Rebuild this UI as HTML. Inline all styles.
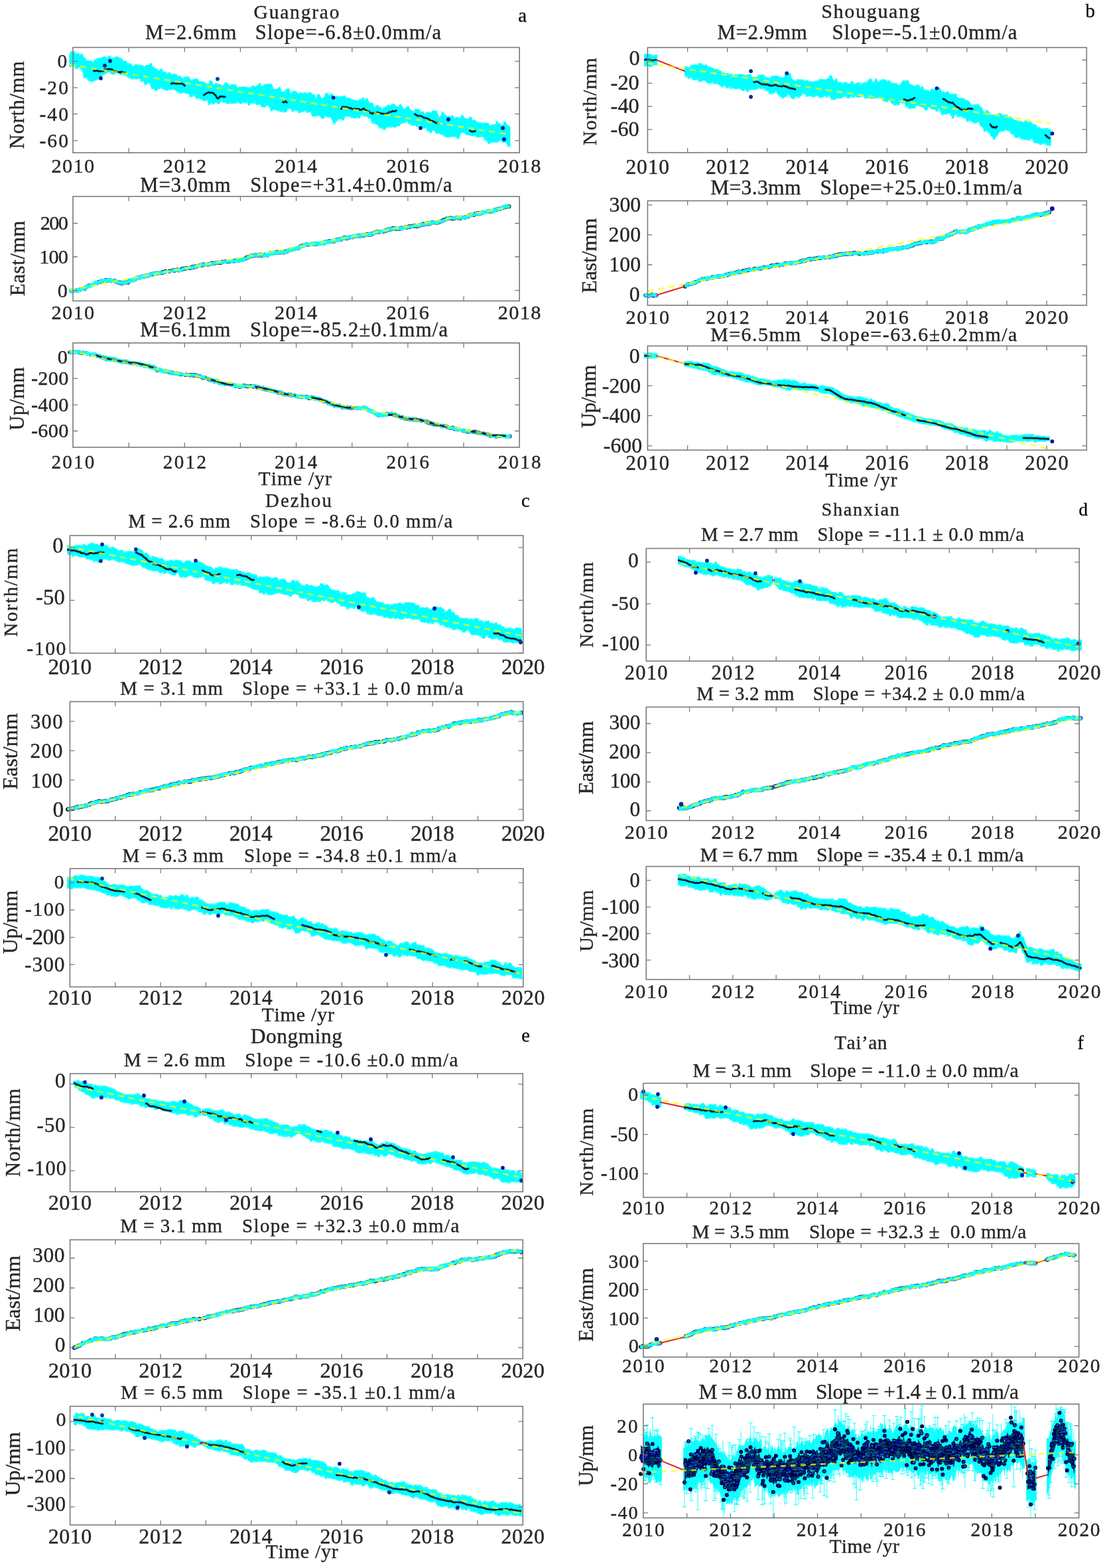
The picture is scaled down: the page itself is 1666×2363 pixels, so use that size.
<!DOCTYPE html><html><head><meta charset="utf-8"><title>GPS time series</title><style>html,body{margin:0;padding:0;background:#fff;width:1666px;height:2363px;overflow:hidden}</style></head><body><svg xmlns="http://www.w3.org/2000/svg" width="1666" height="2363" viewBox="0 0 1666 2363" style="display:block;font-family:'Liberation Serif',serif;font-kerning:none"><path d="M104.4 81.5l2-2.8 2-.9 2 0 2 .2 2 2.9 2-.7 2 0 2 2.5 2-1.4 2 0 2 5.1 2 0 2 4.4 2 .1 2 0 2 .9 2 0 2 2.3 2-4.3 2 0 2-2 2 0 2-.2 2-.6 2-.7 2-1.4 2 0 2 2.3 2-1 2-1.9 2 0 2 2.9 2-.4 2 0 2-1.2 2-.2 2 0 2 1.5 2 .4 2 1.4 2 3.6 2-.8 2 0 2 4.1 2-.3 2 0 2 1.7 2 2.9 2-1.6 2-1.3 2 0 2 .7 2 0 2 .3 2 0 2 2.1 2 0 2-2.2 2 0 2 .2 2-2.5 2 0 2 5.1 2 0 2 2.8 2 0 2 2.6 2 0 2-2.4 2 0 2 5.3 2-.8 2 0 2 3.2 2-2.1 2 0 2 3.8 2-1.6 2-.2 2 0 2 .8 2 2.1 2 .4 2 0 2 2.7 2 .5 2-1.8 2 0 2-.5 2 0 2 3.3 2 1.6 2-.6 2 0 2-1.2 2 0 2 .7 2 3.2 2 0 2 0 2 1.1 2 0 2 1.9 2 .4 2 1.4 2-6.2 2 0 2 2.3 2 4.8 2-2.4 2 0 2 .7 2 0 2 .8 2 1.4 2 0 2-2.1 2-2 2 0 2 2.8 2 1.3 2-1.5 2 0 2 .2 2 0 2 1.4 2 3.8 2-1.6 2-.3 2 0 2-.3 2 0 2 .5 2 .7 2 0 2 .2 2-.9 2-2.1 2 0 2 1.9 2-2.1 2 0 2-3.1 2 0 2 4.4 2 0 2-2.3 2-1.4 2 0 2 .3 2-.6 2 0 2 1.9 2 6.3 2 0 2 .1 2-.9 2-2.2 2 0 2 6.7 2 .2 2 .1 2-3.6 2 0 2-.7 2 0 2 6.9 2-1.9 2-2.1 2 0 2 1.1 2 1.6 2 1.5 2-1.3 2 0 2 1.6 2-2 2 0 2 1.1 2 0 2-1.4 2 0 2 2.1 2 1.4 2 0 2 6.6 2-6.8 2 0 2 .5 2 4.9 2 .4 2-1.7 2-4.8 2-.9 2 0 2 3.6 2-3.1 2 0 2 2.3 2 6.5 2-5.2 2 0 2 .8 2-.2 2 0 2-.2 2-1.1 2 0 2 3.2 2 0 2 .7 2 0 2 1.9 2 .4 2 .5 2 0 2 .6 2 .2 2-2.3 2 0 2-2 2 0 2 5 2-3.8 2 0 2 5.2 2 1.2 2 0 2 .8 2 5.9 2-1.4 2-1.4 2 0 2 2.3 2 0 2 3.5 2-3.2 2 0 2-1.1 2-2.5 2 0 2 2 2-2.4 2-.8 2 0 2 2.5 2 1.7 2 .1 2-3.8 2 0 2 2.9 2 3.7 2 0 2-1.9 2-1.3 2 0 2 4 2 2.1 2 .2 2 .9 2-3 2 0 2 .3 2 0 2 2.7 2 .6 2 0 2 3.6 2-2.5 2-.6 2 0 2 .9 2 0 2-3.2 2 0 2 .4 2 0 2 5.5 2 4.1 2-1.6 2-6.1 2 0 2 4.2 2 0 2 2.7 2-.1 2 0 2-1.4 2 0 2 1.8 2 2.4 2-1.8 2 0 2 1.5 2-2.1 2-2.2 2 0 2 3.8 2 1.2 2 0 2 0 2-2.7 2 0 2 4.9 2 .2 2 0 2 1.6 2 1.5 2 0 2 .1 2 1.2 2 0 2-.3 2 0 2 0 2 0 2 3.4 2 0 2-1 2 0 2 .1 2-4.8 2 0 2 3.2 2 0 2 2.8 2-1.5 2-3.8 2 0 2 5.1 2 0 2 1.3 1 1.8 0 29.6-1 0-2 0-2-3-2-3.8-2 .7-2 0-2-2.6-2-1.3-2 1.7-2 1.5-2 0-2-.3-2 .5-2 0-2-.1-2 2.2-2 0-2-3.1-2-2.9-2 0-2-4.4-2 0-2 0-2 .5-2 0-2-.7-2-1.7-2 0-2 .7-2 0-2-1.4-2 0-2-.4-2 0-2-3-2-.3-2-.2-2 1.5-2 7.6-2 0-2-1.7-2-1.7-2 .6-2 0-2-.9-2 1.3-2 .5-2 0-2-1.3-2 0-2-2.2-2-.6-2-1.1-2-.9-2 .6-2 0-2-1.6-2-3.4-2 0-2 3.7-2 0-2-2.6-2 0-2-4.6-2 .4-2 0-2-.6-2-3.1-2-2-2 3.8-2 0-2-2.9-2 .4-2 .1-2 0-2-2.3-2 0-2-3.7-2 0-2 2-2 0-2 1.1-2 0-2 3.8-2 .1-2 0-2 2.2-2 0-2-1.4-2 .9-2 0-2-.6-2 .9-2 0-2 3.4-2 0-2-1.8-2-.8-2 0-2-2.7-2-2.7-2-.7-2-1-2 0-2-1.2-2-6-2 0-2-2.4-2-.6-2-.6-2 0-2-1.8-2 .3-2 4.8-2 0-2-1.5-2 1.3-2 0-2-.6-2 0-2-1.1-2-.5-2-.6-2 0-2 .8-2 4.9-2 0-2-1.7-2 0-2 0-2 2.9-2 2.2-2 2.1-2 0-2-6.2-2-3.6-2 0-2-.3-2-1-2 0-2 3.2-2 0-2-1.1-2-2.7-2 0-2-.5-2 .9-2 0-2 .2-2 0-2-6.2-2-.1-2 .2-2 0-2-2-2 .6-2 1-2 0-2 1-2 0-2-2.9-2-.4-2-.7-2 2-2 0-2-4.3-2 .3-2 0-2 4.4-2 .6-2 0-2-.8-2 .1-2 0-2-.8-2-.9-2-.3-2-.8-2-1.2-2 2.8-2 0-2-5.6-2-2-2-.8-2 2.6-2 0-2-.4-2 0-2-3.3-2 0-2 .2-2 0-2-2.7-2 1-2 0-2-.7-2 3.4-2 0-2-4.7-2 .9-2 0-2-1.2-2 2.6-2 0-2-1.8-2 0-2 .8-2 .5-2 0-2 .3-2 0-2-.8-2 1.4-2 0-2-2.3-2 .2-2 0-2-3.4-2 2.6-2 2.8-2 0-2-2-2 .2-2 2.4-2 0-2-2.1-2 2.6-2 0-2-6.5-2 0-2 .8-2 0-2-2.5-2 0-2-2.2-2 1.5-2 0-2-2.9-2-1.9-2 1.3-2 .8-2 0-2-4.9-2 0-2-1.2-2 0-2-1.2-2 1.9-2 0-2-1.4-2 0-2-1.5-2-1.9-2 0-2-1.8-2 .9-2 0-2-.5-2 2-2 0-2-1.7-2 0-2-1.5-2-1.1-2 1.9-2 0-2 2.7-2 0-2-2.6-2-.2-2 0-2-6.4-2-3.6-2 1.5-2 2.4-2 0-2-5.2-2 .1-2 0-2-3.9-2 0-2 .4-2 0-2-1.4-2 1.2-2 0-2-1.3-2-.6-2-1.4-2-1.4-2-.9-2-1.1-2-.8-2 .8-2 0-2-4.4-2 2.1-2 0-2 1.6-2 .3-2 0-2-2.1-2-1-2 0-2 1.7-2 1-2 .8-2 1.7-2 3.3-2 0-2 2-2 1.1-2 .8-2 0-2 1.6-2 0-2-.2-2 0-2-3.3-2-2.2-2 0-2 0-2-9-2-3.9-2-3.3-2 1-2 1.6-2 0-2-3.4-2-.4-2 .8-2 0-2-.7z" fill="#00ffff"/>
<path d="M102.9 81.5h5m-5 18.6h5m-3-21.4h5m-5 22.1h5m-4-23h5m-5 22.2h5m-2-22h5m-2 25.8h5m-2-23.6h5m-2 2.8h5m-5 18.2h5m-3-19.9h5m-5 22.4h5m-4 .8h5m-1 12.9h5m-3 0h5m-2 2.2h5m-1-27.8h5m-2 2.3h5m-5 29h5m-2-1.6h5m-4-31.7h5m-3 .8h5m-4 29h5m-4-31.8h5m-2 29.7h5m0-4.9h5m2-26.4h5m-3-1.6h5m-4-.3h5m-5 24.1h5m1 3.5h5m-1-26.3h5m-5 24.7h5m-4-24.9h5m-4 .8h5m-4 21.2h5m-2 5.2h5m-4-.8h5m-1 .8h5m-3 .8h5m-1-16.8h5m-5 19.4h5m-2-20.7h5m-5 22.1h5m-4 .6h5m-2 1.3h5m-2-21h5m-3-1.3h5m-5 22.5h5m0-21.8h5m-1 .3h5m-5 25h5m-4-.5h5m-1 5.6h5m-4-24h5m2 22.9h5m-4-31.4h5m-1 5.1h5m-1 2.8h5m-1 2.6h5m-2-2.4h5m-5 28.7h5m-3 1.1h5m-3-24.5h5m-5 26h5m-3-26.8h5m-2 3.2h5m-2-2.1h5m-4 .3h5m-4 25.6h5m-1-23.7h5m-2 .9h5m0 2.6h5m-4 24.5h5m-2 1.4h5m-1-22.4h5m-5 20.5h5m-3-23h5m-5 24.2h5m-2-21.2h5m-4 21.8h5m-4-25.3h5m-5 25.9h5m-2 4.9h5m-4-1.1h5m-4-24h5m-5 24.3h5m-4-24.9h5m-5 24.2h5m-3-25h5m-4 24.3h5m-4-1h5m-3-24.5h5m-4 .7h5m-4 29.7h5m0 .7h5m0-26.1h5m-5 28.6h5m-2-26.3h5m-5 25.5h5m-4-.9h5m-4 0h5m-2 7.4h5m-2-3h5m2-29.1h5m-5 29h5m-2-28.3h5m-4 30.3h5m-3-29.5h5m-2 2.3h5m-5 20.9h5m-3-21.2h5m-5 25.5h5m-3-.8h5m-4 .6h5m-4-30h5m1 5.2h5m-5 24.9h5m-4 .8h5m-4 .8h5m-1-28.9h5m-5 28.6h5m-3-.5h5m-4-26.7h5m-5 26.6h5m-2-1.8h5m-4 1.1h5m-3-23.7h5m-4 25.5h5m-2-25.8h5m-1 .2h5m-5 24.2h5m-3-.9h5m-4-22.6h5m-1 1.3h5m-3 22.6h5m-4-24.6h5m-1 22h5m3-27.4h5m-2 4.4h5m-5 31.1h5m-2-27.6h5m-4 28h5m-4-33.8h5m-3 31.2h5m-2-32.3h5m-3 35.1h5m-4-34.6h5m-3 40.2h5m-1-33.1h5m-4 31.5h5m0 1.1h5m-4 .6h5m-2 1.1h5m-3-30.4h5m-5 30.3h5m-4-.7h5m-3-29.5h5m-5 31h5m1-35.3h5m-5 30h5m-4 .3h5m-3.9-.8h5m-4 .5h5m-4-23.1h5m-4 0h5m-3 27.4h5m-3-30.7h5m-3 28.7h5m-4 .7h5m-2 .4h5m-3-25.2h5m-5 28.1h5m-3-30.5h5m-2 28.5h5m-2-28.9h5m-4 27.7h5m-3-26.6h5m-5 29.2h5m-4-28.7h5m0 28.1h5m-1-26.5h5m-3 33h5m-3-25.2h5m-3-8h5m-5 32.3h5m-3-31.8h5m-5 31.9h5m-1-26.4h5m-5 29.5h5m-3 1.1h5m-1-4.1h5m-4-33.2h5m-5 34.1h5m-4-35h5m-3 35.8h5m-3 .5h5m-2-35.8h5m-1 45.6h5m-4-36.1h5m-2-5.9h5m-5 36.6h5m-3-35.8h5m-2-.2h5m-5 34.2h5m-1 1.7h5m-1-5.8h5m-4-27.1h5m0-.4h5m-5 27.8h5m-2 .9h5m-3-26.4h5m-5 27.5h5m-2 .6h5m4-29.1h5m-4 .9h5m-5 23.3h5m-2-26.2h5m-5 24h5m-3 4h5m-4-.7h5m-3-26.1h5m-1 30.4h5m-1-23.2h5m-4 29.2h5m-4 1.2h5m-4-1h5m-4-22.9h5m-3 24.9h5m-3-27.4h5m-4-.9h5m-2 2.3h5m-5 32.1h5m-4-.9h5m-4 .8h5m-3-28.2h5m-5 29.1h5m-2-32.6h5m-5 34.4h5m3-4.3h5m-4 .6h5m-3-.9h5m-4-33.8h5m-5 33.1h5m-4-33.9h5m-5 33.8h5m4-29.5h5m-3 22.7h5m1-19.9h5m-5 21.7h5m-2-2.3h5m-2-22.6h5m-3 26.6h5m-1 2.3h5m-3-.1h5m-4-20.9h5m-4 19.8h5m-4-23.5h5m-1 .3h5m-3 22.9h5m-4-19.4h5m-4 .3h5m-5 21.2h5m-2-21.7h5m-5 24.8h5m-1-20.8h5m-4 20.6h5m-4-23.5h5m-5 23.9h5m-3-24.5h5m-5 29.1h5m-4-28.1h5m-2-.1h5m3-2.3h5m-3 33.2h5m-4 .6h5m-4-24.7h5m-1 25.6h5m-4-33.3h5m-5 34.4h5m-4-.5h5m-4 1.1h5m-3 2.2h5m-1-30.3h5m-4 .4h5m-4 30.6h5m-4-31.1h5m-5 31.2h5m0-.4h5m-1-28h5m-3-1.8h5m-5 30.9h5m-3 1.7h5m-4-27.2h5m-3-3.9h5m-2-4.3h5m-5 26h5m-4 .3h5m-4-.3h5m-4-22.2h5m-5 22.7h5m1-19.2h5m-4 22.3h5m-4 .6h5m-4-27.9h5m2 5.1h5m-5 23.5h5m-1 1.7h5m-4-22.1h5m-3 .8h5m-4-.7h5m-3 20.5h5m-3-19.3h5m-5 21h5m-4-20.6h5m-3-.7h5m-5 25.7h5m-3-.7h5m1-21.6h5m-3 25.1h5m-3 1.1h5m-3-.5h5m-3-26.6h5m-5 26.6h5m-3-31.4h5m-5 31.7h5m-1-28h5m-4-.5h5m-3 25.3h5m-2 3.9h5m-3-31.7h5m-5 31h5m-3-.6h5m-1 6.2h5" stroke="#40ffff" stroke-width="1.1" fill="none" opacity="0.8"/>
<path d="M141.4 107l2-.1 2-.5 2 .5 2 .7 2-.2 2-.3 2-.1 2-2.6 2 .2 2 .1 2-.9 2 .6 2 0 2 .5 2 2.9 2-.5 2 .5 2 1 2-.5 2 1.2M182.4 108.2l2 0 2 1.7 2-.7M258.4 126.3l2-1.2 2 .6 2 .1 2 .3 2-.8 2 .8 2 .1 2-.2 2 1 2 2.2M307.4 143.2l2-1.2 2-1.5 2-.7 2-.7 2 .7 2 .1 2 0 2 2.4 2 1.8 2 3.9 2 .3 2-2.8 2 .1 2-.4 2 .8 2-.1M426.4 153.9l2 .4 2-1.8 2 1.9M514.5 164.3l2-3.3 2 .2 2 .5 2-.4 2 1 2 .6 2-.2 2 1.3 2 .8 2-1 2 .5 2-.2M540.5 164.2l2 1.3 2 .2 2-1.4 2-.9 2 2.4 2 .5M553.5 168.2l2-.8 2 1.9 2 1.1 2 1 2-1.4 2 .6 2-.9 2-.3 2 .9 2 .4 2 .5 2 0 2 .7 2-.6 2-.1 2-1.3 2-1.1 2 0 2-1.3 2 .1 2 .3 2-1.3M625.5 171.9l2 1.4 2 1.1 2 .2 2 .1 2 .1 2 1.7 2 1 2 .4 2 .5 2 .4 2 1.8 2 1.2 2 .5 2 .8 2 .9 2 1.6 2-.7 2 1M708.5 196.9l2 1.2 2 .4 2-.5 2-.3" stroke="#050a20" stroke-width="2.8" stroke-linecap="round" stroke-linejoin="round" fill="none" opacity="0.9"/>
<circle cx="166" cy="92" r="2.9" fill="#0a2090"/>
<circle cx="158" cy="99" r="2.9" fill="#0a2090"/>
<circle cx="152" cy="118" r="2.9" fill="#0a2090"/>
<circle cx="328" cy="119" r="2.9" fill="#0a3ab0"/>
<circle cx="502.7" cy="147.1" r="2.9" fill="#0a2090"/>
<circle cx="634" cy="193" r="2.9" fill="#0a2090"/>
<circle cx="758" cy="193" r="2.9" fill="#0a2090"/>
<circle cx="760" cy="210" r="2.9" fill="#0a2090"/>
<circle cx="676" cy="180" r="2.9" fill="#0a2090"/>
<path d="M105.4 97.4L767 202.5" stroke="#ffff00" stroke-width="2.7" stroke-dasharray="9 7" opacity="0.72" fill="none"/>
<path d="M107.4 438.2h0m1 .6h0m1-.2h0m1-.6h0m6-.4h0m1 0h0m3-.9h0m4-1.7h0m1 0h0m2 .2h0m2-2.1h0m17-6.9h0m1-.7h0m1-.4h0m3-.7h0m3-1.2h0m5-1.1h0m1 .6h0m1 0h0m1-.3h0m2-.1h0m2 .1h0m6 .8h0m1 .3h0m3 1.6h0m1-.2h0m2 .8h0m3 1h0m2 .4h0m3-1.3h0m1-.4h0m1-.3h0m2 .3h0m2 .2h0m2-2.5h0m5-.9h0m2-1.4h0m2-.7h0m4-2.2h0m3 .1h0m2-.9h0m2 0h0m1-.3h0m5-.8h0m8-2.7h0m1-.5h0m1-.3h0m5-.7h0m6-.6h0m1-.4h0m1 .2h0m1-.6h0m3-.9h0m1-.7h0m6 0h0m5-1.1h0m3-.1h0m4-.9h0m2 .6h0m4-1.2h0m1-.6h0m2-.8h0m2 .2h0m1-.1h0m1-.8h0m3-.2h0m3 .1h0m1-.3h0m1-.1h0m1-.8h0m1-.6h0m2 .5h0m1-.7h0m1-.2h0m2-.1h0m6-1.7h0m1-.4h0m1 .3h0m2-1.3h0m1 .2h0m6 0h0m1-.3h0m1-.3h0m2-.6h0m2-.7h0m1 .3h0m3-.5h0m1-.3h0m3-.4h0m2-.1h0m2 .2h0m1 .1h0m2-1.2h0m1-.1h0m11-.8h0m7-1h0m1-.4h0m3 .5h0m1-.5h0m2-.3h0m1-.6h0m1 .2h0m1 0h0m1-.3h0m1 .2h0m1-.8h0m3-1.5h0m1-.1h0m1-.7h0m1-.8h0m2-.3h0m2-.6h0m3-1.7h0m1 0h0m1 .1h0m1 .1h0m1-.5h0m1-.1h0m2-.5h0m3 0h0m2-.2h0m2-.5h0m1 1.4h0m1-.7h0m1 0h0m1-.1h0m1 .6h0m1-1h0m3 .2h0m1 .3h0m5-3.2h0m2 .8h0m1 0h0m2-1.1h0m1 .2h0m1-.1h0m1-.4h0m1-.7h0m2 .1h0m1 .4h0m2 0h0m2-.2h0m1 0h0m1 .3h0m1-.1h0m3-1.4h0m3-.7h0m3-1.8h0m3.1-.2h0m10-2.2h0m1-.7h0m3-2.3h0m1-.2h0m1-.3h0m2-.6h0m4-1.4h0m1-.1h0m2 .4h0m8-1.1h0m2-.2h0m3-.3h0m1 0h0m9-.5h0m1 .2h0m1-1.4h0m1-.7h0m4-.4h0m1-.6h0m2-.3h0m1-.6h0m1 .1h0m2 .3h0m2 .3h0m4-2.3h0m2-.2h0m3-.7h0m1-.4h0m1 .6h0m4-2.5h0m1-.3h0m1 .3h0m2 1h0m1-.3h0m3-1.2h0m4-.8h0m3-.4h0m4-1h0m1-.3h0m4 .5h0m1-.6h0m3-.5h0m2 .2h0m2-.5h0m3-1.3h0m1 .4h0m1 .3h0m2-.3h0m1 0h0m2-1h0m8-3h0m2 .2h0m1 0h0m2-.4h0m5-.4h0m1-.7h0m1-.3h0m1 0h0m2-1.2h0m2-.6h0m1-.6h0m5-.9h0m1-.6h0m3 .1h0m1 .5h0m3 .5h0m1-.2h0m1 .1h0m4-1.4h0m1 .2h0m5-1.4h0m2 .4h0m1-.4h0m2-.9h0m1 0h0m4-.5h0m2-.2h0m1-.1h0m1-.5h0m2 .5h0m3-.1h0m3-1.3h0m1-.1h0m3-1h0m1-.4h0m1 .4h0m5-1.7h0m1 1h0m3-.6h0m1-.9h0m1-.2h0m6-.3h0m1-.5h0m2 .5h0m2-.5h0m5-1.7h0m1-.5h0m2-1.2h0m1-.4h0m3-1.5h0m6-1.1h0m1 .4h0m2 .5h0m1-.2h0m5-1h0m1-.4h0m2 .6h0m1 0h0m2 .4h0m2-1h0m4-.2h0m2-.5h0m2-.3h0m1-.2h0m1-1.2h0m2-1h0m2-.6h0m4 0h0m1-.7h0m1-1.1h0m3-.6h0m1 .2h0m1-.2h0m2 .9h0m1-.7h0m2-.5h0m1-.9h0m9-2.1h0m1 .2h0m1 .2h0m2 0h0m1-.4h0m1 .1h0m4-2h0m1-.1h0m2-.6h0m3-.5h0m1 0h0m2-1.1h0m3-.8h0m3-1.3h0m2-.2h0m3-.6h0m1 .1h0" stroke="#0a0a30" stroke-width="6.2" stroke-linecap="round" fill="none"/>
<path d="M114.4 437.5h0m1 .1h0m17-6.3h0m2-.9h0m10-4.4h0m24-2.7h0m10 2h0m2 .7h0m1-.3h0m15-3.2h0m7-1.8h0m7-2.2h0m4-1.8h0m3-.3h0m2-.7h0m3 .1h0m1-.5h0m3-1.3h0m1-.4h0m6-1.8h0m2 .1h0m3-.4h0m23-4h0m1-.3h0m4-.3h0m2-.4h0m7-1h0m7-1.6h0m9-1.7h0m4-.6h0m6-1.6h0m24-4.2h0m15-1.6h0m2-.1h0m5-.3h0m5-.3h0m25-7.2h0m13-1.7h0m2-.9h0m14-1.5h0m22-2.1h0m4-1.7h0m6.1-2.1h0m3-1h0m7-1.2h0m27-6.7h0m4-.4h0m7-1.2h0m6-1.7h0m4-.5h0m15-3.2h0m16-2.9h0m4-.2h0m10-1.8h0m18-2.2h0m2-1.1h0m4-2h0m17-3h0m2-.9h0m5-.8h0m9-.5h0m5-.6h0m15-2.4h0m10-.9h0m4-1.6h0m8-1.6h0m6-1h0m6-1.8h0m10-.9h0m6-2.4h0m9-2.9h0m8 .1h0m16-1.4h0m42-9.5h0m5-2.2h0m6-1.8h0" stroke="#0a2a9a" stroke-width="6.2" stroke-linecap="round" fill="none"/>
<path d="M104.4 435.3l2 0 2 .4 2-.1 2-.2 2-.1 2-.2 2-.6 2 0 2-1.5 2-.6 2 0 2-2.1 2-1.2 2-.6 2-.4 2 0 2-1.8 2-.8 2-.8 2-1.4 2 0 2-.5 2-1 2-.5 2-.7 2-.4 2 0 2 0 2-.4 2 0 2 0 2 .1 2 .7 2 0 2 .2 2 1.1 2 .6 2 .8 2 .3 2 .6 2-.5 2-1 2 0 2 0 2-2.3 2-.4 2-.2 2-.8 2-.8 2-1.1 2-1.6 2 0 2 .1 2-.6 2-.6 2-.5 2-.8 2 0 2 .1 2-1.1 2-.7 2-.3 2-.7 2-.7 2-.1 2 0 2-.4 2-.3 2 0 2-.2 2-.6 2-1 2 0 2 0 2 0 2 0 2-.4 2-.7 2-.7 2 0 2-.8 2 0 2 .3 2-.4 2-1 2-.8 2 0 2-.9 2 0 2 0 2-.2 2-1 2-.4 2-.4 2-.1 2-.7 2 0 2-.9 2-.4 2-.3 2-.5 2 0 2-.4 2 0 2-.1 2-.7 2-.4 2-.2 2 0 2-1.1 2 0 2 0 2-.3 2 0 2-.6 2 0 2-.7 2-.1 2-.5 2 0 2 .1 2-.3 2-.3 2-.2 2-.8 2 0 2-.2 2-.6 2 0 2-.2 2-.7 2-1.5 2-.2 2-1 2 0 2-1.9 2-.8 2 0 2 0 2-1 2-.3 2-.3 2 0 2-.1 2 0 2 .1 2 0 2-.4 2 0 2-1.4 2-.3 2-.8 2 0 2-.1 2-.1 2-.5 2-.3 2 0 2 .1 2 0 2 .3 2-.3 2-1.2 2-.8 2-1.7 2 0 2-.4 2-1 2 0 2 .1 2-1.1 2 0 2-1.5 2-1.2 2-.6 2-.4 2-1.6 2-.1 2-.1 2 0 2-.1 2-1.4 2 0 2 .1 2 0 2-.6 2 0 2-.2 2-.5 2-.4 2 0 2 .3 2-1.2 2-.7 2 0 2 0 2-1.1 2 0 2 .2 2-.1 2-1 2-.7 2-.5 2-.6 2 0 2-1.4 2-.4 2-.1 2 0 2-.5 2 0 2-.8 2 0 2-.8 2 0 2-.5 2-.5 2 0 2 .4 2-.8 2-.3 2-.4 2 0 2-.8 2 0 2 .4 2-.3 2-.7 2-.8 2-1.2 2-.3 2-.9 2 0 2 0 2-.4 2-.1 2-.6 2 0 2-1.6 2 0 2-.9 2-.1 2-.9 2-.5 2-.2 2 0 2 .8 2 .3 2-.4 2-1 2 0 2 .2 2-1.4 2 0 2 .1 2-.3 2 0 2-.9 2-.4 2-.7 2 0 2 .2 2-.3 2-.7 2-.2 2-.9 2 0 2-.4 2-.8 2-.6 2 0 2-.6 2-1 2-.1 2 0 2-.2 2 0 2 0 2-.5 2-.2 2-.7 2-1.2 2-.2 2-2.1 2-.3 2 0 2-.3 2 0 2 .3 2-.4 2-.5 2-.7 2 0 2 .4 2 .2 2-.3 2-.5 2-.1 2-.4 2-.2 2-2.1 2-.4 2-.4 2 0 2-1 2-.9 2-.3 2-.3 2 0 2 .2 2-1.6 2-.4 2-.3 2-.6 2-.7 2 0 2 0 2-.4 2-.1 2-1.1 2-.7 2-.5 2 0 2-.6 2-1.1 2-.5 2-1.3 2-.2 2 0 2-.3 2-.2 2 0 1 .5 0 3.6-1 .3-2 .4-2 .1-2 .5-2 .8-2 .8-2 .6-2 1.2-2 .5-2 .5-2 0-2 1.3-2 1.1-2 .1-2 0-2-.4-2 .6-2 .5-2 .5-2 .2-2 1.1-2 0-2 1-2 0-2-.6-2 .2-2 1.4-2 .2-2 .1-2 .6-2 1.1-2 1.3-2 .6-2 .5-2 .3-2 0-2 .6-2 0-2-.4-2-.1-2 0-2 .8-2 .2-2 0-2-.7-2 0-2 .8-2 1.5-2 .5-2 .1-2 1.7-2 .3-2 .4-2 1.4-2 .5-2 0-2-.2-2 0-2 .3-2 .5-2 .8-2 0-2 0-2 .2-2 .4-2 .3-2 .5-2 .6-2 .7-2 1.1-2 0-2-.4-2 .1-2 .7-2 .3-2 0-2 .6-2 .2-2 0-2 1.4-2 0-2 .7-2 0-2 0-2 .6-2 0-2-.8-2-.1-2 .4-2 .9-2 0-2 .5-2 1.3-2 .2-2 1-2 0-2 .4-2 .5-2 .5-2 0-2 .2-2 1.1-2 .3-2 .8-2 1.4-2 0-2-.3-2 0-2 1.3-2 .3-2 0-2-.1-2 .7-2 .5-2 0-2-.4-2 .5-2 .5-2 .4-2 .4-2 .1-2 .5-2 1.2-2 0-2-.8-2 1.5-2 .5-2 .2-2 0-2 1.1-2 .4-2 1-2 .9-2 0-2-.6-2 .1-2 1.6-2 0-2 0-2 2.2-2 0-2-.4-2 .2-2 1-2 0-2-.4-2 .1-2 0-2 .5-2 0-2-.3-2 1.3-2 0-2-.2-2 .6-2 .6-2 .6-2 1.1-2 1.7-2 .7-2 0-2 1-2 .5-2 .4-2 .5-2 0-2 .3-2 1.5-2 .3-2 1-2 .6-2 0-2-.1-2 0-2 .1-2 0-2 .8-2 1-2 0-2 0-2 .2-2 1.3-2 .7-2 .1-2 .7-2 0-2-.5-2 0-2-.7-2 .3-2 0-2 .5-2 .5-2 0-2-.1-2 1.6-2 .4-2 .7-2 .9-2 1.2-2 1.1-2 .9-2 0-2 .5-2 .4-2 .2-2 0-2-.3-2 0-2 1.5-2 0-2-.7-2 .2-2 0-2 .9-2 0-2-.1-2 .9-2 0-2-.1-2 .2-2 0-2 .8-2 .4-2 0-2 .6-2 .6-2 .4-2 0-2-.2-2 0-2 1-2 0-2 .5-2 .8-2 .8-2 0-2 .8-2 0-2 1.2-2 .2-2 0-2-.1-2 .7-2 .6-2 0-2 .5-2 1.1-2 1-2 0-2-.4-2 .1-2 0-2-.2-2 1.5-2 0-2 0-2 .2-2 .1-2 .1-2 .5-2 .9-2 .9-2 0-2 .4-2 0-2 1.1-2 0-2 .4-2 .3-2 .4-2 .8-2 1.4-2 .1-2 .3-2 .2-2 1-2 .1-2 1-2 0-2-.4-2 1.6-2 1.1-2 1.6-2 0-2-.2-2 2.1-2 .7-2 0-2 .1-2 .4-2 1.5-2 0-2-.2-2-.7-2-.8-2-.3-2 0-2-1.5-2 0-2-.2-2-.4-2-.4-2 .3-2 0-2-.8-2 .6-2 1.5-2 .4-2 .2-2 1.6-2 0-2 1.5-2 .7-2 1.3-2 1.4-2 0-2 .2-2 .6-2 1.7-2 1.2-2 .2-2 .8-2 1-2 .5-2 .3-2 0-2 .7-2 0-2 .7-2 0-2-1-2-.1z" fill="#00ffff"/>
<path d="M104.9 435.9h5m-4 5.6h5m-4-5.5h5m-5 5.3h5m-4-.9h5m-4 .2h5m-1-5.3h5m-5 4.6h5m-4-.1h5m-4-4.7h5m-5 5h5m-4-5.6h5m-4 4.6h5m0-1.6h5m-4-4.6h5m-4 4.3h5m1-3.6h5m2-7.3h5m-5 5.1h5m-2-6.1h5m-3-1.4h5m-2-.4h5m1-2.2h5m-3-.7h5m-4-.2h5m-3 3.9h5m-4-3.9h5m-5 3.4h5m-2 .8h5m-3-4.8h5m-5 5h5m-4-4.8h5m-2 .9h5m-5 4.8h5m-1-.1h5m-4-3.9h5m-3 .7h5m-2 .9h5m-5 4.1h5m-1-3.2h5m-2 4.3h5m-2-5.2h5m-4-.6h5m-5 4.7h5m-4-.5h5m0-6.5h5m-1-.6h5m-5 4.6h5m-3-5.4h5m-3 4.2h5m-2-7.7h5m-4 .6h5m-2 4.8h5m-4-5.3h5m-4 4.3h5m-4-4.9h5m-5 4.2h5m-4-4.7h5m-5 4.4h5m-3-4h5m-4 3.9h5m-4-5.3h5m-3 .7h5m-5 3.7h5m-4-4.3h5m-5 4.7h5m-4-4.9h5m-5 4.8h5m-4-5h5m-4-.5h5m-3-.7h5m-5 4h5m-1-5.6h5m-2-.7h5m-2 .4h5m-4-.1h5m-5 3.4h5m-3 .3h5m-4-4.8h5m-3 .2h5m-4 .2h5m-5 3.1h5m-4-2.9h5m-5 3h5m-4-.5h5m-4-.4h5m-4-.2h5m-4-.3h5m-4-.5h5m-3-3.3h5m-4 3.6h5m-2-.5h5m-4 .2h5m-2-.1h5m-4-4.3h5m-3-.9h5m-4 3.9h5m-4-3.5h5m-4-.3h5m-4-.5h5m-4 4h5m-4-4.1h5m-4 4.5h5m-3 .4h5m0-2.9h5m-4-3.8h5m-4 3.5h5m-3-.3h5m-4 .3h5m-4-1h5m-3-3.6h5m-4 3.7h5m-4-3.8h5m0-1.1h5m-5 3.1h5m-3 .2h5m-3-.4h5m-4-4.1h5m-3-.6h5m-4 .2h5m-4-.5h5m-4 3.5h5m-3-4.5h5m-5 3.7h5m-4-3.4h5m-4 2.9h5m-4-4h5m-2 3.8h5m-4-3.7h5m-3-.5h5m-4 4.4h5m-4-.4h5m-4-3.8h5m-4-.1h5m-4-.9h5m-4 .2h5m-5 3.3h5m-4-3.9h5m-4 4h5m-3-3.6h5m-4-.5h5m-3-1.2h5m-4 .7h5m-4 3.3h5m-3-.3h5m-4-4h5m-3 .8h5m-4-.3h5m-4-1.1h5m-5 3.8h5m-4-3.7h5m-4 .1h5m-5 3.1h5m-4 .7h5m1-5.3h5m-2 .3h5m-2-.5h5m-5 4.7h5m-1-1.3h5m-3-3.5h5m-4-.1h5m-5 3.7h5m-4 .5h5m-2-5.9h5m0 4.8h5m-4-5.9h5m3 .9h5m-4 .2h5m-4-.4h5m-4-5.3h5m-4-.4h5m-3-.2h5m-4-.2h5m-5 4.5h5m1-1.7h5m-3-3.8h5m-4 .6h5m-5 3.7h5m-4-4.3h5m-5 4.3h5m-3-5h5m-5 4.6h5m-3-3.7h5m-5 4.3h5m-2 1h5m-1-1.1h5m-4-4.6h5m-5 4.9h5m-1-7.4h5m-1 5.2h5m-4-5.5h5m-3-.3h5m-4-.4h5m-4 4.4h5m-3 0h5m-4-.4h5m-1 0h5m-3-3.9h5m-4 4.1h5m-4-4.6h5m0 2.5h5m-4-4.8h5m.1 3.4h5m-4-4.9h5m-4-.7h5m-5 5.1h5m-4-6h5m-3 5.6h5m-2-6.6h5m0 4.1h5m0-3.1h5m-3-.6h5m-3-5.8h5m-5 5h5m-4-4.5h5m-4-.2h5m-1-.5h5m-3 4h5m-3 .6h5m-3-.5h5m-1-6h5m-2 .1h5m-5 5.6h5m0-6.3h5m-4 5.7h5m-4-1.1h5m-4 1.1h5m-4 .4h5m-2-7.5h5m-3 4.9h5m-4 .4h5m-2-1.6h5m-2-5.3h5m-4 5.2h5m-4-4.7h5m-4 .7h5m-2-1.9h5m-3 4.2h5m-3-5.8h5m-4 4.2h5m-4-4.3h5m-5 4.8h5m-3-4.1h5m-5 3.9h5m-1-6.7h5m-3 4.7h5m-4-.1h5m0-5h5m-5 4.2h5m-4-.4h5m-3-4.9h5m-4 4.7h5m-3-5.6h5m-5 5.3h5m-4-.2h5m-2-5.3h5m-4-.3h5m-1 4.7h5m-4-4.2h5m-5 4.2h5m-2-5.6h5m-1 4.2h5m-4 0h5m-1-.8h5m-4-3.9h5m-4 .1h5m-5 3.8h5m-3-4.8h5m3-3h5m-1-.6h5m-4-.2h5m-4 .1h5m-4 4.3h5m-4-4.9h5m-4 .2h5m-5 4h5m-4-.4h5m-3-3.4h5m-4-1.1h5m-4 0h5m-5 3.9h5m-1-5.4h5m-3-1h5m-2-.1h5m-3 3.6h5m-2-1.3h5m-3-3.1h5m-3 .3h5m-3 .4h5m-4 .1h5m-5 3.5h5m-1-1h5m-3-3.9h5m-5 3.4h5m-3-.3h5m-3-4.8h5m-4 .6h5m-5 3.9h5m1-4.4h5m-4 3.5h5m-4-4h5m-4 3.1h5m-2-4.3h5m1 .5h5m-4 2.8h5m-4-3.8h5m-5 3h5m-3-.3h5m-4-3.8h5m-4-.6h5m-3 2.9h5m-4 .7h5m-2-4.9h5m-5 3.3h5m-4-3.5h5m-5 4.1h5m-4-4.7h5m-3 4.7h5m-3-.4h5m-2-.8h5m0-4.4h5m-3-.1h5m-5 3.9h5m3-1.8h5m-4-.8h5m-3-1.2h5m-3 .2h5m0-6.4h5m-4 3.6h5m-4 0h5m-3-3.6h5m-2 .1h5m-4-.5h5m-4 .4h5m-4-.2h5m-5 3.4h5m-2-.3h5m-4 0h5m-3-3.7h5m-5 4.2h5m-4 0h5m-3-4.3h5m-3-.3h5m-5 4.1h5m-4 .3h5m-2-5.1h5m-4-.4h5m-4 4.7h5m-2-6.3h5m-4 4h5m-4-.8h5m-4 .1h5m-4-.6h5m-4-3.9h5m-4-.1h5m-4 3.5h5m0-5.9h5m-5 3.8h5m-2-3.7h5m-5 3.6h5m-3 1.4h5m-4-1.2h5m-3-4.9h5m-4-.7h5m-5 4.8h5m-4-4.3h5m-5 4.2h5m-2-.2h5m0-6.5h5m0-.4h5m-3 .3h5m-5 4.8h5m-2-6.3h5m3-2.3h5m-4 4.5h5m-4-4.7h5m-5 3.7h5m-2-5.9h5m-4-.2h5m-1-.3h5" stroke="#40ffff" stroke-width="1.1" fill="none" opacity="0.8"/>
<path d="M105.4 437L767 312" stroke="#ffff00" stroke-width="2.7" stroke-dasharray="9 7" opacity="0.72" fill="none"/>
<path d="M105.4 531h0m1-.3h0m5 .1h0m8 .5h0m4 1h0m1-.2h0m1-.5h0m1 .3h0m4 .3h0m2 .8h0m4 .9h0m9 1.5h0m3 1.3h0m1 0h0m3 1.3h0m3 1h0m5 2.3h0m3-.6h0m6 1h0m1 .1h0m1-.3h0m1-.4h0m3 1.9h0m1 .1h0m4 .8h0m2 1h0m1 .2h0m2 0h0m1 .1h0m4 .1h0m6 1.7h0m6 0h0m4 1.5h0m7 1.6h0m1-.2h0m4 1.3h0m2-.2h0m1 0h0m1 .5h0m6 2.5h0m6 1.5h0m3 2.7h0m1-.1h0m1-.3h0m1-.3h0m1 .1h0m1 .5h0m5 1.3h0m2-.2h0m1 .4h0m5 1.4h0m3 .9h0m3 .4h0m4 .5h0m1 0h0m3 .8h0m10.1 1.3h0m1-.3h0m6 .8h0m1-.3h0m1 .2h0m2-.1h0m2 .6h0m1-.1h0m2-.3h0m1 .6h0m1 .2h0m3 .6h0m4 1.6h0m1 .4h0m1 .6h0m1 0h0m7 2h0m1 .9h0m1 .2h0m3 .5h0m4 1.7h0m2-.5h0m1-.1h0m3 1.7h0m8 2.1h0m2 .9h0m1 .3h0m1-.6h0m6 .9h0m1 0h0m1 .7h0m4 .6h0m5 .3h0m3 1.9h0m1-.5h0m4-1.2h0m2 .1h0m2 .7h0m3 .2h0m4-.3h0m1 .2h0m3 .6h0m2-.5h0m2 .3h0m1 .2h0m1 .5h0m2 .9h0m1 .1h0m4 1.2h0m1 .1h0m1-1h0m1 1.1h0m1 .6h0m2 .6h0m1-.2h0m1 .3h0m2 .7h0m4 1h0m1 .5h0m7 1.1h0m3 1.5h0m3-.5h0m3 1.2h0m3 1.8h0m2 .4h0m4 0h0m1-.6h0m2 .6h0m2 1.2h0m2 .1h0m3 .1h0m2 1.1h0m1 .2h0m3 .6h0m4 .3h0m3-.2h0m3 .2h0m1-.5h0m1 .8h0m2 .3h0m1 1.1h0m2 0h0m2-.5h0m1-.6h0m1 .7h0m2 .1h0m1 .8h0m1 .5h0m4 .2h0m2 .3h0m2 1.3h0m1 .1h0m4 2h0m1 0h0m1 .2h0m1 .2h0m4 2.9h0m3-.1h0m2 1.3h0m1 0h0m3 1.9h0m1 .1h0m7 .3h0m4 2.3h0m2 .3h0m1-.3h0m4-.1h0m1 0h0m1 .5h0m2 .3h0m2 0h0m1 .3h0m7 .2h0m6 0h0m1 .2h0m2-.6h0m1 0h0m2-.1h0m2 .5h0m1 .9h0m3 1.9h0m2 .8h0m2 .8h0m2 .8h0m5 2.7h0m1 .3h0m1 .7h0m4 1.1h0m2-.2h0m2 0h0m2 .3h0m1-.3h0m4-1.3h0m2 .3h0m1 .2h0m1 0h0m1-.2h0m2-.5h0m3 1.7h0m1 .3h0m1-.1h0m2 .8h0m3 .9h0m4.1 2.2h0m1-.4h0m1 1h0m1-.3h0m3 1.2h0m2 .1h0m2 .1h0m1 .4h0m1 0h0m1 .3h0m1 .2h0m3-.3h0m1 .4h0m1 .7h0m3-.1h0m1 0h0m1 .3h0m1 .4h0m6 .5h0m6 1h0m1 .2h0m2 .8h0m3 1.8h0m1 .3h0m1 .1h0m5 1.7h0m4 .3h0m9 2.7h0m1-.3h0m1-.3h0m4 1.2h0m3 1.3h0m1 .3h0m2 .1h0m1 0h0m2-.3h0m1 .4h0m2 1.4h0m2-.2h0m4 1.1h0m6 1.6h0m1 .3h0m1 .1h0m1 .2h0m3 .7h0m2 .4h0m1-.6h0m1 .3h0m1 .8h0m5-.4h0m1 .2h0m1-.4h0m3 .7h0m1 .9h0m1 0h0m1 .2h0m3 .8h0m5 .4h0m1 .4h0m2 .1h0m1 .2h0m1 .2h0m3 1.1h0m2 1.2h0m1 0h0m7 1h0m3-.5h0m1-.3h0m4 0h0m1-.2h0m4 .3h0m5 .8h0m1 .4h0m2-.7h0" stroke="#0a0a30" stroke-width="6" stroke-linecap="round" fill="none"/>
<path d="M110.4 530.5h0m3 0h0m5 0h0m22 4h0m3 .1h0m36 9.2h0m5 1.8h0m5-.2h0m3 .4h0m8 1.6h0m9 .6h0m2 1h0m12 2.4h0m31 9h0m5 1.2h0m5 1.4h0m7.1 .9h0m2 .3h0m11 .8h0m7 .3h0m3-.1h0m15 4h0m22 8.1h0m11 1.6h0m10 1.7h0m3 1.5h0m2-.7h0m3 .9h0m3-.3h0m25 2h0m17 3.2h0m8 2.5h0m8 1.4h0m15 3.6h0m6 1h0m13 2.6h0m3-.5h0m10 1.9h0m4 .3h0m13 3.5h0m29 9h0m25 2.5h0m31 10.4h0m1 0h0m6-.2h0m19 .4h0m37.1 7.7h0m12 3.7h0m6 1.5h0m5 1.3h0m10 2.5h0m8 1.4h0m16 3.5h0m45 7.7h0m9 1.9h0m5 .5h0m8-.5h0m1 .3h0" stroke="#0a2a9a" stroke-width="6" stroke-linecap="round" fill="none"/>
<path d="M104.4 528.9l2-.6 2 0 2 .2 2-.2 2 0 2-.2 2 0 2 .3 2 .5 2 .4 2 0 2 .2 2 0 2 .4 2 .5 2 .6 2 .4 2 0 2 .3 2 .2 2 .5 2 .8 2 .4 2 1 2 .5 2 .4 2 .5 2 0 2 1.6 2-.5 2 0 2 .8 2 0 2 .4 2 0 2 1.6 2 .4 2 .1 2 1.2 2 .7 2 .7 2-.1 2-.1 2 0 2 .7 2 .4 2 .3 2 0 2 .5 2 0 2 .4 2 .1 2 0 2 .5 2 2 2 0 2 0 2 .4 2 .2 2 0 2 0 2 1.4 2-.3 2 0 2 2.2 2 .7 2 2 2 .5 2 .3 2 .5 2 0 2 1 2 .7 2-.2 2 0 2 1.3 2 .8 2 0 2 .5 2 .8 2 0 2 .3 2 .9 2 .3 2 0 2 .1 2 0 2 .3 2 0 2 .3 2 .3 2 .4 2-.2 2 0 2 0 2 0 2 .9 2 .8 2 .1 2 1.1 2 .4 2 .4 2 0 2 1.3 2 0 2 .7 2 .7 2 0 2 .6 2 1.2 2 0 2 .7 2 1.2 2 1.6 2 .8 2-.3 2 0 2 .1 2 .6 2 .3 2 .1 2 .4 2 0 2 1.3 2 .4 2-.3 2 0 2 .8 2 .9 2-.6 2-.2 2 0 2 .3 2 .8 2-.3 2-.2 2 0 2 .2 2 0 2 0 2 .3 2 .6 2 1.4 2 0 2 1 2-.8 2 0 2 1.4 2 .4 2 0 2 .7 2 0 2 1.5 2 .3 2 .6 2 .3 2 0 2 1.3 2-.2 2 0 2 .4 2 1.7 2 .8 2 .4 2-.6 2 0 2 1.1 2 .7 2 .1 2 .5 2 .3 2 .8 2 .7 2 0 2 .3 2-.4 2-.1 2 0 2 .3 2 .2 2 .4 2 .8 2-.9 2 0 2 .7 2 .8 2 .3 2 .6 2 0 2 1.3 2 .6 2 1.1 2 .2 2 .8 2 1.1 2 .6 2 .7 2 0 2 1.5 2 .3 2 1.3 2 0 2 .5 2 .9 2 0 2 .8 2 1.2 2 0 2 .1 2-.2 2 0 2 .8 2 0 2 .3 2 0 2 .1 2 .1 2-.2 2 0 2 0 2-.1 2-.5 2 0 2 .1 2 1.4 2 1.4 2 1 2 .6 2 .5 2 .9 2 1.5 2 .9 2 .6 2 .9 2 0 2 .2 2 .1 2 .3 2-1 2 0 2 .2 2 .3 2-.9 2 0 2 1.4 2 .7 2 .3 2 0 2 1.5 2 .8 2 1.1 2 .1 2 .8 2 .5 2 0 2 .6 2 0 2 .2 2 0 2 .8 2 0 2 .6 2 .1 2 .4 2 .4 2 .3 2 .1 2 0 2 .5 2 .7 2 .9 2 1.7 2 .5 2 .3 2 .5 2 .5 2 .2 2 .4 2 .3 2 .6 2 .1 2 1.2 2 0 2 .8 2 .7 2 .2 2 .9 2 0 2 .1 2 0 2 .8 2 .3 2 .5 2 .4 2 0 2 1.1 2 .6 2 .7 2 0 2 .2 2 .6 2 0 2 1 2-.4 2 0 2 .1 2 0 2 .4 2 1 2 .4 2 .4 2 .3 2 .3 2 .3 2 .1 2 .5 2 .9 2 0 2 .9 2 0 2 .5 2 .1 2-.3 2 0 2-.5 2 0 2 .4 2 0 2 0 2 1 2 .1 2 .2 2 0 0 3.5-2 1.1-2 0-2 .6-2 0-2-1.2-2-.1-2-.4-2 .2-2 .3-2 .1-2 0-2-.1-2-.2-2-.1-2-.5-2-.1-2-1.2-2-.2-2-1-2-.3-2-.6-2 0-2-.2-2-.2-2-.7-2 0-2-1.4-2-.2-2 0-2 .8-2 0-2-1.4-2 0-2-.2-2-.1-2-.7-2 0-2-.5-2-1.2-2-.2-2 0-2-.8-2-.3-2-.9-2 0-2 0-2-.4-2-.6-2-1.1-2-.1-2-.2-2 0-2-1.1-2-.7-2-.5-2-.5-2 0-2-.8-2-.3-2-.9-2-.3-2-.2-2-.6-2-2-2-.7-2-.1-2-.4-2-.3-2 .1-2 0-2-.4-2-.6-2 .1-2 0-2-.7-2-.1-2 0-2-.6-2 .1-2 0-2-1.1-2-.3-2-.4-2-1.1-2-.6-2-.7-2-1.5-2 0-2-.8-2-.9-2 .2-2 .3-2 1.4-2 0-2 .2-2 .2-2 0-2 .6-2 0-2-.9-2-.9-2-1.1-2-.6-2-1.2-2-1.5-2-.9-2-.4-2-1.1-2-1.6-2-1.1-2-.4-2 .4-2 0-2 0-2-.2-2 .1-2 0-2 0-2-.2-2 0-2-.3-2-.5-2-.1-2-.7-2 1-2 0-2-.3-2-.9-2-1.1-2 .1-2 0-2-.6-2-.3-2-.8-2-.8-2-1-2 0-2-.1-2-2.2-2-1.1-2 0-2-.9-2-1-2-1-2-.7-2-.2-2-.2-2-.5-2-.7-2-.2-2-.2-2 0-2-.3-2-.7-2-.7-2 .2-2 0-2-.1-2 .5-2 0-2-.5-2-.8-2-.2-2-.9-2-.2-2 0-2-1.5-2-.1-2 .4-2 0-2-.5-2-.7-2-1.5-2-.7-2 .2-2 0-2-.9-2-.7-2-.2-2 0-2-.4-2-1.3-2-.3-2-.5-2-.7-2-.1-2-.5-2-.6-2-.5-2-.8-2-.7-2-.8-2-.2-2-.4-2 0-2-.2-2 .1-2 0-2-.1-2-.4-2-.2-2 .8-2 .5-2 .3-2 0-2-1-2-.1-2 0-2-.8-2 0-2-1-2-.4-2-.1-2-.1-2 0-2-.6-2 .1-2 0-2-.1-2-1.4-2-1.4-2-.9-2-.3-2 0-2-1.1-2-.6-2 0-2-.9-2-1.3-2-.4-2-.9-2 0-2-1-2-.3-2-1.9-2 0-2-.4-2-.5-2 0-2-.4-2 .2-2 0-2-.3-2-.4-2 0-2-.1-2 0-2-.1-2-.3-2-.4-2 0-2-.3-2-.1-2 0-2-.9-2-.7-2-.3-2-.7-2-.8-2-.3-2 .1-2 0-2-.5-2-.2-2-.4-2 0-2-.4-2-1.8-2-.7-2-1.2-2 0-2-.2-2-1.7-2-.6-2 .2-2 0-2-1.1-2-.5-2-.3-2-.9-2-.5-2 0-2-.9-2-.2-2 0-2-.7-2 0-2 0-2-1.1-2-.2-2 0-2-.1-2 0-2-.2-2-.8-2-.2-2-.8-2-.3-2-.5-2-.2-2 .3-2 0-2-.9-2 .1-2 0-2-1.3-2-.9-2 0-2-1.1-2-1.3-2 0-2-1.4-2-.7-2-.2-2-.3-2-.1-2-.9-2-.5-2 0-2-.9-2-.1-2 0-2-.6-2 0-2-.3-2-.2-2-.3-2-.5-2 .3-2 .2-2 .1-2 0-2-.3z" fill="#00ffff"/>
<path d="M102.9 528.9h5m-5 4.2h5m0-4.6h5m-4 4.6h5m-3-4.8h5m-4 4.5h5m-2-4.7h5m2 2.2h5m-4-1h5m-1 5.4h5m-4-.3h5m-4 .4h5m-4-4.4h5m-4 .9h5m-5 4.3h5m-2-4.1h5m-1 5.7h5m-2-4.7h5m-4 4.3h5m-4-3.7h5m-1 6.4h5m-4-4.9h5m-5 5.2h5m-1-4.3h5m-4 6.7h5m-3-.3h5m-4-5.9h5m-5 6.8h5m-2 1.6h5m-1-.1h5m0 .1h5m-4-5.2h5m-3-.5h5m-5 6.4h5m-4 .3h5m-4 .2h5m-4-5.3h5m-4 .4h5m-3 6h5m-1 1h5m-4 .2h5m-4-4.7h5m-4 4.2h5m-3-.1h5m-1-3.8h5m-5 4.6h5m-3-4.2h5m-3 1.2h5m-4-.1h5m-3 4.3h5m-3-4.1h5m-4-.5h5m-3 .4h5m-4 5.1h5m-4-4.2h5m-4 5.1h5m-4-.4h5m-4 .1h5m-4-5.1h5m-5 5.9h5m-2-3.8h5m-5 4.7h5m0 1.9h5m-4-.7h5m-4-5h5m-4-.4h5m-4 5.9h5m-4-5.7h5m-5 5.7h5m-2 1.8h5m-4 .5h5m0 .5h5m-2 1.6h5m1-3.5h5m-4 5h5m-4-4h5m-4 5.3h5m-3 .5h5m-4-4.6h5m-3 .1h5m-5 3.7h5m-4-3.5h5m-5 4h5m-4-4.2h5m1 2.3h5m-5 3.9h5m-3 .3h5m0 1.3h5m-1-3.4h5m-5 4.1h5m-4-4.2h5m-5 3.8h5m-4-3.5h5m-1.9 .1h5m-4 .7h5m-2 .2h5m-4 0h5m-5 3.4h5m-4 .1h5m-3-3.3h5m-3-.1h5m-4-.1h5m-5 3.9h5m-1-3.3h5m-5 3.4h5m-2-3.3h5m-1 3.5h5m-4-2.9h5m-3 .6h5m0 1.2h5m-4 .4h5m-4 .2h5m-2 .3h5m-5 4h5m0-2.2h5m-2 .8h5m-3 4.6h5m-1 2.8h5m-3-5.6h5m-5 5.2h5m-4-4.9h5m-5 5.1h5m-4-4.7h5m-2 1.2h5m-5 4.9h5m-2 1.9h5m-2 .4h5m-2-5h5m-3 1.1h5m-4 4.4h5m-4 .4h5m-4-4.4h5m-5 4.3h5m-2-4.1h5m-4 .4h5m-3 .3h5m-4 4.5h5m-4-4.2h5m-5 5h5m-4-4.6h5m-3 5.1h5m-4 .3h5m-4-5.7h5m-5 5.1h5m-4-.1h5m-4-4.2h5m-4 5h5m-4 .1h5m-2-4h5m-3-.8h5m-1 4.1h5m-4 .1h5m-4-3.3h5m4 .7h5m-4 .1h5m-3-1.1h5m-5 4.3h5m-3-4h5m-4 .6h5m-2 1.5h5m-3-.1h5m-2 4.9h5m-3-4.7h5m-4 .5h5m-1 5.6h5m-2-3.6h5m-3 0h5m-4 .8h5m-4 4.8h5m-2-3.8h5m-3 .8h5m-4 1h5m-5 3.7h5m-4-.1h5m-4-4.5h5m-4 5.3h5m-1-3.9h5m-5 4h5m-4-4.3h5m-5 4.9h5m-4 0h5m0-2h5m-5 4.9h5m-1-3.7h5m-4 3.8h5m-4-4.1h5m-4-1.1h5m-4 1.1h5m-5 4.2h5m-3 .4h5m-4 1.1h5m-3-4.9h5m-3 .7h5m-5 4.4h5m-3-4h5m-4 4.4h5m-4-3.9h5m-4 .9h5m-3 .1h5m-4 4.9h5m-1-4.4h5m-2 3.4h5m-4-4.4h5m-4 4.8h5m-1 .9h5m-3-4h5m5 6.4h5m-4-5.3h5m-5 5.2h5m-3-.2h5m-4-4.6h5m-4 5.3h5m-2-3.4h5m-3 5.4h5m-2-4.1h5m1 3.3h5m-4 .4h5m2 7.2h5m-2 1.1h5m-4-.3h5m-3 .9h5m-2-4.9h5m-3 4.9h5m-4-4.1h5m-2 6.3h5m-3-4.9h5m-4-.1h5m-3 3.8h5m-4-4h5m-2 1.2h5m-2 0h5m-4 .7h5m-3 3.4h5m-4-4.1h5m-4 .5h5m-3-.4h5m-4 4.2h5m-4 0h5m-3-4.4h5m-5 3.7h5m-3 1.3h5m-3-4.1h5m-5 3.7h5m-4-4.6h5m-4 4.3h5m-4-4.8h5m-4-.1h5m-5 5.2h5m-3-4.7h5m-5 5.1h5m-4 1h5m-2 1.5h5m-4 .3h5m-3 .4h5m-4 1h5m-4-4.8h5m-4 .9h5m-4 0h5m-1 7.8h5m-4 .3h5m-1-3.1h5m-2 5h5m-4-5h5m-3-.8h5m0 5.8h5m-4-6.5h5m0 4.6h5m-4-4.1h5m-4-.9h5m-4 5h5m-2 1.7h5m-3-4h5m-5 3.8h5m2.1-1.2h5m-5 4.1h5m-4 1.2h5m-3 .3h5m-3 .2h5m-4-4.4h5m-4 1.1h5m-1 0h5m0 .2h5m-5 4.7h5m-4 0h5m1 .9h5m-3 .4h5m-3 .1h5m-3 .2h5m-3-3.7h5m-4 .3h5m-5 3.6h5m-4-.2h5m-4-3h5m-4 3.9h5m-4-.4h5m-3-2.7h5m-3 3.9h5m2-.7h5m-5 3.6h5m-1-2h5m-3-.4h5m-5 4.5h5m-2-3.9h5m-2 .7h5m-5 4h5m-3-3.9h5m-5 4.7h5m-2-3.4h5m-5 4.7h5m-4-.8h5m-4-4h5m-5 3.8h5m-2-2.3h5m-3 3.8h5m-3 .7h5m-4-3.4h5m-3 3.9h5m-4-3.6h5m-4 .8h5m-4-.8h5m-4 4.3h5m-4-3.7h5m-2 4.9h5m-4-4.1h5m-5 4.2h5m-3-3h5m-3 3.9h5m-3-3.6h5m-4 .5h5m-3 4.8h5m-3-.2h5m-4-3.3h5m-5 3.6h5m-4-4.1h5m-4 4.8h5m-1-4h5m-4 .6h5m-4 4.5h5m-3-.4h5m-3 .1h5m-3-.1h5m-3 .3h5m-2-3.2h5m-1 5.3h5m-4-4.2h5m-4 0h5m-4 4.2h5m-4 .4h5m-3-.3h5m-4 .7h5m-4 .2h5m-3-4.2h5m-4 .5h5m-3 .9h5m-4 4.3h5m-4-4.3h5m-2 5.6h5m-4 0h5m-3-4.2h5m-4 .3h5m-5 4.5h5m-3 .2h5m-4-.1h5m0-5.1h5m-2-.1h5m-3 5.2h5m-4-4.5h5m-5 4.3h5m-3 .3h5m-1-4.2h5m-5 4.6h5m-4-3.9h5m-5 4.1h5m-4-4.6h5" stroke="#40ffff" stroke-width="1.1" fill="none" opacity="0.8"/>
<path d="M145.4 535.7l2 .6 2 .7 2 .6 2 .9 2 .4 2 .4 2 .7 2 .3 2 .4 2 .5 2 .2 2 .1 2 .5 2 .5 2 .5 2 .4M179.4 543.9l2 .4 2 .2 2 .5 2 .4M189.4 545.6l2 .2 2 .4 2 .1 2 .3 2 .3 2 .1 2 .3 2 .2 2 0 2 .6 2 .4 2 .4 2 .5 2 .5 2 .8 2 .5 2 .7M224.4 552.1l2 .6 2 .5 2 .5 2 .4 2 .7M310.5 569.6l2 .7 2 .6 2 .5 2 1 2 .4 2 .5 2 .6 2 .6 2 .4 2 .7 2 .7 2 .6 2 .8 2 .6 2 .2 2 .5 2 .2 2 .3 2 .2 2 .2M385.5 582.8l2 .5 2 .5 2 .4 2 .5 2 .4 2 .3 2 .4 2 .4M403.5 586.8l2 .7 2 .3 2 .6 2 .3 2 .4 2 .6 2 .5 2 .9 2 .7 2 .6 2 .5M426.5 593l2 .3 2 .6 2 .4 2 .2 2 .3 2 .5 2 .5 2 .3 2 .1M470.5 599.3l2 .3 2 .3 2 .5 2 .3 2 .6 2 .2 2 .6 2 .9 2 .9 2 .7 2 .7 2 .9 2 .8 2 .9 2 .8 2 .9 2 .9M505.5 610.8l2 .4 2 .4 2 .3 2 .4 2 .2 2 .3 2 .5 2 .5 2 .3 2 .2 2 .1 2 0 2 0 2-.1 2 .1M585.5 625l2 0 2 0 2-.1 2 .5 2 .6 2 .6 2 .6 2 .5 2.1 .4 2 .6 2 .3 2 .6 2 .6 2 .4 2 .3 2 .3M618.6 631.3l2 .2 2 .1 2 .3 2 .2 2 .3 2 .2 2 .3 2 .2 2 .6 2 .7 2 .6 2 .5 2 .6 2 .6 2 .6 2 .6 2 .6 2 .6 2 .7 2 .3 2 .3 2 .5M663.6 641l2 .5 2 .4 2 .5 2 .4 2 .4M710.6 650.3l2 .3 2 .1 2 .2 2 .1 2 .1 2 .6 2 .5 2 .5 2 .4 2 .6 2 .4 2 .4 2 .4 2 .6 2 .2 2 .4 2 .1 2 0 2 0M749.6 656.2l2 .2 2 .1 2 .1 2 .1 2 .1 2 .3" stroke="#050a20" stroke-width="2.8" stroke-linecap="round" stroke-linejoin="round" fill="none" opacity="0.9"/>
<path d="M105.4 529.5L767 660.5" stroke="#ffff00" stroke-width="2.7" stroke-dasharray="9 7" opacity="0.72" fill="none"/>
<path d="M971.2 82.4l2-1.3 2 0 2 .4 2 0 2 .2 2 1.4 2 0 2-.4 2-.7 2 0 0 16.6-2 0-2-.9-2 1.8-2 0-2 1.2-2 0-2-1.3-2 0-2 .4-2 0z" fill="#00ffff"/>
<path d="M969.7 82.4h5m-5 17.4h5m-3-18.7h5m-2.9 17.5h5m-4-17.1h5m-4 .1h5m-4 .1h5m-4 19h5m-1.9-2.2h5m-4-15.4h5m-4 1.2h5m-2.9-1.1h5" stroke="#40ffff" stroke-width="1.1" fill="none" opacity="0.8"/>
<path d="M972.2 90.2l2-.8 2.1 .1 2 .6 2 .1 2.1 .7 2 .1 2-.4 2.1-.4" stroke="#050a20" stroke-width="2.8" stroke-linecap="round" stroke-linejoin="round" fill="none" opacity="0.9"/>
<path d="M1031.7 102.2l2-1.9 2 0 2 .8 2 .2 2-2.9 2-.7 2 0 2-.3 2 0 2 .4 2-2.5 2 0 2 .3 2 1.9 2 1 2-.8 2 0 2 3 2 .2 2 0 2 1.3 2 .8 2 1.2 2 0 2 0 2 1.4 2 .7 2 .9 2 2.2 2 0 2 1.2 2 0 2 0 2 2.3 2-1.5 2 0 2 2.3 2-1.8 2 0 2 .4 2-.2 2-.4 2 0 2 .5 2 0 2 1.3 2 0 2-1.4 2 0 2 0 2 3.2 2 .8 2 0 2 .2 2-1 2-2.4 2 0 2-.2 2-.1 2 0 2 2.5 2 1.1 2 .9 2 0 2 .4 2-2.9 2 0 2-.3 2-.2 2 0 2 1.5 2 .1 2 .9 2 0 2 0 2-3.6 2 0 2-2.3 2 0 2 0 2 6.5 2 3 2 .2 2 2 2-2.7 2 0 2-.1 2 0 2 .5 2 0 2 2 2-1.1 2 0 2 1.7 2-.2 2 0 2 .8 2-1.3 2 0 2-.5 2 0 2-2.2 2 0 2 .2 2 0 2 .2 2-.1 2-1.5 2-2 2-2.2 2 0 2 4.5 2 3.5 2-2.8 2 0 2 5 2-.4 2 0 2 1.5 2-.7 2-.6 2 0 2 1.1 2 1.2 2-.7 2-2.6 2 0 2 3.7 2 0 2-1.8 2-.9 2 0 2 3.4 2-1.6 2-.5 2-1.1 2 0 2-1.7 2-2.3 2-1.4 2 0 2 4.5 2 .7 2-5 2 0 2 3.9 2 0 2-1.9 2-1.4 2 0 2 .8 2 0 2 2.8 2-1.6 2 0 2 2.9 2 0 2 1.5 2-.5 2 0 2 2.7 2-.6 2-1.1 2-3.3 2-1.4 2 0 2-.3 2-.2 2 0 2 5.3 2 1.1 2 0 2 2.1 2 0 2-1.8 2 0 2 .5 2 3.8 2-2 2 0 2 5.6 2 0 2 0 2 .6 2 1.8 2-4.2 2 0 2 .8 2-.1 2 0 2 2.5 2-4.6 2 0 2 5.5 2 .5 2 0 2 1.4 2-2.2 2 0 2 3.9 2 0 2 .1 2-.4 2-.6 2 0 2 6 2 .8 2 0 2 .2 2 .2 2 .5 2 2.1 2 .4 2 0 2 2.7 2 2.1 2 3.8 2-1.7 2-.4 2 0 2-.5 2 0 2 3.5 2 .9 2 3.4 2 4.3 2-1.1 2-1.7 2 0 2 3.6 2 3.2 2-.3 2 0 2-.6 2 0 2 1.8 2-3.1 2 0 2 0 2 2.2 2 .1 2-.2 2 0 2 1.6 2 1.1 2 0 2 1.2 2 2.5 2 1.6 2 0 2 .5 2 .5 2 .4 2 0 2 2.2 2-.9 2-2 2 0 2 2.9 2-1.2 2 0 2 1.7 2 1.3 2 1.1 2 .2 2 2.9 2 1 2 .7 2 1.4 2-.2 2 0 2-.6 2 0 2 .6 2 1.4 2 0 1 0 0 23.1-1 1.7-2 0-2-.9-2 0-2-1.6-2-.5-2-.4-2 1.8-2 0-2-2.1-2 .1-2 0-2-.7-2-1.7-2-4.6-2 1.1-2 1.3-2 0-2-1-2 0-2-.4-2 0-2-.3-2-2.2-2 0-2 .2-2 0-2-.9-2-4.5-2 0-2-1.6-2-2.8-2-.5-2-.7-2-1.5-2 2.5-2 0-2 .5-2 0-2 2.5-2 5.2-2 0-2 3.9-2 0-2-4.2-2 0-2-5.8-2 0-2-3.4-2 1.7-2 0-2-6.3-2-.8-2-1.2-2-6.2-2 .6-2 1.3-2 .7-2 0-2-3-2 0-2-2.1-2 2.1-2 0-2-4.6-2-.8-2 0-2-2.2-2 0-2 .2-2 0-2-2.7-2-.5-2 5.5-2 0-2-4.7-2-2.7-2 .2-2 1.6-2 0-2-.3-2 1.3-2 0-2-5.8-2-4.6-2 4.6-2 0-2-2.6-2 0-2-.8-2 0-2-2.5-2 .1-2 4.3-2 0-2-1.4-2-3-2-.1-2-1.3-2 0-2-1.4-2 0-2 4.2-2 0-2 .4-2 0-2-.2-2 0-2-2.6-2 0-2-6.1-2 .6-2 0-2-1.7-2 5.1-2 0-2-1.4-2 1.3-2 0-2-2.7-2 0-2-5-2 0-2 2.7-2 0-2-1.3-2 0-2-3.1-2-.2-2 0-2-1.4-2 .3-2 0-2 .5-2 .4-2 0-2-.6-2 0-2-.9-2 1.1-2 0-2-4-2 1-2 0-2 1.5-2 0-2-.3-2-1.8-2 2.1-2 0-2-1.7-2 1.6-2 1.7-2 0-2-2.6-2-.3-2 0-2 2.4-2 0-2 .1-2 0-2-.4-2 2.7-2 0-2-.3-2 0-2-3.2-2-3.3-2 2.9-2 0-2-2.5-2 2.2-2 .3-2 .9-2 0-2-2.3-2-1.3-2 1.4-2 .9-2 0-2-1-2 0-2-.6-2 .9-2 0-2-3.1-2-1.4-2 1.7-2 2-2 2.2-2 0-2-.9-2-1.4-2 5-2 0-2-1.3-2-1.4-2-4.1-2-.2-2 3.1-2 0-2 2.2-2 0-2-2-2 0-2-2.6-2-2.4-2-3.1-2 2.5-2 0-2 1.3-2 0-2-.4-2-4.1-2-.6-2 0-2-2.8-2 .5-2 0-2-1-2 .3-2 .9-2 .5-2 .5-2 0-2-.2-2 0-2 1-2 1.9-2 0-2-3.3-2 2.2-2 0-2-1.3-2-1.7-2-.7-2 .8-2 0-2 0-2-.8-2 .5-2 0-2-2.5-2 1.7-2 0-2-1.7-2-1.9-2 1.8-2 0-2-2.8-2 0-2-2-2 .1-2 0-2-.3-2-2.1-2 1.9-2 0-2-.7-2 0-2-3-2-.5-2-.9-2 2.2-2 .1-2 0-2-3.3-2 1.1-2 0-2-.9-2-.7-2-3.1-2 2.1-2 0-2-2.5-2 0-2-3.6z" fill="#00ffff"/>
<path d="M1031.2 100.6h5m-4-.3h5m-5 15.6h5m-4-14.8h5m-4 13.7h5m-3-12.7h5m-5 16.3h5m-4-17.1h5m-3-2.9h5m-2-.7h5m-4 .3h5m-5 22.1h5m-2-22.7h5m-4 .4h5m-4 22.1h5m-3-21.7h5m-5 20.8h5m-3-23.7h5m-4 .3h5m-5 27.5h5m-2-25.6h5m-3 1h5m-5 22.4h5m-4-22.4h5m-5 22.9h5m-4-22.9h5m-5 23.3h5m-3-24.1h5m0 3.2h5m-4 .1h5m-5 25h5m-1-23h5m-5 21h5m-3 2.2h5m-4-22h5m-4 21.9h5m-4 .3h5m-4-22.2h5m-5 21.4h5m-2-19.3h5m-3 .9h5m-1.9 2.4h5m-5 21.6h5m-2-2.8h5m-4 1h5m-4-18h5m-4 19.9h5m-3-20.7h5m-5 22.4h5m-2-2.4h5m-3-19.2h5m-5 22.4h5m-4-1.1h5m-3-19h5m-5 18.6h5m1-19.5h5m-5 21.3h5m-3-.8h5m-3-21.2h5m-5 21h5m-4-21.4h5m0 25.3h5m1-21.1h5m-5 22.2h5m-3-26h5m0 22.5h5m-4-18.2h5m-4-.3h5m-5 19h5m-4-18.6h5m-5 18.9h5m-4-18.6h5m-5 17.4h5m-4-17.9h5m-5 18.6h5m-4-17.9h5m-4 .5h5m-4 16h5m-4-1.2h5m-4-19.4h5m-3 19.7h5m-4 .6h5m-4 .5h5m-4-21h5m-5 21.5h5m-3-.9h5m-3-17.4h5m-4 .3h5m-5 20.3h5m-4-19.6h5m-2 20.2h5m-4-20h5m-3 .5h5m-5 23.6h5m-3 .4h5m-4-27h5m-3 25.7h5m-2-26h5m-4 23.1h5m-4-23.3h5m-2 1.6h5m-5 27.6h5m-2-26.7h5m-2 30.8h5m-4 .5h5m-1-34.9h5m-5 32.7h5m-1-35h5m-4 0h5m-4 .9h5m-5 31.2h5m-1 5.5h5m-4-27.5h5m1.1-1.1h5m-5 25.9h5m-4-24.8h5m-5 25.2h5m-4 .9h5m1-26.2h5m-4-.6h5m-5 20.9h5m-4-.6h5m-3-18.3h5m-5 20.3h5m-3 3.1h5m-4-.3h5m-2-22.1h5m-4-.4h5m-5 21.9h5m-4-22.1h5m-3 .8h5m-4 .7h5m-4-.4h5m-5 22.6h5m-4-22.8h5m-1 20.5h5m0-24.6h5m-5 28.2h5m-2-.9h5m-4-27.1h5m-3 .9h5m-4-.6h5m-3-.1h5m-4-.1h5m-5 27h5m-2-28.2h5m-4 25.3h5m-3-29.8h5m-3 36.3h5m-3-.3h5m-4-.2h5m-1-30.6h5m-2 5h5m-4 0h5m-5 24.1h5m-4-24.5h5m-2 1.5h5m-3 .7h5m-3-1.4h5m-5 21.2h5m-3-21.8h5m-5 21.4h5m-1-19.1h5m-3 .2h5m-5 20.5h5m-4-21.3h5m-3-2.7h5m-5 21.8h5m-4-21.8h5m-3 24.1h5m-2-2.9h5m-4 .8h5m-3-20.1h5m-5 21.9h5m-4 .3h5m-2-3.1h5m-4-15.8h5m-4 17.4h5m-4-19.8h5m-5 18.8h5m-3-19.3h5m-3-1.1h5m-4 .9h5m-5 23.5h5m-4-1.1h5m-1.9-25h5m-3-2.3h5m-3-1.4h5m-2 29.1h5m-4-23.9h5m-5 24.6h5m-4-23.7h5m-3 23.2h5m-4-29.1h5m-2 4.5h5m-5 23.7h5m-4-24.3h5m-1-1.9h5m-3-1.4h5m-3 32.9h5m-3-32.1h5m-3 33.4h5m-2-32.2h5m-5 29.5h5m-1-26.6h5m0 1.5h5m-5 32.8h5m-3-33.3h5m-1 2.7h5m-3-.6h5m-3 25.1h5m-3 2.8h5m-4-33.7h5m-1 .7h5m-5 38.5h5m-4-39.5h5m-4 39.4h5m-2-34.3h5m-5 37h5m-2-35.9h5m0 2.1h5m-5 33.6h5m-2-35.4h5m-5 31.2h5m-2-30.7h5m-5 29.4h5m-1-24.6h5m-3-3h5m-4 31.7h5m0-26.1h5m-5 30.5h5m-3-29.9h5m-3 25h5m-1-27.4h5m-2 .8h5m-4 30.4h5m-4-30.5h5m-3 33.1h5m-1-35.2h5m-2.9 34.3h5m-1-28.3h5m-4 33.1h5m0-33.9h5m-2 33h5m-3-29.1h5m-4 31.8h5m-3 4.7h5m0-5.6h5m-4-.3h5m-3 3.6h5m-1-27.9h5m-4 27.7h5m-4-.5h5m-4-27.2h5m-4 .5h5m-2 28.2h5m-1 6.6h5m-3-29.6h5m-2 29.3h5m-4 .3h5m-4-22.8h5m-3-2.6h5m-3 27.6h5m-4-28h5m-4 1h5m-3-.7h5m-4-.8h5m-4 26.7h5m-2-22.3h5m-4 29.3h5m-1 7.5h5m-1-31.9h5m-2 3.6h5m-5 30h5m-2-26.7h5m0 36.7h5m-3-37.7h5m0-1.3h5m-2 27.4h5m-3-1.2h5m-4-23h5m-4 23.7h5m-2-24.3h5m-4-.5h5m-1 23.7h5m-4-21h5m-4 22.3h5m-2 4.3h5m-4-22.9h5m-5 23h5m-2.9-.7h5m-1 6.1h5m-4-25.8h5m-3 .9h5m-5 23.6h5m-4 1.1h5m-4-25.2h5m-5 25h5m-3 2.4h5m0-26.1h5m-4 26.8h5m-4-28.8h5m-1 29.8h5m-4-28.1h5m-2 25.3h5m-4 .4h5m-3-21.6h5m-4 .2h5m-5 26h5m-3-26h5m-5 27.7h5m-1-23.8h5m-5 24.4h5m-3-23.7h5m-3 25.8h5m-2-23.5h5m-4-1.1h5m-4 22.5h5m-4 .7h5m-4 .5h5m-3-23.7h5m-5 25.3h5m-3-.7h5m-3 1.6h5" stroke="#40ffff" stroke-width="1.1" fill="none" opacity="0.8"/>
<path d="M1136.8 123.9l2-.4 2-.6 2 .5 2 1.5 2 1 2 1.2 2-.5 2 .9 2-.4 2 .2 2 .5 2 1.3 2-.1 2 .3M1166.8 128.4l2-.6 2 .6 2 1.2 2 .4M1176.8 129.9l2 .5 2-1.2 2 .6 2 .6 2 .9 2 .8 2 .8 2 .1 2 .7 2 .1 2.1 .9M1363 149.9l2 .3 2 1.4 2-.1 2-.4 2-1.2 2 .1 2-1.3 2-1.3M1422.1 149.1l2 .6 2 1.8 2 1.2 2 1.5 2-.2 2 1.2 2-.7 2 2.5 2 1.7 2 1.8 2 1.2 2 1.1 2 2.1 2-.1 2 1.2 2-1 2 1.2 2-1.3 2-1.4M1462.1 163.8l2-.1 2 .7M1493.1 187.4l2 3.3 2 1.4 2-.7 2 1.2 2-1.8M1576.2 203.7l2 1.6 2 2 2 1" stroke="#050a20" stroke-width="2.8" stroke-linecap="round" stroke-linejoin="round" fill="none" opacity="0.9"/>
<path d="M989.5 90.3L1032.7 107.3" stroke="#e02020" stroke-width="2" fill="none"/>
<circle cx="1132.1" cy="107.2" r="2.9" fill="#0a2a9a"/>
<circle cx="1132.1" cy="146" r="2.9" fill="#0a2a9a"/>
<circle cx="1186.2" cy="110.4" r="2.9" fill="#0a2a9a"/>
<circle cx="1412.4" cy="133.1" r="2.9" fill="#0a10a0"/>
<circle cx="1586.4" cy="201.2" r="2.9" fill="#0a10a0"/>
<path d="M976.5 95.3L1583.2 185.8" stroke="#ffff00" stroke-width="2.7" stroke-dasharray="9 7" opacity="0.72" fill="none"/>
<path d="M975.3 445.2h0m3 .4h0m2-.8h0m1.1 0h0m1-.4h0m1 0h0m1 .2h0m1 .8h0m2.1-.6h0m1 .1h0" stroke="#0a0a30" stroke-width="6.2" stroke-linecap="round" fill="none"/>
<path d="M973.2 445h0m16.3-.1h0" stroke="#0a2a9a" stroke-width="6.2" stroke-linecap="round" fill="none"/>
<path d="M971.2 443.2l2-.4 2 0 2 .1 2-.5 2-.1 2-.3 2 0 2 .6 2 .2 2 .3 0 3.6-2 .2-2 .2-2 0-2-.4-2 .6-2 .7-2 0-2-.6-2-.3-2-.3z" fill="#00ffff"/>
<path d="M969.7 446.8h5m-4-3.9h5m-4-.1h5m-2.9 .5h5m-2 .1h5m-4-1h5m-3.9 4.1h5m-3 .2h5m-2-4.1h5m-2.9 .3h5m-5 4h5m-4-3.8h5" stroke="#40ffff" stroke-width="1.1" fill="none" opacity="0.8"/>
<path d="M1032.7 431.6h0m6-3.5h0m1-.1h0m4-.7h0m2-.6h0m2-.8h0m1-.8h0m1-.2h0m5-2.3h0m4-1.9h0m4-.6h0m3 .1h0m1-.5h0m4-.6h0m2-.4h0m9-2.2h0m2 .1h0m1-.2h0m1-.4h0m5-.1h0m4-1.7h0m1 .2h0m3-1.4h0m3-.7h0m4-.5h0m1 .4h0m2-1.1h0m1 0h0m2-.9h0m2-.8h0m2 .5h0m1 .1h0m2-.4h0m1-.4h0m1-.8h0m1 0h0m1-.2h0m1-.1h0m1.1-.6h0m2-.5h0m1 .1h0m1-.4h0m1-.4h0m6-.3h0m1-.1h0m1-.9h0m6 .1h0m1-.2h0m1-.1h0m6-2h0m1 .2h0m5-.5h0m2-.4h0m2-1h0m1-.5h0m1-.1h0m1-.4h0m1 .2h0m3-.4h0m1-.4h0m1-.5h0m2 .3h0m1 .4h0m1-.5h0m6-.6h0m2-.9h0m2-.6h0m2-.1h0m1-.2h0m3-.3h0m3-.2h0m5-.1h0m1-.1h0m7-2h0m1-.4h0m2-.4h0m1-.6h0m2 .5h0m1-.1h0m5-2.2h0m2-.6h0m2 .1h0m4-.4h0m2-.1h0m3-1.1h0m5-.1h0m6-.7h0m1 0h0m6-.6h0m1-.1h0m1-.2h0m3-.6h0m2-.6h0m2-.5h0m3-.1h0m2-1.4h0m1 .1h0m1-.7h0m1 0h0m1-.2h0m3 0h0m4-.3h0m1-.4h0m1 .5h0m5-1.1h0m2 .6h0m1-.1h0m2-1h0m4-.2h0m4 .5h0m2 .7h0m6 0h0m2-.9h0m6.1-.6h0m4-.7h0m8-1.5h0m1 .2h0m1 .2h0m1-.3h0m2-.2h0m2 .1h0m1 .4h0m4-1.5h0m1-.4h0m1 .6h0m2-1.9h0m2 0h0m1-.3h0m2-.2h0m1 .1h0m7-.8h0m2 .7h0m1-.7h0m3-.4h0m4-1.2h0m7-1.2h0m1-.3h0m2-.5h0m1-.4h0m3-1.4h0m1 .1h0m3-1.9h0m4-.9h0m1 .1h0m1-.5h0m2-.4h0m1 .6h0m5-1.3h0m3-.1h0m3-.7h0m2 .1h0m3-.2h0m1 .2h0m1 .1h0m3-1.1h0m3-2.6h0m1-.4h0m1-.6h0m2 0h0m3-.9h0m1 .8h0m6-4.2h0m5-1.8h0m2-1h0m1 .1h0m1-.7h0m1-.4h0m2-1.2h0m1-1h0m2-.7h0m4 .3h0m1 0h0m6-.1h0m2 .4h0m1-.2h0m2 .1h0m1-1h0m3-1.8h0m2-.2h0m1-.4h0m1-.1h0m1-1.2h0m1 .2h0m4-1.8h0m2-.2h0m2-1.1h0m1-.7h0m4 .2h0m5-1.8h0m3-2.2h0m2.1-.2h0m2-.7h0m2 .2h0m3-1.3h0m1-.7h0m3 0h0m3-.2h0m4-.1h0m5 .2h0m1 0h0m6-.8h0m5-1.7h0m2-.6h0m2 .2h0m4-2h0m2-.6h0m1 1.1h0m2-.1h0m1-.2h0m2-.6h0m4-.5h0m1-.3h0m1-.9h0m1-.1h0m2-.4h0m5-1.6h0m4-1.3h0m1-.4h0m3-.5h0m1 .7h0m2 .3h0m2-.2h0m1-1h0m3-.1h0m1-.3h0m1 .1h0m3-1.3h0m2-.7h0" stroke="#0a0a30" stroke-width="6.2" stroke-linecap="round" fill="none"/>
<path d="M1036.7 428.9h0m37-10.2h0m1-1.1h0m3-.1h0m10-1.3h0m9-1.8h0m1-.6h0m41.1-8.5h0m9-1h0m9-1.3h0m19-3.5h0m10-2.7h0m10-.8h0m9-1.1h0m11-3h0m6-1h0m12-2.1h0m1-.1h0m1 .1h0m6-1h0m14-1.6h0m5-1.5h0m8-1.2h0m5-.4h0m6-.5h0m9-1.8h0m5 .8h0m12-.5h0m3.1 .5h0m4-.6h0m3-.6h0m1-.3h0m10-1.3h0m5-.7h0m1-.9h0m5-.5h0m9-1.7h0m9-.4h0m1-.7h0m2-.2h0m8-1.1h0m1 0h0m7-2.7h0m7-2.9h0m14-2.5h0m8 .2h0m5-1h0m10-4.2h0m11-5h0m1-.6h0m2-1.1h0m8-3.7h0m7 .3h0m27-7.7h0m4-.2h0m5-1.6h0m10.1-3.5h0m3-.6h0m7-1.8h0m31-4.7h0m24-5.1h0m17-1.7h0m6-2.5h0" stroke="#0a2a9a" stroke-width="6.2" stroke-linecap="round" fill="none"/>
<path d="M1031.7 430l2-2 2-.9 2-1.1 2-.5 2-.3 2-.9 2-.1 2-1.5 2-.5 2-1.9 2 0 2-1.5 2-.5 2 0 2-.6 2 0 2-.1 2-.7 2-.2 2-.1 2-1.2 2-.3 2-.6 2 0 2-.3 2-.2 2-.4 2-.2 2 0 2-.4 2-1.2 2 0 2-1 2 0 2-1 2 0 2 0 2-.6 2-.8 2-.6 2-.6 2 0 2 .6 2-.9 2-.6 2-.5 2-.6 2-.3 2-.4 2-.1 2 0 2-.6 2-.7 2 0 2 .1 2-.5 2 0 2-1.3 2-.3 2-.2 2 0 2 0 2-.5 2-.9 2-.6 2-.6 2-.2 2-.4 2-.4 2-.2 2 0 2-.2 2-.9 2 0 2-.3 2-.7 2 0 2-.7 2-.2 2 0 2-.1 2-.4 2 0 2 .2 2-.4 2-.7 2-1 2-.2 2-.8 2 0 2 .2 2-1.5 2-.8 2-.3 2 0 2-.5 2 0 2-.1 2-.4 2-.1 2-.6 2 0 2-.6 2-.3 2 0 2 0 2-.6 2 0 2 .1 2-.2 2-.9 2 0 2-.6 2-1 2 0 2-.9 2-.5 2-.1 2 0 2-.1 2 0 2-.3 2 0 2-.3 2-.8 2 0 2 .1 2-.9 2 0 2 .3 2 .7 2 0 2 .4 2 .3 2-.4 2-.8 2-.3 2-.1 2-.5 2 0 2-.2 2 0 2-1 2-.8 2-.1 2 0 2 0 2-.2 2 0 2-.9 2-.4 2-.5 2-.7 2-.9 2-.2 2 0 2-.1 2 0 2 0 2-.4 2 0 2-.5 2-.1 2 0 2-.6 2-.2 2 0 2-.9 2-.6 2-.7 2-.6 2-.6 2-1.5 2-.4 2-.4 2 0 2-.6 2-.5 2-.4 2-.5 2-.2 2-.2 2-1.3 2 0 2 .7 2 0 2 .1 2-1.2 2-.4 2-2.1 2-.5 2-.6 2-.3 2-.6 2-.6 2-1.6 2-.9 2 0 2-1.7 2-1.3 2 0 2-.9 2-.7 2-1.8 2 0 2-.7 2 0 2 .5 2-.5 2-.1 2 0 2 .5 2-.9 2-1 2-1.3 2 0 2-1.1 2-.6 2-.7 2-.9 2-.5 2-1.1 2-.4 2 0 2-1.1 2 0 2-.5 2-1.7 2-.9 2-.2 2 0 2-.3 2-1.5 2-.2 2 0 2-.6 2-.1 2 0 2 .8 2-.1 2 0 2-1 2 0 2-.3 2-.8 2 0 2-.7 2-.3 2 0 2-.8 2-1 2-.8 2 0 2 .9 2-.7 2-.5 2 0 2-1 2-.7 2-.1 2-1.1 2-.5 2-.5 2-.6 2-.3 2-.4 2 0 2 .9 2-.9 2 0 2-.1 2-.8 2-.3 2-1 2 0 2 .1 0 3.6-2 .5-2 1.1-2 .8-2 .6-2 0-2 .3-2 .8-2 .9-2 0-2-.4-2 .4-2 0-2 1-2 .4-2 1.2-2 .4-2 .1-2 1.3-2 0-2 .5-2 .5-2 0-2 .7-2 0-2 .8-2 .3-2 .1-2 .5-2 .5-2 0-2 1.4-2 0-2 0-2 .2-2 .9-2 0-2-.3-2-.2-2 .4-2 .7-2 0-2-.1-2 .3-2 .5-2 1.1-2 .1-2 .7-2 .9-2 1.3-2 0-2 1.3-2 0-2 .3-2 .6-2 .5-2 1.2-2 .3-2 1.5-2 .3-2 .2-2 1.3-2 1-2 .4-2 0-2 0-2-.8-2 .7-2 0-2-.2-2-.8-2 .7-2 1.9-2 1.2-2 .5-2 1-2 .7-2 .9-2 .3-2 1.7-2 1.5-2 .4-2 .5-2 .4-2 .2-2 2.4-2 1-2 1.1-2 0-2 0-2 0-2 0-2-.2-2-.2-2 .1-2 .8-2 .6-2 .2-2 0-2-.3-2 .6-2 .9-2 .6-2 .9-2 1-2 .8-2 .3-2 1.5-2 0-2 .3-2 .2-2 .1-2 1.3-2 .6-2 .5-2 0-2-.4-2 .1-2 1-2 0-2 .2-2 .2-2 .7-2 1-2 0-2-.3-2 1.1-2 0-2 0-2 0-2-.1-2-.3-2 1.5-2 .2-2 .1-2 .6-2 0-2 .6-2 0-2 .1-2 .5-2 .6-2 0-2-.4-2-.7-2-.6-2 0-2-.3-2 .6-2 .8-2 0-2 .1-2 .6-2 0-2-.5-2 .7-2 0-2 .3-2 0-2 .4-2 1.3-2 0-2 .4-2 .4-2 .6-2 .4-2 .3-2 .3-2 0-2-.1-2 .1-2 .8-2 0-2 .1-2 0-2 0-2 .6-2 .4-2 .2-2 .2-2 .3-2 .3-2 .2-2 .6-2 1.5-2 .4-2 .2-2 .1-2 .7-2 1-2 .3-2 .2-2 .5-2 .5-2 0-2-.6-2 .5-2 0-2-.1-2 .5-2 .5-2 1-2 0-2 1-2 0-2-.2-2-.1-2 .8-2 0-2 .3-2 .3-2 1.3-2 .4-2 .5-2 .1-2 0-2 .2-2 .6-2 .7-2 .4-2 .5-2 0-2-.1-2 .6-2 .5-2 .7-2 0-2-.2-2 0-2 .7-2 .4-2 1-2 1.3-2 0-2-.5-2 0-2 1.4-2 .4-2 .3-2 .3-2 0-2 .3-2 1-2 .8-2 .2-2 1-2 .6-2 0-2 .1-2 .5-2 0-2 .1-2 .6-2 .2-2 1-2 .5-2 .1-2 .3-2 1-2 0-2 .3-2 .3-2 0-2 .8-2 .5-2 .7-2 1.9-2 .8-2 1.1-2 .8-2 0-2 .2-2 .6-2 .4-2 1.4-2 .7-2 0z" fill="#00ffff"/>
<path d="M1032.2 428h5m-3-.9h5m-4-1.1h5m1-1.3h5m-4 4.5h5m-3-5h5m0-3h5m1 2h5m-3 .1h5m-4-.4h5m-4-4.6h5m-3 .2h5m-4-.3h5m-4-.6h5m-4 .3h5m-2-1.2h5m-5 4.7h5m-4-4.1h5m-5 3.5h5m-2 0h5m-4-.9h5m-2-4.6h5m-4-.8h5m-5 4.8h5m-4-4h5m-5 3.7h5m-3-.8h5m-3 .1h5m-4-4.3h5m-5 4.9h5m-3-.5h5m-3-5h5m-4 .1h5m-4 .1h5m-4 .2h5m-5 3.9h5m-4-.5h5m-3-.6h5m-4-4.3h5m-3-.5h5m-5 3.9h5m-2-4.5h5m-2-1.4h5m-4 .6h5m-5 4h5m-3-4.2h5m-4-1h5m-3 4.2h5m-1-6.2h5m-5 4.3h5m-4 .5h5m-4-.4h5m-3-3.5h5m-4 3.3h5m0-5h5m.1-1.5h5m-2 .1h5m-5 4.3h5m-3-4.8h5m0-1h5m-4 4h5m-4-3.8h5m-2 3.4h5m-3-4.3h5m0-1.6h5m-2 3.7h5m-2-4h5m-3-.5h5m-4-.5h5m-4-.4h5m0 2.5h5m-4-3.9h5m0 3h5m-4 .3h5m-2-4.2h5m-5 4.6h5m-4-4.9h5m-2-.5h5m-3-.2h5m-5 3.6h5m-4-4.1h5m-3 3.3h5m-3-3.9h5m-5 3.7h5m-3-4.5h5m-4 4.6h5m-1-.5h5m-4-4.4h5m-5 4.2h5m-4-4.6h5m-4 5.4h5m-3-5.1h5m-5 4.6h5m-3-4.7h5m-5 4.2h5m-4-.2h5m4-7.1h5m-4 4.8h5m-1-5.3h5m3-1.3h5m-5 3.3h5m-4 0h5m-2-.4h5m-4-.4h5m-4 0h5m-3-4.2h5m-3 0h5m-3-.3h5m-3-.9h5m-4 4.2h5m-4-4.5h5m-4 .6h5m-4 3.5h5m-4 .1h5m-3-.1h5m-4-4.3h5m-5 3.8h5m-2-4h5m-4 0h5m-2-.2h5m-4 3.4h5m-4-4.4h5m-5 4.8h5m-1-5.4h5m-2-.4h5m-4-.3h5m0 2.3h5m-4-3.9h5m-3-.1h5m-3 0h5m-2-.5h5m-4 .6h5m-5 3.5h5m-2-.4h5m-3-.1h5m-4 .3h5m-4-.3h5m-1-1.2h5m-2 .2h5m-4 0h5m-2-3.5h5m1 .7h5m-3-.4h5m-5 4.6h5m-2-1.3h5m-4 .4h5m-3.9 .3h5m-1-1.2h5m-3-3.9h5m-3-.8h5m-5 4.6h5m-3-4.4h5m-4-1.2h5m-2-.9h5m-1 .2h5m-4 5h5m-4-5.4h5m-5 5h5m-3-5h5m-3 0h5m-5 4.2h5m-3-5.2h5m-2 5.6h5m-3-7.1h5m-3 5.4h5m-4-.2h5m-4-5.5h5m-5 5.4h5m-3-5.8h5m-2 .3h5m-5 4.4h5m-2-4.7h5m-4 4.6h5m-4 0h5m-4 .4h5m-4-5.2h5m-3-1.2h5m-5 4.9h5m-3-5h5m-1-.2h5m-3 4h5m-2-4.6h5m-4 3.4h5m-4-4.1h5m-4-.8h5m-4 3.6h5m-3-4.7h5m-4-.2h5m-4-.6h5m-1-1.9h5m-4 .1h5m-3-.5h5m-5 3.7h5m-4-3.6h5m-5 3.3h5m-3-4h5m-4 3.6h5m-4-4.1h5m-5 3.9h5m-3-3.6h5m-4 3.9h5m-4-5.1h5m-4 .2h5m-4 0h5m-5 3.9h5m-3-4.5h5m-4 .5h5m-3 3.2h5m-4 .3h5m-2 .8h5m1-6.5h5m-1-2.5h5m-2-.7h5m-1-1.3h5m-5 5.3h5m-4 .1h5m-4-.4h5m0-8.1h5m-4 4.6h5m-4-4.4h5m-4-1.1h5m-4-.8h5m-2-.9h5m-3 4.1h5m-3-5.4h5m-2-2.5h5m-4 4.1h5m-3-.3h5m-3 1.1h5m-4-4.7h5m-5 4.1h5m-1 .1h5m1-4.6h5m-5 5.4h5m-4-.4h5m3-8.7h5m2-2.9h5m-4 .3h5m-4-.8h5m-1 4.4h5m-1-7h5m-4 6.2h5m-4-5.3h5m-2-2.5h5m-4-.6h5m-4-.1h5m-2.9 5.5h5m-4-6.5h5m0-1.4h5m-3-.6h5m-1-.6h5m-5 6.2h5m-4-6.1h5m-3-.2h5m-5 6.3h5m-3-5.3h5m-3 .3h5m-3 5.5h5m-2-1.1h5m-3-.6h5m-2 .6h5m-1-1.5h5m-4-.6h5m-2-.9h5m-4-4.7h5m-4 .2h5m-3-1.4h5m-3 4.4h5m-4-6.2h5m-5 6h5m-1 .4h5m-4-5.2h5m-3 4.4h5m-3-5.9h5m-4 .3h5m-4 4.8h5m-3-.7h5m-4-1.1h5m-4 1h5m-4-5.9h5m-2 4.3h5m-4-.4h5m-2-1h5m-3-1h5m-3-.3h5m-2 .2h5m-2-4.1h5m-4-1.1h5m-4 4.6h5m-3-4.4h5m-4-.2h5m-4 4.3h5m0-6h5m-5 3.5h5" stroke="#40ffff" stroke-width="1.1" fill="none" opacity="0.8"/>
<path d="M989.5 444.9L1032.7 431.6" stroke="#e02020" stroke-width="2" fill="none"/>
<circle cx="1586.4" cy="314.5" r="3.4" fill="#0a10a0"/>
<path d="M976.5 438.8L1583 324" stroke="#ffff00" stroke-width="2.7" stroke-dasharray="9 7" opacity="0.72" fill="none"/>
<path d="M974.2 536.2h0" stroke="#0a0a30" stroke-width="5.2" stroke-linecap="round" fill="none"/>
<path d="M971.2 532.1l2 0 2 .3 2-.8 2-.2 2 0 2 .1 2 1 2-.4 2 0 2 .7 0 6.9-2 0-2 .4-2 .1-2 0-2-.1-2 0-2-1.1-2-.1-2 1-2 0z" fill="#00ffff"/>
<path d="M969.7 532.1h5m-5 7.8h5m-4-1.1h5m-2.9-5.6h5m-5 5.1h5m-4 .6h5m-3-7.3h5m-5 7.4h5m-4-7.2h5m-5 8.3h5m-4-8.7h5m-5 7.8h5m-3.9-7.7h5m-5 7.5h5m-4 .1h5m-4-6.6h5m-5 6.8h5m-4-6.1h5m-1.9-1.1h5m-5 7.6h5m-4-.8h5m-4-6.1h5m-5 6.9h5" stroke="#40ffff" stroke-width="1.1" fill="none" opacity="0.8"/>
<path d="M972.2 536.1l2 0 2.1 .1 2-.2" stroke="#050a20" stroke-width="2.8" stroke-linecap="round" stroke-linejoin="round" fill="none" opacity="0.9"/>
<path d="M1031.7 544.9l2 0 2-.4 2 0 2-.6 2 0 2 .7 2 .9 2 .6 2-.8 2 0 2 1.1 2 1.6 2 0 2-1.3 2 0 2 1.1 2-.7 2 0 2 1.5 2 .2 2 3.2 2 0 2-.1 2 0 2 .9 2 1.3 2 .1 2 1.3 2 .4 2 .7 2 1.6 2 .1 2 1.5 2 .3 2-.9 2 0 2 .7 2 .9 2 .4 2-.2 2-.6 2 0 2 1.5 2 0 2 1.6 2 1.6 2 0 2-.6 2 0 2 2.4 2-.6 2 0 2 2 2 0 2 .7 2 1.3 2 .4 2-.5 2 0 2 .9 2 0 2 .6 2 .4 2 .2 2 .8 2 1.1 2 0 2-.6 2 0 2-.8 2-.4 2 0 2-.4 2 0 2-.6 2 0 2 1 2-1 2 0 2 2.1 2-.1 2-.5 2 0 2 .9 2 1 2 .6 2 2.1 2 .6 2-.2 2-1.5 2 0 2 1.9 2 .5 2 .1 2-.3 2 0 2 .4 2 .3 2 0 2 1.3 2 1.2 2 0 2-.2 2-1.1 2 0 2 1.5 2 .3 2 .1 2 .3 2 .8 2 .1 2 .8 2 0 2 2.6 2 .3 2 .5 2 1.7 2 2.4 2 1.2 2 .7 2 1.6 2 .1 2 .5 2 .7 2 .2 2 .1 2 .4 2 .8 2-.1 2 0 2-.6 2 0 2 .1 2 1.2 2 0 2 1.6 2-.6 2 0 2 3.5 2-2.5 2 0 2 2.6 2 .3 2 0 2 2.2 2 0 2 0 2 .6 2 1 2 1.2 2-.4 2-.8 2 0 2 1.2 2 2.3 2 2.1 2 0 2 2.1 2 .3 2-.2 2 0 2 1.2 2 1.7 2 0 2 .2 2 1.2 2 1.5 2 .3 2 .5 2 1.2 2 .9 2 .6 2 .3 2 1.3 2 .9 2 0 2 1.1 2 .2 2 .4 2 .9 2 .6 2 .3 2 0 2 .1 2 0 2 1.1 2 0 2 .2 2 .3 2 .3 2 0 2 .6 2 .4 2 1.3 2 0 2 2.6 2 0 2 .2 2 .2 2-.2 2 0 2 0 2 2.1 2 1.4 2 .4 2 1.9 2 0 2 .1 2 0 2 .7 2 1.1 2-1 2 0 2 1.6 2 1.3 2 1 2-1.9 2 0 2 .6 2 .8 2 .3 2 .6 2 .8 2-1.1 2 0 2 0 2 0 2 2.4 2 0 2-2.8 2 0 2 2.4 2 0 2 1.8 2-1.6 2 0 2 2 2 0 2 .2 2 2.6 2 .3 2 .4 2 0 2 .4 2 .7 2-1.1 2-.4 2 0 2 .1 2-.6 2 0 2 .7 2-.2 2 0 2-.6 2-.1 2-1 2 0 2 .7 2-.4 2-.4 2 0 2 .6 2 1.8 2-.1 2 0 2 .1 2 .8 2 0 2-.2 2 0 2 .7 2 .2 2-.2 2 0 1 1.1 0 5.6-1 0-2 0-2 .6-2 1.1-2 0-2-.5-2 .2-2 0-2 0-2-.3-2 1.1-2 0-2-2.2-2 0-2 .2-2 .4-2 1-2 0-2-1.7-2 .6-2 .3-2 0-2-.4-2 .4-2 0-2-.2-2 1.1-2 1.1-2 0-2-.3-2 .2-2 0-2-.3-2-.7-2 0-2-.2-2 0-2 0-2 0-2-1.5-2 1.8-2 0-2-1.1-2-1.5-2-.3-2 .3-2 .2-2 1.6-2 0-2-3-2-.8-2 0-2-.6-2 .8-2 0-2-1.5-2 0-2-1.6-2 0-2-.2-2 0-2-.1-2-1-2-1.1-2-1.1-2 .1-2 0-2-.7-2-.8-2-1.5-2 0-2 0-2-1.6-2-1.5-2-.4-2 0-2-1-2-.4-2-.2-2 0-2-1.9-2-.8-2-1.6-2 0-2-.6-2-.2-2-.4-2-.6-2 .2-2 0-2-.8-2-.4-2-.5-2 0-2 0-2 0-2-.9-2-.4-2-.5-2-.8-2-1.2-2 .4-2 0-2-.5-2-1.4-2-.5-2-1.7-2 0-2-.1-2-.9-2-2.1-2 .8-2 0-2-1.7-2-.5-2-.6-2-2.5-2 0-2-.7-2-.4-2 0-2-1.1-2-1.6-2-1.8-2 0-2-.5-2 0-2-.4-2-.6-2-1.1-2 .2-2 0-2-1.5-2-.5-2 0-2-1.5-2 0-2-.5-2 0-2 .5-2 0-2-.8-2-2.4-2-.6-2 0-2-1.6-2-.4-2 .2-2 0-2 .2-2 0-2-.9-2 0-2-1.3-2-.7-2-1.3-2-.6-2 0-2-1.2-2-1.7-2-.2-2-2.8-2-.9-2 0-2-1.4-2 0-2-2.1-2 .5-2 .5-2 0-2-1-2-.3-2 0-2-.9-2-1.5-2 0-2-.4-2-.7-2-.1-2-.3-2-.3-2 .8-2 0-2-.4-2 0-2-1-2 .5-2 0-2 .2-2 0-2-1.3-2-.4-2 0-2 .2-2 .6-2 1.3-2 0-2-.1-2 0-2-2-2-.4-2 0-2-.8-2-1.7-2 .6-2 0-2-.8-2-.1-2-.7-2-1-2-.2-2 0-2-.4-2-.3-2-.5-2 0-2-.7-2 1.6-2 0-2-.7-2-.5-2 0-2-.5-2-1.6-2-.2-2-1.2-2 0-2 0-2-.1-2-.3-2-1.7-2 0-2-.7-2 0-2-1.6-2 0-2-1-2-.3-2 0-2-1.8-2-.3-2-.1-2 0-2-.6-2-.3-2 .1-2 0-2-1.2-2-1.3-2 0-2-1.2-2 1.5-2 0-2-.5-2 0-2-2.6-2-.4-2-1-2-1.7-2-.4-2 0-2-.2-2-1-2 0-2-.6-2-.5-2-1.2-2 0-2-.5-2 0-2-.4-2-.9-2-.5-2 0-2-.4-2-1.3z" fill="#00ffff"/>
<path d="M1030.2 544.9h5m-5 6.3h5m-4-5.9h5m-4-.3h5m-5 7.5h5m-3-8h5m-4 .6h5m-4-.5h5m-5 7.9h5m-3-8.1h5m-5 9h5m-3-8.8h5m-4 9h5m-4 1.1h5m-4-8.4h5m-4 8h5m-3-8.2h5m-5 9.1h5m-4-.8h5m-4-9.1h5m-4 1.1h5m-4 10h5m-4 .5h5m-4-8.3h5m-4-.6h5m-4 8.5h5m-4-7.5h5m-3-2.3h5m-5 10.9h5m-4-10.7h5m-5 11.6h5m-3-10.7h5m-3 9.8h5m-3 1.5h5m-1 2.7h5m-2 2.4h5m-4-12.1h5m-5 12.7h5m-4 0h5m-4-11.7h5m-4-1.2h5m-5 13h5m-4-12.6h5m-5 13h5m-3-12.5h5m-4 10.7h5m-3-9.3h5m-5 10.8h5m-4-10.8h5m-5 9.7h5m-2 2.4h5m-3 1.2h5m-3-.1h5m-4-.1h5m-4-9h5m-4 8.6h5m-4 .3h5m-4 .5h5m-4-7.2h5m-4 7.8h5m-4-.5h5m-4 .4h5m-4-9h5m-5 9.2h5m-4-8.3h5m-3 8.6h5m-4 1.1h5m-4 .7h5m-3-8.6h5m-4 .2h5m-5 8.7h5m-4-9.6h5m-4 10.6h5m-3-10.5h5m-5 9.5h5m-2 2.6h5m-4-11.5h5m-5 10.8h5m-3 1.4h5m-1-9h5m-5 10.7h5m-2.9-9.9h5m-5 10.2h5m-4-10.6h5m-5 10.5h5m-4-11.5h5m-5 11.7h5m-4-.1h5m-2-9h5m-4 9.1h5m-4-9.9h5m-3 11.3h5m-4-8.6h5m-5 8.5h5m-4 .6h5m-4-9.1h5m-4 0h5m-2 1.3h5m-4 .4h5m-5 9.5h5m-4-9.5h5m-1-.5h5m-2 9.5h5m-4-8.6h5m-4 .6h5m-3 .4h5m-5 7.7h5m-4-7.4h5m-5 8.1h5m-4-8.2h5m-5 8.5h5m-4-8h5m-3 .5h5m-5 7.9h5m-4-.4h5m-3-6.1h5m-5 6.2h5m-4-6.7h5m-5 7.2h5m-4-7.1h5m-3-.7h5m-5 9.3h5m-4-9.3h5m-5 9.5h5m-4-9.5h5m-5 9.6h5m-2-10.4h5m-5 11.2h5m-4-.8h5m-4-10.8h5m-3 11h5m-3-10.6h5m-5 12.3h5m-4-12.6h5m-2-1.1h5m-5 12.2h5m-2 4.5h5m-4-15.7h5m-5 15.9h5m0-14.8h5m-4 13h5m-3-13.1h5m-5 13.1h5m-4-12.7h5m-5 11.7h5m-4-12.6h5m-5 13.2h5m-4-12.3h5m-5 12.5h5m-1-10.9h5m-5 11.2h5m-2-9.1h5m-5 10.5h5m-4-9.8h5m-5 9.1h5m-4-.2h5m-4 .7h5m-4-9.7h5m-4 9.2h5m-4-9.4h5m-4-.7h5m-4-.8h5m-3 11.9h5m-4-9.5h5m-3 .1h5m-5 9.8h5m-4-9.3h5m-4 .3h5m-4-.2h5m-5 7.1h5m-4-8h5m-4 .6h5m-5 8.7h5m-3 .3h5m-3-8.3h5m-5 8.6h5m-4-8.7h5m-5 8.6h5m-4 .2h5m-4 .7h5m-3 .4h5m-4-6.7h5m-5 6.1h5m-4-6.7h5m-3 .1h5m-5 8.3h5m-4-8.6h5m-5 9h5m-4-9.6h5m-5 10.5h5m-3-11.6h5m-4 .9h5m-4 10.9h5m-4-10.3h5m-4 .3h5m-5 11.1h5m-3-.5h5m-2-9.8h5m-5 8.1h5m-4 1.2h5m-4-.2h5m-3-8.6h5m-5 10.9h5m-2-10.1h5m-5 11.5h5m-3-.1h5m-4-8.7h5m-5 8.8h5m-4-7.9h5m-5 8.8h5m-4-9.5h5m-4 .5h5m-4 11.8h5m-3 .2h5m-2 2.9h5m-4-1.1h5m-4 0h5m-4-7.8h5m-5 8.6h5m-4 .6h5m-4 .3h5m-4-7.2h5m-4 8.5h5m-4-8.6h5m-3 10.6h5m-4-9.9h5m-2 .3h5m-5 9.8h5m-3-9.4h5m-5 9.6h5m-4-.1h5m-4 .2h5m-4-7.3h5m-5 7.5h5m-4-8.1h5m-5 7.2h5m-4-8.2h5m-4 .9h5m-5 7h5m-4 1h5m-4-8.2h5m-3-1.4h5m-5 10.8h5m-4-10.3h5m-5 11.1h5m-3-11.5h5m-5 11.1h5m-2-9.9h5m-4 .8h5m-3 .8h5m-4 11.5h5m-4 .4h5m-4-12.5h5m-5 12.6h5m-3.9-11.8h5m-5 11.7h5m-4-.4h5m-3-8.5h5m-5 9.5h5m-4-9.6h5m-5 9.2h5m-3-11.7h5m-5 12.1h5m-3 1.5h5m-4-.5h5m-4 0h5m-4-10.2h5m-2 2.3h5m-4-.1h5m-5 9.8h5m-4-8.9h5m-4-.9h5m-5 10.1h5m-4 .2h5m-3-9.7h5m-5 10.8h5m-4-9.8h5m-5 10.4h5m-2-9.2h5m-5 9.6h5m-3-9.6h5m-2-1.2h5m-4 .8h5m-5 10.4h5m-4-10h5m-5 11.1h5m-3 2.4h5m-4-.6h5m-3-7.7h5m-5 9.4h5m-4-.9h5m-4-8.2h5m-5 8h5m-3 1.5h5m-4-7.6h5m-5 8.3h5m-4-8.9h5m-5 8.1h5m-4-8.1h5m-4 .6h5m-4 0h5m-3 .4h5m-5 11h5m-3 .5h5m-2-9.8h5m-4 .3h5m-3 1.1h5m-3 11.4h5m-3-9.4h5m-5 10.3h5m-4-10.5h5m-1 1.7h5m-4 9.9h5m-4-9h5m-5 9.7h5m-4-9.1h5m0 11.5h5m-2-1.2h5m-3-6.7h5m-4 0h5m-5 8.7h5m-4-.2h5m-4-8.3h5m-5 9.3h5m-4-8.8h5m-5 8.6h5m-4-8.7h5m-4 .9h5m-5 8.9h5m2-7.3h5m-5 8.2h5m-4-1.1h5m-4-6.8h5m-5 7.3h5m-4-8.2h5m-5 9.3h5m-4-1.1h5m-3-6.9h5m-5 8.4h5m-4-8.5h5m-5 9.3h5m-4-9.4h5m-4 9h5m-4-8.7h5m-5 8.9h5m-4-.6h5m-4-.2h5m-4 .3h5m-4-7.5h5m-5 8.6h5m-4-8.2h5m-3 8.2h5m-3-8h5m-5 9.2h5m-3-.7h5m-4-6.5h5m-4-.7h5m-4 9.3h5m-4 1h5m-4-.4h5m-4-6.6h5m-3 8.3h5m-4-8.8h5m-4 9.6h5m-4-8.5h5m-5 7.9h5m-4-8.8h5m-4 .2h5m-5 9.6h5m-4 .5h5m-4-9.3h5m-5 9.8h5m-4-.4h5m-2 .8h5m-4 .7h5m-3 2.4h5m-2-.7h5m-4-8h5m-4 .8h5m-3-.1h5m-3-.6h5m-5 10.9h5m-4-10.2h5m-4 .1h5m-5 10.8h5m-3-.1h5m-4-9h5m-4 0h5m-5 9h5m-3-10.7h5m-5 11.8h5m-4 1.1h5m-3 1h5m-4-.9h5m-4 1h5m-1-12h5m-5 11.8h5m-4-11h5m-5 11.4h5m-2-10.8h5m-5 12.4h5m-4-11.7h5m-3-.4h5m-4 .6h5m-4 12.2h5m-3 0h5m-4-1.2h5m-4-10.2h5m-5 10.5h5m-3-11.6h5m-3 0h5m-4 0h5m-4 13.6h5m-3 3.3h5m.1-17.3h5m-5 14.3h5m-4 .7h5m-4-.2h5m-4 .4h5m-4-11.8h5m-3 13.6h5m-3-12.5h5m-4-.1h5m-3-1.8h5m-2 2h5m-5 13h5m-4-12.7h5m-5 12.9h5m-4-13h5m-2 2.6h5m-5 10.4h5m-3-10.1h5m-5 9.1h5m-4 .5h5m-4-9.2h5m-5 9.9h5m-4-9.9h5m-4 .2h5m-4 .4h5m-5 9.7h5m-4-9.9h5m-4 9.8h5m-4 .7h5m-4-9h5m-5 8.2h5m-4-9h5m-5 9.6h5m-4-10.5h5m-5 10h5m-4-10.2h5m-4-.3h5m-4-.1h5m-5 10.3h5m-4 0h5m-4-.6h5m-4-.5h5m-3-8.7h5m-2 8.5h5m-4-8.2h5m-4 8.2h5m-3-9h5m-5 8.6h5m-4-8.4h5m-5 9.2h5m-4-.8h5m-3 .5h5m-4-9.8h5m-4 .7h5m-5 8.3h5m-4-.1h5m-4-9.9h5m-3 1h5m-5 10.9h5m-4-10.6h5m-4-.6h5m-5 10.2h5m-3-10.6h5m-5 10.2h5m-4-.6h5m-3-9.4h5m-5 9.8h5m-4-.4h5m-4 0h5m-3-6.8h5m-5 9.4h5m-4-8.4h5m-3-1.9h5m-4 9h5m-4-8.9h5m-5 8.7h5m-4-7.9h5m-3 0h5m-4 .2h5m-5 8.1h5m-4-.7h5m-4-7.3h5m-4-.2h5m-5 7.5h5m0-6.3h5m-4 .2h5m-4-.8h5m-4-.2h5m-5 6.7h5m-4-5.6h5m-5 5.6h5" stroke="#40ffff" stroke-width="1.1" fill="none" opacity="0.8"/>
<path d="M1032.7 548.5l2 .3 2 0 2-.1 2 .1 2 .4 2 .6 2 0 2 .1M1050.7 549.7l2 0 2-.2 2 .5 2 .9 2 1 2 .7M1064.7 553.1l2 .6 2 .9M1070.7 555.5l2 .8 2 .4 2 1.2 2 .5 2 .4 2 .4 2 .6 2 .5 2 1.3M1090.7 561.7l2 1.2 2 .5 2 .7 2 .7 2 .4 2 .1 2 .6 2 .4 2 .2 2 .4 2 .2 2 .1 2 .4 2 .6 2 .4 2 .4 2.1 1 2 .5 2 .6 2 .6M1132.8 572.6l2 .6 2 .5 2 .5 2 1.1 2 .7 2 .5 2 .2 2 .4 2 0 2 .1 2 .4 2 .3 2 .2 2 .4 2 .3 2 .6 2 .2 2 .5 2 .1 2 0M1173.8 580.3l2 0 2 .6 2 .2 2-.4 2 .8 2 .2 2-.5 2 0 2 .5 2 .4 2 .4 2 .3M1199.8 582.7l2 .1 2 0 2 .2 2 .2M1208.8 583.5l2 0 2 0 2-.4 2 .2 2 .3 2 0 2-.3 2 .3 2 .1 2 .3 2 .3 2 .7M1244.8 587l2 .7 2 0 2 .2 2 1 2 1.3 2 1.3 2 1.2 2 1.5 2 1 2 1.3 2 1.2 2 1.2M1270.8 599.8l2 1 2 .5 2 .1 2 .4 2 .3M1282.8 602l2 .4 2 .6 2 0 2 .5 2 .4 2 .2 2 .1 2 .4 2 .4 2 0 2 .9 2 .4 2.1 .4 2 .2M1311.9 607l2 .2 2 .8 2 .6M1318.9 608.8l2 .5 2 1.3 2 .7 2 1.2 2 .7 2 .7 2 .9 2 .6 2 .8 2 1.4 2 .5 2 1 2 .4 2 .5 2 .3 2 .8 2 .8 2 1M1356.9 623.3l2 .6 2 .7 2 .9 2 .4M1382.9 632.8l2 .5 2 .7 2 0 2 .5 2 .3 2 .3 2 .3 2 .4 2 .4 2 .3 2 .6 2 .4 2 .5 2 .4 2 .9 2 .6M1416.9 640.7l2 .4 2 .8 2 .4 2 .6 2 .6 2 .7 2 .5 2 .3 2 .8 2 .1M1437.9 646.3l2-.1 2 .3 2 .7 2 .5 2 .9 2 .7 2 .3 2 .6 2 .7 2 .8 2 .4 2 .6 2 .6 2 1.1 2 .8 2 .5M1470.9 656l2 .5 2 .6 2-.1 2 .6 2 .3 2 0 2 .2 2 .6 2 .5M1543 660.1l2-.1 2 .1 2 .3 2-.2 2 0 2 0 2 .1 2 .1 2-.2 2 .2 2 .1 2 .5 2 0 2 .1 2 0 2-.1M1577 661.3l2 .1 2 .2" stroke="#050a20" stroke-width="2.8" stroke-linecap="round" stroke-linejoin="round" fill="none" opacity="0.9"/>
<path d="M989.5 536.2L1032.7 548.1" stroke="#e02020" stroke-width="2" fill="none"/>
<circle cx="1586.4" cy="665.2" r="2.9" fill="#0a10a0"/>
<path d="M976.5 534.5L1585 677.5" stroke="#ffff00" stroke-width="2.7" stroke-dasharray="9 7" opacity="0.72" fill="none"/>
<path d="M101.2 822.3l2-.1 2 0 2 .2 2 .9 2-.7 2-.2 2-1.1 2 0 2 .3 2 0 2 1.1 2-2.3 2 0 2 .6 2 1.5 2-2.9 2 0 2-1.6 2 0 2 .7 2 1.3 2-.3 2 0 2 1.4 2 1.7 2-2.1 2 0 2 1.5 2-.9 2 0 2 2.4 2 1.7 2-.6 2-.7 2 0 2 1.9 2 .5 2 1.6 2 2.6 2-1.6 2 0 2 0 2 2.5 2 0 2-.7 2 0 2-.7 2 0 2 .1 2 .9 2-5.8 2 0 2 5.3 2-3.6 2 0 2 1.6 2 .7 2 4.7 2-.8 2 0 2 2.3 2 1.7 2 3.5 2-2.7 2 0 2 1.2 2 .2 2 0 2 2.1 2 0 2-.1 2 0 2 2.2 2 2.2 2 0 2-.6 2-.6 2-1.3 2 0 2 2.2 2-.4 2-1.5 2 0 2 .8 2 0 2 .8 2 1.6 2 1.6 2-3.1 2-.1 2-.5 2 0 2 .5 2 2.3 2 .2 2 0 2 .1 2-.3 2-1.7 2 0 2 1.4 2 1 2 1.3 2 1.1 2 1.9 2 0 2 1.7 2 .2 2 0 2 2.7 2 0 2-1.5 2 0 2-1.5 2 0 2 .6 2 0 2 1.5 2 0 2-.5 2 0 2 1.2 2 .7 2 .5 2 .1 2 0 2-.8 2 0 2 2 2 .7 2 0 2 1.9 2 0 2 1.5 2 0 2-.6 2-.3 2 0 2 2.3 2 0 2 .6 2 0 2 1 2 4.3 2-1.8 2 0 2 .2 2 0 2 .5 2-1 2 0 2 .7 2 0 2 1.7 2 0 2-.4 2-.8 2 0 2 1.9 2 2.6 2-1.6 2 0 2-.1 2 0 2 2 2 2.6 2 0 2 1.1 2-2.7 2-1.4 2 0 2 2.3 2-1.1 2 0 2 3 2 .4 2 2.7 2 0 2 1.4 2-2.7 2 0 2 1.5 2 0 2 .1 2 0 2 1.7 2 .8 2-.5 2-.9 2 0 2-3.9 2 0 2 .2 2 3 2-1.3 2 0 2 1.1 2 3.7 2 2.7 2-.2 2 0 2 1.5 2 0 2-.4 2 0 2 4.4 2-1.3 2 0 2 .2 2 0 2 3.4 2 .1 2-.3 2 0 2-1.3 2-.9 2 0 2-2.7 2 0 2 .7 2 .1 2 1.5 2-.7 2 0 2 .9 2 6.2 2 0 2 1.3 2 .7 2-1.4 2 0 2 1.3 2 4.6 2 .4 2 0 2 .7 2 .3 2 .3 2 2.3 2 1.3 2-1.7 2 0 2 1.8 2-.6 2 0 2-1.3 2 0 2-.3 2 0 2-1 2 0 2 .7 2 1.5 2-1.4 2-1.8 2 0 2 .2 2 0 2 .7 2 0 2 0 2 .5 2 2.8 2 0 2 .2 2 3.1 2 .4 2 0 2 .7 2 0 2-.9 2 0 2 2.6 2-.1 2 0 2-.7 2-1 2-2.3 2 0 2 2.1 2-1 2 0 2 2.1 2 0 2 4.6 2 0 2-2 2-1.8 2 0 2 4.4 2 0 2 1.6 2 3.4 2 0 2 .8 2 2.6 2 .8 2 .1 2 .3 2 .1 2-.3 2 0 2 2 2-.9 2 0 2 .8 2-.3 2-1.6 2 0 2 1.7 2 3 2-1.3 2 0 2 3 2-1.7 2 0 2-1 2 0 2 3.2 2 .3 2 0 2 .9 2-1.7 2 0 2 4 2-.6 2 0 2 3 2 0 2 3.1 2-.4 2-.1 2-.8 2 0 2 .9 2 0 2 .9 2-1.9 2 0 2 .3 2 0 2 .5 2 3.3 0 18.7-2 0-2-.5-2 .6-2 0-2-.6-2 1.3-2 0-2-.9-2-1.2-2 0-2 .5-2 0-2 .1-2 0-2-3.2-2-1.1-2 .5-2 0-2-2.8-2 1-2 .1-2 .4-2 0-2-1.5-2 0-2-2.4-2-1.9-2 5.4-2 0-2-.9-2-2.9-2 0-2-1.6-2-.2-2-.3-2 0-2 .6-2 0-2-2.2-2-3.3-2-2.2-2 1.2-2 2.3-2 0-2-.7-2-2.6-2-.3-2-1.5-2-.5-2 1.4-2 .3-2 0-2-1.3-2-1.7-2 0-2-.4-2 0-2-1.4-2-1.2-2-2.2-2 1.5-2 0-2-4.1-2 0-2-1.4-2 .4-2 2.7-2 0-2-2.8-2 2-2 0-2-1.1-2 .4-2 0-2-1.1-2 0-2-2.6-2-1.5-2 .1-2 0-2-.8-2 .9-2 0-2-1.6-2-.5-2 .4-2 0-2-.9-2 1.2-2 1-2 .3-2 0-2-1.3-2-.7-2 1.3-2 0-2-2.3-2 1.3-2 .5-2 0-2-1.4-2-.9-2 .8-2 0-2-1.6-2-.4-2-1-2 .2-2 0-2-1.9-2 0-2-.9-2 1.2-2 0-2 0-2-1.5-2 0-2-3.7-2 0-2 .8-2 0-2-1.9-2-1.5-2 0-2-5.9-2 4.5-2 0-2-1-2-.3-2 0-2 2-2 0-2-3.8-2 0-2-.4-2 0-2-.5-2-3.1-2-.5-2-1.9-2-1.2-2 .8-2 1.6-2 0-2-1.7-2-1.4-2 0-2-2.2-2 2.5-2 0-2-1.9-2 2.7-2 0-2-.4-2 0-2 1.2-2 0-2-1.1-2-2.1-2-.4-2 1.9-2 0-2-4.1-2-.3-2 .4-2 0-2-.6-2-1.6-2-3.5-2 0-2-1.6-2 1.1-2 0-2 3.8-2 0-2-2.3-2-.7-2-.3-2 0-2-.7-2-.8-2 0-2-1.3-2 .2-2 0-2 1.4-2 0-2 .9-2 1-2 0-2-.7-2 0-2-3.9-2 3.3-2 0-2-2.2-2 .1-2 0-2-4.7-2 0-2-.5-2 0-2-.5-2-1-2-1-2-1.2-2 0-2-2-2 0-2 .1-2 0-2-.7-2-1.6-2 .8-2 0-2-2-2 1.1-2 1.1-2 0-2-1.5-2-3.2-2 2.6-2 0-2-2.3-2 1.7-2 0-2 2.1-2 0-2-2.8-2-.4-2 0-2 2.1-2 0-2-2.4-2-2.3-2 .8-2 0-2-1.5-2 0-2-5.7-2 .2-2 1.5-2 0-2 .5-2 0-2-.1-2-.7-2 0-2-2.2-2-.8-2 .7-2 .7-2 1.8-2 0-2-.7-2 0-2 .6-2 0-2-6-2-.5-2 2.3-2 1.2-2 0-2-.7-2-1.7-2 0-2-3.4-2 1.2-2 2.1-2 0-2-2-2 1-2 0-2-2.1-2 0-2-1.8-2 1.6-2 0-2-1.1-2-.6-2-.8-2 0-2-1-2-1.6-2 0-2-1.2-2-1.3-2-2.9-2 0-2 .9-2 .3-2 0-2 .1-2 0-2-.1-2-.8-2-.6-2-.8-2-.9-2-.9-2-1.1-2 0-2 .2-2 0-2-.5-2-1.2-2-1.5-2-.5-2-.4-2 1.2-2 .3-2 0-2-1.2-2-.4-2-.8-2 1.7-2 .3-2 0-2 3.1-2 0-2-1.7-2 1.2-2 0-2-2.8-2-.1-2-1-2 0-2 0-2-1.8-2-1.5-2 0-2 .1-2 0-2-.3-2-.9-2-1.1-2-1.4-2 3.1-2 0-2-3-2 .5-2 0-2-2z" fill="#00ffff"/>
<path d="M99.7 822.3h5m-4 .5h5m-4-.6h5m-3 13h5m-4 .6h5m-3-11.9h5m-3-.5h5m-4-.8h5m-5 12.3h5m-4-11.6h5m-3-2h5m-5 16.1h5m-3-15.4h5m-4 .2h5m-4-.6h5m-3 17.6h5m-4-16.5h5m-5 17h5m-2-19.3h5m-4 19.2h5m-4-18.6h5m-5 18.1h5m-4-.2h5m-2 4h5m-3-.6h5m-2-21.5h5m-4 23.1h5m-4-25.9h5m-4 .7h5m-5 25.3h5m-3 2.8h5m-4-26.8h5m-3 .3h5m-4-.6h5m-5 25h5m-2 2.6h5m-.9-3.1h5m-4-23.5h5m-5 23.2h5m-2-20.6h5m-2-2h5m-5 21.4h5m-4 .3h5m-3-19.3h5m-3 20.9h5m-4-.3h5m-4-17.8h5m-4-1h5m-3-1.4h5m-2 19.4h5m-4 .3h5m-3 1.6h5m-1 1.8h5m-2-18.1h5m-5 17.4h5m-4-17.4h5m-5 17.9h5m-4-.9h5m-2-14.5h5m-5 15.7h5m-4-14.5h5m-5 15.3h5m-3-16.1h5m-5 17h5m-4-18.1h5m-1 19.8h5m-2 1.4h5m-4-20.6h5m-5 20.7h5m-3-20.8h5m-3-6h5m-4 26.7h5m-3-21.4h5m-5 21.1h5m-4-20.1h5m-3-4.6h5m-4 23.6h5m-3-22h5m-4 .7h5m-2 25.7h5m-3-20.9h5m-3-.9h5m-5 22.5h5m1-14.4h5m-5 17.2h5m-4-16.7h5m-4 17.8h5m-4-.5h5m-4-21.1h5m-5 22.2h5m6 3.4h5m-3-22.2h5m-3 21.2h5m-2-15.1h5m-5 17.1h5m-.9-18.7h5m-4-.7h5m-5 16.1h5m-4-15.9h5m-4 18.7h5m-4-19.5h5m-5 20.1h5m-2 1.7h5m-1-.5h5m-3-22.3h5m-3 20h5m-3-19.2h5m-4 0h5m-5 19.7h5m-3-18.9h5m-5 24.9h5m-3-1.1h5m0 1.2h5m-4-.6h5m-4-24.4h5m-4 .1h5m-3-.6h5m-4 .5h5m-2 2.3h5m-4 .4h5m-5 19.9h5m-3-20.1h5m-3 .1h5m-5 22.2h5m-1 .8h5m-3-25h5m-2 1.4h5m-4 1h5m-3 19.9h5m-3-17.5h5m-5 18h5m-4-17.9h5m-3 23.6h5m1-19.7h5m-4-.2h5m-3 22.9h5m-3 1.8h5m-4-21h5m-5 21.6h5m-2-24.1h5m-4 1.1h5m-5 20.9h5m-4-21.6h5m-4 21.1h5m-4 .8h5m-4-22.8h5m-2-.4h5m-2 1.5h5m-3 1h5m-3-1h5m-4-.5h5m-5 23.6h5m-3-22.4h5m-4 1.1h5m-4-.3h5m-3.9-.1h5m-4 .5h5m-5 21.8h5m-3-21h5m-5 22.5h5m-3-23.2h5m-4 21.7h5m-3-19.8h5m-5 18.7h5m-3 .4h5m-3 2h5m-3-21h5m-4-.1h5m-5 19.9h5m-4-19.3h5m-5 18.3h5m-3 3h5m-3-20h5m-5 20.7h5m-4-.1h5m-1 0h5m-2-19.7h5m-4 21.3h5m-2-19.2h5m-5 20.8h5m-4-20.9h5m-4 .3h5m-2 .3h5m-4 .9h5m-5 21.9h5m-4-21.8h5m-2 22.3h5m-1-19.8h5m-5 24.5h5m-2-23.6h5m-2-.1h5m-5 25.8h5m-2-26.9h5m-2 27.5h5m-2-.3h5m-3-24.8h5m-5 24.8h5m-1-.9h5m-4-24.3h5m-3-.8h5m0 4.5h5m-5 18.7h5m-4 .3h5m-3-20.6h5m-5 21.9h5m-2-22h5m-5 22.8h5m-3 .4h5m-4 .3h5m-1 .3h5m-2-18.1h5m-1-4.1h5m-.9 20.3h5m-4-17.2h5m-4 18.3h5m-4-20.2h5m-5 20.7h5m-2 3.5h5m-2-17.3h5m-5 18.9h5m-4 .6h5m-4-.4h5m-3-1.1h5m-3 0h5m-4 .6h5m-4-20.7h5m-5 21.5h5m1 2.2h5m-4-22.1h5m-5 22.5h5m-2-20.8h5m-5 22.9h5m0-21.4h5m-5 21.3h5m-2-2.4h5m-4-20.2h5m-4-.4h5m-5 23.4h5m-3-27.7h5m2 1.9h5m-5 21.3h5m-4 1.2h5m-4-21.4h5m-1 24.4h5m-4 .6h5m3-17.3h5m-5 16.6h5m-2 2.5h5m-4 .6h5m-4-.3h5m-2-13.1h5m-5 17h5m-4 .5h5m-4-21.1h5m-5 20.1h5m-3-19.1h5m-3-.8h5m-5 21.3h5m-2-17.8h5m-5 20.6h5m-4 1h5m-1-2.2h5m-4 .2h5m-4-1.1h5m-3 1.4h5m-3-22.4h5m-5 23.4h5m-4-22.8h5m-1-2.6h5m-4 26.8h5m-4-1.1h5m-.9 4.5h5m0-28.4h5m-5 27.6h5m-2-20.2h5m-5 23.9h5m0 .4h5m-4 1.1h5m-2-26h5m-5 23.9h5m-4 .3h5m-4 .6h5m-3 .9h5m-4-.1h5m-3-19.3h5m-5 21.3h5m0-20.3h5m-4 .3h5m-5 20.8h5m-4-.8h5m-2 2.8h5m0-20.3h5m-5 19.5h5m-4 .7h5m-4 .2h5m-3-18h5m-5 19.4h5m-3-21.2h5m-5 20.7h5m-3-1.9h5m-3-20.1h5m-4 .7h5m-4 22.3h5m-3-1.3h5m-1-23h5m-4 .7h5m-5 23.2h5m-4 1.1h5m-3-.3h5m-2-3.2h5m-4 1h5m-2 .9h5m-2-24.2h5m-5 23.8h5m0-23.1h5m-4 25.2h5m-4-.9h5m-3-20.5h5m-3 21.3h5m-2-21.6h5m-5 21.5h5m-2-17.3h5m-4-.7h5m-4 .4h5m-5 21.7h5m-4-22.1h5m-1.9 .7h5m-1-.9h5m-2 24.1h5m-3-20.6h5m-4-1h5m-3 21.6h5m-4 .8h5m-3-23.1h5m-2 20h5m-2 1.4h5m-1 4.1h5m-2-1.5h5m-2-18.6h5m-5 20.8h5m-4-21.7h5m-4 .1h5m-4 24.2h5m0-28.1h5m-3 4.6h5m-2 1.4h5m-5 25.5h5m-4-1h5m-4 .7h5m-3-21.4h5m-5 20h5m-4-20.4h5m-4 .8h5m-2 3.8h5m-3 17.8h5m-2-17.8h5m-5 20.7h5m-3-20.6h5m-5 21.3h5m-3-20.8h5m-5 18.5h5m-3-19.3h5m-3 2.1h5m-5 16h5m-4-16.1h5m-2-.9h5m-3 2.9h5m-2-2.1h5m-4 23.3h5m-3-25.2h5m-2 1.7h5m-5 23.8h5m-3-19.9h5m-3 21.7h5m-4-23.9h5m-5 22.8h5m-2-18.7h5m-5 22.7h5m-2-25.5h5m2.1 3.2h5m-5 22.1h5m-2 1.5h5m-3-.4h5m-4-23h5m-4 22.9h5m-3-1.7h5m-4-.2h5m-4 .9h5m-2-19.6h5m-5 22.4h5m-4-23h5m-4 21.9h5m-2-18.9h5m-4 .7h5m-1 22.9h5m-4-20.9h5m-5 21h5m-2-21.1h5m-4-.8h5m-5 21.4h5m0 1.2h5m-3-20.3h5m-4 .1h5m-4 19.5h5m-3-22h5m-3 22.9h5m-3-22.6h5m-5 22h5m-3-.1h5m-4 .6h5" stroke="#40ffff" stroke-width="1.1" fill="none" opacity="0.8"/>
<path d="M102.2 828.5l2 .1 2 .6 2 .6 2-.5 2 .3 2 .6 2 .6 2 .9 2 0 2 1.6 2 .3 2 .1M128.2 834.7l2 1.1 2-.7 2-.9 2-1.1 2 .4 2 .2 2 .5 2-.7 2 0 2-.7 2-.3 2.1-.1 2 .7 2-.4M205.3 832.5l2 1.4 2 .5 2 1.5 2 0 2 2.1 2 1.8 2 1.2 2 2.2 2 1.8 2 1.3 2 0 2 1.3 2 2.4 2-.2 2 1.1 2 .2M239.3 851.9l2 .4 2 1.2 2 .1 2 1.9 2.1 1.4 2 .7 2 .2 2 .2 2-.3 2 1.4 2 1.3 2 1.1 2-.6M305.4 859.7l2 .9 2 1.3 2 .4 2 1.7 2-.8 2 2.4 2 1.1 2 .7 2-.6 2 0 2-.3 2-.9 2-.7M357.5 866.7l2 .1 2-1 2 1.1 2 1M366.5 868l2 .1 2 .6 2 .2 2 2.3 2 .5 2 1.6 2 1.1 2-.7M744.9 954.5l2 .3 2 .1 2-.6 2 .8 2 1.8 2 .1 2 .4 2 1.5 2 1.4 2 .8 2 .3 2 .5 2 .4 2 .1 2-.1 2 .7 2 .7 2 1.2 2 .1 2-.1" stroke="#050a20" stroke-width="2.8" stroke-linecap="round" stroke-linejoin="round" fill="none" opacity="0.9"/>
<circle cx="154" cy="820.5" r="2.9" fill="#0a2a9a"/>
<circle cx="151.9" cy="845.4" r="2.9" fill="#0a2a9a"/>
<circle cx="205" cy="828" r="2.9" fill="#0a2a9a"/>
<circle cx="295" cy="845" r="2.9" fill="#0a2a9a"/>
<circle cx="541" cy="915" r="2.9" fill="#0a2a9a"/>
<circle cx="655" cy="917" r="2.9" fill="#0a10a0"/>
<circle cx="785" cy="968" r="2.9" fill="#0a2a9a"/>
<path d="M102.2 823.8L786 958" stroke="#ffff00" stroke-width="2.7" stroke-dasharray="9 7" opacity="0.72" fill="none"/>
<path d="M102.2 1219.7h0m1-.4h0m1 .3h0m3-.7h0m1-.2h0m1 .1h0m1-.1h0m1-.4h0m3-1.7h0m3-.7h0m2 .4h0m2-.7h0m2 .1h0m1-.7h0m5-1h0m1 .1h0m4-1.6h0m1-.8h0m2-.8h0m1-.7h0m3 0h0m1-.1h0m3-1.3h0m3-.9h0m2-.5h0m2.1 .8h0m1-.1h0m4-.8h0m3 .3h0m1-.2h0m2-.3h0m4-1.7h0m5-1.1h0m3-.7h0m7-1.8h0m1-.6h0m5-1.2h0m1-.2h0m3-2h0m3-.7h0m1 .8h0m2 .1h0m2-1.6h0m2-.1h0m5-.7h0m5-1.8h0m2-.3h0m2-.4h0m1-.4h0m1-.1h0m1-.9h0m5-.6h0m1 0h0m1 .1h0m1-.6h0m3 .1h0m1-.6h0m1-.6h0m1 .1h0m3-1.5h0m2 0h0m1 0h0m1-.2h0m5-2.1h0m1-.1h0m1 0h0m2.1-.7h0m1-.4h0m1-.1h0m6-1.4h0m1-.3h0m1-.7h0m1 .2h0m2-.7h0m1 .1h0m5-1.3h0m1-.1h0m1-1h0m6-.8h0m1-.1h0m1-.9h0m5 .2h0m1 .2h0m3 .1h0m1-.5h0m2-1.8h0m1 .1h0m2-.2h0m4-.6h0m1-.5h0m1 .1h0m1-.1h0m1-.1h0m2-.1h0m1-.9h0m1-.1h0m2-.3h0m2 .8h0m1-.6h0m1 .1h0m1-.8h0m3-.4h0m2 0h0m1 .3h0m3-.7h0m2-.5h0m1-.5h0m1-.2h0m1-.6h0m4-.4h0m1 0h0m1-.5h0m1-.2h0m2-.5h0m2-.7h0m1 .2h0m6-2h0m1-.2h0m1.1 .4h0m1-.8h0m5-.1h0m1 .1h0m1-.7h0m2-1.2h0m4-.1h0m1-.4h0m1-.4h0m3-1.1h0m3-1.5h0m1-.3h0m3-.2h0m1 .2h0m1 0h0m2-1.3h0m2-1h0m3-.4h0m1 0h0m5-1.1h0m3-.8h0m3-.3h0m1-.4h0m2-.4h0m4-.3h0m1-1.4h0m5-.1h0m1-.6h0m2-.7h0m1-.3h0m1-.2h0m1-.2h0m3 .1h0m4-.9h0m1-.5h0m3-.5h0m1-.5h0m2-.4h0m1-.3h0m1-.7h0m3-.3h0m2 .5h0m1 .1h0m3-1.4h0m2 .1h0m2-.7h0m5.1 .8h0m1-.1h0m2-1.5h0m1-.1h0m2 .3h0m4-1.3h0m3-.2h0m1-.4h0m1-.1h0m3-1.2h0m1-.6h0m1 .3h0m1-.1h0m1 .5h0m2-.1h0m1 0h0m2-1.2h0m2 0h0m1-.2h0m2-.8h0m1-.2h0m1 .4h0m2-.1h0m1-.8h0m1-.6h0m1 .7h0m2-1.6h0m3-.7h0m2-.5h0m1 .1h0m3-.9h0m1 .2h0m1-.4h0m2-1.6h0m2-.6h0m4-.1h0m2 .4h0m3-1.3h0m3-1.8h0m3-.5h0m1-.5h0m2 .1h0m2-.9h0m7-1.2h0m3 0h0m2-.2h0m2-.7h0m2-.3h0m5.1-.7h0m5-2.2h0m1-.1h0m2-.6h0m1-.6h0m3 .2h0m2-.7h0m2 .3h0m2-.5h0m1 0h0m2-1.4h0m1-.1h0m1-.5h0m1 .4h0m4-.4h0m6-.7h0m1-.2h0m1-.1h0m1-.5h0m2-1.3h0m4-.3h0m2 .1h0m6-.7h0m5-1.1h0m1 .4h0m2-.8h0m2-1h0m1-.1h0m5-.9h0m1-.2h0m8-2.8h0m1-1h0m1-.9h0m2 .4h0m2-.3h0m1 .2h0m1-.3h0m1-1h0m1-.7h0m1-.7h0m2-.1h0m5-1.7h0m1 .5h0m1.1-.2h0m1-.2h0m4-.2h0m1-.5h0m2 0h0m1 .4h0m1-.3h0m4-1.2h0m1 .3h0m2 .1h0m2-.6h0m2-.6h0m2-1.8h0m4-1.1h0m6-1.8h0m4 .1h0m1-1.1h0m1 .2h0m4-2.4h0m1-.4h0m1-.6h0m1-.1h0m1-.2h0m4-.3h0m2 .1h0m1-.9h0m1-.1h0m2-.2h0m4-1.2h0m2 .5h0m2-.8h0m1 0h0m4 .4h0m9-1.4h0m2-.9h0m1-.7h0m1 .5h0m1 .6h0m3-.5h0m2-.3h0m2-1.2h0m3-.2h0m1 .1h0m5.1-1.2h0m6-1.7h0m1-.4h0m1 0h0m3-.6h0m2-1.2h0m1-.9h0m3-1.6h0m3 .1h0m1-.4h0m1 .3h0m2-.8h0m5-1.7h0m1-.4h0m1 .1h0m2 1.3h0m1-.2h0m1 0h0m3 .8h0m3 .1h0m3-.2h0m1-.7h0m1-.1h0" stroke="#0a0a30" stroke-width="6.2" stroke-linecap="round" fill="none"/>
<path d="M116.2 1216.7h0m11-1.9h0m17-6h0m14.1-1.7h0m1-.3h0m10-2.1h0m4-.8h0m1-.3h0m2-.5h0m4-1.6h0m5-.9h0m26-6.2h0m9-2.5h0m8-1.5h0m1 .3h0m14-4.4h0m12.1-2.5h0m9-2.1h0m1-.1h0m20-3.9h0m4-1h0m27-4.5h0m11-1.7h0m2-.1h0m5-2.6h0m7-1.3h0m8.1-1.6h0m15-3.3h0m3-1.3h0m17-3.8h0m1 .2h0m7-2.4h0m10-2.3h0m2-.8h0m1 .8h0m3-.6h0m10-2.7h0m3-.7h0m27.1-3.8h0m6-1.4h0m1 .4h0m2-.8h0m1 0h0m30-6h0m22-4.7h0m2-1.7h0m1-.4h0m6-1.1h0m4-1.2h0m12-1.9h0m6-.6h0m4.1-.7h0m9-3.8h0m36-4.7h0m32-8.8h0m21.1-4.9h0m18-3.8h0m6-2.3h0m2 .4h0m5-1.2h0m17-5.4h0m6-.8h0m4-1h0m10-1.8h0m2 .9h0m2 .3h0m1-.8h0m3-.2h0m6-1.1h0m18.1-3.5h0m15-5.5h0m8-1.9h0" stroke="#0a2a9a" stroke-width="6.2" stroke-linecap="round" fill="none"/>
<path d="M101.2 1218l2-.9 2 0 2-.4 2 0 2-.5 2-1.7 2 0 2-.9 2-.3 2 0 2-.5 2 0 2-.3 2-.6 2-.8 2-.4 2-1.3 2-1.4 2 0 2-.2 2-1.2 2 0 2-.4 2-.8 2 0 2 .3 2 0 2-.6 2-.2 2-.2 2 0 2-1 2-1.1 2-.1 2-.2 2-.5 2-.7 2-1 2-.9 2 0 2-.4 2 0 2-.9 2-.9 2-1.3 2-.3 2-.4 2 0 2-1.2 2 0 2 0 2-.9 2 0 2 .1 2-1.1 2-.8 2-.5 2-.2 2-.8 2 0 2-.6 2 0 2-.2 2 0 2-.8 2-1.1 2-.9 2 0 2 .1 2-1.2 2-1.4 2 0 2 0 2-1 2-1 2 0 2 .2 2-.9 2-.7 2-.5 2-.1 2 0 2-.8 2-1.2 2-.6 2 0 2-.4 2-1 2 0 2 .6 2-.3 2-.1 2 0 2-2.1 2 0 2 0 2-.8 2 0 2-.3 2 0 2-1.2 2-.2 2 0 2 .1 2-.6 2-.1 2-.6 2 0 2 0 2-.8 2-.7 2-1 2 0 2 .1 2-.6 2-1.4 2 0 2-.2 2-1 2-.2 2-.7 2 0 2-.6 2-.1 2 0 2 .1 2-1.5 2-.5 2 0 2-.2 2-.8 2-.7 2-1.5 2-.4 2-.4 2 0 2-1.1 2-.4 2-.6 2-.5 2-.4 2 0 2-1 2-.4 2-.6 2 0 2-.6 2 0 2-.1 2-1.6 2-.8 2 0 2 .1 2-.6 2-.5 2 0 2 .1 2-1.4 2 0 2-.2 2-.9 2-.3 2-.9 2-.8 2 0 2 .7 2-.3 2-1.1 2 0 2 0 2-.4 2-.2 2-.4 2-.2 2 0 2-.7 2-.5 2-.1 2-.4 2 0 2-1.4 2-.4 2 0 2 .7 2-.3 2-1.2 2 0 2-.7 2-.3 2 0 2-1.2 2 0 2-1 2-.6 2-.3 2 0 2-.7 2-.5 2-1.5 2-.7 2 0 2-.1 2 0 2 .2 2-2.1 2-.1 2-1 2-.4 2-.2 2-.4 2-.5 2-.4 2 0 2-.4 2-.1 2-.5 2-.4 2-.6 2 0 2-.1 2-.3 2-.7 2-1.5 2-.9 2-.2 2-.8 2 0 2 .3 2-.3 2-.1 2-1.2 2-.6 2 0 2 .1 2 0 2-.5 2 0 2-.7 2 0 2-1.9 2 0 2-.3 2 0 2 0 2 .3 2-.8 2-.7 2-.2 2 0 2-.5 2-1.3 2-.5 2-.8 2-.3 2-1 2-.3 2-.3 2-1.1 2-.9 2-1 2 0 2 0 2-.9 2-.9 2-.7 2 0 2-1.2 2-.3 2 0 2-.6 2 0 2-.2 2 0 2 .2 2-1.6 2 0 2 .5 2-.6 2-.4 2-1.1 2-1.2 2-.3 2-.9 2-.2 2-.4 2-.3 2 0 2-1.3 2-1.5 2-.8 2-.3 2-.4 2-.9 2 0 2 .1 2-.8 2-.3 2-.3 2-1.1 2 0 2-.2 2 0 2-.3 2-.7 2-.2 2 0 2 .4 2-.7 2-.5 2-.3 2 0 2 .4 2 0 2-1.3 2-.5 2-.1 2-.3 2-.3 2-.4 2 0 2-.7 2-.7 2-.5 2-.6 2-1.1 2-1.2 2-1.3 2 0 2-.4 2 0 2-.2 2-1.7 2 0 2-.7 2 0 2 1.2 2 0 2 .6 2 .1 2-.3 2-.9 2 0 2 .8 0 4-2 1.6-2 0-2 0-2 0-2-.1-2-.3-2-.3-2 0-2-1.1-2 .6-2 .4-2 .8-2 .5-2 0-2 .7-2 .7-2 1.8-2 .6-2 .6-2 0-2 .8-2 1.2-2 .2-2 0-2 .8-2 .5-2 0-2 .6-2 .6-2 0-2 .7-2 0-2 .6-2 .6-2 .9-2 0-2-.2-2-.2-2 0-2-.3-2 .9-2 .1-2 0-2 .8-2 0-2-.1-2 .8-2 .4-2 0-2 0-2 1.1-2 .6-2 2-2 .3-2 .3-2 .9-2 0-2 1.3-2 0-2-.1-2 1.5-2 .2-2 1.4-2 .4-2 .6-2 0-2 .4-2 1-2 0-2-.4-2 .5-2 0-2-.1-2 0-2 .6-2 1.1-2 0-2 .5-2 1.5-2 1-2 0-2 .2-2 1.1-2 .2-2 1.2-2 0-2 1.3-2 .3-2 .2-2 .8-2 .5-2 .7-2 .2-2 .2-2 .4-2 .8-2 .2-2 .2-2 0-2-.4-2 .7-2 .2-2 1.1-2 .2-2 .2-2 .3-2 .1-2 .7-2 .3-2 0-2 .1-2 1.2-2 .4-2 .4-2 .3-2 0-2 0-2 .9-2 .4-2 1.8-2 .1-2 .3-2 .8-2 0-2 .1-2 .7-2 0-2 0-2 .7-2 0-2 .2-2 .4-2 1.1-2 0-2 .2-2 .5-2 1.5-2 1.2-2 .2-2 0-2 0-2 .1-2 .4-2 1.9-2 .2-2 .3-2 .6-2 .2-2 .8-2 1.4-2 0-2 .8-2 0-2 .4-2 .5-2 .2-2 .5-2 0-2 .4-2 0-2 .4-2 .5-2 1.1-2 0-2 .5-2 .4-2 .8-2 0-2 .7-2 0-2-.1-2-.6-2 .7-2 .3-2 .9-2 .2-2 0-2-.2-2 .1-2 1.2-2 .1-2 .4-2 .9-2 0-2 .5-2 1.2-2 0-2-.1-2 .9-2 .4-2 .3-2 .1-2 1.2-2 0-2 .6-2 .7-2 0-2 .5-2 .5-2 .5-2 .6-2 .1-2 .7-2 .1-2 .4-2 1.3-2 0-2 .2-2 .1-2 .9-2 .7-2 1.1-2 .2-2 0-2 .8-2 1.1-2 0-2 .1-2 .6-2 0-2 .6-2 .7-2 .6-2 .2-2 .8-2 .6-2 .9-2 0-2 .7-2 0-2 .6-2 .8-2 .2-2 0-2 .2-2 0-2 .7-2 .4-2 0-2-.1-2 .6-2 0-2 .3-2 .1-2 1-2 .1-2 .1-2 .9-2 1.3-2 0-2-.2-2 .3-2 0-2-.2-2 .6-2 .7-2 .2-2 .5-2 .7-2 1-2 .4-2 0-2 .6-2 .8-2 .3-2 .4-2 .6-2 .2-2 .9-2 0-2 .3-2 1.4-2 .3-2 .6-2 0-2 1.3-2 .1-2 .4-2 .1-2 .8-2 .5-2 .6-2 0-2 .8-2 .6-2 .8-2 .5-2 .7-2 .6-2 .1-2 .8-2 .4-2 0-2 1-2 0-2-.7-2 1.4-2 1-2 0-2 .3-2 1-2 .5-2 0-2 .5-2 .8-2 .8-2 .6-2 0-2 .5-2 .8-2 .9-2 .1-2 .6-2 0-2-.2-2 .6-2 .3-2 0-2-.3-2 1.1-2 .6-2 .8-2 0-2 .1-2 .9-2 .8-2 1.8-2 .1-2 .4-2 .9-2 .1-2 0-2 .5-2 .1-2 .5-2 .6-2 .9-2 .3-2 .3-2 .7-2 0-2-.1-2-.1z" fill="#00ffff"/>
<path d="M102.7 1217.9h5m-2-1.2h5m-2 3.5h5m-4-.3h5m-4-.6h5m-4-4.8h5m-4 .3h5m-5 3.4h5m-4 .5h5m-3-.8h5m-2-4h5m-4 3.3h5m-4-3.5h5m-4-.9h5m-5 4.5h5m-4-4.1h5m-3-.1h5m-4 3.5h5m-3-4.7h5m-1-1.2h5m-4 2.8h5m-3-.9h5m-3-3.4h5m-3-1h5m-4-.4h5m-5 4.7h5m-2-1.7h5m-4 .3h5m-4-4.9h5m-3 3.8h5m-2.9-4h5m-1 3.2h5m-4 .2h5m-4-.2h5m-4-4.1h5m-4 3.5h5m-4-3h5m-4 .1h5m-5 3.3h5m-4-4.3h5m-2-.2h5m0 1.9h5m-2-4.6h5m-4 3.6h5m1-6h5m0-.6h5m-5 3.7h5m-4-.3h5m-4-.5h5m-3 .5h5m0-2.9h5m-4-.1h5m-4-3.3h5m3-2.1h5m-4 0h5m-4-.9h5m-5 4.9h5m-4-4.8h5m-4 .1h5m-3 4h5m-2-.7h5m-3-.8h5m-4-5h5m-2-1h5m-3 4.6h5m-3-5.2h5m-4 4.3h5m-3-3.7h5m-5 3.2h5m-4-4h5m-4 0h5m-2-.3h5m-3 3.2h5m-4-1h5m-3-4.7h5m-1 3.5h5m-4-3.7h5m-3-1.3h5m-3-.4h5m-3 3.6h5m-4 .1h5m-2.9-5.3h5m-1 3.6h5m2-6h5m-5 3.4h5m-2-3.5h5m-4-.5h5m-5 4.1h5m-2-1.5h5m-4-.2h5m-4-4.4h5m-4 3.9h5m-3-3.8h5m-3-.1h5m-4-1h5m-3-1h5m-2 4.3h5m-3-4h5m-1 .2h5m-1-2.3h5m-1-.1h5m-5 4h5m-4-.6h5m-2-4.2h5m-5 3.7h5m-3-.3h5m-4-.3h5m-4 .3h5m-4-.6h5m-4-4.5h5m-2 .1h5m-4 4.5h5m-4-4.4h5m-1 3h5m-4-3.9h5m-5 3.4h5m-3-3.4h5m-4 0h5m-4-.1h5m-4-.4h5m-3 3.8h5m-3-5.3h5m-4 4.4h5m-4-5.4h5m-3 4.8h5m-4-3.6h5m-5 3.5h5m-4-4.6h5m-2-1.1h5m-3-.5h5m-4-.3h5m-3 4.2h5m-3-.2h5m-4-5.5h5m-3 4.2h5m-1.9-.7h5m-3-4.1h5m-4-.8h5m-4 .9h5m-4 3.1h5m-3 .3h5m-1-1.9h5m-3-3.6h5m-5 3.2h5m0-1.3h5m-3-4.3h5m-4-.7h5m-5 3.8h5m-3-.9h5m-4 .8h5m-2-4.9h5m-4-.1h5m-2-.8h5m-1-2.1h5m-5 5.2h5m-2-5.6h5m-5 5.4h5m-3-.8h5m-2-6h5m-1 4.8h5m-3-5.9h5m-5 5.2h5m-3-4.4h5m-5 3.6h5m-4-4h5m-4 3.7h5m0-6.7h5m-4 .9h5m-3 4.2h5m-4 .1h5m-2-6.2h5m-3 .5h5m-5 4.9h5m-1-1.8h5m-4-.4h5m-4-3.9h5m-4 0h5m-3-.5h5m-1-1.4h5m-5 4.5h5m-3-1.1h5m-3-5.2h5m-5 5h5m-3 .4h5m-3-4.2h5m-5 4.3h5m-2-1h5m-4-5.1h5m-1 4.1h5m-4-3.6h5m1.1-1.8h5m-4 4.6h5m-4-4.4h5m-5 5.2h5m-4-5.3h5m-5 5h5m-4-.5h5m-3-.4h5m-2-5.5h5m-4-.1h5m-3-.1h5m-1-2h5m-4 4.6h5m-4-3.9h5m-3 3.7h5m-4 .4h5m-3-.8h5m-4-.1h5m-4-4.7h5m-3 .5h5m-4-.7h5m-5 4.6h5m-3-.7h5m-4-4.3h5m-5 4.6h5m-3 0h5m-4-1h5m-1-6.2h5m-3 4.1h5m-4-4.7h5m-5 4.8h5m-2-.9h5m-2-.8h5m-1-6.1h5m-4 .4h5m-5 3.4h5m-4-4.5h5m-5 4.9h5m-4-4.3h5m-4 3.6h5m-4-4.3h5m-2 .6h5m-5 4.3h5m-4-.2h5m-2-6.6h5m-2 3.4h5m-3-4.5h5m-4-.4h5m-4 0h5m-5 4.7h5m-4-4.9h5m-4 .3h5m-5 3.5h5m-1-.9h5m-4-4.2h5m-5 3.5h5m-4 .4h5m-4-3.9h5m-3 3.5h5m-3-4h5m-4-.5h5m-4 4.6h5m-4-5h5m-5 4.5h5m-2-5.1h5m-4 .4h5m-5 4.5h5m.1-1.1h5m-4-4.5h5m-4-.4h5m-5 3.8h5m-2-5.6h5m-4 3.3h5m-4-3.5h5m-3-.7h5m-4-.7h5m-5 4.4h5m0 .1h5m-2-.4h5m-4-5h5m-3-.2h5m-2 3.9h5m1-1.5h5m-4 .1h5m-1-4.4h5m-3-1.1h5m-2 2.8h5m-3 .3h5m-4-4.2h5m-4 4h5m-3 .6h5m-3-4.3h5m-4 0h5m-3 3.1h5m-4-4.6h5m-4 .6h5m-4 3.6h5m-4-4.4h5m-5 3.7h5m-3-4h5m-4 3.7h5m-1-5.7h5m-3-.6h5m-4 4.7h5m-1-6h5m-3-.8h5m-5 5.2h5m0-7.2h5m-5 4.8h5m-3-4.9h5m-4 0h5m-3-.9h5m-2 3.9h5m-4-.9h5m-2-5.5h5m-4 0h5m-5 5h5m-2-1.3h5m-3-4.2h5m-3.9 3.8h5m-2-5.4h5m-5 4.6h5m-4 .8h5m-3-.8h5m-3-4.2h5m-4 4.6h5m-2-5.7h5m-4 4.1h5m-2 .1h5m-3-5.2h5m1-1.6h5m-3-.9h5m-4-.5h5m-5 4.3h5m-1-5.4h5m2-1.6h5m-5 4.3h5m-4 .6h5m-4-.3h5m-1-2.6h5m-3-1.1h5m-4-.4h5m-2 .4h5m-4-.6h5m-4-4.5h5m-5 4.6h5m-4 .1h5m0-1h5m-2-6.2h5m-5 5.4h5m-4 .3h5m-3-5.4h5m-3 4.3h5m-2-5h5m-2-1h5m-4 5.5h5m-4-4.7h5m-5 5.3h5m-1-.4h5m-4 .2h5m0-6h5m-5 4.8h5m0-.9h5m-4-5.5h5m-4 4.3h5m-4 .1h5m-3-5.3h5m-4 4.8h5m-4-.1h5m-4-5h5m-.9-.1h5m-4 .2h5m-5 4.1h5m-3-1.2h5m-4-4.4h5m-3 3.1h5m-4-4.3h5m-5 4.8h5m-4-4.4h5m-3 3.8h5m-2-6.5h5m-3-.8h5m-5 4.2h5m-4-.6h5m-4-4.1h5m-3-.4h5m-3 .3h5m-5 3.6h5m1-1.8h5m-4-4.6h5m0 4.8h5m-4-4.3h5m-5 4.9h5m-4-4.1h5m-5 4.7h5m-4-4.9h5m-4 .1h5m-4 5h5m-4-4.8h5m-4 5h5m-4-.3h5m-4-5.2h5m-3 4.8h5" stroke="#40ffff" stroke-width="1.1" fill="none" opacity="0.8"/>
<path d="M102.2 1219.7L786 1072.5" stroke="#ffff00" stroke-width="2.7" stroke-dasharray="9 7" opacity="0.72" fill="none"/>
<path d="M101.2 1323.6l2-1.8 2 0 2 .7 2 0 2-2.5 2 0 2-.4 2 0 2 .1 2-1.2 2 0 2 .3 2 0 2 1.4 2 0 2 0 2-.5 2 0 2 .5 2 0 2 1.8 2-.4 2 0 2 .7 2 .8 2 3.8 2 0 2 .7 2 .5 2 2.2 2 1.3 2 1.9 2 0 2 0 2-.9 2 0 2 .1 2 1.5 2-1.2 2 0 2 .5 2-.3 2 0 2 2.1 2 0 2 .9 2-.9 2-.6 2 0 2 .9 2-.7 2 0 2 0 2-.4 2 0 2 3.3 2 1.7 2 2.3 2-.3 2 0 2 .6 2 1.7 2 .7 2 2.8 2 .4 2-.4 2-.1 2 0 2 1.8 2-.3 2 0 2 3.6 2 0 2 0 2-.4 2 0 2-2.5 2 0 2 1.1 2 0 2-1.1 2 0 2 .1 2 1.5 2-1.3 2-1.8 2 0 2 1.1 2 2.1 2-2.9 2 0 2 5.1 2-.3 2-1.1 2 0 2 1.2 2-1.2 2-.1 2 0 2 4.3 2-.5 2 0 2 3.5 2 0 2 1.8 2 .7 2 .3 2 0 2 0 2 .3 2 1.1 2-1.7 2-.4 2-.7 2-1.3 2 0 2 .6 2 0 2 0 2 2.3 2 1.8 2-3.4 2-.4 2 0 2 1.2 2-.1 2 0 2 1 2 0 2 2.4 2 1.4 2 0 2 .2 2 1.4 2 .9 2 1.7 2 0 2 .9 2 3.2 2-1.6 2-.5 2-.9 2 0 2 .7 2 .9 2-2.3 2 0 2 .2 2-.2 2 0 2-.3 2 0 2 3.3 2 0 2 .2 2 0 2 .3 2 .9 2 .5 2 1.4 2 .6 2 .9 2 .3 2 .1 2 0 2 .1 2 2.4 2 0 2 .6 2-2 2 0 2 3.3 2 .9 2 3.9 2-3 2 0 2-2.1 2 0 2 2.7 2 0 2 1.3 2 2.1 2-.3 2 0 2 2.9 2 .6 2-.2 2-1.3 2-.3 2 0 2 2.5 2-1.1 2 0 2 2.5 2 .1 2 1.4 2 1.9 2 .9 2 0 2 1 2 0 2-1.2 2 0 2 2.2 2 3.1 2 0 2-1.7 2 0 2 1.1 2-.2 2 0 2 1.8 2-.1 2 0 2 1.9 2-.4 2 0 2-.3 2-.5 2 0 2-.2 2 0 2 1 2 1.5 2 1.1 2 .4 2-1.4 2 0 2 .3 2-.9 2 0 2 1 2 2.2 2 0 2 .1 2 2.1 2 2.3 2 1 2 .1 2 2.9 2 .2 2-1.3 2 0 2 .1 2 1.1 2 2.6 2 0 2 2.4 2 1 2-1 2-2.7 2 0 2 .4 2-1.4 2-1.4 2 0 2 .9 2 2.6 2 1.6 2-3.2 2 0 2-1 2 0 2 4.6 2-.2 2 0 2 1.1 2-.8 2 0 2 4.9 2-1.1 2 0 2 .7 2 .6 2 .8 2 1.4 2 2 2 1.8 2 0 2 .4 2 0 2 1.1 2 0 2 .3 2-1.1 2 0 2 1.5 2 .8 2 .4 2 0 2 2 2-1.2 2-.3 2 0 2 1.5 2 .3 2 .4 2 0 2 .4 2-.4 2 0 2 1.6 2 .9 2 1.1 2 .1 2 1.5 2 0 2 1.7 2 2.5 2 .1 2 0 2 0 2 .8 2-1 2-1.3 2 0 2-.1 2 0 2-1.9 2-1.1 2 0 2 .1 2 0 2 1.9 2 1.4 2 .1 2 2.1 2 2.7 2 0 2-4.6 2 0 2 3.2 2-2.3 2 0 2 1.2 2 3.4 2 .9 2 2 2-.9 2-.1 2 0 2 .8 2 1.3 0 15.8-2 0-2-.9-2 0-2-.7-2 0-2 .2-2 0-2-4.3-2-.6-2 0-2 0-2-.3-2 2.3-2 0-2-1.2-2 0-2-1.2-2-1.4-2 0-2-.7-2 .9-2 0-2 .3-2 0-2-.8-2 1.4-2 0-2-.1-2 .2-2 0-2-.6-2 .3-2 1.3-2 0-2-4.3-2 0-2-.3-2 0-2-.8-2 0-2-2.1-2-.1-2-.5-2 .8-2 0-2-.3-2-1-2-.8-2 0-2-1.1-2 .2-2 0-2-2-2 1.9-2 0-2-1.8-2 0-2-1.8-2-.4-2 0-2 .5-2 0-2-.2-2-2.7-2-.5-2-.4-2-1.4-2-1-2-1-2 .1-2 0-2-.6-2-.9-2 .9-2 0-2-1.8-2-1.2-2 .3-2 0-2-3.5-2-.8-2 .5-2 0-2-.8-2-1.2-2 1.8-2 0-2-1.7-2 0-2 0-2 1.4-2 1.8-2 0-2-2.7-2-.2-2 1.2-2 0-2-2.5-2-.7-2 .3-2 0-2-2.5-2-1.1-2 .9-2 0-2-.1-2-.3-2-1.4-2-3.4-2-.6-2-.1-2 0-2-.5-2 0-2-.4-2 0-2 1.4-2 0-2-4.9-2 0-2-1.3-2 1.2-2 0-2-.4-2 1.1-2 0-2-2.7-2 0-2-1.8-2 0-2-.7-2 1.2-2 0-2 .1-2 0-2-1.8-2-1.4-2-.1-2-.3-2 0-2-.7-2 .3-2 0-2-1.3-2 0-2 0-2-.9-2 0-2-.2-2-2.4-2 0-2-2-2-1.3-2-.9-2 .3-2 .5-2 1.5-2 0-2 0-2-5.2-2-.5-2-2.2-2-.1-2 0-2-.5-2-.4-2 2.5-2 1.2-2 .1-2 .7-2 0-2-4.5-2-2.4-2-.3-2 1-2 0-2-.3-2-3-2 0-2 2-2 0-2-1.3-2 0-2-3.9-2 .3-2 0-2-2.2-2 .2-2 0-2-2.1-2-.4-2-1.4-2-1.3-2 0-2 1.5-2 0-2-1.5-2 1.5-2 .8-2 0-2-.2-2 .6-2 1.7-2 0-2-2.5-2 .4-2 0-2-1.1-2-1.4-2-.3-2-1.3-2 .5-2 0-2-1.1-2-2.1-2 0-2-1.4-2-1.4-2 0-2 .2-2 0-2-.9-2 .3-2 0-2-3.2-2 0-2 1.5-2 .9-2 0-2-.9-2 0-2-.5-2-.9-2 1.4-2 1.5-2 0-2-3.7-2 .8-2 1.9-2 0-2-1.8-2-2.2-2 .2-2 0-2-2.4-2-1.2-2 .2-2 0-2 .5-2 1.2-2 .8-2 0-2-2.5-2 0-2-.9-2-1.1-2 .5-2 0-2 .9-2 0-2-1-2 0-2-2.2-2 2.8-2 0-2-3-2 1.1-2 .3-2 0-2-.1-2-.2-2 0-2-1.2-2-2.1-2 .6-2 0-2-1.2-2-.6-2-.2-2 0-2-.1-2-2.7-2-1.3-2 0-2 1.5-2 0-2-.6-2-2.7-2-.5-2-.5-2-2.6-2-.2-2-1-2 1.3-2 0-2 1.5-2 0-2-2.6-2 0-2-1.6-2-.8-2-1-2-.5-2 .9-2 1.4-2 0-2 0-2-1.1-2 1-2 0-2-2.8-2 1.1-2 0-2-2.9-2 0-2-.6-2 0-2-2.5-2 0-2-.7-2-.5-2-.9-2-.3-2 0-2-.5-2-.4-2 0-2-.8-2 0-2-1.7-2 .5-2 0-2 .1-2 0-2-.3-2 0-2-.3-2 .2-2 1.9-2 0-2-1-2 0-2-.2z" fill="#00ffff"/>
<path d="M99.7 1323.6h5m-5 15.1h5m-4-16h5m-4-.9h5m-3 15.4h5m-3-14.7h5m-1-2.5h5m-5 17.8h5m-4 0h5m-3-18.2h5m-5 18.5h5m-3-.4h5m-4-16.5h5m-5 16.6h5m-3 .6h5m-4-19.9h5m-5 19.1h5m-3 .7h5m-3-19.5h5m-4 1.2h5m-5 16.9h5m-2-16.7h5m-3 0h5m-3 20.1h5m-4-17.7h5m-1-1.9h5m-4 20.5h5m-2-19.2h5m-5 18h5m-4-17.4h5m-4 .1h5m-5 18.8h5m-4-18.8h5m-5 19.7h5m-3-20.1h5m-4 .2h5m-5 20.4h5m-4-19.8h5m-5 20.5h5m-.9-16.2h5m-3 .2h5m-3 .7h5m-4-.2h5m-3 17.9h5m0 2.5h5m-1-14.7h5m-4 16.2h5m-4-17.3h5m-5 17.6h5m-3-17.6h5m-4 18.7h5m-4 0h5m-4-15.1h5m-3-2.1h5m-5 15.8h5m-3-15.8h5m-4-.6h5m-4-.1h5m-5 14.9h5m-3-14.9h5m-4 17.1h5m-4-.3h5m1-14.1h5m-4 .5h5m0 17.4h5m-1-18.3h5m-5 17h5m-3-17.9h5m-5 18.9h5m-2 2.8h5m-3-22.1h5m-4 22.6h5m-3 .5h5m-3 2.7h5m-3-17.6h5m-5 18.2h5m-3-19.1h5m-4-.1h5m-5 17.7h5m-4-17.9h5m-4 .6h5m-1 2.4h5m-5 18.9h5m-2-15.9h5m-5 15.5h5m0-15.2h5m-4-.5h5m-5 17h5m-4-17.1h5m-4 .2h5m-5 18.1h5m-3-1.1h5m-4 .4h5m-3 2.2h5m-3 .5h5m-4-15.2h5m-1 1h5m-5 15.1h5m-3.9-15.4h5m-5 15.5h5m-4-16h5m-5 15.2h5m-4-15.3h5m-5 15.8h5m-4-16.3h5m-4 1.1h5m-4-.6h5m-3-3h5m-5 17.7h5m-3 3h5m-2-3.7h5m-2-17h5m-4 19.1h5m-2 2h5m-2-.9h5m-3-21.7h5m-5 21.2h5m-2-20.1h5m-5 19.9h5m-3 1.3h5m-4-17.9h5m-2 15.5h5m-2 5h5m-4-18.8h5m-3-1h5m-5 18.3h5m-4-19.4h5m-5 18.6h5m-2-16.1h5m-5 16.7h5m-4-1h5m-3-18.2h5m-4 18.7h5m-4-18.8h5m-5 19.6h5m-2-15.3h5m-2 18.2h5m-3 2.2h5m-3-17.4h5m-4 19.2h5m-2-16.7h5m-3 .3h5m-2 1.5h5m-3-1.5h5m-3 .3h5m-3 1.1h5m-2-1.7h5m-2-.4h5m-5 16.6h5m-4-17.3h5m-5 18.2h5m-4-.8h5m-4-17.8h5m-5 17.7h5m-4-18.6h5m-3 16.7h5m-3 .4h5m-4-16.5h5m-5 15.5h5m-4 .7h5m-3-13.9h5m-3 17.1h5m-3-1.2h5m-2.9 2.1h5m-4-20h5m-5 19.8h5m-4-.5h5m-4 .5h5m-3-18.6h5m0 20.9h5m-4-20h5m-3 22.6h5m-3 1.1h5m-3-19.9h5m-3 .2h5m-5 19.2h5m-2-17.8h5m-5 19.1h5m-4-18.2h5m-4 18.5h5m-4 .3h5m-4 1.1h5m-4-18.2h5m-5 19.3h5m1-15.1h5m-4 .8h5m-3-2.5h5m-4-.5h5m-3-.9h5m-5 18h5m-4-.8h5m-3-16.5h5m-5 17.5h5m-4-16.6h5m-5 15.8h5m-2-2.5h5m-2-15.4h5m-4 17.9h5m-2-1.5h5m-4-.9h5m-3-15.6h5m-4-.4h5m-5 17.5h5m-1-14.2h5m-3 17.9h5m-3-17.7h5m-5 18.3h5m-4-17.6h5m-4-.4h5m-3 20.3h5m-3-18.9h5m-5 18.2h5m-3 .4h5m-3 2.8h5m-4-19.4h5m-5 20.5h5m1-19h5m-2-.1h5m-5 18.4h5m-3 2.9h5m-2 .4h5m-1-18.7h5m-4 18h5m.1 6.9h5m-3-.7h5m-4-.1h5m-3-21h5m-5 19.8h5m-1-21.9h5m-5 19.4h5m-2 .4h5m-4-16.2h5m-5 16.6h5m-4-17.5h5m-2 17.2h5m-3-13.3h5m-4 0h5m-4-.8h5m-5 17.3h5m-2 5.2h5m-4-1h5m1-1.5h5m-4-18h5m-3-.3h5m-2 2.5h5m-5 18.2h5m-3-19.3h5m-5 21.3h5m-2-1.8h5m-4-16.3h5m-4-.6h5m-3 21.3h5m-4-.9h5m-3 1.8h5m-4-17.8h5m-5 17.4h5m-4-16.6h5m-3 .1h5m-4 .1h5m-4 18.1h5m-3-18.2h5m-3-1.3h5m-4 .8h5m-5 18.4h5m-3 .7h5m-2-14.6h5m-1 16.4h5m-3 1.8h5m-4-17.7h5m-3-1.1h5m-4-.2h5m-5 18.9h5m-2-1.7h5m-4-15.4h5m-2-.1h5m-2 18.5h5m-4-16.6h5m-3-.4h5m-3 19.7h5m-4-20h5m-5 18.9h5m-3-19.4h5m-3 .9h5m-5 18.9h5m-2.9-19.8h5m-4-.2h5m-5 18.7h5m-4-17.7h5m-5 17.8h5m-4-.2h5m-4 .5h5m-4-16.6h5m-5 17.6h5m-4-16.5h5m-2 .8h5m-5 20.6h5m-3-21h5m-3-1.4h5m-5 21h5m-3-.2h5m-4-20.5h5m-5 21.1h5m-3-20.9h5m-4 20.9h5m-3-21h5m-5 21.5h5m-1-19.3h5m-5 19.4h5m-4-19.3h5m-5 19.9h5m-3 3.4h5m-3 1.4h5m-3-19.3h5m-4 19.6h5m-4-19.5h5m-5 19.6h5m-1-16.5h5m-4 0h5m-5 15.6h5m-4 1.1h5m-3-18h5m-5 20.5h5m0-19.3h5m-5 19h5m-2-15.8h5m-5 19h5m-2-17.2h5m-4 1h5m-5 14.3h5m-4 .7h5m-4 .2h5m-2 2.7h5m-3-21.6h5m-4 .9h5m-5 15.8h5m-4-15.3h5m-4-1h5m-5 16.9h5m-4 1.1h5m-3-.3h5m-1-19.6h5m-2 4.3h5m-4 .9h5m-4 15h5m-4 .8h5m0-21h5m-5 21.3h5m-2-16.7h5m-3 .5h5m-4-.7h5m0 1.1h5m-4-.8h5m-4 23.6h5m-1.9-18.7h5m-3-1.1h5m-5 19.8h5m-4-18.9h5m-5 18.5h5m-3-18.7h5m-5 19.7h5m-4-19.1h5m-3 1h5m-4-.2h5m-5 18.2h5m-3-16.5h5m-5 17.5h5m-2 2.4h5m-3-16.4h5m-5 16.5h5m-4 .3h5m-3-15.5h5m-4 17.8h5m-4 .9h5m-3-.7h5m-2-17h5m-5 17.4h5m-3-17.2h5m-4-.7h5m-3-1.1h5m-4 21.1h5m-4-19.6h5m-5 19.7h5m-4-18.9h5m-3 .7h5m-3 .1h5m-4-.4h5m-2 20.4h5m-1-.3h5m-4-19.6h5m-5 19.7h5m-3-18.2h5m-5 19.3h5m-4-19h5m-5 18.1h5m-2-16.6h5m-5 18.3h5m-4 1h5m0-.8h5m-3-19.6h5m-1 2.5h5m-3 1.1h5m-5 19h5m-4-18.9h5m-1 1.5h5m-5 17.7h5m-4-16.6h5m-4 .6h5m-3 2.5h5m-4 .4h5m-4-.3h5m-4 18.5h5m-1-18.5h5m-5 16.9h5m-1-16.1h5m-5 16.7h5m-2-19h5m-5 18.8h5m-3-15.1h5m-4 15.2h5m-3-19h5m-5 17.4h5m-3.9-1h5m-2-18.3h5m-4-.8h5m-4-.3h5m-3 1.2h5m-3 19h5m-3-17.9h5m-4 1.1h5m-5 17.5h5m-3-.9h5m-4-15.6h5m-4 1.2h5m-2 17.9h5m-3-15.2h5m-4 15.9h5m-2-20.5h5m-5 18.7h5m-3-15.5h5m-1-2.3h5m-5 18.1h5m-3-.4h5m-4-13.1h5m-3 .9h5m-5 17.5h5m-4-.3h5m-3-15.2h5m-3 15.3h5m-4-.2h5m-4-16h5m-4 .2h5m-5 16h5m-4-16.3h5m-5 17h5m-4-16.2h5m-4 1.1h5m-4 16h5" stroke="#40ffff" stroke-width="1.1" fill="none" opacity="0.8"/>
<path d="M117.2 1328.9l2-.4 2 .6 2 .1 2-.1 2 .1 2 0 2 .4 2 .1 2 .7 2-.6 2 .6 2 .6 2 .3 2 .4 2 .8 2 1.7 2.1 .8 2 1.3 2 .2M157.3 1337.4l2 .6 2 .5 2 1.1 2 .5 2 .8 2 .5 2 .6 2 .7 2-.2 2 .4 2 0 2 .2 2-.1 2 .5 2 .5M203.3 1346.2l2 .4 2 .7 2 .2 2 1.5M213.3 1350.4l2 .8 2 .6 2 1.1 2 .7 2 1.1 2 1.1 2 .5M304.4 1367.6l2 .7 2 .4 2 .6 2 .9 2 .9 2 .3 2 .2 2-.8 2-.5 2 .1 2-.1 2-.4 2-.1 2-.2 2-.4M336.4 1369.4l2 .2 2 1.1 2 1 2-.2 2.1 .5 2 .4 2 .4 2 .3 2 .9 2 1 2 .8 2 .1 2-.1 2 1 2 .7 2 .6 2 .6 2 .5M373.5 1379.4l2 1.5 2 .7 2 .2 2 .2 2-.4 2-.6 2 0 2-.1 2 .3 2-.8 2-.3 2 0 2 .3 2-.6 2 .1 2 1 2 1.2 2 1.1 2 .9 2 .9M455.6 1394.2l2 .5 2 .9 2-.2 2 .7 2 .9 2 .3 2 .4 2 1 2 1.2 2 .4 2 .4 2 .1 2 .2 2 .1 2 .3 2 .2 2 .2 2 .5M492.6 1402.7l2 1 2 .8 2 .9 2 2.2 2 .9 2 .8 2 .2M507.6 1409.6l2 .8 2-.2 2 .2 2 0 2 .7 2 .4 2-.2 2 .2 2 .2 2 .1 2 .3 2 .6 2 .2 2 .3 2-.1 2 .4M541.6 1414.8l2.1 .3 2 .2 2 0 2 .6 2-.1 2 1.1 2 1.3 2 1.6 2-.3 2 .4 2 0 2 .5 2 1 2 .2 2 1.3 2 .2 2 .2 2 .5 2 .9 2 .3M617.7 1430.8l2 .4 2 .5 2 .2 2 1.1 2 1 2-.3 2-.1 2 .4 2 .4 2 .6 2.1 .7 2 .6 2 .5 2 0 2 1.5 2 0 2 .5 2 1 2 .7 2 .6M679.8 1446.5l2-.8 2 .6 2-.2M699.8 1448.3l2 .4 2 .2 2 .9 2 .8 2 1 2 .6 2 .7 2 .7 2 1 2 1 2 .7 2-.1 2 .3M741.9 1455.7l2-.4 2 1.1 2 .7 2 .8 2 .5 2 .3 2 1.3 2 .6 2 .2 2 .8 2-.4 2 .3 2 .8 2 .4 2 .6 2 .6 2 .7 2 1.3" stroke="#050a20" stroke-width="2.8" stroke-linecap="round" stroke-linejoin="round" fill="none" opacity="0.9"/>
<circle cx="154" cy="1324" r="2.9" fill="#0a3ab0"/>
<circle cx="329" cy="1380" r="2.9" fill="#0a2a9a"/>
<circle cx="582" cy="1439" r="2.9" fill="#0a2a9a"/>
<path d="M102.2 1323.8L786 1467.5" stroke="#ffff00" stroke-width="2.7" stroke-dasharray="9 7" opacity="0.72" fill="none"/>
<path d="M1022 837.9l2 0 2 .1 2 .8 2 1.2 2 .1 2 2.1 2 .4 2 .6 2 .5 2 1.1 2-.9 2 0 2 .5 2 2.8 2-.6 2 0 2 .1 2 0 2 1.4 2-.5 2 0 2 0 2 0 2 .6 2 .1 2 .9 2 0 2-2.6 2 0 2 3.1 2 .8 2 2.3 2 .5 2 .3 2 1.7 2 0 2 1.3 2 .1 2 0 2 1.2 2 0 2 .5 2-.4 2 0 2-.8 2 0 2 1.1 2 0 2 2.6 2 .1 2 0 2 2.2 2-1.8 2 0 2 .6 2 2.3 2 .6 2 0 2 1.9 2 .3 2 2 2 0 2 .4 2 .4 2-1.3 2 0 2-1 2-1 2 0 2 .7 2 1 2 1.4 0 7.5-2 2.6-2 3.7-2 .1-2 1.8-2 0-2 .3-2 0-2 2.1-2 0-2-.6-2 2.5-2 0-2-3.5-2-1.2-2 0-2-1.7-2-1.3-2-.6-2 .1-2 0-2-.7-2-2.5-2-1.8-2-.5-2-1.4-2 0-2-.7-2-.2-2-.7-2 .1-2 0-2-2.9-2 1.6-2 0-2-2-2 .1-2 .4-2 0-2-1.5-2 .1-2 0-2-2.7-2 .5-2 .8-2 1.1-2 0-2-1.7-2-.6-2-1.3-2 1.8-2 0-2-.8-2 0-2-1.2-2 0-2-1.1-2-2-2 .6-2 0-2-3.6-2-.7-2 0-2-2.9-2 0-2-.6-2 0-2-.5-2-1.2-2-.4-2-.2-2-1.8-2-1.9z" fill="#00ffff"/>
<path d="M1021.5 838h5m-5 12.1h5m-3 1.3h5m-4 .8h5m-4 .2h5m-4-12.4h5m-4 12.8h5m-2 1.2h5m-4-11.4h5m-2 .8h5m-5 8.3h5m-2.9-8h5m-5 11.4h5m-4-1.1h5m-2-9.2h5m-4 12.1h5m-3-12.5h5m-5 14.3h5m-2-11.5h5m-5 15.1h5m-3-14.6h5m-3 14h5m-4-14.6h5m-4 16.6h5m-1 0h5m-4-14.6h5m-4-1h5m-5 17.9h5m-4-18.4h5m-5 17.9h5m-3-16.7h5m.1 16.2h5m-4 .2h5m-4-16.9h5m-5 18h5m-2-16.1h5m-3-.1h5m-5 17.4h5m-4-17.9h5m-3 17.1h5m-3-.8h5m-4 .3h5m-2 1.7h5m-4-14.6h5m-5 15.5h5m-4-1.2h5m-4 .7h5m-4-13.7h5m-3 15.7h5m-4-.4h5m-.9-.1h5m-4-1h5m-4-11.7h5m-4-.4h5m-5 15.1h5m-2-1.7h5m-4-12.2h5m-4 .5h5m-5 14.7h5m-3-14.6h5m-4 .7h5m-5 13.2h5m-3-14.4h5m-5 15h5m-4-14.4h5m-5 15.1h5m-2-16.5h5m-5 16.7h5m-4 .7h5m-3-16.3h5m-3 16.5h5m-4-13.9h5m-5 15.1h5m-4-14h5m-2.9 16.3h5m-2 2.5h5m-4-17.5h5m-5 18.2h5m-1-19.5h5m-5 19.3h5m-4 .1h5m-3-17.1h5m-5 17.7h5m-2-17.1h5m-5 19.9h5m-1-17.7h5m-5 18.8h5m-2-16.8h5m-5 20.6h5m-3-20.6h5m-4 .4h5m-3 .4h5m-5 16.9h5m-4-16.3h5m-.9 15.2h5m-2-17.2h5m-4-.9h5m-4-1h5m-3 16.9h5m-4-.8h5m-3-14.4h5" stroke="#40ffff" stroke-width="1.1" fill="none" opacity="0.8"/>
<path d="M1023 844.4l2 .5 2 1 2 .2 2 1 2 .7 2 .5 2 1.4 2.1 1.5 2 .5 2 1 2 1.2 2 .6M1048.1 853.9l2 .5 2 .9M1068.2 858.2l2 1.1 2 1.2 2-.4 2-.3 2-.2 2-.8 2 .3 2 1 2-.3 2 1.2 2 .4 2 .3M1093.2 861.5l2.1 1.5 2 .5 2 .3 2 .7 2 .7 2 .3 2-.3 2 .9 2 .1 2 .7 2-.9 2 .9 2 .6 2 .7 2.1 1.1 2 .5M1127.4 870.6l2 .1 2 0 2 1.3 2 1.6 2 .4 2 1.2 2 .8 2 .1 2-.3 2 .3" stroke="#050a20" stroke-width="2.8" stroke-linecap="round" stroke-linejoin="round" fill="none" opacity="0.9"/>
<path d="M1167 870l2 0 2 .8 2 .3 2-.4 2 0 2 3.3 2 .3 2 .6 2 .7 2 .7 2 .8 2 .1 2 0 2 1 2-2.2 2-.5 2 0 2-.7 2 0 2 .4 2 .7 2 2.1 2 2 2-.1 2 0 2 .1 2 .5 2 0 2 2.5 2-.5 2 0 2 1.1 2 1 2 2.8 2-.7 2-1.6 2 0 2 1 2-.1 2 0 2 3 2 0 2 2.4 2 .7 2 0 2 .7 2 0 2 2.2 2-2.3 2-.5 2 0 2 1.8 2 3.7 2 .6 2-.8 2 0 2 1.4 2-1.7 2 0 2-.3 2 0 2 .5 2 0 2 .5 2 0 2 1.8 2 .8 2-1.3 2 0 2 1.5 2 0 2 .2 2 2.3 2-1.9 2 0 2 1.7 2 2.3 2-.4 2-.6 2-1.1 2 0 2 .5 2-1.3 2-.9 2 0 2 3.7 2 3.2 2 0 2 .1 2-.5 2 0 2 2.4 2 0 2 2.4 2 1.4 2 1.9 2-.8 2-1.9 2 0 2 1.8 2 1 2 1.1 2-2.6 2-1 2 0 2 .8 2 0 2 1.6 2 0 2-.8 2 0 2 .6 2 0 2 1.8 2 1.5 2 0 2 .6 2 0 2 4.3 2-2.1 2 0 2 1.7 2 0 2 3.7 2 0 2 2.3 2-.5 2 0 2 .2 2 0 2 .5 2-.5 2-.5 2 0 2 3.3 2 0 2 1.2 2-.5 2-1.8 2 0 2 2.1 2-.2 2-.1 2 0 2 1.4 2-.2 2 0 2 .7 2-1 2 0 2 4 2 .4 2 .9 2-.5 2-.2 2-1.7 2-1 2 0 2 1.7 2 .7 2 2.1 2 .2 2-.9 2 0 2 .6 2 .8 2 0 2 1.3 2 0 2-.8 2 0 2 1.5 2 .5 2-.2 2-.6 2 0 2 .9 2 2.6 2 0 2 .3 2 1.1 2-2 2 0 2 3 2-.6 2-1.9 2 0 2 1.5 2 1.3 2 .3 2 4.5 2 .9 2 0 2 .4 2 .7 2-1.2 2 0 2-.1 2-.3 2 0 2 1.5 2 .1 2 0 2 1.7 2 0 2 1.6 2 0 2 .3 2 1.9 2 1.8 2 0 2-1.7 2 0 2 2.2 2 0 2-.4 2-1 2 0 2 .6 2-1.2 2-.4 2 0 2 1.6 2 2.1 2-.6 2-.7 2 0 2 1.7 2 0 2-.8 2 0 2 .2 0 14.7-2 .7-2 0-2-.6-2 .7-2 .2-2 .8-2 0-2-.4-2-1.3-2-.1-2 .3-2 0-2-1.4-2 1.2-2 0-2-.9-2 3.3-2 0-2-3.3-2 .8-2 0-2-.8-2-.9-2-1.1-2 .3-2 .8-2 0-2-2.6-2-1.1-2 .9-2 0-2-2.9-2 0-2-1.3-2 .7-2 0-2 2.8-2 0-2-.2-2-1.8-2 0-2-.1-2 0-2-4.2-2 .3-2 0-2 .6-2 .1-2 1-2 0-2-.1-2-.5-2 .2-2 0-2-2.8-2-2.9-2 1.9-2 0-2-1-2 0-2-3-2-1.1-2-.7-2 0-2-.3-2-.3-2-.9-2 1-2 0-2-.4-2 1-2 0-2-2.6-2-.2-2 0-2-.5-2 3.6-2 0-2-.2-2 .5-2 0-2-3.4-2 0-2-.2-2-2.3-2 1-2 0-2-1.7-2-2.2-2-.7-2-.9-2-.8-2 .1-2 0-2-2.6-2 0-2 0-2 0-2-.1-2-1.3-2 0-2 .8-2 0-2-1.9-2 .4-2 1.3-2 0-2-1.4-2-1.5-2 0-2-.8-2 0-2 .1-2 0-2-3.6-2 3.7-2 0-2-2.1-2-1.4-2-1.4-2-2-2 0-2-1.4-2-1.9-2 1.3-2 .6-2 0-2-2.3-2 .2-2 0-2-.2-2-.7-2 0-2 0-2 0-2 .2-2 0-2-1.1-2 0-2-3.7-2 1.2-2 0-2-1.5-2 2-2 0-2-2.9-2 0-2-1-2 0-2-.4-2-2.8-2 .2-2 0-2 .5-2 0-2-.7-2-2.1-2-2.2-2-1.6-2 .6-2 0-2-.3-2-.5-2 .2-2 0-2 .5-2 0-2 .3-2 0-2-1.4-2 .3-2 0-2-2.1-2 1.6-2 0-2-.3-2-1.4-2 2.3-2 0-2 .3-2 0-2-4-2 3.3-2 0-2-2.3-2-.7-2-1.3-2-.9-2 .2-2 0-2-3.5-2-1-2 .3-2 0-2 0-2-.2-2 .8-2 0-2-1-2 0-2-4-2 2.2-2 0-2-2.2-2 .6-2 0-2-.1-2-1-2 .6-2 0-2-1.2-2 .5-2 0-2-2.3-2 0-2-1.3-2-2.2-2 0-2-.8-2-.9-2-1-2-.7-2-.5-2 0-2-.5-2-1.3-2 .1-2 0-2-3.1-2-2.7-2-2.3-2 0z" fill="#00ffff"/>
<path d="M1165.5 880.9h5m-4-.1h5m-3-9.7h5m-4 12.1h5m-3-11.5h5m-3-1h5m-4 18.2h5m-4-.5h5m-4-.6h5m-4-13.5h5m-4 .6h5m-4 .2h5m-5 15.1h5m-3-14.6h5m-4 .7h5m-3 14.9h5m-4-14.1h5m-5 13.7h5m-3-13.4h5m-3-.2h5m-4 1h5m-4 15.6h5m-4 .8h5m-1 2.2h5m-4-21.3h5m-4 22.6h5m-3-23.3h5m-4 .5h5m-5 19.6h5m-4-19.7h5m-4 25.2h5m-3-.5h5m-1-19.9h5m-4 1.1h5m-4-.7h5m-3 .5h5m-5 19.6h5m-4-20.5h5m-4 .9h5m-5 20.6h5m-4-20.4h5m-4 20.4h5m-2-.5h5m-3 2.2h5m-2.9-20.7h5m-4 17.4h5m-4 1.1h5m-4-17.4h5m-3 21.4h5m-2-17.6h5m-3-.7h5m-4 18.4h5m-4-20h5m-5 19.3h5m-3 1h5m-4-18.3h5m-3-1h5m-5 19.3h5m-3-19.4h5m-2 3h5m-2 2.7h5m-5 17.9h5m-3-.8h5m-3 .6h5m-4 .9h5m-4-.8h5m-4-16.7h5m-4 18.8h5m-4 .4h5m-4 .3h5m-4-17.3h5m-4 19.6h5m-4-21.9h5m-3 18.1h5m-3 4.5h5m-4-21.3h5m-3 20.6h5m-4-.4h5m-4-15.4h5m-5 16.2h5m-4-16.7h5m-4 .3h5m-4 14.1h5m-4-15.2h5m-4 15.7h5m-4 .9h5m-4-.1h5m-4-15.1h5m-1 13.9h5m-3 2.1h5m-1-17.5h5m-5 17.2h5m-2 .6h5m-4-17.3h5m-4 17.8h5m-1-.5h5m-4-14.2h5m-2 13.6h5m-3 .7h5m-4-14.6h5m-5 14.8h5m-4-14.6h5m-4 14h5m-4-.1h5m-4 .4h5m1-12.2h5m-5 16h5m-3 2.1h5m-4-15.1h5m-5 15.8h5m-3-16.2h5m-2-1.3h5m-5 17h5m-4-.2h5m-4-17.9h5m-5 17.7h5m-4-16.7h5m-5 16.4h5m-3-16.9h5m-5 19.9h5m-4 .3h5m-4-21.5h5m-5 21.9h5m-3-22.8h5m-2 23.8h5m-4 0h5m-4-.8h5m-2.9-16.1h5m-5 19.8h5m-3-18.7h5m-3 16.7h5m-4-18.2h5m-4 .9h5m-5 18.8h5m-2-17.3h5m-3 19.8h5m-4-17.4h5m-1 18.5h5m-1-16h5m-5 15.8h5m-3-17.7h5m-5 17.7h5m-2-14.9h5m-5 14.9h5m-4-.9h5m-4 .6h5m-4-12.7h5m-5 13.7h5m-4 .2h5m-4-.6h5m-4-.5h5m-3-17.2h5m-5 18.1h5m-3 1.3h5m-4 1h5m-4-19.4h5m-4-.2h5m-5 19h5m-2-17.3h5m-5 15.3h5m-3 2.5h5m-4 .1h5m-3-18.8h5m-5 20.2h5m-2-19.3h5m-5 20.3h5m-4-20.6h5m-4 22.8h5m-3 1.6h5m-2 2.1h5m-2-3.7h5m-4-.1h5m-3-14.5h5m-5 18.2h5m-2-20.3h5m-5 20.2h5m-2-2.5h5m-3-15.1h5m-2 2.8h5m-5 17.1h5m-3 1.4h5m-2-1.4h5m-4-14.7h5m-5 14.3h5m-4 .1h5m-4-.6h5m-3 2.2h5m-4-16.4h5m-5 16.7h5m-3-16.1h5m-4-.1h5m-4 15.2h5m-4-15.7h5m-5 15.2h5m-3-15.7h5m-4 17.7h5m-2-1.1h5m-4-13.3h5m-5 13.7h5m-4-12.5h5m-5 13.3h5m-4-.7h5m-4 .2h5m-3-13.3h5m-2-1.8h5m-5 17.6h5m-4 .5h5m-1-16.2h5m-4 .3h5m-4 .5h5m-4 17.8h5m.1-17.5h5m-3 20.4h5m-4-16.2h5m-3-3.5h5m-5 22h5m-4-23h5m-2 4h5m-3 .4h5m-5 22.2h5m-2-.5h5m-3 .2h5m-4-21.5h5m-3 17.9h5m-3-19.8h5m-3-1h5m-5 21.3h5m-4-.8h5m-3-17.7h5m-4-.4h5m-5 19.1h5m-1-16.8h5m-3 18h5m-4-18.9h5m-5 19.7h5m-3-19.1h5m-5 18.1h5m-3-.9h5m-3-16.4h5m-5 18.2h5m-2 .3h5m-3-17.2h5m-5 17.5h5m-2-18.3h5m-5 19h5m-3 .8h5m-2-17.8h5m-2-.2h5m0 .3h5m-2 2.6h5m0 23h5m-4-21.6h5m-5 22.1h5m-3-24.1h5m-4 23.3h5m-4-.1h5m-3-19.6h5m-2-1.2h5m1 .9h5m-4 .3h5m-4 22.8h5m-1 .1h5m-4-17.5h5m-5 17.4h5m-4-16.9h5m-4-.1h5m-5 18.9h5m-3-17.7h5m-5 17.9h5m-2-18.4h5m-4-1.1h5m-4-.1h5m-5 16.8h5m-4-.7h5m-4-.5h5m-4-15.7h5m-5 15.7h5m-3 1.8h5m-3-.1h5m-2-15.1h5m-5 17.7h5m-4-.5h5m2.1 3.7h5m-3-18.6h5m-5 17.8h5m-4-17.5h5m-4 17.1h5m-4-1.1h5m-4-14.1h5m-5 15.3h5m-2-13.2h5m-5 14.5h5m-4-14.8h5m-4 16.3h5m-3-18h5m-3 17.2h5m-3-15h5m-5 18.3h5m-1-17.6h5m-4-1.1h5m-4 16.3h5m-1-1.4h5m-4-15.1h5m-2-1.8h5m-3 17.6h5m-4-.2h5m-4 .9h5m-3-14.6h5m-5 15.9h5m-2 .4h5m-4-17.6h5m-5 16.8h5m-3-.2h5m-4-13.1h5m0-1.9h5m-5 14h5m-4-14.7h5m-5 15.6h5m-4-.7h5" stroke="#40ffff" stroke-width="1.1" fill="none" opacity="0.8"/>
<path d="M1199 888.4l2 .3 2 .6 2 .2 2 .6 2 .7 2-.5 2 1.5 2 .3M1216 892.9l2-.7 2-.5 2 1 2 .4 2.1 .3 2 .7 2 1.1 2 .2 2 .5 2 .5 2 .2 2 .3 2 .6 2 .7 2 0 2-.3 2-.4 2 1.8 2 .5 2 .7 2 1.4M1285.1 903.9l2-.1 2 0 2 .9 2 .6 2 .8 2 .6 2 .6M1301.1 907.8l2 1 2 .1 2 .3 2 .1 2-.1 2 .6 2-.2 2-.5 2 .4 2 .1 2 1 2 .4 2 1.3 2 .3 2 .7 2 .5 2-.7 2 .3M1338.1 913.8l2 .1 2.1-.1 2 1.2 2 .5 2 1 2-.2 2 1.1 2 1.2 2 1.2 2 .6 2 .4 2-.5 2-.3M1366.2 919.7l2 1.2 2 .8 2-.2 2-.7 2-.8 2 .8 2 .5M1381.2 921.3l2 .5 2 .6 2 .1 2 1.4 2-.9 2 .6 2 .7 2 1.4 2 1.2 2 .3 2 1 2 .5 2 .6M1543.3 962.5l2-.3 2 .6 2 .5 2 .3 2-.1 2 .5 2 .3 2-.3 2-.1 2 .5 2 .7 2 1.6 2-.5 2 1.1 2.1 1.1" stroke="#050a20" stroke-width="2.8" stroke-linecap="round" stroke-linejoin="round" fill="none" opacity="0.9"/>
<path d="M1164.5 873.4L1168 875.5" stroke="#e02020" stroke-width="2" fill="none"/>
<circle cx="1049" cy="863" r="2.9" fill="#0a10a0"/>
<circle cx="1066" cy="845" r="2.9" fill="#0a2a9a"/>
<circle cx="1139" cy="864" r="2.9" fill="#0a2a9a"/>
<circle cx="1206" cy="876" r="2.9" fill="#0a2a9a"/>
<circle cx="1409" cy="929" r="2.9" fill="#0a2a9a"/>
<circle cx="1519" cy="951" r="2.9" fill="#0a2a9a"/>
<circle cx="1626" cy="970" r="2.9" fill="#0a2a9a"/>
<path d="M1026.2 849.2L1629 975.6" stroke="#ffff00" stroke-width="2.7" stroke-dasharray="9 7" opacity="0.72" fill="none"/>
<path d="M1024 1217.2h0m1 1h0m3 .6h0m1-.7h0m1 0h0m1-.7h0m4 .7h0m3-1.3h0m1-.3h0m3-.6h0m2-1.4h0m1-.3h0m1-.3h0m1-.8h0m2-.8h0m2 .2h0m1-.7h0m4-2.1h0m2-.5h0m1-.4h0m1-.3h0m1-.3h0m1-.3h0m3-.8h0m3-.8h0m1 .4h0m4-1.9h0m3-1.5h0m1 .2h0m3-.4h0m4-.3h0m1-.3h0m5-.5h0m1 .5h0m2-1.4h0m1 .8h0m2-1h0m6-.6h0m1-.2h0m3-.6h0m1-.3h0m2-1.1h0m3 .2h0m1-.7h0m2-.9h0m1-.4h0m4-2.6h0m2-.7h0m2 0h0m2 .1h0m1 .2h0m4-1.5h0m5-1.3h0m2 .4h0m2-.4h0m4 .4h0m4-.6h0m1-.3h0m1-.5h0m2-1.3h0m2-.3h0m1-.2h0m1 0h0m1 0h0m4-.5h0" stroke="#0a0a30" stroke-width="6.2" stroke-linecap="round" fill="none"/>
<path d="M1032 1217.3h0m11-2.4h0m12-3.7h0m9-4.1h0m3-.7h0m3 .3h0m4-2.1h0m5-1.9h0m9 .2h0m4-.6h0m7-1.2h0m11-2.7h0m4-1.7h0m7-3.6h0m7-.3h0m6-1.7h0m7-.5h0m23-3.7h0" stroke="#0a2a9a" stroke-width="6.2" stroke-linecap="round" fill="none"/>
<path d="M1023 1214.6l2 0 2 1.4 2-.4 2-.6 2 .5 2 .5 2-1.2 2-.6 2-.3 2-1.2 2-.8 2-2.1 2-.1 2-.3 2-.1 2-1.6 2-1 2-.3 2-.4 2-1.2 2-.8 2-.3 2 0 2-.7 2-.4 2-1.6 2-.6 2-.3 2 .2 2 0 2 0 2-.2 2-.4 2 0 2-.8 2-.1 2-.2 2 .4 2-.6 2-.8 2-.6 2-.2 2-.9 2-.2 2-.8 2-1.2 2-.5 2-1.6 2-.8 2-1.1 2 .6 2 .1 2-.3 2-1.3 2-.3 2-.5 2 0 2-.3 2-.1 2 0 2 .4 2 .2 2-1 2-1.2 2-.5 2-.1 2 0 2-.1 2 0 2 .4 2 .1 0 2.2-2 1-2 .6-2 0-2 .4-2 0-2 .5-2 1.4-2 .4-2 .8-2 .9-2-.2-2-.4-2 .3-2-.6-2 .6-2 .4-2 .5-2 .6-2 .7-2-.3-2 0-2 .1-2 1.7-2 1.5-2 .1-2 1.9-2 0-2 .6-2 .5-2 .3-2 0-2 .9-2 .5-2 0-2 .2-2 .4-2 0-2 1.1-2 0-2-.2-2-.1-2 .4-2 .3-2 0-2 .8-2 1.3-2 .8-2 .6-2-.4-2 .7-2 .1-2 .8-2 1.3-2 0-2 1.8-2 1.4-2-.2-2 .2-2 .9-2 .4-2 1.6-2 .4-2 .5-2 1.2-2 .1-2 .5-2-.3-2 1.2-2 0-2-.2-2-1.5z" fill="#00ffff"/>
<path d="M1021.5 1214.6h5m-4 .6h5m-4 .8h5m-5 5.3h5m-3 .2h5m-4-5.9h5m-4 .4h5m-3-.5h5m-2 4.6h5m-3-4.8h5m-5 4.5h5m-2-5.6h5m-5 4.1h5m-4-3.9h5m-4-.5h5m-5 4h5m-4-5h5m-2-1h5m-4-.9h5m-5 4.1h5m-3-5.3h5m-4-.1h5m-5 4.6h5m-4 .5h5m-3-5.2h5m-4-.3h5m-1-2.6h5m-4 4.2h5m-4-4.5h5m-5 4.1h5m2-1.6h5m3-6.8h5m-4-1.1h5m4-.4h5m-4 4.6h5m-4-5.1h5m-4 .3h5m-3-.7h5m-4 4.6h5m-4 0h5m-4-1.1h5m-4 .7h5m-4-.5h5m-3-.1h5m-4 .4h5m-2-5.3h5m-5 4.1h5m-1-.5h5m-4-5h5m-5 5h5m-4-.8h5m-4-4.4h5m-4 3.6h5m-1-4.6h5m-4-.9h5m-4 4.1h5m-3-5.3h5m-1 1.6h5m-4 0h5m-4-.4h5m-3-3.8h5m-4 .2h5m-4 4.6h5m-3-5.7h5m-4-.1h5m-4-.7h5m-1 4.3h5m-4-.6h5m-4-4.2h5m-4-.2h5m-3 4.7h5m-1-5.4h5m-4 .8h5m-4 4.3h5m-4-4.9h5m-4 .1h5m-4 3.6h5m-3-5.1h5m-3-1.3h5m-5 4.6h5m-3-4.3h5m-5 3.9h5m-4-4.3h5m-4 4.1h5m-4 .1h5m-4-.2h5m-3-3.6h5m-4 2.9h5" stroke="#40ffff" stroke-width="1.1" fill="none" opacity="0.8"/>
<path d="M1168 1185.2h0m3-.6h0m2-.6h0m4-1.5h0m2-.7h0m3-.2h0m1-.6h0m4-1.8h0m1 .2h0m2-.4h0m1-.9h0m1 0h0m1 .4h0m8-1.5h0m6-1h0m5-.1h0m2-1.3h0m1-.2h0m2-.3h0m1 0h0m2-.6h0m5-1.6h0m1.1 .5h0m1-.1h0m4-.9h0m1-.7h0m3-.9h0m1 0h0m2 .1h0m1-.8h0m1-.4h0m1-.3h0m8-1.8h0m4-1.1h0m5-1.7h0m1 .5h0m3-1h0m1 0h0m4-.9h0m3 0h0m3-1.1h0m2-.4h0m1-.5h0m2-.2h0m1-.1h0m1-.6h0m2-.5h0m4-2.9h0m5 .3h0m1 .3h0m2-.5h0m2-.9h0m1 .1h0m1 .1h0m4-2.5h0m3-1h0m1 0h0m2-.9h0m3-.1h0m2-.8h0m3 .4h0m1 .1h0m6-1.8h0m2-1.4h0m2 .1h0m1-.7h0m1 .2h0m1-.4h0m2-.6h0m1-.5h0m1 0h0m5-1.1h0m2.1-.8h0m1-1.1h0m3-1.1h0m6-1.5h0m3-1.4h0m1 .3h0m6-1.4h0m2 0h0m1 .2h0m2-.7h0m3-.7h0m3-.6h0m1-.7h0m2-.2h0m1-.2h0m13-1.8h0m5-1.2h0m1 .4h0m3-.9h0m1-.4h0m1 .1h0m1-.9h0m1-.6h0m3-.9h0m3-.1h0m1-.3h0m1 0h0m1-1.2h0m1 .2h0m3-.1h0m1-.3h0m1-.5h0m4-2h0m1-.8h0m3-.3h0m3 .1h0m3-.8h0m1-.3h0m1-.1h0m6-1.6h0m1 .1h0m1-.1h0m1 .1h0m3-.7h0m3-.7h0m1-.3h0m5-.9h0m1 .3h0m2.1-.5h0m2 0h0m2-.7h0m2 .2h0m1-.6h0m1-.4h0m1-.4h0m2-.8h0m2-1.5h0m2-.5h0m1-.3h0m2-.8h0m3-.9h0m2-1.1h0m2-.5h0m3-.6h0m4-1.5h0m3-.7h0m5-.3h0m1-.2h0m3 .2h0m5-1.8h0m2-.9h0m3 .1h0m2-.3h0m1 0h0m1-.6h0m1 .1h0m3-.7h0m2-1.1h0m1 .3h0m5-1.9h0m1-.3h0m2-.2h0m1-.3h0m1 .5h0m2 .3h0m4-1.2h0m1 0h0m2-.7h0m6-.2h0m1-.8h0m1-.1h0m1-.4h0m4 .3h0m1-.2h0m1 .3h0m1-.5h0m1-1.1h0m2 0h0m2-.7h0m1 .1h0m1-.3h0m1 .5h0m5-1.9h0m1 .1h0m3.1-.2h0m1-.6h0m2-.8h0m1-.4h0m4 .2h0m1 0h0m2-.5h0m4-1.6h0m2-.4h0m1-.1h0m4-2.5h0m6-2.6h0m1 0h0m2-.1h0m1 .5h0m2-1.4h0m3-.1h0m1 .3h0m6-.9h0m1 1.1h0m6 .3h0" stroke="#0a0a30" stroke-width="6.2" stroke-linecap="round" fill="none"/>
<path d="M1170 1184.6h0m6-1.8h0m9-3.3h0m13-2.3h0m2-.2h0m3 .2h0m2 0h0m4-1.9h0m20.1-3.6h0m13-4.1h0m8-1.1h0m14-2.7h0m4-1.7h0m4-.1h0m16-5.7h0m15-3.4h0m15-3h0m18-5h0m7.1-2.5h0m1-.4h0m6-1.2h0m17-4.3h0m3-.2h0m4-1.2h0m7-1h0m4-1.3h0m22-4.5h0m40-9.2h0m5-.9h0m1-.3h0m30.1-8.6h0m5-1.9h0m8-1.6h0m14-2h0m10-2.1h0m5-1.3h0m10-.7h0m10-2h0m6-1.5h0m16-2.1h0m1-.4h0m11.1-3.1h0m1 .2h0m7-1.2h0m11-5.3h0m6-.7h0m17-.9h0m5-.1h0m2-.2h0m1 0h0" stroke="#0a2a9a" stroke-width="6.2" stroke-linecap="round" fill="none"/>
<path d="M1167 1183.5l2-.2 2-.5 2-1 2-.7 2-.4 2-.6 2-.5 2-1.6 2-.6 2 0 2-.8 2-.6 2 0 2 .2 2-1.5 2-.3 2-.2 2 0 2-.5 2-.4 2-.4 2 0 2-.5 2-.4 2-.5 2 0 2-1.4 2-.7 2 0 2 .6 2-.1 2-1 2-1.3 2 0 2 0 2-1 2-1.2 2-.5 2-.7 2-.6 2 0 2-.7 2-.3 2-.4 2-.5 2 0 2-.6 2 0 2-.5 2-.3 2 0 2-.2 2-1.1 2-1.1 2 0 2-.9 2-.7 2-1.8 2-1.1 2-.1 2 0 2 .1 2-.6 2 0 2-.8 2-.6 2-1.5 2-.1 2-.5 2-.2 2-.7 2-.9 2 0 2 .4 2 0 2-1.3 2 0 2-.7 2-1 2-.7 2 0 2-.2 2-.5 2-.7 2-.7 2-.4 2-1.7 2-.1 2-.2 2-.9 2-.3 2-1 2-1.1 2 0 2-.5 2-1.2 2 0 2 .4 2-.3 2-.8 2 0 2-.2 2-1.2 2-.1 2-1.3 2 0 2-.2 2-.5 2-.2 2 0 2 .3 2-.8 2-.7 2 0 2-.4 2-.4 2-1.2 2-.7 2-.6 2 0 2-.3 2-.6 2 0 2 0 2-.7 2-1.4 2-1.3 2-.1 2-.2 2-.4 2-.1 2-.4 2-.1 2-.1 2-1 2-.8 2-.2 2-.5 2 0 2-.8 2-.2 2-.1 2-.5 2 0 2-.6 2 0 2-1.1 2 0 2-.5 2-.8 2-1.8 2-.8 2-.6 2-.4 2-.7 2-.6 2-.6 2-.4 2-1.1 2-.5 2-.5 2-.2 2-.6 2-.1 2 0 2-.3 2-.5 2-.9 2 0 2-1 2 0 2-.4 2 0 2-.6 2 0 2-.6 2-1 2-.5 2-.6 2-.9 2-.6 2-.2 2 0 2 .8 2-.8 2 0 2-.7 2-.7 2 0 2-.6 2-.2 2 0 2 .2 2 0 2-1.1 2-.3 2-.4 2-.8 2 0 2 0 2-.8 2-.1 2-.2 2-.9 2-.8 2 0 2 .1 2 0 2-.8 2-.4 2-1.3 2 0 2-1.4 2-1.5 2-1.1 2-.8 2-.8 2 0 2 .1 2-1.4 2 0 2 .1 2 0 2-.3 2 0 2 0 2 .6 2 0 2 .4 2-.1 2 0 2 .8 0 3.1-2 .9-2 .3-2 0-2 0-2 0-2-.3-2-.7-2 1.1-2 0-2-.1-2-.2-2 1.4-2 0-2-.4-2 .6-2 .9-2 .9-2 .9-2 .8-2 .8-2 .6-2 .9-2 .6-2 0-2 0-2 .4-2 .3-2 .7-2 .3-2 .7-2 1.2-2 0-2 0-2 .5-2 0-2 1.1-2 .5-2 .5-2 0-2 0-2 .7-2 .2-2 .6-2 0-2 .4-2 0-2 .9-2 .3-2 0-2-.6-2 0-2 1.4-2 .1-2 .6-2 .6-2 .4-2 .4-2 .5-2 .5-2 0-2-.1-2 .9-2 0-2 1.7-2 0-2-.6-2 .4-2 0-2 .4-2 .6-2 .5-2 .9-2 .5-2 .5-2 .1-2 1.5-2 .7-2 .4-2 .7-2 1.1-2 1-2 1.1-2 .8-2 0-2 .2-2 .4-2 .2-2 0-2 0-2 .4-2 .9-2 .3-2 .3-2 .5-2 0-2 1-2 .9-2 0-2-.1-2 .1-2 .8-2 .2-2 0-2 .9-2 .7-2 1.1-2 .5-2 .3-2 .1-2 1.5-2 .2-2 .2-2 .5-2 .7-2 1.2-2 .3-2 .4-2 .5-2 0-2 .5-2 .2-2 .1-2 0-2 1.3-2 0-2 0-2 .6-2 .4-2 .5-2 .6-2 0-2 .7-2 .2-2 .5-2 .3-2 0-2 .8-2 .5-2 .8-2 .7-2 1.2-2 0-2-.1-2 1.7-2 .9-2 0-2 .3-2 .6-2 .9-2 1.1-2 .3-2 .3-2 .8-2 0-2 .5-2 1-2 .4-2 0-2 0-2 1.1-2 0-2 .7-2 1.2-2 .7-2 .7-2 1.4-2 .8-2 .2-2 .2-2 0-2-.2-2 0-2 .8-2 1-2 1-2 0-2 .4-2 .7-2 .1-2 .4-2 0-2 1.4-2 .4-2 0-2 .9-2 0-2 .5-2 .6-2 .2-2 .8-2 0-2 .3-2 .3-2 .8-2 1-2 .5-2 0-2 0-2 1.1-2 .6-2 .4-2 .3-2 0-2 .8-2 .4-2 1.2-2 .2-2 1.1-2 .5-2 0-2-.2-2 1.3-2 .3-2 0-2-.1-2 .4-2 1-2 0-2-.1-2 .3-2 0-2 .3-2 1-2 1.4-2 0-2 .1-2 .3-2 1.2-2 .2-2 .6-2 .5-2 0z" fill="#00ffff"/>
<path d="M1165.5 1183.5h5m-2 2.4h5m-3-3.5h5m-4-.6h5m-4-.3h5m-3-.8h5m-3-.5h5m-4-.1h5m1-2.4h5m1-1.7h5m-5 4.3h5m-4 .2h5m-4-3.9h5m-5 4.5h5m-4-4.3h5m-4-.6h5m-4-.8h5m-5 4.8h5m-4-5.5h5m-4 5.1h5m-3-5.6h5m-5 5.5h5m-1-4.9h5m-4 4.3h5m-4-5.2h5m-1-.2h5m-4 4.2h5m-4 .1h5m-4-5.6h5m-4 4.4h5m-3-4.5h5m-4-.8h5m0-1h5m.1-.2h5m-4-.4h5m-4 .3h5m-3 2.3h5m-1-4.9h5m-2-.7h5m-4-.3h5m-1 2.2h5m2-5.9h5m-4 5h5m-4-4.9h5m-5 5h5m-4-5.4h5m-4 4.8h5m-4-5.2h5m-4-.5h5m-5 4.6h5m-4-.5h5m-4 1.1h5m-4-5.1h5m-4-.1h5m-3-.2h5m-2 3.8h5m-4-4.5h5m-3-.4h5m-4 .2h5m-5 3.6h5m-2-5.2h5m-4 3.6h5m-4 .4h5m-4-5.1h5m-4 .3h5m-4-.3h5m-5 4.6h5m-3-.5h5m-4-5.3h5m-4-.4h5m-4-1.1h5m-5 5.4h5m-1-6.6h5m-3 5h5m-2-5.6h5m-5 6.6h5m-4-7.1h5m-5 6.9h5m-2-6.8h5m-4 5.8h5m3-9.1h5m-4 5.1h5m-2-6.4h5m-4 .3h5m-5 5.4h5m-3-6.6h5m-3 .4h5m-4 .8h5m-4-.5h5m-5 4.8h5m-1-6.2h5m-2 0h5m-5 4.3h5m-2-6h5m-4 .2h5m-3 4.4h5m-4-.9h5m-4-.2h5m-4-4.3h5m-5 3.7h5m-3-4.5h5m-5 4.2h5m-4-.6h5m-3-5h5m-5 4.2h5m-4-4h5m-1.9 3.6h5m-4-.8h5m-3-5.2h5m-5 4.2h5m-4-4.4h5m-5 3.7h5m-4-3.5h5m-3 3.5h5m-2-5.9h5m-5 4.9h5m-3-5.1h5m-4-.9h5m-5 4.4h5m-1-.9h5m-4 .4h5m-4-5.6h5m-5 4.6h5m-3 .4h5m-4-4h5m-4 3.8h5m0-.9h5m5-7.4h5m-4 .3h5m-5 4.2h5m-4 .8h5m-4-5.5h5m-5 4.6h5m0-4.6h5m0-1.2h5m-3 4h5m-4-3.8h5m-3 3.5h5m2-2.2h5m-4-4.9h5m-1-.9h5m-5 4.9h5m-4-4.5h5m-3-.9h5m-3 3.8h5m-4-3.5h5m-1 1.6h5m-2-5.4h5m-3 2.9h5m-3-3.2h5m-5 4.1h5m-4-4.5h5m-5 4h5m-4-3.8h5m-4-.3h5m-4 3.5h5m-4-3.8h5m-5 3.8h5m-4-3.9h5m-5 3.5h5m0-.5h5m-3-.9h5m-3 0h5m-4-.3h5m-2-.5h5m-3-4.8h5m-3 .1h5m-4-.3h5m-5 3.7h5m-4-.3h5m-1-3.8h5m-4 .1h5m-1.9 3.1h5m-3-4.7h5m-5 4.4h5m-4-4.8h5m-4 .7h5m-4-.2h5m-1-1.7h5m-4-.7h5m-5 3.9h5m-3-5.9h5m-3 .3h5m-4 3.8h5m-4-4.9h5m-5 4.5h5m-2-4.9h5m-5 3.3h5m-2-4.5h5m-5 3.8h5m-2-.5h5m-4-4.7h5m-5 4.2h5m-3-4.9h5m-2 3.5h5m-3-4.6h5m-3 3.4h5m-4-3.9h5m-4 3.3h5m-4-3.1h5m-2-.7h5m-5 4.1h5m-4 .7h5m-2-6.2h5m-4 .1h5m-4 3.7h5m-3-4.8h5m-3 4.6h5m-4 .1h5m-4-.5h5m-4-4.2h5m0 3.3h5m-3-1.1h5m-4-.4h5m0-.2h5m0-7h5m-5 5.3h5m-4-4.3h5m-4 5.2h5m-4-5.3h5m-3-.1h5m-4-.8h5m2-1.4h5m-4 .9h5m-4-.6h5m-4 0h5m-5 4.9h5m-4-.8h5m-1-4.3h5m-4-.1h5m-4-.6h5m-5 4.6h5m-4-.5h5m-3 0h5m-3-5.4h5m-4-.1h5m-5 4.4h5m-3-4.8h5m-2 .3h5m-4 4h5m-1-5.9h5m-4 0h5m-2.9 3.3h5m-4 .4h5m-2-5.5h5m-5 4.5h5m-2-4.2h5m-5 3.4h5m-4-3.8h5m-5 4.2h5m-2 0h5m-4-4.7h5m3 1h5m-4-4.4h5m-1-2.6h5m-4-.8h5m-4 .6h5m-3-1.4h5m-3 5.2h5m-3 .5h5m-4-6.1h5m2 5h5m-3-6.1h5m-4 .4h5m-5 4.2h5m-2 .8h5m-4 .6h5m-4-.7h5m-4-4h5m-4 .2h5m-5 3.9h5m-4 .4h5m-4 .2h5m-2-1.2h5" stroke="#40ffff" stroke-width="1.1" fill="none" opacity="0.8"/>
<path d="M1164 1186.9L1168 1185.2" stroke="#e02020" stroke-width="2" fill="none"/>
<circle cx="1027" cy="1212" r="3.4" fill="#0a2a9a"/>
<path d="M1028.4 1216.7L1627 1081.5" stroke="#ffff00" stroke-width="2.7" stroke-dasharray="9 7" opacity="0.72" fill="none"/>
<path d="M1022 1317.7l2 0 2 .7 2-1.3 2 0 2 .2 2 0 2 2.3 2 0 2 .7 2 1.9 2-1.1 2 0 2 1.4 2-.8 2 .1 2-1.1 2 2.9 2 .5 2-.1 2-.3 2 .8 2-1.2 2 0 2 2.6 2 .7 2-.2 2-2.2 2 0 2 0 2 5.2 2 1 2 0 2 .2 2-.9 2 0 2 1.3 2 4.3 2-1.3 2 0 2-.3 2 0 2-.7 2-.8 2 0 2 3.1 2-3.8 2 0 2 1.3 2 0 2-.9 2 0 2 1.2 2 .1 2 1.7 2 .8 2 2.5 2-1 2-1.2 2-.7 2-1.1 2 0 2 1.4 2 1.9 2-.6 2 0 2 3.5 2 1.4 2 1.7 2 1.3 2 1.4 2 .1 1 1.5 0 5.2-1 1.3-2 1.1-2-.5-2 2.4-2-.6-2 0-2-1.6-2 0-2-.5-2 .2-2 0-2-1.4-2 2.3-2 .2-2-1-2 0-2-1.5-2-1.5-2 1.8-2-3-2-2-2 0-2 2.5-2 0-2-1.2-2 .6-2 0-2-1.9-2 1.5-2 0-2-2.2-2 1-2 0-2 0-2-.6-2 .1-2-.1-2-2.3-2 3.1-2 0-2-3.7-2-.5-2 0-2-2.6-2 2.6-2 0-2-.7-2 .4-2-3.8-2-1.6-2 2-2 .3-2 0-2-.2-2 .9-2 0-2-2.4-2 .9-2 0-2-2.5-2-.5-2 0-2-.6-2 0-2-3.7-2 1.6-2 0-2-.2-2 1.1-2 0-2-1.9-2-1.1z" fill="#00ffff"/>
<path d="M1020.5 1333h5m-4-15.1h5m-5 16.2h5m-4-.3h5m-3-15.4h5m-5 17.6h5m-3-18.9h5m-4 .4h5m-2-.2h5m-5 17.8h5m-3-1.6h5m-4-13.7h5m-3 .1h5m-5 16.7h5m-4-16.3h5m-5 16.9h5m-3-1.8h5m-3-13.2h5m-5 15.6h5m-3-16.7h5m-4 .2h5m-5 17h5m-2 2.5h5m-3-19h5m-1 20.5h5m-4-18.4h5m-4 1h5m-5 15.9h5m-3-16.3h5m-5 16.9h5m-4-17.4h5m-5 17.5h5m-3-17.8h5m-4 .8h5m-4 16.8h5m-2-18h5m-5 16h5m-4 .6h5m-4-13.8h5m-4-.2h5m-5 18.8h5m-4-18.1h5m-5 17.3h5m-4-16.3h5m-5 16.7h5m-3-.4h5m-4-17.5h5m-2-1.9h5m-5 17.9h5m-4-18.2h5m-4 20.8h5m-4-1.2h5m-4-14.3h5m-4 .9h5m-5 14.6h5m-1-14.4h5m-5 18.6h5m-2-3.1h5m-4-16.4h5m-5 15.7h5m-3 3h5m-2-12.7h5m-4-.4h5m-5 13.1h5m-4 .6h5m-4-15h5m-3 15h5m-3-1.2h5m-4-.3h5m-4-13.8h5m-4-.7h5m-4 1.1h5m-5 16.1h5m-3-18h5m-5 16.5h5m-4-15.4h5m-3 2.1h5m-5 14.1h5m-4 1.1h5m-4-1h5m-4-18.1h5m-5 18.2h5m-3-16.2h5m-3-.7h5m-5 18.4h5m-3-17.4h5m-3 14.9h5m-1-15.5h5m-4 1.1h5m-5 19.4h5m-4-18.8h5m-4 .6h5m-5 15.4h5m-3 2.5h5m-2 1.5h5m-4-17.7h5m-5 17.2h5m-4 .4h5m-3-18.8h5m-5 19.7h5m-3-20.4h5m-5 18.1h5m-3-19.2h5m-4 .5h5m-5 19.1h5m-4-18.2h5m-4 18.9h5m-4 .1h5m-3-1.6h5m0-12.6h5m-5 15.7h5m-3 .4h5m-3-12h5m-4 .9h5m-4 8.6h5m-4 .7h5m-4-8h5m-5 8.7h5" stroke="#40ffff" stroke-width="1.1" fill="none" opacity="0.8"/>
<path d="M1023 1325l2 .2 2 .4 2 .4 2 .3 2 0 2 .9 2 .6 2 1 2 .1 2 .6 2 .1 2 .9 2 .3M1050 1330.4l2 .5 2-.4 2-.6 2-.6 2 .3 2 .7M1064 1330.7l2 .9 2 .3 2 .5 2 0 2 .4 2 .9 2 .6 2 .6 2-.1 2 .8 2 1.2 2 .1 2-.1M1092 1337.8l2 1.1 2 .8 2-.2 2 .8 2 0 2-.5 2-.9 2 0 2 0 2-.5 2 .4 2 .6 2 .1M1120 1339.7l2 .4 2 .9 2 .5 2 0 2 1 2 0 2 .3 2 .2 2 .5M1150 1346.4l2 .3 2 1.6 2 .6 2 .7 2 .4 2 0 2 .5" stroke="#050a20" stroke-width="2.8" stroke-linecap="round" stroke-linejoin="round" fill="none" opacity="0.9"/>
<path d="M1167 1346.3l2-.3 2-2.3 2 0 2-2 2-.5 2 0 2 2.9 2 1.3 2-3.1 2 0 2 1.6 2 0 2-.7 2-.3 2 0 2-.8 2 0 2 2.4 2 .2 2-.2 2 0 2 1.2 2 2.6 2-1.7 2 0 2 1.3 2 2.7 2 0 2 1.3 2 1.3 2-.3 2 0 2 1 2 0 2 .8 2-.1 2 0 2 0 2 0 2 .1 2 0 2 .3 2-.5 2 0 2 .6 2 1.8 2-.4 2 0 2-2.4 2 0 2 .5 2-.6 2 0 2 .9 2 .1 2 5.4 2-.3 2 0 2 2.8 2 0 2 1.4 2 .2 2 2.3 2-1 2 0 2 1.1 2 1.4 2 0 2-2 2 0 2 .4 2 .8 2 0 2-.4 2 0 2-.6 2 0 2 1.8 2 0 2 .1 2 0 2 .1 2 0 2 .1 2 1.9 2 1.4 2-1.9 2-1.7 2 0 2 1.7 2 0 2 .1 2 0 2 .5 2 .1 2 3.3 2 .1 2 .4 2 0 2 4.3 2-1.5 2 0 2 3.9 2 .7 2-.8 2 0 2 .2 2 .3 2-1.6 2-.7 2-.1 2-2.5 2 0 2 2.9 2 0 2 0 2 2.7 2 .2 2-.5 2 0 2 3.3 2 1.9 2 .2 2 0 2 1.7 2-.8 2 0 2 1.5 2 1.3 2 1.8 2 0 2 2.1 2 .9 2-.4 2 0 2 1.5 2 1.2 2 1.1 2 0 2-2.1 2 0 2-1 2 0 2 1 2-1.9 2 0 2 2.5 2 1.6 2-.9 2-1 2 0 2 .6 2 0 2 1.2 2-4.1 2 0 2 1.4 2 0 2 3.9 2 0 2 2.3 2 0 2 2.8 2 2.5 2 0 2 1.9 2-.2 2 0 2-.9 2 0 2 1.1 2-.2 2 0 2 .1 2 .3 2-.1 2 0 2 1.7 2 1.7 2 0 2 .6 2-2.7 2-1 2-3.4 2-2.5 2 0 2 6.3 2 1 2 5.1 2 5.8 2 4.8 2 .9 2-1.3 2 0 2 1.1 2 1.3 2 0 2 2.1 2-.6 2-1.6 2 0 2 1.5 2 0 2 1.6 2-.9 2 0 2 1.4 2-1.6 2 0 2-1 2 0 2 4.8 2-1.2 2 0 2 4.1 2-.8 2 0 2 5.8 2 .4 2-.3 2 0 2 .6 2 1.1 2 1 2 0 2 2.7 2 1.5 2 .6 2 1.2 2 .7 2-.4 2 0 0 9.6-2 1.3-2 .3-2 0-2-.9-2-.3-2-.8-2-1.1-2 0-2-1.1-2 0-2 .7-2 0-2-1.1-2 1.4-2 0-2-2.9-2-1.9-2 .2-2 0-2-1.9-2-.3-2 0-2 .6-2 0-2-.1-2-.6-2-1.9-2 0-2 2-2 1.7-2 0-2-4.5-2 2.4-2 0-2-1.4-2 1.5-2 0-2-4.8-2 1.3-2 1-2 0-2-1.3-2-8.6-2-3.8-2-3.3-2-5.7-2 1.3-2 0-2 7.6-2 0-2-1.6-2-.5-2 .1-2 .1-2 0-2-2.9-2 .8-2 0-2-1.4-2-2.1-2-.5-2-1-2 .5-2 1.9-2 0-2 0-2 .3-2 0-2-2.8-2-2.1-2-2.2-2 0-2-2.5-2-1.2-2-1.1-2-1.4-2 3.3-2 1.3-2 0-2 0-2-.4-2 3.2-2 .2-2 0-2-1.1-2-.8-2-4.4-2-.5-2 0-2 0-2-2-2-.3-2-.5-2 .4-2 0-2-2.2-2 0-2-4.4-2 1.3-2 .8-2 0-2-2.3-2 0-2-.1-2-.9-2 0-2-1.6-2 2.9-2 0-2-1.4-2 0-2-.1-2-3.4-2 1.5-2 .5-2 0-2-2-2-3-2 0-2-1.4-2-2.5-2 4.1-2 0-2-.1-2-1.7-2 1.4-2 0-2-2.5-2-1.6-2-1.2-2 2.1-2 0-2-1.4-2-1.8-2-.2-2-1.2-2-.1-2-1.4-2 .4-2 0-2-.2-2 0-2-.2-2 0-2 0-2 0-2 1.4-2 0-2-.2-2-1.9-2-.2-2 0-2-1.2-2 0-2-1-2-.6-2-1.2-2-.7-2 1-2 0-2-1.2-2-.1-2-3.3-2 5-2 0-2-1.4-2-1.8-2 .3-2 0-2-.3-2-2.7-2-1-2 2.9-2 0-2-2.5-2-3.4-2 0-2-.4-2 0-2 .2-2 0-2-1.1-2-2.4-2 1.4-2 0-2-1.1-2-1.3-2 0-2-1.8-2-1.2-2 2.4-2 0-2-1.3-2 0-2-.8-2 1.5-2 0-2-1.5-2-1.6-2 .4-2 0-2-.2-2 0-2 .1-2 0-2-1.2-2 0-2 2.5-2 0-2-2.2-2 2.1-2 0-2-3-2 0-2-3.8-2-.1-2 0-2 0-2-.6-2-2-2 1.8-2 0-2-2-2 .5-2 0-2-1.7-2-2.4-2-1.9-2-.5-2 0-2 0-2-.5z" fill="#00ffff"/>
<path d="M1165.5 1353.9h5m-4-7.9h5m-4 .2h5m-5 8.2h5m-3-10.7h5m-5 10.5h5m-4-.6h5m-4 .8h5m-4 .5h5m-4-13.2h5m-5 12.6h5m-4-13.1h5m-4 15.6h5m-3 2.4h5m-3 1.7h5m-3-.5h5m-4-18.1h5m-3 20.1h5m-3-18.5h5m-2 1.3h5m-4-1.1h5m-4-.9h5m-4 .5h5m-4-.8h5m-5 20.3h5m-2-21.1h5m-5 21.1h5m-4-.1h5m-4 .2h5m-4-.3h5m-3 4.1h5m-3-1.1h5m-3-21.5h5m-5 25.6h5m-3-24.4h5m-4 21.9h5m-4 0h5m-4-19.3h5m-4 21.9h5m1-19.3h5m-5 16.8h5m-4-17.1h5m-4 .3h5m-5 18h5m1.1-15.7h5m-5 14.6h5m-4-14.9h5m-5 15.3h5m-4 .8h5m-3-15h5m-5 14.6h5m-4-14.7h5m-4 .9h5m-4-.1h5m-5 15.5h5m-3-14.4h5m-4 .2h5m-5 15.7h5m-4-16.3h5m-4-.8h5m-4 15.6h5m-3 0h5m-4 .8h5m-2-16.3h5m-4 1.2h5m-2-.2h5m-5 14.2h5m-3-15.4h5m-4 .6h5m-4 0h5m-5 17.7h5m-4-16.6h5m-5 16.7h5m-3-15.6h5m-4 .4h5m-4-.8h5m-3-.4h5m-2-2.4h5m-5 18.9h5m-4-18.3h5m-5 19.2h5m-3-19.3h5m-2 .2h5m-4-.8h5m-2 22.9h5m3 6.6h5m-1-2.9h5m-3-16.1h5m-5 17.1h5m-1 3h5m-2-18.8h5m-5 17.9h5m-4-.2h5m-4-16.6h5m-2 1.4h5m-5 19.2h5m-2-19.1h5m-3-2.1h5m-3 .4h5m-5 19.1h5m-3 .1h5m-4 1.1h5m-4-19.2h5m-2-.4h5m-4-.3h5m-5 19h5m-4 .1h5m-4 .6h5m-3-20.3h5m-2 1.8h5m-5 21.3h5m-3-.6h5m-3-20.6h5m-4 .6h5m-2 .6h5m-4-1.1h5m-4 .1h5m-5 24.3h5m-2-22.4h5m-5 22.6h5m-2-21.2h5m-2.9-1.9h5m-3-1.7h5m-4 1.2h5m-1 .5h5m-5 21.9h5m-4-.4h5m-4-.1h5m-3-21.3h5m-5 22h5m-3-21.5h5m-4 21.1h5m-3 1h5m-4-18.7h5m-4 19.2h5m-4-19.1h5m-5 18.7h5m-3 1.6h5m-4-19.9h5m-5 20.1h5m-3 1.3h5m-2 1.9h5m-4-20.5h5m-2 4.9h5m-4 14.7h5m-3 1h5m-3-16.8h5m1 .9h5m-5 19.3h5m-3 .1h5m-4-21.4h5m-4 .3h5m-4-1h5m-2-2.6h5m-4 1.1h5m-5 22h5m1-20.2h5m-3 26.6h5m-4-22.9h5m-5 22.4h5m-4-23.2h5m-5 22.6h5m-2-23.1h5m-5 21.6h5m-2 4h5m0-20.2h5m-4 21.7h5m-3-20h5m-4 .9h5m-3-1.7h5m-5 19.5h5m-4-18.9h5m0 19.8h5m-4-15.4h5m-5 15.5h5m-4-1.1h5m-3 3.4h5m-4-.3h5m-4-.5h5m2-13.3h5m-5 16.4h5m-1 2.2h5m-4-16.3h5m-5 15.9h5m-4-14.7h5m-2 15.2h5m-4-18.3h5m-4 18.6h5m-2-19.8h5m-5 21.8h5m-4-20.8h5m-5 20.8h5m-2-1.9h5m-2.9 2.4h5m-3 4.4h5m-3 .8h5m-3-23.1h5m-5 24.2h5m-3-26.3h5m-5 25.2h5m-1-2.3h5m-4 .4h5m-2-22.2h5m-5 22.2h5m-4-22.5h5m-3-4.1h5m-4 .4h5m-5 21.3h5m-4-.7h5m-3-19.6h5m-4 22h5m-1-18.1h5m-4 22.9h5m-2-20.6h5m-3 22.8h5m-3 2.1h5m-4-19.6h5m-4 22.4h5m-3-20.5h5m-3 20.2h5m-4 0h5m-4-20.4h5m-3 18.5h5m-4-19.4h5m-5 18.6h5m-1 .4h5m-4-17.9h5m-4 .7h5m-4-.9h5m-5 19.2h5m-4-19.1h5m-3 22.9h5m-2-22.6h5m-4 1h5m-4-1.1h5m-5 21.1h5m-3 3.7h5m1-.2h5m-4-20.6h5m-2-2.7h5m-4-.9h5m-3-3.5h5m-5 22.2h5m-2-24.7h5m-2 7.3h5m-5 20.9h5m-1 8h5m-2 8.6h5m-3 1.3h5m-4-22.2h5m-3-1h5m-4-.3h5m-4 1.1h5m-5 20.1h5m-3 4h5m-4-21.3h5m-5 22.1h5m-3-23.6h5m-4 22.1h5m-3 1.4h5m-1-3.3h5m-4-20.2h5m-3 25.6h5m-2.9-24.2h5m-1 1.6h5m-5 18.9h5m-4-.3h5m-4 .1h5m-3 2.1h5m-4-20.3h5m-3-1.6h5m-2 21.5h5m-4-22.5h5m-4 23h5m-2 .3h5m-2-19.7h5m-5 21.6h5m-4-.2h5m-1 1.6h5m-4 .3h5m-1-13.6h5m-4 .4h5m-5 13.7h5m-4 1h5m-3-15.6h5m-4 .6h5m-3 15.4h5m-4-1.1h5m-3-11.7h5m-4-.5h5m-5 14.4h5m-4-.8h5m-3-10.9h5m-4 12.8h5m-2-10.7h5m-5 11.5h5m-3-10.3h5m-5 10.6h5m-4-9.9h5m-5 10.8h5m-4-10.4h5m-4 0h5m-4 9.1h5" stroke="#40ffff" stroke-width="1.1" fill="none" opacity="0.8"/>
<path d="M1192 1352.5l2 .9 2 .4 2 0M1200 1354.1l2 .3 2 0 2 .4 2 1.2 2 1 2 .2 2 .6 2 1.7 2 .6 2 .6 2 .3 2 .3 2.1 1 2 .3 2 .6M1231.1 1363.4l2 .2 2 .4 2-.2 2 .2 2 .1 2-.3 2-.1 2 .9 2-.2 2 0 2 .2 2 .9 2-.1 2 .4 2 .2M1263.1 1366.2l2 .1 2-.3 2 .1 2 .9 2 .7 2 1.3 2 .6 2 .9 2 1 2 1 2 .8 2 .4 2 .8 2 .3 2 1.2 2 .5 2-.1 2 .1 2-.4 2 0 2 .2 2 0M1308.1 1376.5l2 .1 2 1 2 1 2 .6 2-.1 2 .7 2 1.1 2 .6 2 .7 2 .7 2 1.5 2 1.3 2 .7 2-.2 2-.5 2-.5 2.1 .6 2-.1M1346.2 1386l2 .1 2 .7 2-.3 2 .6 2 .9 2 .7 2 1.3 2 .1 2 .5 2 .7 2 .4 2 .3 2 .6 2 .5 2 .3M1378.2 1394.3l2 .7 2 0 2 0 2-.1 2 0 2-.1 2-.1 2-.6M1428.2 1401.7l2 1.1 2 .3 2 1 2 .7 2 .7 2 1.3 2 .4 2 .5 2 .8 2 .7 2 .3 2 .7 2 1.2 2-.7 2.1-.1 2-.5 2-.2 2 .5 2 .2 2-1.2 2-1.2M1471.3 1408.6l2 0 2-.3 2-.3 2 1.2 2 1.9 2 1.7 2 1.9 2 1.8 2 1.5 2 1.4 2 1 2 2.1 2 0 2-.6M1508.3 1420.6l2 .9 2 .4 2 .2 2 .9 2 .6 2 1.2 2 1.1 2 .2 2 1.7 2-.4 2-1.2 2-.9 2-1.7 2-1.8 2-2.1 2 3.4 2 3.6 2 4.9 2 3.6M1547.3 1437.1l2 3.9 2 .5 2 .3 2 1.1 2 .2 2 .1 2 .2 2-.4 2 1.2 2 .4 2 .6 2 .1 2.1 .2 2-.2 2-.5 2-.3 2-.6 2 1M1585.4 1445.3l2 1 2 .4 2-.2 2 .1 2 .5 2 .7 2 .6 2 .5 2 1.4 2 1.1M1607.4 1452.3l2 .8 2 .3 2 .4 2 1 2 .4 2 .4 2 .5 2 .9 2 .7 2 .7 2 .5" stroke="#050a20" stroke-width="2.8" stroke-linecap="round" stroke-linejoin="round" fill="none" opacity="0.9"/>
<path d="M1164 1350.4L1168 1350.1" stroke="#e02020" stroke-width="2" fill="none"/>
<circle cx="1493.2" cy="1429.7" r="2.9" fill="#0a10a0"/>
<circle cx="1481" cy="1400" r="2.9" fill="#0a2a9a"/>
<circle cx="1535" cy="1410" r="2.9" fill="#0a2a9a"/>
<path d="M1026.2 1319.5L1627 1448.2" stroke="#ffff00" stroke-width="2.7" stroke-dasharray="9 7" opacity="0.72" fill="none"/>
<path d="M110.9 1630l2-.9 2 0 2-.9 2 0 2 2.8 2-2 2 0 2 .8 2 .8 2 2.3 2 0 2 .7 2-.6 2 0 2 3.4 2-1.3 2 0 2 1.1 2-.3 2 0 2 1 2-.6 2 0 2 .4 2 .4 2 1 2 .7 2 .2 2 1.4 2 0 2 .6 2 1.9 2 2.4 2 .1 2 1.1 2 .2 2 1.2 2 1.3 2 0 2 .4 2-.3 2-.7 2 0 2 1.1 2-.4 2-.1 2-.3 2-1 2 0 2 1.8 2 1.3 2 1.8 2 0 2 1.4 2 1.3 2-.2 2 0 2 .8 2 1.2 2 0 2 0 2 0 2 .6 2 .9 2 0 2 .9 2-.8 2 0 2 1.6 2 0 2 .4 2-.1 2 0 2-1 2-.5 2 0 2 1.1 2 0 2 0 2-2.1 2 0 2-.4 2 0 2 3.2 2-.7 2 0 2 1.5 2 1.6 2 0 2 2.4 2 .7 2 .8 2 0 2 1 2 1.6 2 1.2 0 9.2-2 0-2 .7-2 2.6-2 0-2-.3-2-2.5-2-.7-2 0-2 1-2 0-2-1.6-2-1.3-2 .3-2 .5-2 0-2-.5-2 1.2-2 0-2-2.4-2 .5-2 0-2-1-2 0-2-2-2 .1-2 0-2-1.1-2-.2-2 0-2-2.4-2-1-2 .4-2 1.6-2 0-2-.9-2-1.9-2 0-2-1.3-2 .9-2 0-2 .2-2 0-2-2.3-2 .6-2 0-2-1.5-2-1.3-2-1.4-2-.4-2 .4-2 1-2 0-2-1.2-2-.6-2-.4-2-.3-2 .3-2 0-2-1.5-2 0-2-.6-2-2.2-2 .4-2 0-2-2-2-.3-2-.3-2 0-2-.3-2-2.5-2 1.6-2 0-2-.2-2-.7-2 2.3-2 0-2-2.1-2 0-2 1-2 0-2 .9-2 0-2-2.4-2-1.8-2-.8-2-1-2-.9-2-1.9-2-1.2-2 0-2-2.1-2-1-2-2.4-2-.8-2-1.3-2-3.6z" fill="#00ffff"/>
<path d="M109.4 1630h5m-4-.9h5m-4 9h5m-4 .3h5m-4 1h5m-3-11.2h5m-5 12h5m-3 2.4h5m-4-11.6h5m-5 12.6h5m-4-.9h5m-4-12.8h5m-4 15.8h5m-4-.1h5m-3-15h5m-3 18.2h5m-4-15.7h5m-4-.2h5m-4 .9h5m-5 15.9h5m-4-16.1h5m0 19.7h5m-2-16.8h5m-3 18.3h5m-4-19.7h5m-5 18.8h5m-3-1.2h5m-4-15.7h5m-4 16.8h5m-4-.3h5m-4-.8h5m-3-14.2h5m-5 17.4h5m-3-19h5m-4-.6h5m-3 .4h5m-5 17.6h5m-2-17.2h5m-3 1h5m-4 .7h5m-3 .2h5m-5 16.4h5m-2 .1h5m-2-14.5h5m-2 2.2h5m-4 14.7h5m-2-12.5h5m-5 12.5h5m-2-11.2h5m-4 0h5m-4 13.4h5m-4 .6h5m-2-11.5h5m-5 12.4h5m-4-12.3h5m-5 12.9h5m-4-12.2h5m-4-.4h5m-1-.3h5m-5 12.9h5m-4 .4h5m-4-12.9h5m-5 12.1h5m-3 1.4h5m-4-13.1h5m-5 14.3h5m-4-14.7h5m-4-.1h5m-4 13.8h5m-2-13.5h5m-4-1h5m-3.9-1h5m-5 15.5h5m-4-15.3h5m-4 16.5h5m-1 3h5m-3-14.8h5m-4 0h5m-2 16.5h5m-3-13.4h5m-4 .4h5m-5 12.4h5m-3 .3h5m-4-12.9h5m-4 .9h5m-2 .5h5m-4 11.9h5m-3-11h5m-4-1.1h5m-5 13.2h5m-4-12.8h5m-5 13.7h5m-4 .9h5m-4-14.4h5m-4 1h5m-3 1h5m-4 9.6h5m-4 .8h5m-4-10.6h5m-4 1.1h5m-5 9.6h5m-3-11.5h5m-5 14.8h5m-4-14.1h5m-3 14.1h5m-4-12.7h5m-4-.5h5m-5 13.4h5m-4 1.1h5m-3-14.1h5m-5 14h5m-4-12.9h5m-4-1.2h5m-4 .5h5m-4 .4h5m-5 14.8h5m-4 .4h5m-3-.3h5m-4-17.3h5m-4 .2h5m-5 18.4h5m-4-17.5h5m-5 17h5m-1 2.4h5m-4-18.5h5m-3 17.3h5m-3-20.3h5m-5 19.8h5m1 .2h5m-2-17.9h5m-2 1.5h5m-5 19.3h5m-2-1.1h5m-4-16.2h5m-4 15.5h5m-4 .4h5m-4 1h5m-1-13.4h5m-5 16.3h5m-4-15.7h5m-5 15.3h5m-3-14.9h5m-2 12h5" stroke="#40ffff" stroke-width="1.1" fill="none" opacity="0.8"/>
<path d="M111.9 1632.1l2 1.2 2 1.1 2 .5 2 .6 2 1.7 2 .1 2 .3 2-.2 2 .2 2 0 2 1.9 2-.7 2 .9 2 1.3M220 1663.1l2 .3 2 2.1 2 1.3 2 .6 2-.2 2 .3 2 .3 2 .8 2 1.1 2 0 2 .5 2 1.1 2 .5 2 1.1 2-.1 2 .5 2 .3 2 .5 2-.3" stroke="#050a20" stroke-width="2.8" stroke-linecap="round" stroke-linejoin="round" fill="none" opacity="0.9"/>
<path d="M304 1673.3l2-1.4 2-.5 2-.4 2-.4 2-.4 2 0 2 1.6 2 0 2 1.7 2 0 2 .3 2 .2 2-.6 2 0 2-1.2 2 0 2 1.5 2 2.4 2 0 2-1 2 0 2 2.1 2 0 2 1.6 2 1.4 2-1.7 2 0 2 .2 2 0 2 3.3 2 0 2-2.2 2 0 2 .9 2 0 2 1.8 2 0 2 1.6 2 .9 2 .4 2 1 2 .7 2-.8 2 0 2 .3 2 0 2-1 2-.4 2 0 2 1.1 2 1.6 2 1 2 0 2 1.3 2 .4 2 1.1 2 1.1 2 0 2 2.9 2-.4 2 0 2-.3 2 0 2-.3 2 0 2 1.3 2 2.2 2 .4 2-.6 2-1 2 0 2 .3 2-1.9 2-1 2 0 2 .9 2-1.1 2 0 2 2.3 2 .3 2 1.4 2 0 2 2.8 2 .3 2 0 2 1.2 2 0 2 1.3 2-1.3 2 0 2 1.6 2-.8 2-.6 2 0 2 .7 2 1.4 2-.1 2 0 2 2.7 2 .5 2 .4 2 .9 2 .6 2 0 2 .6 2 .9 2 2.9 2-2.2 2 0 2 1.6 2 0 2 1.1 2 2.2 2-.2 2 0 2 0 2 1.1 2 .2 2 .1 2 0 2 2.5 2-1.9 2 0 2 .6 2 .4 2 0 2 .7 2-2 2 0 2 3.7 2 .7 2 .6 2 1.3 2 .4 2-2.2 2-.2 2 0 2 .7 2-2.9 2 0 2 1.5 2 0 2 .3 2 0 2 1.1 2 0 2 3.2 2 0 2 .3 2 1.6 2 1.7 2 0 2 .3 2 0 2 1.3 2 .2 2 0 2 2 2 1.3 2-1.7 2 0 2 2.3 2 1.5 2 .4 2 .8 2 0 2 .9 2-.5 2-.8 2-.6 2 0 2-.4 2-.6 2-.5 2-.5 2-.7 2 0 2 .9 2 1 2 .3 2 .3 2 0 2 4.1 2-.5 2-.5 2 0 2 1.3 2 1.8 2 .4 2 1.8 2 2.1 2-.2 2 0 2 .6 2 0 2 .1 2 3.9 2-.5 2 0 2 1.1 2-1.6 2-.1 2-.5 2 0 2 0 2 0 2 .4 2 .2 2 0 2 1.9 2-1 2-.9 2 0 2 1.2 2 .9 2 .6 2 2.7 2 .3 2 3.6 2-.7 2 0 2 .8 2 0 2 .8 2 .1 2 1.6 2 .3 2-1 2 0 2 .3 2 0 2 1.2 2 .1 2-.3 2 0 2 .5 2 3.5 2-3.6 2 0 2 2 2 .9 1 0 0 15.4-1 0-2 0-2-.8-2 0-2 0-2-.6-2 .2-2 0-2-.1-2 1.8-2 0-2-1.4-2 .2-2 0-2-.2-2 0-2-3.2-2-.9-2-1.3-2-.3-2 1.2-2 0-2-1.6-2-1.8-2-.2-2-2-2 .9-2 0-2-1.5-2-.9-2 0-2 .3-2 0-2-1.4-2-1.7-2 1.2-2 0-2 .4-2 0-2-.6-2 1.6-2 0-2-.2-2-.9-2 0-2-3.1-2 0-2-1.5-2-.2-2 0-2-.1-2-1.1-2-2.1-2-.7-2-1.5-2 0-2-.2-2 0-2-2.3-2 .2-2 0-2-1.4-2-.9-2-.7-2 0-2-1.7-2-.2-2 .6-2 2.1-2 0-2-1.1-2 0-2 1.7-2 0-2-.1-2 0-2-.8-2 .4-2 0-2-3.1-2-.8-2-1.1-2 1.3-2 0-2-1.8-2 0-2-1.2-2 .5-2 0-2-1.5-2-1.2-2 .6-2 0-2-1.4-2 0-2-2.1-2-.1-2-1.4-2-.3-2-.9-2 0-2 1.7-2 1.8-2 0-2-1.1-2-2.1-2 .3-2 3.9-2 0-2-2.8-2 .5-2 0-2-2.6-2 .7-2 0-2 0-2-1.3-2 0-2-.2-2-2.1-2 1.3-2 .4-2 0-2-.3-2-.8-2-1.1-2-2.7-2 0-2-.3-2-1.1-2-.5-2 0-2 .2-2 0-2 .1-2 0-2-2.2-2 0-2-.9-2 0-2-.1-2 0-2-.5-2-4.1-2 0-2-.1-2-.5-2-.2-2-.9-2 0-2-2.3-2 1.9-2 .1-2 0-2-.6-2 0-2-2.3-2 0-2 1.7-2 0-2-3.3-2-1.6-2 0-2-2.5-2-.6-2-2-2-.5-2-1.7-2 .5-2 .1-2 1.7-2 1.2-2 1.1-2 1.3-2 0-2-1.6-2 0-2 1.2-2 0-2-.8-2 0-2-.9-2-.5-2 0-2-2.8-2-1.1-2 .5-2 .7-2 0-2-.2-2 0-2-2.2-2 0-2-1.1-2-.8-2-.6-2 1.4-2 0-2-1.5-2 0-2-.2-2 0-2-1.3-2 0-2-.8-2-1.3-2-1.1-2 0-2-1.2-2 0-2 1.4-2 0-2-.6-2 0-2-1.2-2 0-2 .3-2 0-2-1.5-2-.3-2-1.3-2-.7-2-2-2 2.2-2 0-2-4.1-2 .2-2 .3-2 2-2 0-2-2.3-2-.4-2-2.1-2-1.5-2-.1-2-.9-2-1.9-2-2.4-2 .9-2 0-2-1-2-.5z" fill="#00ffff"/>
<path d="M302.5 1673.3h5m-3-1.4h5m-5 9h5m-3-9.5h5m-4 .3h5m-5 9.3h5m-4-10h5m-4-.4h5m-3-.4h5m-5 13.2h5m-2-10.3h5m-4-.2h5m-5 12.4h5m-4 .9h5m-3 .1h5m-4 .4h5m-4-13.2h5m-4 16.1h5m-4-15.7h5m-5 16h5m-4-15.9h5m0-.6h5m-1.9-1.2h5m-5 17.9h5m-2-.9h5m-3 5h5m-3-18.1h5m-3 1.1h5m-5 14.8h5m-3 2h5m-4 .2h5m-2 1.8h5m-2 1.8h5m-4-17.4h5m-5 16.3h5m-4-16.4h5m-5 17.2h5m-4 0h5m-3-18.7h5m-5 18.7h5m-3-.1h5m-4-18.7h5m-4 20h5m-3-16.7h5m-4 17.3h5m-2-16.8h5m-3-2.7h5m-5 18.1h5m-2-17.2h5m-4 18.4h5m-3 0h5m-4-16.6h5m-5 17.7h5m-3 .4h5m-4 .9h5m-3-16.5h5m-2 1.4h5m-4 0h5m-2.9 1.1h5m-4 16.3h5m-3-17.5h5m-4 1h5m-1-.7h5m-5 17.3h5m-4-16.3h5m-5 16.3h5m-2-18.3h5m-3-.4h5m-5 20.1h5m-1-17.4h5m-5 17.9h5m-3 2.8h5m-3-19.7h5m-3 19.9h5m-4-18.2h5m-4 .2h5m-4 .9h5m-3 15.4h5m-4 .5h5m-4-14.8h5m-3 18.7h5m-4-15.8h5m-4 1.2h5m-4 14h5m-4 1.1h5m-3-15.8h5m-5 16.5h5m-4 .2h5m-4-17.9h5m-5 16.8h5m-3 1.9h5m-4-.9h5m-3-1h5m-3 .7h5m-4-.4h5m-3-12.9h5m-3.9 14.9h5m-2-15.2h5m-4-.9h5m-5 13.6h5m-2-13.7h5m-2-.6h5m-5 10.9h5m-3-12.8h5m-5 12.7h5m-4-13.7h5m-5 13.7h5m-2-11.7h5m-5 13.5h5m-4-14.6h5m-3-1.1h5m-4 .6h5m-5 17.6h5m-2-15.6h5m-5 17.8h5m-3 .2h5m-4-.4h5m1-11.2h5m-4 15.2h5m-4-17.1h5m-5 17.4h5m-2-16.2h5m-5 17.5h5m-4-17h5m-5 18h5m-4-.7h5m-4-16.5h5m-5 16.3h5m-4-15.7h5m-4 17.2h5m-4-.1h5m-4-18.4h5m-5 17.8h5m-3-16.8h5m-4 .6h5m-5 14h5m-2 3.2h5m-4-19.2h5m-2.9 .7h5m-5 19.4h5m-3 .2h5m-3-18.2h5m-4 18.3h5m-4-.2h5m-4-17.6h5m-5 18.3h5m-2-15h5m-5 19.1h5m-4-19.8h5m-4 .4h5m-5 19.9h5m-3-19h5m-5 18.3h5m-2 .8h5m-4-17.9h5m-4-.6h5m-4 .6h5m-5 18.8h5m-3-17.9h5m-5 17.9h5m-3 2.2h5m-4-16.1h5m-4 0h5m-3 15h5m-4 1h5m-4-.9h5m-4 .6h5m-3-17.4h5m-5 17.5h5m-1 .5h5m-4-14h5m-2-.9h5m-5 16.3h5m-2-15.2h5m-3 .2h5m-5 18.8h5m-3-18.1h5m-5 18.9h5m-2-19.5h5m-2.9 19.4h5m-4-16.9h5m-3 15.6h5m-4-17.5h5m-4 .6h5m-5 19h5m-4-.9h5m-4 .8h5m-4 .3h5m-3-18.8h5m-3 .7h5m-3 19.4h5m-4-21.4h5m-5 20.3h5m-2 .4h5m-2 1.9h5m-3 .2h5m-2-15.4h5m-3 13.3h5m-4 .4h5m-4-.5h5m-4-16.3h5m-3 .7h5m-5 18.5h5m-1-.7h5m-4-20.7h5m-3 2.1h5m-4-.6h5m-5 17.5h5m-4-1h5m-2-16.2h5m-5 18.1h5m-4-.3h5m-4-15.6h5m-3-1.1h5m-5 18.7h5m-1 2.2h5m-3.9-17.7h5m-4 .3h5m-3 17.7h5m-4-15.8h5m-4 16h5m-4-.6h5m-4-14h5m-4 14.9h5m-4-13.3h5m-3 16h5m-4-17.3h5m-4 16.8h5m-4-.3h5m-2-14.1h5m-4-.9h5m-5 16.5h5m-3-13.5h5m-4 .3h5m-5 15h5m-4-14.7h5m-4 13.1h5m-2 .3h5m-4 1.1h5m-1-12.3h5m-5 15.7h5m-4-15.1h5m-4 15.2h5m-4-14.1h5m-4 13.9h5m-4-13.7h5m-4 14.7h5m0-15.4h5m-5 15.5h5m-2-1.7h5m-4-15.2h5m-5 14.7h5m-2 1.6h5m-.9-17.8h5m-4 14h5m-4 .9h5m-4-14.9h5m-5 14.9h5m-4-16.1h5m-3 17.8h5m-4-16.3h5m-5 16.7h5m-4-16.3h5m-5 15.9h5m-2 1.1h5m-4 .9h5m-3-17.3h5m-4 18.7h5m-3-.2h5m-4-14.4h5m-4 .3h5m-3 16.4h5m-4-17.7h5m-5 17.2h5m-4 .3h5m-4-16.2h5m-5 16.6h5m-3-14.8h5m-3 .4h5m-5 15.9h5m-3-14.1h5m-3 2.6h5m-5 14.3h5m-3-14.8h5m-5 15.5h5m-2 0h5m-3-15.1h5m-4 0h5m-3 .1h5m-4 17.1h5m-4-13.2h5m-2 15.5h5m-3-16h5m-4 1.1h5m-5 16.7h5m-3 .2h5m-2.9-1.6h5m-2-17h5m-4-.5h5m-5 18.1h5m-4-18h5m-5 17.4h5m-2-17.5h5m-5 17.7h5m-3-2.2h5m-4-15.1h5m0 18.3h5m-4 .9h5m-4-1h5m-3-17.1h5m-5 17.5h5m-4 .3h5m-3-18.7h5m-4 1.2h5m-2 .9h5m-4 .6h5m-5 17.5h5m-4-1.2h5m-3-12.8h5m-3 15.5h5m-3-12.3h5m-4-.1h5m-3-.7h5m-5 17.2h5m-4-16.5h5m-2 .1h5m-5 15.2h5m-4-.6h5m-4 .9h5m-3 .2h5m-4-14.8h5m-2 1.9h5m-4 .7h5m-5 17.4h5m-1.9-18.4h5m-5 18.6h5m-4-19.3h5m-1 .3h5m-3 1.2h5m-5 19h5m-4-17.8h5m-3-1.1h5m-4 .4h5m-3-.7h5m-5 17.5h5m-4-17h5m-5 16.2h5m-4 0h5m-3-12.5h5m-5 13.1h5m-3 .6h5m-4-17.5h5m-4 .6h5m-4 16.1h5m-3-12.6h5" stroke="#40ffff" stroke-width="1.1" fill="none" opacity="0.8"/>
<path d="M305 1675.8l2 .5 2 .3 2 .5 2-.1 2 .7 2 .1 2 .4 2 .4 2 .6 2 .6 2 .8 2 1.4 2 .4 2.1-.3 2 .3 2 1.4 2 .9 2-.8M343.1 1684.5l2 .5 2-.3 2 .2 2-.4 2 .8 2 .7 2 .9 2 .1 2-.3 2-.3 2 2.2 2 1.1 2 1 2 .3 2-.5 2 .2 2-.2 2 1.4 2 .4M478.3 1704.4l2 .7 2 .3 2 .8M534.4 1719.1l2 .9 2-.5 2 1.7 2-.3 2 .3 2.1 .3 2-.5 2 1.1 2 .9 2 1.3 2 .3 2 .6 2 0 2 1.3 2 1.7 2 1.3M568.5 1729.9l2-.4 2-1.3 2-1 2-.6 2-1.4 2 1.3M581.5 1726.6l2 .6 2-.7 2 .3 2-.8 2 1.2 2 1.1 2 1 2 1.2 2.1 1.3M601.6 1733.2l2 .6 2 .6 2 .9 2 1 2-.2M612.6 1736.4l2 1.6 2 .7 2 1.1 2 .7 2 .8 2 .6 2 .8 2 1.3 2 .8 2 .9 2 1.4 2 0 2 0 2-.1 2-.4 2 .1 2-1 2-.5M667.7 1748.4l2 .1 2 .5 2 1.1 2-.3 2 .9 2 .7 2-.2 2 .7 2 .9 2 1 2 1.3 2 1 2 .8 2 .8 2 2.1 2 1.3 2 .9 2-.2 2.1-.6" stroke="#050a20" stroke-width="2.8" stroke-linecap="round" stroke-linejoin="round" fill="none" opacity="0.9"/>
<path d="M301 1675.8L305 1676.9" stroke="#e02020" stroke-width="2" fill="none"/>
<circle cx="128" cy="1631" r="2.9" fill="#0a2a9a"/>
<circle cx="153" cy="1654" r="2.9" fill="#0a2a9a"/>
<circle cx="217" cy="1651" r="2.9" fill="#0a10a0"/>
<circle cx="278" cy="1660" r="2.9" fill="#0a10a0"/>
<circle cx="341" cy="1688" r="2.9" fill="#0a2a9a"/>
<circle cx="509" cy="1707" r="2.9" fill="#0a10a0"/>
<circle cx="559" cy="1717" r="2.9" fill="#0a10a0"/>
<circle cx="683" cy="1744" r="2.9" fill="#0a2a9a"/>
<circle cx="758" cy="1760" r="2.9" fill="#0a10a0"/>
<circle cx="786" cy="1779" r="2.9" fill="#0a2a9a"/>
<path d="M115.1 1638.1L786 1774.3" stroke="#ffff00" stroke-width="2.7" stroke-dasharray="9 7" opacity="0.72" fill="none"/>
<path d="M111.9 2031.3h0m2-1.5h0m1-.2h0m1-.2h0m3-1.5h0m1-.2h0m5-3.5h0m8-2.1h0m3-1.5h0m1-.8h0m1 0h0m5-2h0m1-.6h0m3 .4h0m1-.2h0m5 .5h0m2-.3h0m2 .2h0m1 .2h0m1 .1h0m3-.1h0m4-1.2h0m3-.9h0m1-.8h0m2 .1h0m1-.1h0m1 .3h0m2-.4h0m1-.6h0m4-1.6h0m1-.2h0m1-.1h0m2-1.1h0m1 0h0m1-.1h0m1-1.3h0m2 .1h0m4-.7h0m3-.9h0m1-.5h0m2 .1h0m1-.3h0m1 .1h0m2-.6h0m11.1-2.1h0m1-.6h0m1 .1h0m3-.5h0m1-.1h0m1-.4h0m1-.7h0m1-.7h0m2 .5h0m1 .2h0m3-.7h0m3-.5h0m1-.8h0m2-.4h0m1-.5h0m5-1.5h0m1-.4h0m3-.6h0m5 .4h0m2-.9h0m1-.4h0m1-.6h0m1 0h0m2-.9h0m1-.7h0m4-.1h0m3 0h0m4-.8h0m1-.5h0m2-1.6h0m2-.3h0m1 .7h0m1-.6h0m2-1.1h0m1 .1h0m1-.2h0m1 .6h0m2-.9h0m1 0h0m1-.2h0m1-.1h0m1-.6h0m4-1h0m1 .2h0m7 0h0m1-.5h0" stroke="#0a0a30" stroke-width="6.2" stroke-linecap="round" fill="none"/>
<path d="M117.9 2028.4h0m14-6.4h0m2-.4h0m11-4.2h0m7-.2h0m15-.3h0m41.1-10.3h0m17-3.9h0m35-8.3h0m29-5.6h0m5-.9h0" stroke="#0a2a9a" stroke-width="6.2" stroke-linecap="round" fill="none"/>
<path d="M110.9 2029.6l2-1.3 2-.7 2-1.2 2-.6 2-1.3 2-1.2 2-1.3 2-1.1 2-1.1 2-.1 2-.5 2-1 2-.9 2-.6 2-.5 2-1.4 2-.2 2 0 2 .2 2 0 2 .3 2 .2 2 0 2 0 2 .2 2 0 2-.8 2-1 2-.6 2-.2 2 0 2 0 2-1.1 2-.7 2-.5 2-.5 2-.8 2-1.4 2-.2 2 0 2-.8 2-1.1 2 0 2 .2 2-.6 2-.7 2-.6 2-.3 2 0 2-.9 2 0 2-.5 2-.2 2-.7 2-.2 2-1 2 0 2 .4 2-.3 2-.9 2-.3 2-1 2-.4 2-.6 2-.4 2-1.2 2-.2 2 0 2 0 2 0 2-.7 2-1 2-.3 2-1.3 2 0 2 .3 2 .2 2-.5 2-.4 2-1.1 2-1.4 2-.4 2 0 2-.9 2 0 2-.4 2-.1 2-.9 2-.1 2-.2 2-.7 2 0 2 .2 2 .2 2 0 2 .4 0 2.5-2 .8-2 .1-2 .1-2 .6-2 .6-2 .2-2 .4-2 .6-2 0-2 .4-2 .1-2 .8-2 .8-2 0-2 1.1-2 .9-2 .4-2 .2-2 .5-2 0-2-.6-2 1-2 .8-2 .7-2 .7-2 .2-2 .2-2 0-2-.1-2 .7-2 1-2 .1-2 1-2 .8-2 .7-2 .3-2 .2-2 0-2 .3-2 1.1-2 0-2 .7-2 .1-2 .8-2 .3-2 0-2 .9-2 0-2 .7-2 .3-2 0-2 0-2 .3-2 1.4-2 .5-2 0-2 .8-2 .1-2 1-2 .7-2 .7-2 .8-2 .9-2 0-2 0-2 .8-2 .9-2 .3-2 1.2-2 0-2-.2-2-.1-2-.1-2 .1-2 0-2-.4-2 .3-2 0-2 .1-2 1.1-2 .6-2 .3-2 1.3-2 .9-2 0-2 .3-2 1.4-2 0-2 2.4-2 .9-2 .1-2 1.1-2 .4-2 .9-2 1-2 0z" fill="#00ffff"/>
<path d="M114.4 2027.1h5m-2-1.3h5m-1-2.5h5m-3-1.3h5m-5 4h5m-3-5.1h5m-4-.5h5m-2-.7h5m6-4.4h5m-1-.3h5m-2-.1h5m-4 .4h5m-5 4h5m-4 0h5m-3-3.1h5m-5 4.2h5m-2-.1h5m-4-4.5h5m-4 4.5h5m-4 .1h5m-4-4.7h5m-4-.2h5m-4 5.2h5m-4-.4h5m-4-5.1h5m-3-.7h5m-4-.8h5m-4-.2h5m-5 4.8h5m-3-5.4h5m-3 0h5m-4 4.6h5m-4 0h5m-2-5.7h5m-4 4h5m-4-4.7h5m-2-.5h5m-4-.5h5m-2 3.2h5m-1-1.5h5m-4 .7h5m-2-5.6h5m-3-.1h5m-5 3.5h5m-4-.3h5m-2-4.6h5m-1-.4h5m-5 4h5m-2.9-5.2h5m-5 4.9h5m-1-5.4h5m-3 4.3h5m0-5.2h5m-4-.9h5m-1-.9h5m-5 4.8h5m-4-5.1h5m-3 .5h5m-4 .3h5m-4-.1h5m4-2.9h5m-2 2.9h5m-4-3.9h5m-3-1h5m-3-.3h5m-4-.4h5m-5 4.3h5m-4-4h5m-5 4.1h5m-2-.3h5m-4-3.5h5m-3-1.1h5m-2-1.2h5m-4 4.1h5m-2-5.3h5m-4 0h5m-5 4.3h5m-4-4.4h5m1 4h5m-2-5.6h5m-3-1.6h5m-3-.4h5m-4 .7h5m-4-.4h5m-5 4.4h5m-2-.8h5m-4-4.8h5m-5 4.4h5m-3-.1h5m-3-4.8h5m-2-.9h5m-3 3.7h5m3-.5h5m-4-.3h5" stroke="#40ffff" stroke-width="1.1" fill="none" opacity="0.8"/>
<path d="M310 1985.8h0m3-1.4h0m2 .1h0m3-.6h0m4-1.1h0m1 0h0m3-1.1h0m1-.3h0m5.1-1.2h0m1-.6h0m9-2.5h0m6-1.1h0m2 .3h0m1-.6h0m2-.2h0m1-.6h0m2-.3h0m1-.3h0m1-.1h0m1 .3h0m1-.2h0m1-.1h0m2-.8h0m1 0h0m8-2.2h0m5-1.6h0m1 .2h0m2-.6h0m2-.1h0m1-.8h0m4.1 .2h0m1-.2h0m2-.3h0m1 .1h0m2-.9h0m1-.7h0m4-1.1h0m1 .2h0m2-.6h0m2-.9h0m1 .3h0m2-1.1h0m3-.5h0m3-.6h0m3-.1h0m1-.3h0m2-.8h0m1 .4h0m1 .1h0m2-.2h0m4-1.1h0m3-1.4h0m1 .2h0m6-1.1h0m2-.1h0m4.1-1.5h0m2-1.2h0m2-1.2h0m1 .3h0m1 .2h0m4 .5h0m2-.4h0m1-.2h0m3-1.3h0m1 .8h0m2-.1h0m1-.1h0m1 0h0m6-3.2h0m1 .7h0m1-.2h0m1 .2h0m2-1h0m1 0h0m2 0h0m4-1.6h0m2-1.2h0m1-1.1h0m3 .1h0m1-.1h0m1-.6h0m4.1-1.3h0m4-1.5h0m1 .2h0m2-.3h0m4-1.2h0m3-.2h0m1-.5h0m1-.4h0m3-.1h0m1-.6h0m2-.7h0m3 .3h0m1-.1h0m1 0h0m1-.6h0m5-1.3h0m1 .5h0m3-1.2h0m1 .4h0m2-.6h0m2-.3h0m1 0h0m3-1.2h0m6-1.1h0m1.1 .3h0m1 .4h0m1-.6h0m1-.4h0m1 .6h0m3-1.5h0m1-.8h0m1 .2h0m1-.2h0m1-1h0m1-.6h0m1 .3h0m1 .5h0m2-.9h0m1-.2h0m2 .8h0m2-.6h0m6-1.7h0m1-.4h0m1-.5h0m3 .9h0m1-.3h0m1-.4h0m1-.4h0m1 0h0m1 0h0m3-1.3h0m5-.3h0m1-.7h0m1-.6h0m2-.2h0m3-.6h0m1.1-.2h0m1 0h0m1-1h0m5-1.2h0m2-.2h0m1-1.1h0m2-.2h0m3-1.8h0m1-.5h0m1 .7h0m1 .2h0m1-.4h0m3-1.9h0m5-.7h0m2-1.5h0m1-.3h0m2-.3h0m3-.8h0m1-.4h0m1 0h0m1 .6h0m3-.4h0m4 .6h0m1-.2h0m4 0h0m6.1-.3h0m2-.5h0m2 .3h0m1-.2h0m3-2.4h0m4-1.7h0m1 .1h0m4-1.1h0m2-.7h0m8-2.7h0m1-.2h0m1 0h0m1-.1h0m1-.6h0m4-1.5h0m2 .3h0m3-2.1h0m2-.7h0m8.1-.5h0m1-.6h0m3 .6h0m2 .7h0m2-.2h0m5-1.2h0m1 .2h0m2-1h0m2-.2h0m1-.3h0m3 .6h0m4-1.1h0m1-.5h0m6-.1h0m2 .1h0m4-1.7h0m1 .2h0m1-.4h0m3-2.4h0m2 .1h0m2-1.7h0m1-.2h0m6.1-1.3h0m1-.3h0m1-.1h0m2-.9h0m3-.4h0m1-.2h0m1 .1h0m1 .1h0m1 .2h0m3 0h0m1 0h0m3-.1h0m1-.3h0m4 .1h0m2 1.3h0" stroke="#0a0a30" stroke-width="6.2" stroke-linecap="round" fill="none"/>
<path d="M308 1986.3h0m57.1-13h0m2-.6h0m1-.2h0m3-1.3h0m2-.2h0m1-.9h0m7-.9h0m19.1-3.6h0m5-1.6h0m2-.5h0m1-.7h0m15-2h0m9-2.3h0m8.1-1.8h0m1-.3h0m2-.9h0m6-.8h0m1 .2h0m1 .2h0m14-2.8h0m8-1.8h0m6-1.8h0m11-3.5h0m5.1-2.1h0m4-.2h0m3-1.2h0m3-.2h0m38-7.3h0m45.1-8.8h0m2 .1h0m12.1-3.2h0m8-1.8h0m9-3.6h0m19-4.6h0m8 .1h0m12.1 .1h0m35-12.1h0m3-1h0m4-1.2h0m7.1-.6h0m3 .2h0m4 .5h0m3-1.1h0m11-.9h0m8-1.2h0m1-.3h0m2-.1h0m4-.8h0m4-2.5h0m1 0h0m7-2.3h0m3-1.8h0m19.1-1.3h0" stroke="#0a2a9a" stroke-width="6.2" stroke-linecap="round" fill="none"/>
<path d="M304 1985.4l2-.5 2-1.1 2-.7 2-1 2-.1 2 0 2-.4 2-.9 2-.6 2-.9 2 0 2-.7 2-.6 2-1 2 0 2-1.5 2-.1 2-.1 2-.7 2-.4 2-.1 2-.1 2-.3 2-.5 2-.3 2-.2 2-.5 2 0 2-.8 2-.3 2-.2 2-.7 2-1.3 2 0 2-1.2 2 0 2 0 2-.9 2-.9 2 0 2-.6 2 0 2 .3 2-.2 2-1 2-.8 2-.2 2-.4 2-.5 2-.1 2-1 2-.6 2-.2 2-.5 2 0 2-.9 2 0 2 .1 2-.4 2-.9 2-.3 2-.9 2 0 2-1 2 0 2-.4 2 0 2-.8 2-1.1 2-1 2-.5 2 0 2 0 2 .2 2 0 2-1.3 2-.2 2 0 2 .2 2-1.4 2 0 2-1.6 2 0 2 .6 2-.3 2-.4 2-1 2-.2 2-1.6 2-1 2 0 2-.3 2-.7 2-.5 2-1.6 2-.4 2 0 2-.7 2-.1 2-.3 2-.5 2-.6 2 0 2-.7 2-.2 2-.4 2 0 2-.4 2-.3 2-.4 2-1 2 0 2-.5 2-.3 2 0 2-.3 2-1.2 2-.3 2-.1 2-.4 2 0 2-.4 2 0 2-1.3 2-.8 2-.8 2-.2 2 0 2-.6 2 0 2 .1 2-.9 2-.6 2-.3 2-.4 2-.4 2 0 2 0 2-.1 2-.3 2-1.8 2 0 2 .1 2-1.3 2 0 2 .1 2-.6 2-1.1 2-.2 2-.8 2 0 2-1.1 2-.3 2-1.4 2-1.1 2 0 2-.7 2-.7 2 0 2-.5 2-1.4 2-.9 2-.1 2-.3 2-.6 2 0 2-.2 2 0 2 .2 2 .1 2-.5 2 0 2-.5 2 0 2 .5 2-.5 2 0 2-1.2 2-1.2 2-.9 2-.5 2 0 2-1.2 2-.1 2-.7 2-1 2 0 2-.1 2-1.1 2-.2 2-1.1 2-1.7 2 0 2-.1 2-.7 2-.5 2-.9 2-.4 2 0 2 .1 2-.7 2 0 2 .6 2 .2 2-.1 2-.7 2-.2 2-.6 2-.1 2-.6 2 0 2 .2 2-.6 2-.5 2 0 2 0 2 0 2 .2 2-1.1 2-.5 2-1.4 2-1.1 2 0 2-1.4 2-.6 2-.8 2-1.1 2 0 2-1.2 2 0 2-.4 2-.1 2 0 2-.3 2 0 2 .6 2 0 2 .2 2 0 2 0 2 .7 1 1 0 3.8-1 0-2 0-2-.4-2 0-2-.3-2 0-2 .1-2 0-2 0-2 0-2 .3-2 1.1-2 .4-2 0-2 .4-2 .9-2 .9-2 .6-2 .3-2 1.6-2 .6-2 1.2-2 .6-2 0-2 .2-2 0-2 0-2 .8-2 .5-2 .5-2 0-2-.4-2 1.2-2 0-2 0-2 .9-2 .2-2 0-2-.4-2-.4-2 0-2 0-2-.3-2 .5-2 .6-2 .3-2 1.8-2 0-2 .3-2 1.1-2 .5-2 .5-2 1.1-2 .3-2 .5-2 1.2-2 .2-2 2-2 0-2 .7-2 .2-2 .6-2 2-2 .5-2 .2-2 .1-2 1.2-2 0-2-1.4-2 0-2 .3-2 0-2-.9-2 .4-2 0-2 0-2-.1-2 1.1-2 .1-2 1.1-2 .7-2 .3-2 .7-2 1.3-2 .2-2 0-2 .9-2 1.4-2 .7-2 .8-2 0-2 .8-2 .6-2 .6-2 0-2 1-2 .4-2 .4-2 .8-2 0-2-.2-2 1.1-2 .4-2 .1-2 .1-2 .2-2 .2-2 0-2 .6-2 .8-2 .5-2 .1-2 .7-2 0-2 .7-2 .4-2 .8-2 1.3-2 0-2 .4-2 0-2 .8-2 0-2-.4-2 1.4-2 0-2 .4-2 0-2 .3-2 .5-2 0-2 .3-2 1.2-2 0-2-.2-2 0-2 1.2-2 .1-2 .7-2 .4-2 .1-2 .7-2 .1-2 .9-2 .1-2 .9-2 .9-2 0-2 .8-2 .5-2 .6-2 1.2-2 1.2-2 0-2 .9-2 0-2 .9-2 .3-2 0-2 1.5-2 0-2 1.1-2 0-2 .1-2 0-2 .4-2 .5-2 0-2 .1-2 0-2 .4-2 1.1-2 0-2 .9-2 .5-2 0-2 .5-2 .8-2 0-2 .6-2 .5-2 .7-2 .1-2 0-2 .3-2 .4-2 .4-2 .2-2 .2-2 .5-2 .7-2 .1-2 1.4-2 .3-2 0-2 .6-2 1.7-2 .1-2 .2-2 0-2 .5-2 .3-2 .4-2 0-2 .2-2 .6-2 .7-2 .8-2 .3-2 .5-2 .6-2 .1-2 .7-2 .1-2 .2-2 .5-2 .7-2 .8-2 0-2 .2-2 0-2 .4-2 .7-2 0-2 .3-2 2.3-2 .3-2 .5-2 .4-2 0-2 .8-2 1-2 .5-2 .2-2 0-2 .8-2 0-2 .5-2 .5-2 0-2 .2-2 0z" fill="#00ffff"/>
<path d="M302.5 1988.2h5m-4-.2h5m-4-2.8h5m-3 2.2h5m-3-4.3h5m-5 3.3h5m2-.2h5m-4-.7h5m-3-4.5h5m-5 4.3h5m-4-5.2h5m-5 5.4h5m-4-5.2h5m-5 5h5m-4-.8h5m-3-.9h5m-4-4.4h5m-3 3.6h5m.1-.3h5m-4-1.1h5m-2-1.8h5m-4-3.8h5m-5 3.9h5m-4 .2h5m-4-4.7h5m-4 3.9h5m-4 .1h5m-4-.6h5m-4-.2h5m-3-.5h5m-4-4h5m0-.8h5m-3 4h5m-1-4.2h5m-4 3.4h5m-4-.4h5m-2-.9h5m-4-4h5m-2-.3h5m-3 3.4h5m-4-5.3h5m-4 .4h5m-4 4h5m-4-5.6h5m-5 5h5m-3-4.5h5m-3 3.6h5m-3 .1h5m-3-5.1h5m.1 3.7h5m-4 .2h5m-3-.8h5m-4-4h5m-4 .5h5m-5 4h5m-4-5h5m2 2.4h5m-2-5.3h5m-4 3.8h5m-4-3.9h5m-1-1.2h5m-4 3.7h5m-4-.5h5m-4-4.3h5m-2 4.1h5m-1-4.7h5m-4 .1h5m-3-.2h5m-4-.5h5m-4 3.5h5m-4 .4h5m0-1.7h5m-4-4.2h5m-4-.3h5m-5 4h5m-3-4.8h5m-4 .5h5m-.9-.8h5m-3-.8h5m-4-1h5m-3 4.2h5m-4-5.4h5m-5 4.6h5m-4-5.1h5m-3 4.8h5m-4-4.8h5m-4 4.9h5m-2-4.7h5m-5 4.4h5m-4-4.4h5m-4 .2h5m-5 4h5m-4 0h5m-4-5.5h5m-3 .4h5m-3 5h5m-2-6.8h5m-5 5.7h5m-3 .1h5m-3-7h5m-2 5h5m-4-4.5h5m-4-.2h5m-3-.4h5m-5 4h5m-4-4.4h5m-5 4.5h5m-4 .3h5m-2-6h5m-4 3.9h5m-4 0h5m-4-.9h5m-3-.3h5m-4-5.3h5m-4 .1h5m-3-.4h5m-5 4.1h5m-1.9-.4h5m-3-.9h5m-3-.9h5m-4-5.1h5m-4 5h5m-4-.1h5m-3-5.6h5m-5 4.7h5m-4-4.7h5m-4 4.7h5m-3-.7h5m-4-.1h5m-4-.5h5m-4 .1h5m0-1.3h5m-3-4.6h5m-4 3.9h5m-3-3.7h5m-5 3.6h5m-3 .3h5m0-5.6h5m-3 4.1h5m-4-.5h5m-4-.5h5m-3-3.9h5m-2 3.4h5m-4-.5h5m-4-3.6h5m-4-.6h5m-2 3.6h5m-4-.5h5m-2-4.1h5m-3.9 3.2h5m-3-3.8h5m-4-.8h5m-3 5.2h5m0-2.2h5m-4-.3h5m-4-5.6h5m-4-.1h5m-4-.1h5m-5 4.6h5m-4-4.2h5m-5 4.7h5m-2-1.6h5m-2-4h5m-4 .5h5m0-2.3h5m-5 4.4h5m-4-4.1h5m-5 4.4h5m-4-.2h5m-3-.7h5m-1 .3h5m-3-.7h5m-3-.8h5m-4 0h5m-3-5.6h5m-4 .1h5m-4 .4h5m-5 5.3h5m-4-5.6h5m-2-1.4h5m-4 5.4h5m-4-5.3h5m-5 4.8h5m-3-.6h5m1.1-1.1h5m-3-5.8h5m-5 4.9h5m-4-1h5m-4 1.1h5m0-2.9h5m-1-5.3h5m-5 4.4h5m-4-.3h5m-3-.7h5m-4-5.4h5m-4-.1h5m0 3.3h5m-1-5.9h5m-3 3.3h5m-3-4.5h5m-4 3.9h5m-4 .2h5m-4 .8h5m-4 0h5m-3-4.9h5m-5 4.4h5m-4-4.1h5m-2 5.1h5m-4-5.3h5m-5 5h5m-4-5.4h5m-4 4.7h5m-1-5.3h5m.1 0h5m-4 5.2h5m-4-4.1h5m-5 4.6h5m-1-2.3h5m-4-.2h5m-4-6.5h5m-4 0h5m-3-.5h5m-1-1.2h5m-3-.1h5m-5 4.8h5m-4-5.5h5m-1-.9h5m-4 .7h5m-4 3.7h5m-3-1.1h5m2-7.6h5m-5 5.1h5m-1-5.2h5m-3 3.1h5m-4 .1h5m-2-5.3h5m-5 4.7h5m-4-.5h5m-3-.2h5m-4-4.2h5m-3 4.7h5m-3.9-5.5h5m-2 5h5m-3-3.3h5m-5 4.2h5m-4-5.1h5m-5 5.3h5m-4-5.1h5m-4-.3h5m-5 5.3h5m-1-6.2h5m-2 4.3h5m-4-.1h5m-4-4.7h5m-4 4.4h5m-3-4.5h5m-5 4.8h5m-4 .4h5m-4-5.2h5m-5 4.4h5m-4-4.9h5m-5 5.2h5m-4-.5h5m-4-.2h5m-4-5.6h5m-4 .9h5m-3 3.8h5m-3-.2h5m-2-4.3h5m-5 4.6h5m-1-1.8h5m-1-2.2h5m0-6.1h5m-3-.6h5m-3-.8h5m-2.9-.5h5m-5 4.9h5m-2-5.7h5m-5 5.3h5m-4-6.3h5m7 .7h5m-1-.6h5m-1 .1h5" stroke="#40ffff" stroke-width="1.1" fill="none" opacity="0.8"/>
<path d="M301 1987.6L305 1986.8" stroke="#e02020" stroke-width="2" fill="none"/>
<path d="M113 2028.6L786 1882.7" stroke="#ffff00" stroke-width="2.7" stroke-dasharray="9 7" opacity="0.72" fill="none"/>
<path d="M110.9 2134.8l2-2.6 2-3 2 0 2 1.7 2-.2 2-1.1 2 0 2 .6 2 4.9 2-1.3 2 0 2 .8 2 .7 2 0 2-2.2 2 0 2 2.7 2 .7 2 0 2 1.8 2-.8 2-.8 2 0 2 .3 2 1.3 2 0 2 .4 2 0 2 1.8 2 1.1 2 .2 2-2 2 0 2 .4 2 0 2 1.6 2 0 2-1.4 2 0 2 1.4 2 0 2 1.7 2-1.6 2 0 2 .2 2 1.7 2 0 2 3 2-1.4 2 0 2 1.1 2 0 2 1.4 2 1.3 2 0 2 .7 2 0 2 2.5 2 .9 2 0 2 1.2 2 0 2 2.4 2 0 2-1.4 2 0 2 0 2 .1 2 0 2 0 2-1.6 2 0 2 0 2 0 2 .2 2 .4 2 .8 2 2.5 2-1.3 2 0 2-.6 2 0 2 .6 2 2.2 2 1.2 2 .1 2 0 2 1.5 2-.2 2 0 2 3.6 2 1 2 0 2 2.4 2 .4 2 2.8 0 5.3-2 1-2 0-2 .3-2 3.5-2 0-2-2.1-2 0-2-1.9-2 1.6-2 0-2-.3-2 .4-2 0-2-.3-2 1-2 0-2-2.8-2-.2-2 0-2-1.5-2-1.1-2-3.4-2 .4-2 .2-2 .2-2 0-2-.8-2 1.9-2 0-2-.2-2-.7-2-.8-2-.7-2 0-2-.7-2-.4-2-.4-2-1.1-2 0-2-.1-2 0-2-1.1-2 0-2-.6-2-3.2-2 1.8-2 1.1-2 0-2-.5-2-3.5-2-1.6-2-.9-2-1.6-2-.1-2-.4-2 0-2-1.3-2-1-2 1.9-2 0-2-1.3-2 0-2-1.2-2 .3-2 .7-2 0-2 .3-2 0-2-1.1-2 0-2-.7-2 .3-2 .3-2 .6-2 0-2-.5-2 1.3-2 0-2-2.4-2 1-2 0-2-.4-2 0-2-.2-2-.9-2 0-2-3.3-2-.6-2-1.4-2-1.2-2 0-2-.3-2-1.7-2 3.7-2 0-2-2.3z" fill="#00ffff"/>
<path d="M109.4 2134.8h5m-2-5.6h5m-2 14.5h5m-3-12.8h5m-5 15.3h5m-4-15.5h5m-5 15.8h5m-3-16.9h5m-5 16.1h5m-3-15.5h5m-5 16.7h5m-3 2.2h5m-4-.1h5m-4-13.9h5m-5 14.1h5m-3-15.2h5m-5 18.6h5m-1-17.3h5m-5 18.6h5m-3-17.5h5m-5 17.7h5m-2-18.8h5m-3-2.2h5m-5 21.4h5m-3-1h5m-2 1.3h5m-4-18.3h5m-5 19.4h5m-2-16.7h5m-4-.9h5m-4-.8h5m-4 17.6h5m-3-.6h5m-4-17.5h5m-2 15.5h5m-4-14.2h5m-4 15.6h5m-4 .7h5m-2-15.9h5m-4 16.4h5m-3-13.5h5m-5 12.9h5m-3 .9h5m-3-.7h5m-2-.3h5m-4-.7h5m-2 1.9h5m-2-13.8h5m-5 15.1h5m-1-16.5h5m-5 14.6h5m-4-.6h5m-2-12.6h5m-5 15.5h5m-3-.5h5m-3-13.3h5m-3-1.6h5m-5 15.9h5m-4-15.4h5m-4-.3h5m-5 17.3h5m-3 .9h5m-3-16.5h5m-5 18.1h5m-2 3.5h5m-3.9-18.6h5m-4 .7h5m-3-2.1h5m-5 19.4h5m0 1.4h5m-3-.5h5m-4 1.1h5m-3-17.6h5m-3 18.7h5m-3-18h5m-3 18.1h5m-2-14.7h5m-5 15h5m-3 1.2h5m-4-14.2h5m-5 13.7h5m-4-14.5h5m-5 14.3h5m-2 1.8h5m-2-13.1h5m-4 13.4h5m-4-14.5h5m-4-.9h5m-5 16.6h5m-4-16.3h5m-5 17h5m-4-17.3h5m-1 .1h5m-4 0h5m-4 15.1h5m-3-14.7h5m-5 15.9h5m-3-17.9h5m-5 17.7h5m-4-.2h5m-3-17.5h5m-5 16.5h5m-4 .5h5m-4-16.8h5m-5 16.9h5m-4-15.7h5m-4-.5h5m-5 19h5m-4 .6h5m-4-19.1h5m-5 20.2h5m-2-17.1h5m-5 18.6h5m-1 .2h5m-3 2.8h5m0-.7h5m-3-19.4h5m-1 .1h5m-5 19.2h5m-2-17.7h5m-5 16.1h5m-3-.3h5m-2 1.8h5m-2-13.2h5m-4 .2h5m-4-.2h5m-3 11.8h5m-4 0h5m-4 .1h5" stroke="#40ffff" stroke-width="1.1" fill="none" opacity="0.8"/>
<path d="M111.9 2139.6l2 .4 2-.1 2 .4 2 .3 2-.1 2 .6 2 .1 2 .5 2 .6 2 .2 2-.2 2 .2 2-.5 2 .2 2 .6 2 1M144.9 2143.6l2 .4 2 .4 2 .3 2 .7 2-.1M194.9 2152.1l2 1.1 2 1 2 .7 2 .5 2 .2 2.1 .1 2 .1 2 0 2 1 2 .8 2 .2 2 1.2 2 .2 2 .6 2 .3 2 .2 2 .3M231 2161.1l2 .2 2 .5 2 .4 2 .1 2 .4 2-.2 2 1 2 .6 2-.2 2 .3 2 .5 2 .4M256 2165l2 .6 2 .2 2 .5 2 .6 2 .5 2 .3 2 .4 2 .7 2-1.3" stroke="#050a20" stroke-width="2.8" stroke-linecap="round" stroke-linejoin="round" fill="none" opacity="0.9"/>
<path d="M305 2174.4h0" stroke="#0a2a9a" stroke-width="5.2" stroke-linecap="round" fill="none"/>
<path d="M304 2171.8l2 0 2 .1 2 .2 2 .3 2 0 2-1.7 2 0 2 1.3 2 0 2 .2 2-1 2-.6 2 0 2-1.1 2 0 2 2.7 2 0 2-1.7 2 0 2 3.2 2-1.5 2 0 2 4.1 2-.3 2-.2 2 0 2 .2 2 .4 2 .3 2-.3 2 0 2 2.5 2 5 2 .2 2 0 2 0 2 1.1 2 1.3 2 .3 2-1.7 2 0 2 0 2 1.2 2-.1 2 0 2-1.1 2-.1 2 0 2 2 2 1.8 2 0 2 .1 2 0 2 .2 2 .7 2 0 2 3.1 2 .3 2 .4 2 0 2 1.9 2 1.3 2 .8 2 1.1 2-.3 2 0 2 0 2 .8 2 0 2 .9 2 .4 2-.4 2-1.1 2-.6 2 0 2 .3 2-1.4 2 0 2 .3 2 1.5 2-.7 2 0 2 2.2 2 0 2 0 2-.1 2 0 2 1.2 2 0 2 .5 2 .3 2 0 2 2 2 1.8 2 4.4 2-.6 2 0 2 1.4 2 .7 2-1.6 2 0 2 .3 2 0 2 2.8 2 1.4 2-2 2 0 2 1.2 2-.3 2 0 2 2.4 2 1 2 0 2 1 2-2 2-.9 2 0 2 .4 2 0 2-.7 2 0 2 1.4 2 0 2 2.6 2-.3 2 0 2 .8 2 2.7 2 2.3 2-1.9 2 0 2 1 2 2.1 2 0 2 1.8 2 0 2 2.5 2 .2 2 0 2 2.4 2 1.8 2 0 2-1 2 0 2 1.9 2 0 2-1.3 2-.5 2 0 2 0 2 0 2-.9 2 0 2 2.7 2 0 2 1.5 2 0 2 .8 2 .5 2 1.3 2-2 2 0 2 1.1 2-1.2 2 0 2 1.8 2 1.9 2 0 2-.2 2 0 2 3 2 0 2 .9 2-.1 2 0 2 .1 2 .4 2 3.6 2 1.2 2 0 2 1.9 2 0 2 1.7 2-1 2-1.2 2 0 2 1.6 2 0 2-.2 2 0 2 .8 2 .8 2-1.8 2 0 2 2.4 2-2.2 2 0 2 .5 2 0 2 1 2 1.4 2-1 2 0 2 2.9 2 .9 2 1 2 .8 2 2.5 2-1.6 2 0 2 2.7 2 .3 2-2.2 2 0 2 1.5 2 0 2-.9 2 0 2-.9 2 0 2 2.2 2 0 2 2.2 2-.3 2-.8 2-1.5 2 0 2 .6 2-.1 2 0 2 1.6 2-1.6 2 0 2 1.4 2 .2 2 1.8 2 0 2 .6 2-1.1 2 0 2 2.7 1 0 0 15.3-1 0-2 0-2-.7-2-.8-2 1.6-2 0-2-1.8-2 0-2-2-2 1.8-2 1.1-2 0-2-1.3-2 0-2-.9-2 0-2 2.7-2 0-2-1-2-.9-2-.5-2-2.8-2 0-2 1.4-2 0-2 .4-2 0-2-.4-2 .1-2 1.4-2 0-2 0-2-1.5-2 0-2-2.3-2 .4-2 0-2-1.3-2 0-2-3.9-2 0-2 2.2-2 0-2-1.5-2 .5-2 0-2-3.5-2 1-2 3.4-2 0-2-1.2-2-2.6-2-.1-2-.2-2 1.1-2 0-2-3-2 0-2 .2-2 .8-2 0-2-.4-2-.9-2-.1-2-2.8-2-3.2-2-.5-2 .9-2 0-2-1.1-2-.1-2-.9-2-1.5-2-.9-2 0-2-.4-2 .2-2 0-2-2.7-2 0-2-.8-2 2.1-2 0-2-1.4-2-.9-2-1.7-2-.1-2 0-2-.5-2-.5-2 0-2-1.7-2 0-2-.7-2-.6-2 0-2 1.4-2 0-2-.5-2-1.8-2 .6-2 0-2-3.1-2 0-2 0-2-.8-2-.7-2-.5-2-1.6-2-.3-2-.5-2-.9-2 1.3-2 .7-2 0-2-2.5-2-3.7-2 0-2 1.9-2 1.5-2 0-2-3.5-2 .4-2 0-2 .1-2 0-2-1.4-2 2.8-2 0-2-3.5-2-2-2 .4-2 0-2 .4-2 0-2-3.3-2 1-2 0-2-.4-2-1-2-.4-2-.8-2 0-2-1-2 0-2 0-2-.7-2 1.5-2 0-2-5.7-2 2.2-2 0-2-2.3-2 0-2-.2-2 0-2-3-2 0-2-1.4-2-3.4-2 1.8-2 .5-2 0-2-2-2-.3-2-.8-2 .7-2 .1-2 3.1-2 .9-2 .9-2 0-2-.8-2 0-2-3.2-2 .2-2 0-2 .1-2 0-2-3.3-2-1.8-2 0-2-1-2 0-2-4.2-2-.3-2-2.4-2 1.4-2 0-2-.9-2 .2-2 0-2-.6-2-.4-2-.2-2 0-2-.2-2 0-2-.7-2 1.3-2 .4-2 0-2-.3-2 .8-2 0-2-2.2-2-.9-2-2.2-2 .5-2 0-2-3.1-2-1.7-2-1.7-2 1.7-2 0-2-.6-2-.9-2 0-2-.1-2 0-2-2.3-2-1.2-2-.5-2-.7-2 0-2-1.8-2-.5-2 1.7-2 0-2-1.2-2-.1-2-.7-2-.1-2-2.1-2 .4-2 0-2-.6-2 0-2-3-2-.5-2-1.7-2-.8z" fill="#00ffff"/>
<path d="M303.5 2171.9h5m-5 6h5m-4-5.4h5m-4 6h5m-4-6.2h5m-5 7.3h5m-3-6.2h5m-3-1h5m-4 .9h5m-5 9h5m-3-11.6h5m-5 13h5m-4-12.1h5m-3 11.4h5m-4-11h5m-5 11.1h5m-4-10.9h5m-4 13.2h5m-4-12.4h5m-5 12.1h5m-3-11h5m-5 11.4h5m-4 .1h5m-4 .6h5m-4-15.6h5m-4 .2h5m-5 15.5h5m-3 1.2h5m-3.9-18h5m-4 1.1h5m-4 15.2h5m-3 .5h5m-3-13.6h5m-5 15.4h5m-4-.1h5m-4-17.5h5m-5 17.2h5m-4 .3h5m-3-14.1h5m-5 14.9h5m-4-14h5m-3 15.2h5m-4 .5h5m-3 2.3h5m-4-16.5h5m-2-.3h5m-4 16.9h5m-4-17h5m-5 16.2h5m-4-16.1h5m-4 .1h5m-5 17.7h5m-4-16.7h5m-4-.7h5m-5 17.9h5m-4-17.6h5m-1-.3h5m-3 19.7h5m-2 3.1h5m-2-.5h5m-4-14h5m-4-.6h5m-3 1.1h5m-4 16.6h5m-3 2.2h5m-2-16h5m-4 14.6h5m-.9-17.5h5m-5 18h5m-2-1.3h5m-4-.1h5m-4 .8h5m-4-16.3h5m-3 15.3h5m-4-16.4h5m-4 .6h5m-3 16.1h5m-3-14.8h5m-5 15.9h5m-4 .4h5m-4-.3h5m-4-14.2h5m-4 .8h5m-5 14.3h5m-2-15h5m-5 14.8h5m-2-14.6h5m-5 14.9h5m-2-.8h5m-4-13.4h5m-5 13.4h5m-3 2.4h5m-2-11.5h5m-4 16h5m-3-16.5h5m-5 16.3h5m-3 1.2h5m-2-13.5h5m-5 15.2h5m-3-14.1h5m-5 17.5h5m-3-1h5m-3-16.8h5m-5 17.7h5m-3-.2h5m-.9-16.7h5m-4 .9h5m-4 0h5m-5 18.3h5m-1 .6h5m-3-18.9h5m-3-1.1h5m-3-.6h5m-5 16.5h5m-4-.2h5m-3-.5h5m-2-16.9h5m-4 17.7h5m-4-17.4h5m-5 17.7h5m-1-15.3h5m-4-.9h5m-5 17.7h5m-3-18.4h5m-2 20h5m-3 .5h5m-4-18.3h5m-5 19.2h5m-2-19.3h5m-4 22.3h5m-4-.8h5m-2-20.3h5m-2 1.2h5m-5 21.9h5m-4 .5h5m-4-22.1h5m3.1 24.1h5m-4-15.8h5m-5 15.1h5m-3-16.5h5m-5 17.9h5m-4-.1h5m-2 .1h5m-4-15.8h5m-5 16.8h5m-2-18.4h5m-5 18.4h5m-4-17.4h5m-4-.1h5m-5 18.1h5m-3 .6h5m-4 1h5m-2-.2h5m-2-17.9h5m-5 17.5h5m-2 3.3h5m-3-19.1h5m-3-.8h5m-3 18.6h5m-2-15.2h5m-5 17.7h5m-2-15h5m-5 18.5h5m-2-21.4h5m-5 18.2h5m-4-19h5m-5 19.3h5m-3-20.2h5m-5 21.7h5m-4-21h5m-3 20.9h5m-1-.4h5m.1-19.1h5m-2 1.6h5m-5 17.6h5m-3-17.4h5m-4-.5h5m-4 21.6h5m-2-18.1h5m-5 20.6h5m-4-.7h5m-3-17h5m-4-.3h5m-5 14.6h5m-4 .7h5m-4-17.5h5m-5 18.2h5m-4-17.2h5m2 4.6h5m-5 15.9h5m-3 .5h5m-4 .2h5m-4-14.8h5m-5 15.3h5m-4 .5h5m-4-15.4h5m-4-.2h5m-5 15.2h5m-3-12.8h5m-3 15.5h5m-4-12.9h5m-5 14h5m-4-14.8h5m-4 .1h5m-5 14.1h5m-4-14.2h5m-3-1h5m-4 17h5m-4 .5h5m-2-15.6h5m-5 13.6h5m-4 .6h5m-4-1h5m-4-14.5h5m-5 14.2h5m-2.9-14.7h5m-3 .2h5m-5 17.1h5m-3-17.3h5m-3 19h5m-3-19.5h5m-4-.4h5m-3 3.9h5m-4-1.2h5m-5 18.2h5m-3-15.7h5m-3-1h5m-3 .8h5m-2 .5h5m-3 2.4h5m-5 17.1h5m-2-20.2h5m-5 18.1h5m-4-.1h5m-4 .6h5m-4-16.5h5m-5 16.8h5m-1 2.7h5m-4-19.3h5m-2 2.2h5m-4 17.3h5m-4-.1h5m-4-16.7h5m-3 17.1h5m-4-18.7h5m-3 3.1h5m-5 17.7h5m-4-17.8h5m-5 18.7h5m-3-14.9h5m-4 15h5m-3-17.9h5m-5 19h5m-2.9-1.9h5m-3-17.1h5m-5 18.1h5m-4-17.7h5m-4 1h5m-1 4.9h5m-5 18.3h5m-4-18.3h5m-4-1.1h5m-3 2.9h5m-5 17.5h5m-3 .4h5m0-1h5m-1-16.8h5m-5 19.8h5m-4-18.9h5m-5 18.4h5m-4-19.3h5m-1 18.2h5m-3-17.6h5m-3 3.1h5m-2 19.1h5m-2-4.5h5m-4-16.1h5m-5 16.2h5m-2-18.6h5m-5 22.1h5m-3-20.2h5m-2-1.4h5m-3 22.6h5m-1.9-20.2h5m-5 17.6h5m-3-18.6h5m-3 2.9h5m-5 20h5m-3-19.1h5m-5 18.7h5m-2-17.7h5m-4 .8h5m-4 17.1h5m-4-14h5m-4-.5h5m-4-.1h5m-5 18h5m-2-19.6h5m-3 3.3h5m-5 17.8h5m-3-17.4h5m-5 17.4h5m-2-20.3h5m-4 .7h5m-3 1.9h5m-4 .1h5m-5 16.5h5m-4-17.7h5m-5 16.7h5m-3 .5h5m-4 .1h5m-4-18.2h5m-1-.9h5m-3 2.8h5m-4-.6h5m-4 0h5m-5 18.3h5m-3-15.6h5m-1-.8h5m-4-.8h5m-2 16.9h5m-2.9-17.7h5m-5 17.6h5m-4 1h5m-3-18.8h5m-3 2.3h5m-5 17.8h5m-4-18h5m-5 17.6h5m-4-.7h5m-4-.8h5m-4-17.9h5m-4-.3h5m-3 1.4h5m-4 .2h5m-4 17.6h5m-2-15.8h5m-4 .8h5m-5 16h5m-3-.8h5m-4-15.4h5m-3 0h5m-5 16.2h5m-4-17.3h5m-4 17.8h5m-4-15.1h5m-5 15.3h5" stroke="#40ffff" stroke-width="1.1" fill="none" opacity="0.8"/>
<path d="M305 2174.5l2 .6 2 .3 2 .5 2 .7 2 .4 2 .8 2 0 2-.2 2 .1 2 .4M326 2177.9l2 .8 2-.1 2.1 .1 2 .1 2 .6 2 .9 2 .5 2-.2 2 1 2 .1 2 .7 2 .6 2 .4 2 .9 2 .7 2 .4 2 1.2 2 .7 2 .4 2 .4 2 1.2 2 1.2M426.2 2203.1l2 1.4 2 1.2 2 .7 2 .1 2 .9 2 .9 2.1 .5 2-.1 2-.9 2-.6 2-.4 2-.7 2-.2 2-.4 2 0 2-.2 2 0 2 .1M507.4 2222.9l2 .3 2-.2M513.4 2223.2l2 .2 2 .4 2 .5 2 .8 2 .1 2 .9 2 0 2 .3 2 .4 2 .5 2-.8 2 .7 2 .2M541.4 2227l2 .5 2 .3 2.1 .2 2 1 2 .7 2 .5 2 .5 2 .1 2 .7 2 1.4M563.5 2233l2 .6 2 .4 2 1 2 .9 2 .7 2 .8 2 .7 2 .3 2 .9 2 .6 2 .7 2 .8M589.5 2242l2 1.1 2 .3 2 .2 2-.1 2.1 .6 2 .2 2 .2 2-.2 2 .2 2 .4 2 0 2 .2 2 1.3 2 1.2 2-.2 2 .9M622.6 2248.3l2-.3 2-.3 2-.1M630.6 2247.4l2 .6 2-.3 2 .5 2 1.4 2 1.1 2 .6 2 .8 2 1.1 2 1.4 2 1 2.1 .4M653.7 2256.7l2 .6 2 .7 2 .3 2 .8 2 .6 2 .3 2 .5 2 .1 2 1.1 2-.1 2 1 2-.6 2 .2 2 1.2 2 .6 2 .2 2-.3M689.7 2263.9l2 .1 2 0 2 .3 2 .8 2 .7M700.7 2266.2l2 .7 2 .7 2.1 .5 2 .1 2 .6 2 .1 2 .4 2 .5 2 .4 2 .9 2 .3M724.8 2271.5l2 .3 2 .8 2 .3 2 1 2 .5 2 .3 2-.2M739.8 2275.1l2 .1 2-.3 2 .5 2-.3 2-.6 2 .2 2-.4 2 .5 2-.4 2.1 .2 2-.2 2 0 2 .5 2 .5 2-.5M770.9 2274.9l2 .5 2 .3 2 .6 2-.1 2 .7 2 0 2 .1" stroke="#050a20" stroke-width="2.8" stroke-linecap="round" stroke-linejoin="round" fill="none" opacity="0.9"/>
<path d="M301 2174.2L305 2174.4" stroke="#e02020" stroke-width="2" fill="none"/>
<circle cx="139" cy="2132" r="2.9" fill="#0a2a9a"/>
<circle cx="154" cy="2133" r="2.9" fill="#0a3ab0"/>
<circle cx="154" cy="2143" r="2.9" fill="#0a3ab0"/>
<circle cx="218" cy="2167" r="2.9" fill="#0a2a9a"/>
<circle cx="282" cy="2180" r="2.9" fill="#0a2a9a"/>
<circle cx="512" cy="2206" r="2.9" fill="#0a10a0"/>
<circle cx="587" cy="2249" r="2.9" fill="#0a2a9a"/>
<circle cx="690" cy="2272" r="2.9" fill="#0a10a0"/>
<path d="M117.3 2134.7L786 2280.8" stroke="#ffff00" stroke-width="2.7" stroke-dasharray="9 7" opacity="0.72" fill="none"/>
<path d="M965.1 1646l2-.9 2 0 2 .2 2 .5 2 0 2 .5 2 0 2 2.7 2-.1 2 0 2 1.5 2 .1 2 .2 2 0 2 2.9 2 .3 0 14.5-2 .8-2 0-2-2.1-2-.1-2-2-2 .4-2 0-2-3.6-2-.7-2-1.3-2-1.7-2-.2-2-1.6-2 .4-2 0-2-1.9z" fill="#00ffff"/>
<path d="M963.6 1646h5m-5 8.8h5m-4-9h5m-4-.7h5m-5 11.6h5m-4-1.1h5m-4-10.1h5m-5 10.5h5m-4 .3h5m-3-10.5h5m-3.9 12.1h5m-4-11.3h5m-5 11.5h5m-3-11.8h5m-3 14.8h5m-3-12.1h5m-5 11.8h5m-4-11h5m-4 0h5m-4 15.6h5m-2-14.9h5m-2.9 16.2h5m-3-15.9h5m-1 3.1h5" stroke="#40ffff" stroke-width="1.1" fill="none" opacity="0.8"/>
<path d="" stroke="#050a20" stroke-width="2.8" stroke-linecap="round" stroke-linejoin="round" fill="none" opacity="0.9"/>
<path d="M1031 1665.2l2-1.5 2-1 2 0 2 0 2 .6 2 1.4 2-.9 2 0 2 .6 2 0 2 .6 2 0 2-1.5 2-1 2 0 2 2.8 2 2.1 2-.1 2-2.3 2-1 2 0 2 1.2 2-1.7 2 0 2 3.9 2 .6 2-3 2 0 2 1.4 2 1.8 2-.7 2 0 2 1.6 2-.2 2 0 2 2.9 2 1.8 2-1.1 2 0 2 .3 2 0 2 2.6 2 1 2-.6 2 0 2 2 2 .1 2 1.6 2-1.6 2 0 2 1.2 2 0 2 1.8 2 .2 2-3.4 2 0 2 1.3 2 .1 2 0 2-.5 2-.9 2 0 2 2.3 2 0 2 1.1 2 0 2 .1 2 2.6 2 .5 2 .9 2 0 2 1.6 2-.7 2 0 2 2.2 2 .8 2 .2 2 0 2 .5 2 .1 2-1.8 2-2.1 2 0 2 2.3 2 0 2-.7 2 0 2 1.1 2 1.2 2 0 2 1.5 2 0 2-.2 2 0 2 .2 2 0 2 .2 2 0 2 4.4 2-1.6 2-.2 2 0 2 .7 2-.9 2 0 2 3.5 2 .6 2 0 2 0 2 0 2 1.1 2 0 2 1.9 2 1.6 2-2 2-1.2 2 0 2 3.1 2-1.2 2 0 2 0 2 0 2 1.4 2 1.7 2-.3 2 0 2 1.2 2 1.4 2 0 2 .6 2 0 2 .5 2 0 2 .9 2-.6 2 0 2 .5 2-.5 2 0 2 .8 2 .9 2 .4 2 .2 2 2.5 2 .1 2 0 2 1.9 2 0 2-.3 2-.6 2 0 2 1.8 2 .5 2 .1 2 1 2 .6 2-.2 2-1.6 2 0 2 2.2 2 3.9 2 1.6 2 1.1 2-1.2 2 0 2 0 2-.2 2 0 2 1 2-.9 2 0 2-.4 2 0 2 2.8 2 0 2 .9 2-.5 2 0 2 .3 2 .8 2 2.1 2-1.5 2 0 2 2.1 2 2.6 2 0 2-2 2 0 2 4.8 2 .3 2-.9 2 0 2 1.5 2 1.7 2-.9 2 0 2 .2 2-.1 2-.2 2 0 2 2.1 2-2.8 2-3 2 0 2 3.8 2 0 2 3.1 2-3.1 2 0 2 4.2 2 1.7 2-1.1 2 0 2 1.9 2 .6 2-.3 2 0 2 1.1 2 0 2 .2 2 .6 2-.6 2-2.4 2 0 2 2.5 2 1.1 2 0 2 .1 2-.3 2 0 2-.3 2 0 2 1.6 2 .5 2 .4 2 1.9 2 .4 2-1.5 2 0 2 1 2-.5 2 0 2 3.1 2 2.8 2-3.8 2-1.7 2 0 2 1 2 0 2 1.8 2 0 2 2.8 2 0 2 1.3 2 .7 2 1.5 1 .4 0 14.4-1 0-2 .4-2 0-2-1-2 0-2 2-2 0-2-.2-2 0-2-1.6-2 2-2 0-2-3.3-2 .6-2 0-2-3.5-2-3-2-.1-2 0-2-1.1-2 1-2 0-2-1.3-2-1-2 .2-2 0-2 1-2 0-2-2.2-2 .2-2 0-2-.9-2-.8-2 3.2-2 0-2 1.9-2 0-2-1.1-2 0-2-.5-2-.6-2 0-2-1.2-2 .5-2 0-2-1.1-2 0-2-3.3-2-1.2-2-.7-2 2.7-2 0-2-2.6-2-1.1-2 1.5-2 0-2-.2-2-.9-2-2.2-2-1-2-.6-2 0-2-1.4-2 1.7-2 0-2 1.6-2 0-2-1-2-2.6-2-.6-2 0-2-.7-2 0-2-.4-2-1.8-2 0-2 0-2-1.8-2 0-2-.8-2-1.2-2 1.5-2 0-2-4.7-2 0-2-1.6-2-.2-2 0-2 .9-2 0-2 .5-2 0-2-.4-2-.2-2-1.8-2-.3-2 0-2-.4-2-2.1-2 0-2-.6-2 1.5-2 0-2-1.3-2-1.4-2-.1-2 1.5-2 0-2-1.4-2-1.6-2 .7-2 0-2-3.4-2-2.4-2-.4-2 .8-2 0-2-2.2-2 .4-2 0-2-.3-2 .2-2 0-2-.1-2-.2-2-1.7-2 0-2-.2-2-.9-2 2.3-2 0-2-3-2-.7-2 3.9-2 0-2-.3-2 .2-2 0-2-.5-2-.4-2-1.9-2-1.9-2-.3-2 0-2 1.5-2 0-2-3.1-2 .3-2 0-2-1-2-1.9-2-1.4-2-1.4-2-.7-2 0-2-.6-2 0-2-2-2-2.1-2 0-2-.4-2 1.2-2 2.2-2 0-2-.4-2 .4-2 1.9-2 0-2 .1-2 0-2-1.1-2-1.1-2-2.9-2 .3-2 0-2 1.7-2 0-2-4.3-2 0-2-.6-2-2.8-2 0-2-2-2-.6-2 .4-2 .1-2 1-2 0-2-1-2-2.2-2 .1-2 0-2-1.4-2 .2-2 .8-2 0-2 2.7-2 0-2 .6-2 0-2-1.3-2 2.2-2 0-2-1.2-2 1-2 .3-2 0-2-2.7-2-2.3-2-2.1-2 1-2 0-2-1.9-2 .6-2 0-2-3.1-2 0-2-.4-2 .2-2 0-2-2.5-2 0-2-2.1-2-.9-2-1-2 .7-2 0-2 .6-2 0-2-.7-2-1.1-2 0-2 .1-2 1.6-2 0-2-1.2-2 1.4-2 0-2 .2-2 0-2-1.3-2-4.9-2 0-2 .5-2 0-2-2.7-2-.2-2 0-2-.4-2-.3-2-1.9-2 .7-2 0-2-2-2-.4-2-.6-2-.2z" fill="#00ffff"/>
<path d="M1029.5 1672.2h5m-4 .2h5m-3 .1h5m-4 .5h5m-4-9.9h5m-4-.4h5m-3 .6h5m-5 12.1h5m-4-.8h5m-2 .1h5m-3-10.9h5m-4 12.6h5m-4 .5h5m-4-12.5h5m-5 12.9h5m-4-12.7h5m-5 11.9h5m-4-11.2h5m-4 11.6h5m-4-11.9h5m-5 12.5h5m-3-12.3h5m-5 15h5m-2-16.7h5m-5 15.8h5m-4-16.8h5m-4 17.2h5m.1 6.2h5m-4-.6h5m-4-18h5m-4 .7h5m-3-3h5m-3-1h5m-1 21.5h5m-1-18.1h5m-5 16.2h5m-4-15.5h5m-5 15.7h5m-4-15.5h5m-5 15.1h5m-4-15.4h5m-3 16.9h5m-4-19.9h5m-4 20.6h5m-2-.8h5m-4-.5h5m-4 .7h5m-4-17.5h5m-1 2.8h5m-5 15h5m-3-16.4h5m-4 .8h5m-3 18.6h5m-3-.1h5m-4-14.6h5m-4 17.2h5m-3-18.3h5m-5 18.1h5m-2 .4h5m-4-1.2h5m-1-13.4h5m-1.9 16.8h5m-4-17.4h5m-4 19.6h5m-3-17.5h5m-4 .3h5m-5 16h5m-4 .2h5m-3-14.9h5m-5 17h5m-4-.9h5m-4-17.7h5m-4 20.9h5m-3 2.7h5m-4-22.4h5m-4 .3h5m6 .7h5m-5 20.4h5m-4-21.3h5m-3-.1h5m-4 20.8h5m-4-.8h5m-3-20.5h5m-4-.9h5m-5 19.5h5m-4-.2h5m-4-.6h5m-3-1h5m-4-15.4h5m-5 16.2h5m-1-15.1h5m-4 .1h5m-3 15.6h5m-4-12.4h5m-4-.1h5m-5 14.4h5m-4-14.4h5m-4 16.4h5m-4-.8h5m-3-.2h5m-4-.1h5m-3.9-.3h5m-4-12.5h5m-4 0h5m-3-.7h5m-4 13.7h5m-3 2h5m-4-12.7h5m-4 .3h5m-5 12.1h5m-4-12.1h5m-5 12h5m-3 3.2h5m-4-.5h5m-4 1.1h5m-4-15.3h5m-3 19.6h5m-2-2h5m-3-21.5h5m-5 21.8h5m-2-19.3h5m-4-.2h5m-3 .2h5m-3 23h5m-4-22.8h5m-1 1.2h5m-4 22.6h5m-2-21.1h5m-5 18.8h5m-3-18.7h5m-3-.3h5m-5 19.4h5m-2-17.3h5m-4 13.9h5m-4-15.8h5m-5 15.7h5m-4-.7h5m-3-14.8h5m-5 15.6h5m-4 .4h5m-4 0h5m-4-.5h5m-4-9.9h5m-2.9-2.8h5m-5 17.3h5m-3-17.5h5m-5 16.9h5m-2 1.2h5m-4-1h5m-2 1.7h5m-3 1.4h5m-3-15.6h5m-3-.7h5m-5 19.6h5m-1-19.6h5m-5 20.3h5m-1-19.2h5m-5 22.3h5m-2-1.5h5m-3-17.3h5m-4 0h5m-3-2h5m-5 19.6h5m-1 3.8h5m-2-22.7h5m-5 23.6h5m-3-22.4h5m-5 21.2h5m-4-21.5h5m-4 22.5h5m-4-23.4h5m-4 23.7h5m-2-20.4h5m-2-.5h5m-5 17.7h5m-3 2.3h5m-4 .7h5m-1.9-18.1h5m-2 16.7h5m-3-16.1h5m-5 16.3h5m-2-15.8h5m-3 1.2h5m-5 16.5h5m-4-.5h5m-3-16.3h5m-5 16.9h5m-4-17.5h5m-5 16.8h5m0-16.3h5m-5 17.1h5m-4-1h5m-4-16.6h5m-5 17.2h5m-4-1.1h5m-2-14.4h5m-3 .4h5m-3 16.5h5m-4 .4h5m-4-14.2h5m-4 .1h5m-4 .2h5m-4-.2h5m-4 19.9h5m-1-18h5m-3 0h5m-4-.3h5m-5 20.6h5m-3-3.2h5m-4 1.1h5m-3-17.3h5m-5 17.9h5m-4-17.4h5m-1 1.1h5m-5 19.1h5m-3-17.4h5m-4-1.1h5m-4 17h5m-2.9 .6h5m-3-19.4h5m-3 2.2h5m-4 1.2h5m-2 5.2h5m-5 11.6h5m-2-11.4h5m-2 15.4h5m-3-16.3h5m-5 16.7h5m-4-16h5m-4 14.9h5m-3-16.1h5m-4 1h5m-5 15.7h5m-3-15.1h5m-4 13.3h5m-3 .4h5m-3 .7h5m-4-15.2h5m-4-1.1h5m-4 .4h5m-5 17.5h5m-1-14.1h5m-3 17.3h5m-2-17.9h5m-3 .3h5m-5 19.6h5m-3-18.8h5m-5 18.2h5m-2-16.1h5m-5 18.5h5m-2-20h5m-5 19.6h5m-3-17.5h5m-4 .4h5m-5 19.3h5m-3-16.1h5m-5 16.5h5m-2.9-.3h5m-4 1h5m-3-20.2h5m-4 20.2h5m-3-14.3h5m-4-.8h5m-4 .4h5m-5 17.9h5m-4 1h5m-2-19.4h5m-4 16.7h5m-4-15.8h5m-5 16.9h5m-3-2h5m-4 .3h5m-3-14.6h5m-5 15.3h5m-4 .7h5m-4-15.8h5m-5 15.1h5m-3 .3h5m-4 1h5m-3-16.5h5m-4-.2h5m-5 19.9h5m-3-17.8h5m-5 18.7h5m-3 .2h5m-3-1.7h5m2-19.2h5m-5 23.1h5m-3-20h5m-5 16.9h5m-3 .4h5m-3-20.4h5m-5 21.1h5m-2-14.2h5m-5 17.5h5m-4 1.2h5m-2 .7h5m-4-21.5h5m-5 21.9h5m-2.9-.9h5m-4-18.5h5m-4 .2h5m-5 18.7h5m-4-17.8h5m-5 19h5m-2-.1h5m-4 .7h5m-3 .5h5m-4-20.1h5m-4-.1h5m-4 .3h5m-4 .8h5m-3-.5h5m-5 17.2h5m-3-16.8h5m-4 18.4h5m-3-21.8h5m-5 18.6h5m-3-16.1h5m-5 15.9h5m-4 1h5m-2-15.8h5m-4 .1h5m-5 16.4h5m-3-13.5h5m-3 15.7h5m-1-1h5m-3-.2h5m-3-15.5h5m-4-.4h5m-5 15.8h5m-4-15.4h5m-5 16.5h5m-2-14.6h5m-4 1.2h5m-3 13.7h5m-3 1.1h5m-3-15.5h5m-3-.6h5m-3-.5h5m-5 19.1h5m-1.9-16h5m0 22.8h5m-2-25.5h5m-5 23.5h5m-2-22.5h5m-5 24.1h5m-1-22.3h5m-5 22.5h5m-2-19.7h5m-4 0h5m-5 17.7h5m-3-16.4h5m-3 .7h5m-5 15.8h5m-4 .9h5m-4-15.2h5" stroke="#40ffff" stroke-width="1.1" fill="none" opacity="0.8"/>
<path d="M1032 1669l2 .1 2 0 2 .3 2 1.1 2-.4 2 .7 2 .6M1047 1671.4l2-.1 2 .3 2 .3 2-.1 2 1.6 2-.4 2.1 .2 2 .6 2-.6 2 .2 2-.5 2 1.3 2 1.1 2-.2 2 0 2-.3 2 .8 2-.7 2 .8 2 .4 2-.5M1136.2 1690l2-.6 2 0 2 .3M1144.2 1689.3l2 .1 2 .3 2-.7 2-.5 2-.5 2 .5 2 .9 2 1.3 2-.4 2 1.4 2 1 2-.2 2 0 2 .5 2.1 1 2 .5 2 .3 2 1.3 2 .6 2 .9 2 .9M1188.3 1699.3l2-.4 2 0 2-1 2 .7 2-1.7 2 .4 2 1.1 2-.8 2 1.5M1208.3 1700.2l2 .6 2 1 2-.4 2-.6M1217.3 1700.7l2 .2 2 .2 2 .1 2 .9 2 .5 2 .9 2.1 1.7 2 1.2 2 .2 2-.3 2 .6 2-.2 2 .4 2 1.1 2 .5 2 1.2M1251.4 1711.4l2-.3 2 .1 2 .5M1309.5 1717l2 .6 2-.9 2 1.2 2 1 2 1.1 2 .6 2 .5 2 .1 2 1.2 2 1.4M1348.6 1725.9l2 .5 2-.1 2 1.4 2 1 2-.2 2 .4 2 .5 2 1.1 2 0 2 .5 2 .8 2 .4 2 0 2 1.6 2 1.3M1534.9 1763.3l2-.7 2-.7 2 .5 2 1.7" stroke="#050a20" stroke-width="2.8" stroke-linecap="round" stroke-linejoin="round" fill="none" opacity="0.9"/>
<path d="M1547.3 1761.2l2-.7 2 0 2 1.6 2 0 2 .2 2 1 2 0 1 .8 0 10.1-1 0-2 .1-2 0-2-1.6-2-.4-2 1.3-2 .3-2 0z" fill="#00ffff"/>
<path d="M1545.8 1761.2h5m-5 12.7h5m-4-12.8h5m-5 12h5m-4 .5h5m-4-12.6h5m-3 11.3h5m-3-10h5m-4 0h5m-5 9.8h5m-3-8.7h5m-5 10.9h5m-4-11h5m-4 0h5m-5 9.7h5m-4 1.2h5" stroke="#40ffff" stroke-width="1.1" fill="none" opacity="0.8"/>
<path d="" stroke="#050a20" stroke-width="2.8" stroke-linecap="round" stroke-linejoin="round" fill="none" opacity="0.9"/>
<path d="M1577.6 1768.1l2 0 2 .4 2 .4 2 1.4 2 .3 2 0 2-1.1 2 0 2 1 2 3.9 2-2.9 2-.8 2-.1 2 0 2 1.5 2 .7 2-3.1 2-.6 2 0 2 .1 2 0 2 3.4 0 10.8-2 3.1-2 1.7-2 1.6-2 0-2-.8-2 2-2 0-2-.8-2-.6-2 0-2 2-2 0-2-3.2-2-.9-2-3.2-2-.5-2 .2-2 0-2-3.1-2-.6-2-2.8-2-1.2z" fill="#00ffff"/>
<path d="M1576.1 1768.1h5m-5 8.2h5m-4 .7h5m-4-8.5h5m-4 .4h5m-5 10.3h5m-4 1.1h5m-3 .6h5m-4-10.1h5m-4 13.2h5m-4-13.4h5m-4 .3h5m-3 12.9h5m-4 .4h5m-4-14.7h5m-4 1h5m-3 17.6h5m1.1-17.4h5m-4 1h5m-5 17h5m-4-18.1h5m-5 18.3h5m-3 .6h5m-4 .7h5m-1-1.4h5m-4-19.1h5m-3-.6h5m-4 20.7h5" stroke="#40ffff" stroke-width="1.1" fill="none" opacity="0.8"/>
<path d="" stroke="#050a20" stroke-width="2.8" stroke-linecap="round" stroke-linejoin="round" fill="none" opacity="0.9"/>
<path d="M995.3 1661.1L1032 1668.7M1542.9 1767.4L1548.3 1767.5M1561.3 1769.1L1578.6 1772.2" stroke="#e02020" stroke-width="2" fill="none"/>
<circle cx="970" cy="1645" r="2.9" fill="#0a2a9a"/>
<circle cx="992" cy="1649" r="2.9" fill="#0a2a9a"/>
<circle cx="991" cy="1668" r="2.9" fill="#0a10a0"/>
<circle cx="1094" cy="1669" r="2.9" fill="#0a10a0"/>
<circle cx="1196" cy="1709" r="2.9" fill="#0a10a0"/>
<circle cx="1446" cy="1738" r="2.9" fill="#0a10a0"/>
<circle cx="1455" cy="1760" r="2.9" fill="#0a10a0"/>
<circle cx="1541" cy="1771" r="2.9" fill="#0a10a0"/>
<circle cx="1617" cy="1781" r="2.9" fill="#0a10a0"/>
<path d="M967.2 1652L1619 1780.5" stroke="#ffff00" stroke-width="2.7" stroke-dasharray="9 7" opacity="0.72" fill="none"/>
<path d="M966.1 2029.8h0m1-.2h0m2-.9h0m3 .6h0m3.1 .1h0m1-.4h0m1-.1h0m2-1.2h0m1-.6h0m1-.7h0m9.1-1.9h0m1-.4h0m1 0h0m1 .4h0m1-.2h0" stroke="#0a0a30" stroke-width="6.2" stroke-linecap="round" fill="none"/>
<path d="M983.2 2025.6h0m12.1-1.6h0" stroke="#0a2a9a" stroke-width="6.2" stroke-linecap="round" fill="none"/>
<path d="M965.1 2028l2-.8 2-.4 2 0 2 .8 2-.2 2-.8 2-1.4 2-1 2-.6 2-.1 2-.9 2-.3 2-.1 2 0 2 .2 2 .1 0 3-2 1.1-2 0-2 .3-2 .4-2 .5-2 0-2 .6-2 1.2-2 .6-2 .9-2 0-2-.1-2-.3-2 1-2 0-2 0z" fill="#00ffff"/>
<path d="M963.6 2031.7h5m-4-4.2h5m-5 4.2h5m-3-1h5m-2 0h5m-2.9-2.5h5m-5 2.8h5m-3-.5h5m-2-4.6h5m-1-2.3h5m-2 4.2h5m-4-4.3h5m-3.9-.9h5m0-.2h5m-4 0h5" stroke="#40ffff" stroke-width="1.1" fill="none" opacity="0.8"/>
<path d="M1034 2013.9h0m4-1.4h0m1-.4h0m3-1.4h0m1-.1h0m1-1.2h0m3-1.6h0m1-.4h0m5-.5h0m4-1.7h0m2-.4h0m7.1-1.1h0m1-.8h0m4-.4h0m4 .7h0m1 .3h0m1-.8h0m2-.2h0m3-.4h0m6-1.5h0m2 0h0m1 .3h0m1 .5h0m1-.9h0m1 0h0m1-.2h0m3-.5h0m1-.4h0m1-.3h0m2-1.6h0m2 .5h0m2-.6h0m2-1.1h0m1-.1h0m7-2h0m7.1-.9h0m1 .1h0m1-.7h0m3-1.5h0m1-.1h0m1 .1h0m1-.7h0m3 .2h0m1-.1h0m2-.9h0m1-.1h0m3-.9h0m2-.4h0m1-.8h0m1 .2h0m2 .2h0m2-.8h0m1 .9h0m3-.9h0m7-1h0m7-1.7h0m1 .3h0m4-1.6h0m3.1-1.1h0m3-.3h0m8-1.7h0m2-.5h0m1-.1h0m3-.7h0m5-1.3h0m4-.9h0m1 .1h0m2-.3h0m5-1.2h0m6-.8h0m6-2.1h0m2-.7h0m5-1.3h0m3.1-.2h0m1-.5h0m1-.4h0m1-.1h0m1-.9h0m2 0h0m3-.4h0m1 0h0m2-1.3h0m2-.3h0m2-.6h0m1 .4h0m1-.7h0m3-.6h0m4 0h0m3-1.4h0m1-.3h0m4-.3h0m3-.7h0m4-1.3h0m6-1.3h0m2-.5h0m11.1-2.2h0m2-.3h0m2-.8h0m2-.1h0m1-.8h0m1 .3h0m1-.8h0m2 .1h0m2 .1h0m1-.4h0m1-.1h0m3 .6h0m1-.4h0m1-.6h0m2-.4h0m2-.9h0m1-.1h0m1-.3h0m1-.4h0m4 .4h0m6-2.5h0m1-.2h0m3-.2h0m1-.6h0m1-1.2h0m2 .2h0m4-.1h0m5.1-1.7h0m1-.9h0m2 .3h0m1-.6h0m1-.5h0m2-.5h0m2 .4h0m1-.1h0m3-1.8h0m1 .1h0m1-.2h0m1-.3h0m1 .3h0m1 0h0m1 0h0m1-.2h0m1-.3h0m1-.4h0m5-.5h0m1-.4h0m2-1.2h0m3 0h0m1 .1h0m2-.3h0m2-.7h0m6 .3h0m2-1.2h0m5-.4h0m1 0h0m1 0h0m2-1.8h0m3.1-.4h0m1 .3h0m3-.8h0m1-.6h0m3-.3h0m1-.7h0m1-.3h0m1-.8h0m3-.8h0m1 .2h0m1 0h0m1 .3h0m4-.5h0m2 .1h0m1-.4h0m2-1.3h0m9-1.5h0m1 .3h0m3-1.1h0m3-.7h0m2-.6h0m1-.2h0m4-2h0m2-.1h0m1 0h0m1-.5h0m1 0h0m2.1-.2h0m2 0h0m4-1.8h0m6-3.2h0m1-.1h0m2 .7h0m1 .4h0m2-1h0m4-.7h0m1-.4h0m1-.5h0m1-.7h0m1-.6h0m1-.1h0m1 0h0m1 0h0m2 .4h0m1 .1h0m1-.1h0m2-.9h0m5-1.4h0m1-.6h0m1 .1h0m3-.3h0m1-.4h0m1-.2h0m5 0h0m5.1-1.7h0m1 .1h0m1 .2h0m1-.6h0m1-.2h0m2-.8h0m6-1.7h0m1-.2h0m4-.8h0m2 0h0m5-1.2h0" stroke="#0a0a30" stroke-width="6.2" stroke-linecap="round" fill="none"/>
<path d="M1050 2006.7h0m4-.2h0m1-.5h0m8.1-2.9h0m6 0h0m1-.3h0m10 0h0m17-2.5h0m18-5.6h0m6.1-2.2h0m6-.7h0m9-1.8h0m3-.2h0m15-3.1h0m4-.7h0m5 .6h0m27.1-6.7h0m8-2.8h0m5-.4h0m2 0h0m1-.7h0m1 0h0m5-.9h0m14-4.7h0m1 0h0m19.1-4.8h0m19-3h0m8-2.9h0m2 .2h0m3-.6h0m5-.8h0m10.1-2.6h0m2-.4h0m41-8.4h0m16.1-4h0m3 .2h0m15-3.3h0m9-2h0m5-.4h0m2 .8h0m5-2.1h0m9-1.7h0m5.1-1h0m10-3.3h0m7 .1h0m9-2.8h0m4-.3h0m1-.3h0m6-.8h0m3-.8h0m5-1.7h0m2-.9h0m5.1-.9h0m4-.8h0m17-4.4h0m16-3.4h0m7-2.3h0m7 .4h0m15.1-4.1h0m2-.9h0m8-1.6h0m2 0h0" stroke="#0a2a9a" stroke-width="6.2" stroke-linecap="round" fill="none"/>
<path d="M1031 2013.1l2-.8 2-1.7 2-.3 2-1.1 2-.8 2-1.3 2-1.1 2-.3 2-1.2 2 0 2 .1 2-2.1 2 0 2-.2 2-.6 2-.8 2 0 2-.6 2 0 2-.1 2 0 2 .7 2 0 2-.4 2-.9 2-.1 2-.6 2-.5 2-.3 2 0 2 .6 2-.7 2-.4 2-.7 2-1.3 2 0 2-.6 2-.4 2-1.4 2 0 2 0 2-.8 2-.6 2-1.4 2 0 2 0 2-.9 2-.4 2-.3 2-1.1 2 0 2 .2 2-.4 2-.8 2-.5 2-1 2 0 2 0 2 .1 2-.2 2-.7 2 0 2-.5 2 0 2 .1 2 0 2-1.7 2-.1 2-.7 2-.1 2-1.2 2-.6 2 0 2-.9 2-.6 2 0 2-.1 2-.8 2 0 2-1 2 0 2-.6 2-1 2 0 2-.9 2 0 2-.2 2-.4 2-.7 2 0 2 .3 2-.8 2-1.7 2 0 2-.6 2 0 2-1.3 2-.1 2 0 2-.4 2-1 2-.4 2-1 2-.1 2-.6 2-1 2-.6 2 0 2-.6 2 0 2-.5 2 0 2-.5 2-.8 2-.6 2 0 2 0 2-.6 2-1 2-.4 2-.5 2-.5 2-.1 2-.5 2 0 2-.9 2-.8 2 0 2 0 2-.7 2-.3 2-.3 2-1.1 2-.5 2 0 2-.3 2-.2 2 0 2-.6 2-.3 2-1 2-.5 2 0 2 .2 2-1.3 2 0 2 0 2-1.4 2-.2 2-.8 2-.5 2-.6 2-.2 2-.2 2-.3 2-.8 2-.5 2 0 2-1.4 2 0 2 .3 2-.5 2-1.3 2 0 2-.2 2 0 2-1 2 0 2 0 2-.8 2-1.2 2-.3 2 0 2-.3 2 0 2-.2 2 0 2 .1 2-.7 2-1.2 2 0 2 .3 2-.7 2-1.2 2-.8 2 0 2 .6 2-.9 2-.1 2-1 2-.8 2-1.2 2 0 2 .5 2-.3 2 0 2-.6 2-.9 2 0 2-1 2-.5 2 0 2 0 2-.4 2-.6 2-.9 2-.2 2-.7 2-1 2-1.1 2 0 2-.2 2-.7 2-.2 2-.3 2-.8 2-.5 2-1.7 2-1.3 2 0 2 .3 2-.5 2 0 2-.5 2-.8 2-1 2-.5 2-.1 2 0 2 .1 2-.6 2-.6 2-.8 2-.2 2-.4 2-.2 2-.1 2 0 2-.4 2 0 2-1.4 2-.2 2 0 2-1.4 2-.2 2-1.5 2 0 2-.1 2-.8 2 0 2 .1 2-.1 2-.7 2-.5 2-.3 2 0 1 .2 0 3.4-1 .9-2 .5-2 .4-2 .5-2 0-2 .2-2 .6-2 .5-2 .7-2 .6-2 .8-2 0-2 .9-2 .2-2 .7-2 .4-2 .6-2 .7-2 0-2-.6-2 .2-2 .1-2 1.1-2 .8-2 .1-2 1.1-2 0-2 0-2 0-2 .3-2 1.3-2 .6-2 .4-2 .3-2 .9-2 0-2-.7-2 1.7-2 1.5-2 .8-2 0-2 .4-2 .3-2 0-2 .7-2 .3-2 .9-2 .9-2 0-2 .7-2 .4-2 .4-2 .4-2 .2-2 .2-2 .1-2 1-2 0-2 1.9-2 .1-2 .2-2 0-2-.4-2 .1-2 .2-2 1.2-2 1.2-2 0-2 .3-2 .8-2 0-2 .7-2 1.6-2 0-2 .4-2 0-2 .4-2 1-2 .6-2 0-2-.3-2 .1-2 .2-2 0-2 .2-2 1.4-2 0-2 .3-2 .2-2 .6-2 .2-2 0-2 .1-2 1.7-2 0-2-.1-2 .1-2 1.4-2 0-2 .7-2 .2-2 1.4-2 .3-2 0-2 0-2 1.5-2 0-2 .6-2 .1-2 1.4-2 .8-2 .2-2 0-2 .1-2 .8-2 .3-2 .5-2 .7-2 0-2 .1-2 0-2 .4-2 0-2 .3-2 .4-2 1.1-2 0-2 .2-2 .3-2 1.1-2 .2-2 .3-2 .6-2 .4-2 .3-2 .5-2 .1-2 .8-2 1.1-2 0-2-.2-2 .4-2 1.5-2 0-2 0-2 .2-2 .3-2 1.3-2 .2-2 0-2 1.2-2 .2-2 0-2 .4-2 .8-2 .8-2 .1-2 .6-2 0-2 .6-2 1.1-2 .7-2 .2-2 1.4-2 .3-2 .6-2 .1-2 .7-2 .9-2 0-2 .2-2 .6-2 0-2 .5-2 .9-2 0-2 .7-2 0-2 .4-2 .7-2 .1-2 0-2 .6-2 .5-2 .1-2 1-2 .7-2 .8-2 0-2 1.5-2 0-2-.1-2-.4-2 .4-2 1.1-2 0-2 .2-2 .1-2 .4-2 0-2 1.3-2 .7-2 0-2 .9-2 .3-2 0-2 0-2 .5-2 .8-2 .8-2 0-2 0-2 .4-2 .6-2 .5-2 .2-2 1.2-2 1.2-2 .1-2 .4-2 0-2 1.3-2 .5-2 .7-2 0-2 1-2 0-2-.7-2 .9-2 .3-2 .6-2 .2-2 0-2 .6-2 .3-2 0-2-.1-2 0-2 0-2 0-2 .9-2 1.1-2 0-2 0-2 1.2-2 0-2-.2-2 1-2 .6-2 2.1-2 .6-2 .9-2 .6-2 1-2 1.2-2 .1-2 0z" fill="#00ffff"/>
<path d="M1029.5 2016.9h5m-2-1.3h5m0-6.4h5m-4-.3h5m4-.1h5m-3-.4h5m-3-3.8h5m-3-2.1h5m3.1-1.1h5m-2-.5h5m-5 4h5m-4-4.6h5m-4 5.5h5m-4-5.2h5m-2 5.3h5m-4-.1h5m-3-4.1h5m-5 3.7h5m-4-.9h5m-4-3.2h5m-4-.8h5m-5 3.9h5m-3 .4h5m-3-.6h5m-2-5.2h5m1 .1h5m-4-.4h5m2-1.8h5m-5 4.5h5m-2-5.8h5m-2 4.2h5m-4-.1h5m-4-5.1h5m-4 3.9h5m-2-4.8h5m-3-.5h5m-5 3.4h5m-4 0h5m-4-4.2h5m-5 3.7h5m-4-.1h5m-3.9-.4h5m-3-5.2h5m-4 0h5m-4 4.2h5m-4 1h5m-4-.3h5m-1-6.2h5m-4 .1h5m-5 3.8h5m-3-4.5h5m-5 4h5m-3-4.4h5m-5 5.4h5m-3-5.6h5m-1-.5h5m-4-.7h5m-5 5.1h5m-4-5.6h5m-4 5.4h5m-3-6.4h5m-4 5.1h5m-4-.7h5m-3-4.3h5m-3 .9h5m-4 3.4h5m-4-.6h5m-3 0h5m-4-4h5m-1-1h5m-4 .1h5m-4-.1h5m-4 4.5h5m-3-4.2h5m-2-2.1h5m-4 .1h5m0-1.7h5m-5 4h5m-3.9-4.4h5m-5 4h5m-4 .3h5m-4-.5h5m-4-3.9h5m-3 2.7h5m1-3.9h5m-4-.9h5m-4 4h5m-4-4.4h5m-5 3.8h5m-3 .8h5m-3-6h5m-3 4.8h5m-3-5.4h5m-4 4.4h5m-3-4.9h5m-3-1h5m-5 4.8h5m-3-4.2h5m-4-.7h5m-1 4h5m-4-5.1h5m-5 4.4h5m-3 .3h5m-3-4.1h5m-5 3.5h5m-4 0h5m-4-.3h5m-4-.5h5m-1-1.5h5m-1-4.9h5m-3-1.5h5m-4-.1h5m-5 4.5h5m-2-.6h5m-3.9-4h5m-4-.3h5m-5 3.4h5m-3-4.4h5m-5 4.3h5m-3-.7h5m-3-5h5m-3 0h5m-5 4.6h5m-4-4.4h5m0 2.4h5m-4-4.7h5m2-1h5m-3 .3h5m-4-.5h5m-5 4.5h5m-2-5.9h5m-5 4.4h5m5-6.6h5m-5 4.5h5m0-.9h5m-3-5h5m-1 3.7h5m-3-4.4h5m1.1-1.4h5m-4 3.4h5m-4 .6h5m-4-4.4h5m-4-.7h5m-3 3.6h5m-3-.7h5m-4 .3h5m-3-5.1h5m-5 5.2h5m-4-5.1h5m-2-.5h5m-3 4.8h5m-4-.3h5m-4 .6h5m-3-5.9h5m-4-.3h5m-5 5h5m-4-.5h5m0-1.7h5m-4-3.4h5m-5 3.7h5m-4-.2h5m0-.1h5m-3-1.5h5m-3-5.2h5m-5 4.8h5m-4-.7h5m-3 .5h5m-1-6.4h5m-5 4.9h5m-4-5.3h5m-3 .3h5m-4 0h5m-3 3.3h5m-1.9-5h5m-5 4.8h5m-4-5.2h5m-3-.1h5m-3-.7h5m-5 3.9h5m-4-4.7h5m-4 .3h5m-4 3.6h5m-4-3.3h5m-3 4.1h5m-1-2.4h5m-4-.4h5m-2-3.4h5m-2 3.6h5m-3-4.2h5m-4-.1h5m-5 3.6h5m-3-4.6h5m-4-.3h5m-5 4.6h5m-2-6.1h5m-5 4.9h5m1-4.7h5m0-.1h5m-3-.5h5m-5 4.8h5m-4-1h5m-4-4.5h5m-4-.5h5m-4 3.6h5m-4-4h5m-1 4.6h5m-4-.5h5m-4-1.1h5m-4-.6h5m-3.9-5.1h5m-4 4.9h5m-4-3.4h5m-5 3.5h5m-3-1h5m-3-4.3h5m-4 4.2h5m-4 0h5m-4-4.3h5m-4 3.1h5m-4-4.1h5m-1 2.6h5m-3-4.1h5m-5 4h5m-3-4h5m-4 4.5h5m-3-4.5h5m-3-.4h5m0-1.3h5m-5 3.3h5m0-4.9h5m-3 4h5m-4 .1h5m-3-4.5h5m-4-.3h5m-4 4h5m-2-1.2h5m-1-.8h5m0-6.1h5m-3-.3h5m-5 4.4h5m-1.9-.6h5m-4-4.1h5m-5 4.5h5m-3-1.1h5m-4 .7h5m-4-5.8h5m-4 5h5m-3-1.5h5m-3-6.1h5m5-1.6h5m-5 5.1h5m-2-5.9h5m-5 4.8h5m-2-5.8h5m-5 4h5m-4 .5h5m-3-4.3h5m-4 0h5m-4 0h5m-5 4.5h5m-4 0h5m-4-5.2h5m-5 4.4h5m-3-5h5m-5 4.7h5m-2-5.2h5m-3-1.1h5m-3 3.9h5m-2-4.5h5m-5 4.3h5m-1-4.2h5m-3-.6h5m-4 .1h5m-5 4.3h5m-4-.3h5m-4-.1h5m-2.9-5.6h5m-4 4.8h5m-2-1h5m-4-5.2h5m-5 5.2h5m-2-.8h5m-1-5.9h5m-4-.3h5m-1-.4h5m-3 .2h5m-5 3.6h5m-3 .1h5m-4-.4h5m0-5.2h5" stroke="#40ffff" stroke-width="1.1" fill="none" opacity="0.8"/>
<path d="M1547.2 1903h0m1 0h0m3 .4h0m3 .2h0m1.1 .2h0m1-.4h0m3 .3h0m1-.1h0m1-.1h0" stroke="#0a0a30" stroke-width="6.2" stroke-linecap="round" fill="none"/>
<path d="M1553.2 1903.6h0" stroke="#0a2a9a" stroke-width="6.2" stroke-linecap="round" fill="none"/>
<path d="M1546.2 1901l2-.3 2-.2 2 0 2 .8 2-.3 2 0 2 0 2 0 1 .2 0 4.6-1 .3-2 0-2-.4-2 .2-2 .7-2 0-2-.7-2-.6-2-.3z" fill="#00ffff"/>
<path d="M1544.7 1901h5m-5 4h5m-4 .3h5m-4-4.6h5m-4-.2h5m-2 1.1h5m-2.9 4.3h5m-4-4.9h5m-4 .6h5m-5 3.9h5m-4-3.9h5m-5 4h5m-3-4.6h5" stroke="#40ffff" stroke-width="1.1" fill="none" opacity="0.8"/>
<path d="M1578.5 1898.6h0m1-.5h0m5-2.3h0m3-.3h0m1.1-.5h0m1-.6h0m4-.8h0m5-1.5h0m1-.3h0m1-.5h0m6-1.6h0m4.1 .5h0m2 .6h0m5 .5h0m2 .3h0" stroke="#0a0a30" stroke-width="6.2" stroke-linecap="round" fill="none"/>
<path d="M1580.5 1897.2h0m11.1-2.9h0m4-1.3h0m16.1-2.5h0" stroke="#0a2a9a" stroke-width="6.2" stroke-linecap="round" fill="none"/>
<path d="M1576.5 1897l2-.5 2-1.9 2-1.1 2 0 2-.1 2-.9 2-.2 2-1.1 2-.8 2-.1 2-.9 2-.8 2-.4 2-.3 2-.9 2-.3 2 0 2 1.1 2 1.1 2 0 2 .2 2 0 1 .6 0 3.8-1 0-2 0-2-.2-2-.2-2 0-2-.6-2 0-2 .4-2 .6-2 .5-2 .4-2 .9-2 .4-2 .6-2 .3-2 .8-2 .1-2 .1-2 1-2 .5-2 1.2-2 0-2-.3z" fill="#00ffff"/>
<path d="M1575 1897h5m-5 3h5m-2-4.7h5m-4 3.3h5m-4 0h5m-3-4.5h5m-5 3.5h5m-3-4h5m-4-.2h5m-1.9-1.1h5m-4 .1h5m-4-.6h5m-5 4.5h5m-2-5.9h5m-4 .9h5m-5 4h5m-2-1.1h5m-4-.2h5m-3-.5h5m-2-.6h5m-4-5.8h5m-4-.1h5m-4 5.5h5m-3.9-.8h5m-2-2.7h5m-3 3.7h5m-2-3.4h5m-5 4h5m-4-4.2h5m-5 3.2h5m-4-2.6h5m-5 3.8h5" stroke="#40ffff" stroke-width="1.1" fill="none" opacity="0.8"/>
<path d="M995.3 2024L1032 2015M1542.9 1903L1547.2 1903M1561.3 1903.5L1577.5 1898.5" stroke="#e02020" stroke-width="2" fill="none"/>
<circle cx="990" cy="2018.5" r="3.4" fill="#0a2a9a"/>
<path d="M969.3 2026.9L1619 1889.5" stroke="#ffff00" stroke-width="2.7" stroke-dasharray="9 7" opacity="0.72" fill="none"/>
<clipPath id="cfU"><rect x="969.9" y="2115.9" width="656.8" height="171.6"/></clipPath>
<g clip-path="url(#cfU)">
<path d="M964 2159l2 0 2 2.6 2-3.7 2 5.9 2-6.3 2 4.7 2 4.7 2-14.3 2 10 2 5 2-4.3 2 .3 2 .3 2 .3 2-2.7 2 3.9 2 0 0 66.6-2 0-2 2.6-2-3.2-2 3.5-2-6.2-2-4.8-2 1.1-2 6.2-2 3.4-2-.5-2-8.4-2 3.2-2-4.6-2 5.8-2-3.7-2-.9-2 0zM1030 2182.2l2 0 2-10.3 2 10 2-9.2 2 7.4 2-9.3 2 1.4 2-.4 2-6.1 2 2.6 2 3 2 1.3 2 1.9 2.1-6.8 2-1.6 2 5.4 2-8.1 2 .8 2-1 2-2.8 2 4.9 2 3.3 2 1.4 2 4.5 2 .9 2 7.4 2 5.2 2 .4 2-2.5 2 5.8 2-6.1 2 6.6 2 3.9 2 5.1 2-2.2 2 1.6 2-5.4 2-5.2 2 7.2 2.1-10.2 2-2.8 2-9.5 2 4.3 2 .6 2 0 2-1.6 2-6.9 2-4.6 2 8.2 2-9.5 2 1.9 2 6.3 2-1 2-7.4 2 3 2 4.5 2 0 2-4.4 2 13.3 2 1.5 2-3.7 2 1.3 2 4.6 2-3.7 2.1 6.5 2-2 2-9.4 2 11.9 2-9.7 2 8.7 2-5.9 2-2.7 2 8.2 2-1.7 2 4.9 2 .9 2-10.7 2 5.7 2-5.5 2-1 2 2.5 2-1.8 2 7.8 2-1.2 2-6.6 2-10.1 2 7.2 2-1.5 2-3.5 2 .4 2.1 5.1 2-3.3 2-4.2 2 .9 2-1.3 2 5.8 2-2.8 2-6.6 2 2.8 2-7.8 2 2.6 2-3.9 2 2.5 2 2.1 2 5.5 2-4.1 2-8.2 2-3.9 2-2.2 2 11.9 2-13.4 2 3.2 2-3.7 2-4.4 2-1.6 2.1 6 2-11.9 2 5.4 2-2.3 2 6.8 2-2.9 2 9.5 2-.2 2-3 2 2.1 2 3.9 2-2.6 2-.7 2 10.4 2-4 2 10.9 2-10.4 2 6.3 2-5.3 2-.4 2 1.3 2-.9 2-.5 2-5.2 2 2.3 2-1.3 2.1 1.8 2-7.5 2 5.1 2 1.5 2-.8 2-4.2 2 1.4 2-10 2 2.6 2 7.3 2-10.2 2 10.7 2-.7 2 1.5 2-5.8 2 5.9 2 5.3 2-5.9 2-5.2 2-3.1 2 3.1 2-2.4 2 7.3 2-1 2-2.6 2.1-7.7 2 1.3 2 5.9 2 4.1 2-6 2 .3 2 3.1 2 3.7 2 6.9 2-6.2 2-2.3 2-4 2 10.7 2-2.6 2-2.3 2-7.1 2 1.2 2 3.9 2-2.8 2-.9 2 1.6 2-2.3 2 8 2-3.8 2-3 2 3.9 2.1-3.8 2 0 2 5.7 2-3.1 2 11.4 2-5.3 2 4.3 2-8.3 2 .7 2 1.9 2-7.9 2-2.6 2 1.2 2 13.4 2-6.8 2-4.9 2 1.1 2 3.5 2-11.2 2 6.7 2-4.2 2-1.6 2-1.4 2-1.9 2 .4 2.1 4.7 2-2 2 7.4 2-7.3 2 8.5 2-2.4 2 3.1 2 3.9 2 4.9 2 .7 2 2 2 6.9 2-14.3 2 9.8 2 2.4 2-8.6 2 4.4 2-9.1 2-.6 2 1.9 2 12 2-10.9 2 .1 2-4.5 2-1.2 2-2.1 2.1-8.2 2 .1 2-7.6 2 4 2 .2 2-2.7 2 6.4 2-.3 2 1 2 0 2-2.2 2 5.2 2-10.6 2 0 0 75.2-2 0-2-2-2-3-2-4.8-2 2.9-2-.1-2-3.4-2 4.5-2 2.8-2-3.5-2 13.6-2-5.2-2 4.9-2.1-6.5-2 4-2-.9-2 1.3-2 4.5-2 .3-2 6.5-2-5.4-2 14.7-2-11.6-2 8.5-2-2.3-2 .9-2 6.3-2-12-2 .8-2 2-2 2.1-2-2.3-2-11.1-2 2.1-2-1.6-2 3.4-2-7.6-2-.9-2-7.8-2.1-1.2-2 2.6-2-1.3-2-2.9-2 3.9-2 1.1-2 1.3-2 1.6-2-1.7-2 7.6-2-7.7-2 5.1-2 4.7-2 12.6-2-.2-2-9.1-2 4.9-2 4.7-2-8.1-2 6.6-2-2.6-2 .8-2-3.8-2 9.4-2-2.8-2.1 .8-2-12-2 3.2-2-2.7-2-5.9-2 6-2 .3-2 .7-2-5.6-2 2.4-2 4.5-2-9-2 5.2-2-4.3-2 6.4-2 5-2-5.1-2-8-2 3.1-2 3.3-2-1.5-2-1.8-2-1.3-2-1.7-2 4-2-11.1-2.1 6.4-2-2.6-2-1.4-2 7.4-2 2.2-2-.7-2 1.7-2-4.5-2 1.7-2 6.5-2-5.2-2 2.3-2-1-2-5.7-2 5.7-2-5.8-2 6.3-2 1.5-2-5.1-2 4.2-2-9.4-2 8.8-2 3.6-2-3.4-2 8.3-2.1 1.9-2-12-2 14.8-2-2.8-2-4.4-2-3.7-2 13.9-2-6.3-2-3.7-2 3.6-2-5.7-2-1.3-2 0-2 4-2-2.1-2 1.8-2 .3-2-8.8-2 .9-2-1.6-2-3.1-2 3.3-2-7.4-2-1.1-2 7.4-2-1.2-2.1-.2-2 2.2-2-2.3-2 3.7-2 1.7-2 2-2 7.4-2-.1-2-.5-2-1-2-3.8-2 10-2-5-2 3.3-2 7.2-2-1.3-2 6.7-2-11.2-2 4.7-2-5.9-2 6.9-2-2-2 1.8-2-4.5-2 5-2.1-3-2 6.8-2 .2-2 4.2-2 4.7-2-14.1-2 9.3-2-6.5-2 8.3-2-5.6-2 2.9-2 .4-2 5.6-2-8.5-2 7.9-2-5.9-2 6.8-2-.5-2 4-2-3.8-2-3.9-2 8.1-2-5.7-2 3.5-2-.9-2-5.8-2.1 5.2-2-12.2-2 3.6-2 3-2-7.8-2-.4-2 .6-2-.1-2-3-2 2.3-2 1.1-2-13.5-2 3.9-2-.3-2 6.3-2-2.5-2 7.6-2-1.1-2 .2-2 2.9-2 .5-2 9.1-2 4.1-2 1.2-2-.2-2.1-2.3-2 .3-2 11.6-2-4.8-2 4.7-2-5.4-2 4.3-2-4.8-2-4.3-2-6.1-2 3.2-2-3.5-2-5.1-2-4-2 3.8-2-9.5-2 6.8-2-9.3-2 1.5-2-2.6-2-7.8-2 .4-2-4.5-2 12.2-2-.9-2 5.5-2.1-5-2 2.1-2-2.6-2 11.4-2-3-2 4.6-2-3.2-2 9.5-2-5.3-2-4.2-2 4.9-2-3.7-2 2.2-2 0zM1547 2200.6l2 0 2-3.3 2 .3 2 7.2 2-3 2 3 2-4 2 0 0 60.1-2 0-2 8.2-2-3.7-2-2.9-2 .1-2-4.4-2 4.1-2 0zM1578 2167.3l2 0 2-2.3 2-8.7 2-6.1 2-8.1 2-2.2 2-8.2 2 5.2 2-6.6 2-8.1 2 .9 2 4.4 2 3.9 2 5.9 2 14.4 2-8.9 2 21.3 2-3.2 2 8.8 2 1.2 2 3.2 2 0 0 69.1-2 0-2-17.8-2 3.5-2-1-2-7.5-2 7.1-2-16.6-2-4.9-2 .4-2-9.8-2-9.7-2 2-2 5.4-2 .7-2 4.4-2 2.7-2 9.8-2 7.8-2 8.8-2 10.5-2 12-2 0z" fill="#00ffff" opacity="0.9"/>
<path d="M966 2185.8v70.9M966.6 2165.8v62M967.6 2162.7v61.5M969 2167.2v55.8M970.8 2166.3v65.2M971.4 2154.3v59.2M973.1 2178.5v52.3M974.9 2158.6v61.1M975.6 2147.2v56.6M975.9 2162v41.8M978.1 2172v62.4M981.2 2173.8v40.2M983.3 2165v50.7M983.7 2136.4v79.6M984.2 2168.8v41.6M985.7 2164.9v54.7M986.5 2181.5v47.4M986.8 2155.9v66.4M988.2 2185.8v45.6M989.4 2173.2v60.4M990.4 2161.7v48.5M990.8 2156.9v75.4M991.3 2154.5v60.7M992.1 2167v45.3M993.6 2164.4v68.4M995.9 2164.3v73.2M1032 2197v73.9M1033 2173.5v64.5M1033.5 2173.5v54.1M1035.4 2174.1v76.5M1036.8 2176.5v58.2M1040 2173.7v58M1041.7 2152.6v78.7M1042.2 2187.8v73.6M1043 2167.8v52M1045 2174.6v59.2M1047.7 2164.2v55.5M1048.3 2173.1v48.7M1048.7 2172.1v70.7M1049.1 2176.2v71.9M1049.9 2166v48.5M1051.1 2177.8v66.5M1052.1 2199.5v75.6M1052.4 2158.4v56.5M1053.8 2159.8v64.5M1056.6 2161.6v41.1M1057.2 2172.4v69.7M1057.6 2179v67.4M1058.6 2186.9v51.3M1059.3 2177v44.1M1061.2 2174.7v61.5M1062.1 2163.9v77.9M1063.3 2180.2v46.9M1064.1 2186.8v74.7M1065.1 2163.1v58.4M1066.8 2165.5v77.9M1068.5 2180.3v48.2M1068.8 2152.5v77.8M1071 2169.5v62.6M1073.8 2148v74.2M1076.7 2186.2v75.3M1077.6 2171.3v75.8M1078.2 2190.6v51.8M1078.9 2189.9v68.5M1079.6 2161.3v78.6M1082.2 2183v68.7M1083.4 2175.7v71.4M1085.5 2183.8v48.5M1086.1 2193.3v50.9M1087 2190.5v73M1088.2 2196.4v77.8M1089.3 2209.5v67.9M1089.9 2171.1v78.6M1090.4 2197.1v76.8M1091 2233.5v53.5M1092.8 2202v78.7M1094.2 2197v47.3M1097.1 2198.5v62.3M1097.5 2202.5v62.4M1098.1 2193.8v67.8M1099.4 2174.3v74.3M1100 2193.5v60.2M1102.9 2178v68.7M1103.3 2181.5v76.3M1105.1 2178.4v77.1M1107.3 2210.9v67.1M1107.8 2212.7v47.3M1108.7 2177.2v56.8M1110.1 2216.2v49.9M1110.7 2201.8v57.9M1111.3 2203.4v64M1113.1 2220.2v41M1114.6 2169.5v75.9M1116.1 2194.4v48.5M1116.9 2190.7v54.6M1117.2 2156.4v63.4M1118 2178.6v66.5M1119 2182.2v72.6M1121.3 2192.8v63.8M1121.7 2183.4v42.5M1122.2 2187v71.6M1123.7 2189v63.2M1126.3 2191.1v71M1129 2168.6v69M1130 2180v40.5M1130.9 2203v46M1131.6 2144.5v73M1132.3 2169.4v51.8M1135.1 2165.9v59.6M1136.7 2150v67.2M1137.9 2179.4v53.3M1139.3 2173.3v59.8M1140.7 2170.4v52.2M1141.3 2158.9v56M1143.1 2190.2v69.5M1145.5 2160v52.3M1146.9 2169.5v62.7M1148.2 2164.5v53.4M1149.1 2196.9v70.7M1150.5 2204.4v54.7M1152.6 2212.4v53.7M1153.9 2165.7v79.4M1154.7 2172.5v46.9M1155.4 2206.1v42.7M1157.5 2185.8v49.9M1158.1 2175.1v65.5M1159.6 2160.9v68.6M1160.9 2201v52.3M1161.4 2177v69.7M1161.9 2205.7v50.2M1162.2 2196.2v70M1162.7 2178.9v53.9M1164.5 2209.7v40.2M1165.8 2211v75M1168.7 2209.4v41.5M1173.5 2168.9v76.9M1174.3 2192.6v50.1M1176.5 2162.3v78.9M1177.4 2184.7v43.9M1178.2 2171.5v56.6M1179.3 2175v59.4M1180.4 2191.9v57M1180.8 2189.7v65.5M1181.1 2171.1v78.8M1181.5 2193.1v41.2M1182.2 2188.7v45.8M1182.8 2191.8v76.2M1183.3 2159.7v71.3M1184 2205.7v51.1M1185.4 2190.2v75.1M1185.8 2204.4v42.9M1189.9 2186.7v53M1191.2 2167.2v54.4M1191.6 2183.3v66.3M1192 2170v61.4M1192.7 2176.9v46.9M1197.2 2150.5v70.5M1199.1 2198.5v48.5M1200 2190.4v77.4M1200.6 2181.4v47.7M1201.3 2174.3v70.1M1202.3 2185.8v64.2M1202.8 2189.2v62.1M1204 2199.5v68M1204.7 2157.9v71M1205.4 2166.8v73.6M1207.3 2185.5v72.8M1208.1 2167.7v53.1M1209.1 2168.2v64.8M1209.5 2172.3v47.6M1210.1 2187.1v55.5M1211 2179.4v75.1M1211.5 2191.3v43.7M1212.4 2187.3v63.3M1213.3 2197v61.6M1213.6 2173.1v47.9M1214.2 2181.8v50.2M1214.5 2168.3v49.9M1214.9 2181v61.7M1216.7 2176.3v74.4M1220.3 2187.8v43.4M1221 2163.4v49.6M1221.5 2183.8v47.9M1222.6 2183.3v55.8M1223.7 2188.4v47.3M1224.1 2175.4v40.7M1225.5 2182v75.8M1226.7 2161.9v60.3M1227.4 2173.2v41.6M1230.5 2188.6v48.5M1235 2164.3v64.6M1235.7 2167.2v62M1236.2 2179.3v56.2M1236.6 2179.9v68.8M1237.3 2163.7v72.1M1238.3 2179.8v51.5M1239.1 2169.2v66.9M1241.4 2154.3v60.5M1242.7 2180.8v73.1M1245.7 2160.1v40.4M1246.6 2198.2v58M1249 2169v63.1M1251.3 2156.8v74.5M1251.9 2159.8v71.5M1253.7 2154.2v73.1M1254.4 2153.6v70.3M1255.9 2163.1v59.2M1257.2 2153v41.8M1257.7 2163.7v69.8M1259 2124.6v58.9M1259.4 2156.1v44.2M1261 2145.9v68.6M1261.9 2167.8v41.1M1263.2 2132.5v54.9M1264.1 2172v49.6M1266.1 2155.2v71.4M1267 2169v42.6M1267.7 2156.3v51.5M1268.1 2112.4v72.5M1271.9 2149.6v74.2M1272.4 2142.5v62.9M1272.9 2141.5v45.8M1273.8 2155v47.5M1274.4 2152.5v57.7M1275.1 2130.7v54.2M1275.6 2170.4v52.6M1277.9 2152.2v67.3M1278.3 2134.4v50M1279.2 2149.7v69.7M1279.6 2183.8v41.3M1280.6 2138.8v75.3M1281.3 2158.9v45.1M1281.8 2163v50.9M1285 2153.6v53.8M1285.7 2171.7v55.9M1287.1 2157.4v78.9M1287.9 2171v48.2M1288.3 2144.8v71M1289 2154.8v67.6M1289.8 2162.7v79.6M1290.4 2162.5v63.3M1291.4 2181.6v78.6M1292.5 2167.3v57.7M1294.8 2172.9v52.9M1297 2170v75M1297.4 2165.2v57.2M1299 2157.9v64.9M1300.3 2156.9v51.9M1300.7 2161.4v42.3M1301.8 2169.3v52.9M1302.7 2180.2v53.8M1303.5 2154.7v54.2M1305.1 2146.2v42.2M1305.8 2169.8v43.8M1307.1 2142.3v73M1309.3 2160.2v68.3M1310.2 2161.2v50.7M1312.5 2147.7v65.5M1316.2 2152.6v79.8M1316.9 2133.3v73.5M1318.2 2163.1v47.1M1320.1 2180.3v48.2M1321 2159.5v41.4M1321.6 2171.7v46.9M1322.1 2174v66.2M1322.5 2160.2v72M1323.8 2153.9v64M1325.4 2149.8v63.6M1326.3 2171.6v53.8M1327.7 2143.9v54.2M1328.5 2148.2v76.7M1329.4 2147.4v74.4M1330.1 2163.7v53.6M1331 2159.7v65.7M1333.4 2133.1v46M1333.9 2139.9v47.7M1336.3 2154.7v73.3M1337.3 2158.2v51.9M1339.6 2154.4v64.3M1340.3 2151.1v44.6M1341 2140v70.1M1341.4 2148.5v53.1M1342.3 2153.1v61.3M1344.5 2164.6v50.4M1345.8 2168.2v61.3M1346.8 2161.2v40.5M1347.6 2144.7v52.9M1348.3 2159.9v42.7M1350 2149.8v64.5M1350.9 2154.7v42.3M1351.8 2134.6v74.6M1354.1 2139.5v68.1M1354.5 2143.6v64.3M1355.2 2154.5v46M1355.9 2146.3v65.8M1358.1 2135.9v72.8M1359.1 2164.3v46.7M1359.8 2159.5v61.6M1361.6 2149.7v66.9M1363.2 2171.9v44.8M1364.1 2148.4v62.7M1364.5 2114.6v76.8M1364.9 2123.2v73.1M1365.5 2155.7v46.6M1366.3 2152.7v66.9M1368.9 2152.5v70.9M1369.8 2153.9v65.2M1371 2148.2v44.2M1371.7 2160.3v50.1M1373.6 2127.2v70M1374.6 2164.6v62.5M1376.1 2115.8v75.2M1377.8 2183.9v40.1M1378.6 2137.6v74.6M1379 2168.4v74.7M1381.3 2156.1v60.7M1382.2 2163.2v48.3M1382.8 2153.3v68.6M1384 2156.1v42.2M1384.7 2138.9v49.9M1385.2 2158.2v69.4M1385.6 2147.3v72M1386 2137.7v79.2M1386.7 2154.7v51.9M1387.5 2176v62.2M1388.5 2121.3v71.4M1388.8 2177v60.6M1389.8 2168.8v62.4M1390.1 2118.8v61.5M1390.6 2172v54.2M1391.5 2164.3v78.8M1392.5 2177.3v58.4M1393.7 2135.3v64.7M1394 2164.2v69.5M1394.3 2163.2v54.1M1395.3 2163.9v56.7M1396.5 2156.2v71.2M1398 2153.6v41.9M1398.9 2162.3v60.2M1399.6 2171.7v58.8M1400.6 2180v55.9M1401.5 2148.5v59.1M1403 2177.3v40.2M1405.2 2191.6v46.1M1406 2171.4v57M1406.9 2155.4v62.3M1407.3 2178.5v45.9M1407.7 2181.1v41.9M1408.3 2171.4v43.9M1409.3 2146.6v70.1M1409.7 2135.9v73.9M1411.3 2172.9v54.8M1413.7 2136.1v77.6M1415.2 2155.9v59.6M1416.6 2167.1v61.1M1417.5 2155.8v73.3M1419.9 2183.4v53.5M1420.3 2178.3v70.7M1421.3 2200.8v42.7M1423.4 2159.4v60.3M1423.8 2175.2v40.9M1426 2148.8v73.8M1426.4 2146.3v49M1427.2 2172.4v57.1M1428.4 2161.3v72.4M1429.4 2166.3v68.2M1430 2157.8v56.2M1430.4 2187.5v48.6M1430.8 2142.1v77.7M1431.1 2160v68.7M1435 2162.7v48.4M1436.9 2163.1v50.6M1437.4 2153v44.8M1438.3 2161.8v55.3M1440.3 2158.8v44.7M1440.8 2151.5v78M1442.1 2141.4v54.1M1444 2160.9v53M1444.7 2172.2v41.7M1445 2154.7v70.6M1446 2171.6v44.1M1446.7 2155.4v60.4M1448.8 2137.9v75.3M1449.6 2155.3v62.7M1450.8 2146.6v73.7M1451.4 2158.6v45.7M1452.7 2178.2v49.3M1453.9 2130v78.7M1454.2 2164.7v54.8M1454.7 2158.5v41.9M1455 2176v67.4M1455.8 2135.7v58.9M1457 2150.5v45.9M1458 2147.6v51.3M1458.9 2172.3v44.1M1459.5 2166.3v50.5M1460.9 2152.8v58.9M1461.4 2162.7v53.2M1462 2139.6v56.2M1462.8 2142.6v44.9M1463.5 2158.5v40.6M1463.8 2146.5v57.3M1466 2129.4v72.8M1466.8 2172.1v44.4M1467.2 2147v72.3M1468.1 2142.5v53.7M1469.6 2151v80M1470.5 2179.6v53.7M1471 2142.8v70.9M1471.4 2141.3v65.9M1472.3 2147.2v63.2M1473.6 2137.1v66.3M1476.8 2137.5v75.4M1477.2 2140.9v65.2M1480.4 2157.2v59.4M1481 2140.6v52.3M1481.8 2169.6v73.5M1484 2186.3v43.7M1485.2 2165.5v66M1487.7 2161.1v70.6M1488.6 2155.5v76.8M1489.2 2155.8v60M1489.8 2200.8v45.7M1490.8 2174.7v47.7M1491.7 2144.2v71.8M1492.5 2164v76M1493.6 2183.7v72M1495.3 2175.2v71.2M1496 2188.1v55.4M1496.7 2131.3v71.6M1497.1 2167.6v62.7M1497.8 2185.2v70.9M1498.2 2154.5v70.6M1498.6 2156.1v50.3M1499.2 2167.3v54.8M1500 2163.2v54.4M1500.4 2181.2v41.8M1501 2176.3v44.6M1503.3 2147.3v47.7M1503.7 2173.9v49M1504.1 2184.4v40.7M1504.5 2163.7v66.5M1505.8 2181.5v51.7M1506.2 2178.5v54.9M1508.7 2177.7v54.7M1509.6 2145.4v61.7M1510.9 2154.5v50.9M1514.6 2162.8v61.1M1515.2 2165.7v54.3M1516.2 2139.2v54.3M1516.8 2158.5v52.3M1517.9 2164.4v63.6M1518.9 2145.3v62.8M1519.3 2144.9v50.1M1519.9 2143.5v71.1M1520.7 2149.8v41.7M1521.6 2152.9v43.2M1523.4 2162.4v44.8M1525 2112.5v62.5M1525.8 2150.8v51.9M1526.4 2146.8v44.4M1526.8 2151.7v44.6M1528.3 2161.8v78.8M1529.9 2120.2v55.2M1530.7 2140.1v53.4M1531.4 2128.4v59.4M1532.4 2125.6v71.6M1533.3 2146v68.3M1537.4 2125.3v77M1538.4 2168.6v50.7M1540.4 2139.8v55.6M1541 2137.1v62.5M1541.7 2159v68M1542.5 2137.5v75.3M1550.6 2218.8v52.4M1552.2 2170.2v78.8M1552.5 2217.6v46.7M1554.1 2240.9v52.9M1554.9 2183.1v72.2M1557.3 2194.4v73.5M1559.8 2198.9v75.9M1560.3 2195.8v42.3M1561 2185.2v53.8M1580 2192.5v40.2M1580.9 2193.1v59.7M1581.7 2179.2v78.8M1582.1 2181.9v59.9M1582.9 2174.4v60M1583.7 2157.8v75.8M1584.6 2157.8v58.6M1585.4 2141.6v73.7M1586 2141.1v68.8M1589.7 2168.7v44.3M1591 2130.4v73.9M1591.4 2130.3v48.2M1592.2 2114.2v72.9M1592.8 2147.5v48.2M1593.6 2146v45.5M1594.3 2123.6v48.3M1595.1 2132.4v76.4M1596.5 2148.8v53.9M1598.3 2140.3v54.8M1598.7 2123.7v70.4M1599.7 2120.6v40.7M1601.1 2123.6v77.3M1602 2148.3v56.8M1604.1 2125.9v59.2M1604.7 2124.2v57.9M1605.4 2128.4v60.6M1606 2145.4v67.7M1607.2 2180.9v45.3M1607.6 2145.1v45.3M1609 2143.5v62.8M1610.6 2154.5v63.9M1612.1 2168.5v65.7M1613 2144.8v62.1M1614.5 2146.5v63.2M1615 2148.9v57.7M1615.9 2165.2v75.4M1616.2 2154v44M1618.6 2156v52.5M1619 2184.7v49.5M1619.8 2172.9v50.5" stroke="#00ffff" stroke-width="1.2" fill="none" opacity="0.7"/>
<path d="M963 2185.8h6m-6 70.9h6m-5.4-90.9h6m-6 62h6m-5-65.1h6m-6 61.4h6m-4.6-56.9h6m-6 55.8h6m-4.2-56.7h6m-6 65.2h6m-5.4-77.2h6m-6 59.2h6m-4.3-35h6m-6 52.3h6m-4.2-72.2h6m-6 61.1h6m-5.3-72.5h6m-5.7 56.6h6m-3.8-31.8h6m-6 62.4h6m-2.9-60.6h6m-3.9-8.8h6m-6 50.7h6m-5.6-79.3h6m-6 79.6h6m-5.5-47.2h6m-6 41.6h6m-4.5-45.5h6m-6 54.7h6m-5.2-38.1h6m-6 47.4h6m-5.7-73h6m-6 66.4h6m-4.6-36.5h6m-4.8 47.8h6m-5-71.9h6m-6 48.4h6m-5.6-53.2h6m-6 75.4h6m-5.5-77.8h6m-6 60.7h6m-5.2-2.9h6m-4.5-47.9h6m-3.7 73h6m30.1-40.4h6m-6 73.9h6m-5-32.9h6m-5.5-64.5h6m-6 54h6m-4.1-53.4h6m-6 76.5h6m-4.6-74.1h6m-6 58.2h6m-2.8-2.9h6m-4.3-79.2h6m-6 78.7h6m-5.5 30.2h6m-5.2-93.7h6m-6 51.9h6m-4-45.1h6m-6 59.2h6m-3.3-69.6h6m-6 55.5h6m-5.4-46.6h6m-6 48.7h6m-5.6-49.7h6m-6 70.7h6m-5.6-66.6h6m-6 71.9h6m-5.2-82.1h6m-6 48.6h6m-4.8-36.8h6m-6 66.5h6m-5-44.8h6m-6 75.7h6m-5.7-116.8h6m-6 56.5h6m-4.6-55.1h6m-6 64.4h6m-3.2-62.6h6m-6 41.1h6m-5.4-30.3h6m-6 69.6h6m-5.6-63h6m-5 7.9h6m-6 51.3h6m-5.3-61.2h6m-6 44.1h6m-4.1-46.4h6m-6 61.5h6m-5.1-72.3h6m-6 77.9h6m-4.8-61.6h6m-6 46.9h6m-5.2-40.3h6m-6 74.8h6m-5-98.5h6m-6 58.4h6m-4.3-56h6m-6 77.9h6m-4.3-14.9h6m-5.7-76h6m-6 77.8h6m-3.8-60.8h6m-3.2-21.5h6m-3.1 113.5h6m-5.1-14.3h6m-5.4-56.6h6m-6 51.7h6m-5.3-52.4h6m-6 68.4h6m-5.3-97h6m-6 78.6h6m-3.4-56.9h6m-4.8 64.1h6m-3.9-63.3h6m-6 48.5h6m-5.4-39h6m-6 51h6m-5.1-53.8h6m-6 73h6m-4.8-67.1h6m-6 77.8h6m-4.9-64.7h6m-5.4 40.3h6m-5.5 24.1h6m-5.4-40.4h6m-2.8-36.5h6m-6 47.3h6m-3.1 16.5h6m-5.6-58.3h6m-6 62.4h6m-5.4-3.2h6m-4.7-87.4h6m-6 74.4h6m-5.4-55.2h6m-6 60.2h6m-3.1-75.7h6m-6 68.7h6m-5.6-65.2h6m-6 76.3h6m-4.2-79.4h6m-6 77.1h6m-3.8 22.5h6m-5.5-65.3h6m-6 47.2h6m-5.1-82.7h6m-6 56.8h6m-4.6 32.1h6m-5.4-6.4h6m-5.4-56.3h6m-6 64h6m-4.2-6.2h6m-4.5-91.7h6m-6 75.9h6m-4.5-2.6h6m-5.2-52.1h6m-5.7 29.1h6m-5.2-41.2h6m-6 66.5h6m-5-62.9h6m-6 72.6h6m-3.7 1.9h6m-5.6-73.3h6m-5.5 75.3h6m-4.5-69.7h6m-3.4 2.1h6m-6 71h6m-3.3-93.5h6m-6 69h6m-5-57.6h6m-6 40.5h6m-5.1-17.5h6m-6 46h6m-5.3-104.5h6m-6 73h6m-5.3-48.1h6m-6 51.8h6m-3.2 4.2h6m-4.4-75.4h6m-6 67.2h6m-4.8 15.5h6m-4.6-59.4h6m-4.6-2.9h6m-6 52.3h6m-5.4-63.8h6m-6 56h6m-4.2 44.9h6m-3.6-99.8h6m-6 52.3h6m-4.6 19.9h6m-4.7-67.7h6m-6 53.5h6m-5.1 49.6h6m-4.6-63.2h6m-6 54.7h6m-3.9-46.7h6m-6 53.7h6m-4.7-100.4h6m-5.2 6.8h6m-5.3 33.6h6m-3.9-20.3h6m-5.4-10.7h6m-6 65.5h6m-4.5-79.7h6m-4.7 40.1h6m-6 52.3h6m-5-47.6h6m-6 50.3h6m-5.7 10.2h6m-5.5-33.4h6m-4.2-23.1h6m-6 40.2h6m-4.7-38.9h6m-6 75h6m-3.1-35h6m-1.2-82.1h6m-6 76.9h6m-5.2-53.2h6m-3.8-30.3h6m-5.1 22.4h6m-6 43.9h6m-5.2-57.1h6m-4.9 3.5h6m-6 59.3h6m-4.9-42.4h6m-6 57h6m-5.6-59.2h6m-5.7-18.6h6m-6 78.8h6m-5.6-56.8h6m-6 41.1h6m-5.3-45.5h6m-6 45.8h6m-5.4-42.7h6m-5.5-32.1h6m-6 71.4h6m-5.3-25.4h6m-6 51.1h6m-4.6-66.6h6m-6 75.1h6m-5.6-60.9h6m-1.9-17.7h6m-4.7-19.5h6m-5.6 16.1h6m-6 66.3h6m-5.6-79.6h6m-5.3 6.9h6m-1.5-26.4h6m-6 70.5h6m-4.1-22.5h6m-5.1-8.1h6m-6 77.4h6m-5.4-86.4h6m-6 47.6h6m-5.3-54.7h6m-6 70.1h6m-5-58.6h6m-6 64.2h6m-5.5 1.3h6m-4.1-93.4h6m-6 70.9h6m-5.3-62h6m-6 73.6h6m-4.1-54.9h6m-6 72.8h6m-5.2-37.5h6m-5-52.6h6m-5.6 51.7h6m-5.4 22.7h6m-5.1-63.2h6m-5.5 11.9h6m-5.1-4h6m-5.1 9.7h6m-6 61.6h6m-5.7-85.5h6m-5.4 58.9h6m-5.7-63.7h6m-6 49.9h6m-5.6-37.2h6m-6 61.7h6m-4.2-66.4h6m-6 74.4h6m-2.4-62.9h6m-6 43.4h6m-5.3-67.8h6m-6 49.6h6m-5.5 18.7h6m-4.9-48.4h6m-6 55.7h6m-4.9-3.3h6m-5.6-60.3h6m-6 40.7h6m-4.6-34.1h6m-6 75.8h6m-4.8-95.9h6m-6 60.3h6m-5.3-49h6m-6 41.6h6m-2.9-26.2h6m-1.5 40.3h6m-5.3-61.7h6m-6 62h6m-5.5-49.9h6m-6 56.2h6m-5.6 13.3h6m-5.3-85.1h6m-6 72.2h6m-5-56.1h6m-6 51.5h6m-5.2 4.8h6m-3.7-81.8h6m-6 60.5h6m-4.7-34h6m-6 73.1h6m-3-93.8h6m-5.1 38.1h6m-6 58h6m-3.6-87.2h6m-6 63.1h6m-3.7-75.3h6m-6 74.5h6m-5.4-71.5h6m-6 71.5h6m-4.2-4h6m-5.3-73.7h6m-6 70.4h6m-4.5-1.7h6m-4.7-69.3h6m-6 41.8h6m-5.5 38.7h6m-4.7-108.9h6m-6 58.9h6m-5.6-27.4h6m-6 44.1h6m-4.4 14.4h6m-5.1-46.8h6m-4.7 19.6h6m-5.1-15.4h6m-6 49.6h6m-4-66.4h6m-5.1 13.8h6m-6 42.6h6m-1.1-62h6m-5.5-7.1h6m-6 62.8h6m-5.5-63.8h6m-6 45.8h6m-5.1-32.3h6m-6 47.5h6m-5.4-50h6m-6 57.7h6m-5.3-79.5h6m-6 54.2h6m-5.5-14.5h6m-3.7-18.2h6m-6 67.3h6m-5.6-85.1h6m-6 50.1h6m-5.1-34.8h6m-6 69.7h6m-5.6 5.7h6m-5-86.3h6m-6 75.3h6m-4.8-51.1h6m-2.8 44.4h6m-5.3-35.7h6m-4.6-14.3h6m-6 79h6m-5.2-65.4h6m-6 48.2h6m-5.6-74.4h6m-6 71h6m-5.3-61h6m-6 67.7h6m-5.2-59.8h6m-6 79.6h6m-5.4-79.8h6m-6 63.3h6m-5-44.2h6m-6 78.6h6m-4.9-92.9h6m-3.7 5.6h6m-6 52.9h6m-3.8-55.8h6m-6 75.1h6m-5.6-79.9h6m-6 57.2h6m-4.4-64.5h6m-6 64.9h6m-4.7-65.9h6m-5.6 4.5h6m-6 42.3h6m-4.9-34.4h6m-6 52.8h6m-5.1-41.9h6m-5.2-25.5h6m-6 54.2h6m-4.4-62.7h6m-6 42.2h6m-5.3-18.6h6m-6 43.8h6m-4.7-71.3h6m-3.8 17.9h6m-6 68.3h6m-2.8-15.2h6m-2.3-60.7h6m-6 79.8h6m-5.3-99.1h6m-6 73.5h6m-4.7-43.7h6m-6 47.1h6m-4.1 18.4h6m-5.1-69.1h6m-5.4 12.2h6m-5.5 2.3h6m-5.6 58.2h6m-4.7-78.3h6m-6 64h6m-4.4-68.1h6m-6 63.6h6m-5.1-41.8h6m-6 53.7h6m-4.6-27.2h6m-5.2 26.8h6m-5.1-77.5h6m-6 74.4h6m-5.3-58.1h6m-6 53.6h6m-5.1-57.6h6m-6 65.7h6m-3.6-92.3h6m-6 46.1h6m-5.5 8.4h6m-3.6-32.9h6m-6 73.4h6m-5-69.9h6m-3.7-3.8h6m-6 64.4h6m-5.3-23.1h6m-5.3-55.7h6m-6 70.1h6m-5.6-61.6h6m-6 53.1h6m-5.1 12.8h6m-3.8-49.8h6m-6 50.3h6m-4.7-46.7h6m-6 61.3h6m-5-68.3h6m-6 40.5h6m-5.2-57h6m-6 52.9h6m-5.3-37.7h6m-6 42.7h6m-4.3 11.8h6m-5.1-17.4h6m-5.1-62.4h6m-6 74.6h6m-3.7-69.7h6m-6 68.1h6m-4.9-53.1h6m-6 46h6m-5.3-54.2h6m-6 65.8h6m-3.8-76.2h6m-6 72.8h6m-5-44.4h6m-6 46.7h6m-5.3-51.5h6m-6 61.6h6m-4.2-71.4h6m-6 67h6m-4.4-44.8h6m-6 44.8h6m-5.1-68.3h6m-6 62.7h6m-5.2-87.9h6m-6 73.1h6m-5.4-40.6h6m-6 46.6h6m-5.2-49.6h6m-6 67h6m-3.4 3.7h6m-5.1-69.5h6m-4.8-5.7h6m-6 44.3h6m-5.3-32.2h6m-6 50.2h6m-4.1-83.3h6m-5 37.4h6m-6 62.5h6m-4.5-111.3h6m-6 75.2h6m-4.3-7.1h6m-6 40.1h6m-5.2-86.4h6m-6 74.6h6m-5.6-43.8h6m-6 74.7h6m-3.7-87h6m-6 60.8h6m-5.1-5.5h6m-5.4-58.1h6m-6 68.6h6m-4.8-65.8h6m-6 42.2h6m-5.3-59.4h6m-6 49.9h6m-5.5-30.6h6m-6 69.3h6m-5.6-8.1h6m-5.6-81.7h6m-6 79.1h6m-5.3-62.1h6m-6 51.8h6m-5.2-30.5h6m-6 62.2h6m-5-45.5h6m-4.7-23.9h6m-6 62.4h6m-5.7-112.4h6m-6 61.4h6m-5.5 46.1h6m-5.1 16.8h6m-5-65.8h6m-4.8-42h6m-6 64.7h6m-5.7 33.7h6m-5.7-70.5h6m-5 57.4h6m-4.8-64.4h6m-6 71.2h6m-4.5-73.8h6m-6 42h6m-5.1-33.3h6m-5.3 9.4h6m-5 8.3h6m-6 55.8h6m-5.1-87.3h6m-6 59.1h6m-4.5 9.9h6m-3.8-25.9h6m-6 46.1h6m-5.2-66.3h6m-6 56.9h6m-5.1-72.9h6m-6 62.4h6m-5.6-39.3h6m-6 45.9h6m-5.6-43.3h6m-6 41.9h6m-5.4-51.6h6m-6 43.9h6m-5-68.7h6m-6 70.1h6m-5.6-80.8h6m-6 73.8h6m-4.4-36.8h6m-6 54.8h6m-3.6-91.6h6m-4.5 19.8h6m-6 59.7h6m-4.6 12.5h6m-5.1-72.3h6m-3.6 27.6h6m-6 53.4h6m-5.6-58.5h6m-5 65.2h6m-3.9-23.8h6m-5.6-44.5h6m-6 40.8h6m-3.8-67.2h6m-5.6 46.5h6m-5.2-22.9h6m-6 57.1h6m-4.8-68.2h6m-6 72.3h6m-4.4-75.8h6m-6 56.2h6m-5.6-26.5h6m-6 48.6h6m-5.6-94h6m-6 77.7h6m-5.7-59.8h6m-2.1 2.7h6m-6 48.5h6m-3.6-58.2h6m-6 44.9h6m-5.1-36.1h6m-6 55.3h6m-4-58.3h6m-5.5-7.3h6m-4.7-10.1h6m-6 54.2h6m-4.1-34.7h6m-6 53h6m-5.3-41.7h6m-6 41.6h6m-5.7-59.1h6m-5 16.9h6m-6 44.1h6m-5.3-60.3h6m-6 60.5h6m-3.9-78h6m-6 75.3h6m-5.2 4.9h6m-4.8-71.5h6m-6 73.7h6m-5.4-16h6m-4.7-26.1h6m-4.8 30.6h6m-5.7-44.1h6m-6 54.8h6m-5.5-19.1h6m-5.7-24.4h6m-5.2-40.3h6m-6 59h6m-4.8-44.2h6m-6 45.9h6m-5 2.5h6m-5.1-26.6h6m-6 44.1h6m-5.4-50.1h6m-4.6-13.5h6m-6 58.9h6m-5.5-49h6m-5.4 33.1h6m-5.2-53.2h6m-6 44.9h6m-5.3 11.6h6m-5.7-52.6h6m-6 57.3h6m-3.8-74.4h6m-5.2 87.1h6m-4.7-74h6m-6 53.6h6m-4.5-45.1h6m-6 80h6m-5.1-51.4h6m-5.5-36.8h6m-6 70.9h6m-5.6-72.4h6m-3.8-4.2h6m-6 66.3h6m-2.8-65.9h6m-6 75.4h6m-5.6-72h6m-6 65.2h6m-2.8-48.9h6m-6 59.4h6m-5.4-76h6m-6 52.3h6m-5.2-23.3h6m-6 73.5h6m-3.8-13.1h6m-4.8-64.5h6m-6 65.9h6m-3.5-70.3h6m-6 70.7h6m-5.1-76.3h6m-6 76.8h6m-5.4-76.5h6m-6 59.9h6m-5.4-14.9h6m-6 45.7h6m-5-71.8h6m-6 47.6h6m-5.1-78.1h6m-6 71.8h6m-5.2-52h6m-4.9 19.7h6m-4.3-8.5h6m-6 71.3h6m-5.3-58.4h6m-6 55.4h6m-5.3-40.6h6m-5.6-35.3h6m-6 62.8h6m-5.3 25.7h6m-5.6-101.6h6m-5.6 1.6h6m-6 50.3h6m-5.4-39.1h6m-6 54.8h6m-5.2-58.9h6m-6 54.4h6m-5.6-36.4h6m-6 41.8h6m-5.4-2.1h6m-3.7-73.6h6m-6 47.7h6m-5.6-21.1h6m-6 49h6m-5.6 2.3h6m-5.6 5h6m-4.7-48.7h6m-6 51.7h6m-5.6-54.7h6m-6 54.9h6m-3.5-55.7h6m-3.8 27.7h6m-2.3-42.6h6m-5.4 2.9h6m-5-26.5h6m-5.4 19.3h6m-6 52.4h6m-4.9-46.5h6m-6 63.6h6m-5-82.7h6m-6 62.8h6m-5.6-13.1h6m-5.4-51.5h6m-6 71h6m-5.2-64.7h6m-6 41.6h6m-5.1-38.5h6m-6 43.2h6m-4.2-33.7h6m-6 44.8h6m-4.4-94.7h6m-5.2 38.3h6m-6 51.9h6m-5.4-11.5h6m-5.6-39.5h6m-6 44.5h6m-4.5-34.4h6m-6 78.8h6m-4.4-120.4h6m-6 55.2h6m-5.2-35.3h6m-6 53.4h6m-5.3-65.1h6m-6 59.3h6m-5-62.1h6m-6 71.7h6m-5.1-51.3h6m-6 68.3h6m-1.9-12h6m-5-33.7h6m-4 26.8h6m-5.4-58.3h6m-6 62.5h6m-5.3-40.6h6m-5.2 53.7h6m2.1 6.1h6m-6 52.5h6m-4.4-101.1h6m-6 78.8h6m-5.7-31.4h6m-6 46.7h6m-4.4-23.4h6m-6 52.8h6m-5.2-110.6h6m-6 72.2h6m-3.6-60.9h6m-6 73.5h6m-3.5-69h6m-6 75.9h6m-5.5-79h6m-6 42.3h6m-5.3-52.9h6m13 7.3h6m-6 40.2h6m-5.1-39.6h6m-6 59.7h6m-5.2-73.6h6m-6 78.7h6m-5.6-76h6m-6 59.9h6m-5.2-67.4h6m-6 60h6m-5.2-76.6h6m-6 75.8h6m-5.1-75.8h6m-5.2-16.2h6m-6 73.7h6m-5.4-5.4h6m-2.3-41.2h6m-6 44.4h6m-4.7-8.8h6m-5.6-74h6m-6 48.2h6m-5.2-64.3h6m-6 72.9h6m-5.4-39.6h6m-6 48.2h6m-5.2-4.2h6m-5.3-67.9h6m-6 48.3h6m-5.2-39.5h6m-6 76.4h6m-4.6-60h6m-6 53.9h6m-4.2-7.6h6m-5.6-71.4h6m-6 70.5h6m-5-73.6h6m-6 40.7h6m-4.6-37.7h6m-6 77.3h6m-5.1-52.6h6m-6 56.8h6m-3.9-79.2h6m-6 59.2h6m-5.4-60.9h6m-6 57.9h6m-5.3-53.7h6m-6 60.6h6m-5.4-43.6h6m-6 67.6h6m-4.8-32.1h6m-6 45.3h6m-5.6-81.1h6m-6 45.3h6m-4.6-46.9h6m-6 62.7h6m-4.4-51.7h6m-6 63.9h6m-4.5 15.7h6m-5.1-89.3h6m-6 62.1h6m-4.5-60.4h6m-6 63.2h6m-5.5-60.8h6m-6 57.6h6m-5.1 34.1h6m-5.7-86.6h6m-6 44h6m-3.6 10.5h6m-5.6-23.8h6m-6 49.5h6m-5.2-61.3h6m-6 50.6h6" stroke="#00ffff" stroke-width="1.1" fill="none" opacity="0.85"/>
</g>
<path d="M966 2177.2l2 3.1 2-.6 2 .3 2 1.8 2 .9 2-8 2 2 2 10.5 2-2.6 2 .4 2-2.1 2 6.3 2-11.1 2 6.2 2 .1 0 26.1-2 .4-2 2.5-2-6.2-2 .1-2 .1-2 5.5-2-2.2-2-1.9-2 3.2-2-3.7-2-1-2-.3-2-1-2-1.2-2-.8zM1032 2196.2l2 4.3 2 1.6 2-4.5 2-.1 2-1.6 2-1.1 2-2.9 2-.8 2-5.3 2 5.1 2-1.1 2-.9 2.1-5.3 2 5.3 2-7.9 2 3.2 2-3.5 2 1.1 2 5 2 2.3 2-4.1 2 3.8 2 6.9 2 6.6 2-1.9 2 10.7 2-3.3 2-.7 2 2.1 2-2.5 2 2.8 2 7.5 2 .3 2 2 2-1.1 2 0 2 .8 2-7.4 2.1-4.7 2-5 2-5.6 2 3.7 2-3.2 2 5.6 2-4.1 2-7.9 2 .4 2-3.6 2-1.2 2-1.6 2-1 2 1.5 2-5.2 2 10 2 4.2 2-7 2 8.8 2 5.4 2-4.7 2 6.1 2 1 2-1 2-.4 2.1 .3 2-1.7 2-3.7 2 4.2 2-.6 2 .1 2 2.9 2-2.6 2 3.1 2-1 2 6.9 2-12.5 2 7.9 2-4.6 2-1.4 2 3.9 2-3.4 2 2.6 2 2.3 2-7.4 2-.5 2-2 2-6.2 2 4 2 4.2 2 .2 2.1-8.9 2 5.4 2 1.6 2-3.6 2 1.6 2 1.8 2-4.7 2 .6 2-3.7 2-.6 2-2.1 2 7 2-4.1 2-.8 2-.5 2-2.9 2-3.2 2-2.6 2-6.7 2 11.6 2-10 2-1.6 2-1 2-1.9 2-3.8 2.1-8.7 2 5.9 2-4.7 2 9.1 2 2.6 2-.1 2 1.1 2-.3 2-1.5 2 7.5 2 .4 2-1.1 2 6.3 2-.2 2 5.3 2-2.2 2-4.2 2 9.7 2-6.1 2-3.1 2 4.7 2-2.5 2-6.7 2-1.1 2 7.4 2-5 2.1-2.7 2 4.5 2-2.9 2 3 2-5.5 2 1.8 2-6.9 2 1.8 2 1.2 2-1.7 2-1.4 2-.7 2 .9 2 .6 2 3 2 1 2-3.2 2 1.7 2 2.3 2-3.9 2-5.2 2-.1 2 9.9 2-4.5 2-4.1 2.1 8.3 2-3 2-1.3 2-1 2 2.1 2 2.7 2 .9 2 1.2 2 .5 2 1.9 2-9.1 2 5.4 2 2.1 2 1.9 2-8.4 2 3.9 2 1.7 2-1.2 2-5.1 2 1.4 2 2.4 2 8.5 2-4.8 2 .4 2 3.2 2-12.6 2.1 8.9 2-1.7 2 4.5 2 1.5 2-1.6 2-1.9 2 4.3 2 .7 2-3.1 2 3.7 2-8.5 2-6 2 13.2 2-6.5 2 2.1 2-4.9 2-2.1 2 4.9 2-6 2 4.3 2-9.8 2 .8 2-6.8 2-1.9 2 7.1 2.1 1.9 2 5 2-1.6 2-2.9 2 7.5 2 3.9 2 3.5 2-4.4 2 3 2 7.9 2-8.6 2 5.6 2 1.4 2 5.9 2-1 2-6 2-4.7 2 4.2 2-1.6 2-2.6 2 0 2-3.8 2 6.5 2-11.3 2 2.3 2-6.7 2.1-8.1 2 6.1 2-1.1 2-1.4 2-3.6 2-1.1 2 7.1 2-4.4 2 1.6 2 4.1 2-4.8 2-1.7 2 8 0 19.4-2 9.1-2-6.7-2-1.1-2 1.1-2-2.9-2 1-2 .1-2-2.8-2 3.2-2 4.2-2 7.4-2-7.6-2.1 2.6-2 3.4-2 1.8-2 1.8-2 5.3-2-6.5-2 1.2-2 2.5-2 5.7-2 10.6-2-5.6-2-5.3-2 1.6-2-2-2-.9-2-.8-2-1.7-2-3.8-2 3.8-2-1.9-2 .7-2-1.5-2-6.2-2-1.4-2-9.4-2 9-2.1-.2-2-3.4-2-5-2-.7-2 4.5-2-.5-2 3.8-2-1.4-2 4.6-2-2.3-2 1.4-2 2.8-2-5.5-2 18-2-.5-2-7.1-2 .4-2 4-2 1.1-2 .5-2 0-2-3.7-2-1.5-2 3.9-2-2.8-2.1 7.2-2-6.2-2-4.2-2 .3-2-4.5-2 5.8-2 .1-2-2.3-2-7.6-2-.1-2 4.8-2 6.5-2-7.7-2 3.3-2-5.4-2 9.3-2-3.7-2 2.7-2-5.7-2 4.1-2-.6-2-1.5-2-3.7-2-.5-2-4.8-2 2-2.1 5.3-2-5.8-2 2.9-2 3-2 1.4-2-.5-2-4-2 4.6-2-1.7-2-6.5-2 3.2-2 4.9-2-3.3-2 2-2 .7-2-1-2-3.6-2 11.5-2-.7-2-4.2-2-4.4-2-1.8-2 8.7-2-6.8-2 16-2.1-7.8-2-3.8-2 8.8-2-1.2-2-.4-2 .5-2 .4-2 3.1-2-6.6-2-1.4-2-2.6-2 3.3-2 2.5-2-2.6-2-.3-2 1.5-2 2.7-2-8.8-2 1.7-2-4.8-2-.1-2-7.3-2 3.2-2 2.6-2-7-2 14.3-2.1-6-2 .1-2-.6-2 6-2 2.9-2 .6-2 1.3-2 4.8-2-1.6-2 1.3-2-.5-2-1.9-2 5.5-2 2.8-2 7.3-2-5.5-2-.5-2-3-2 2.1-2-7.8-2 5.5-2 2.7-2-3.2-2 2.6-2 7.8-2.1-4.6-2 3-2 .7-2 4.2-2-.7-2 4.9-2-1.2-2-1.7-2-.3-2 .3-2-4.2-2 7.1-2-6.2-2 .1-2 .6-2-2.9-2 7.5-2-3.9-2 3.4-2 .6-2 5.3-2-2.9-2 4.1-2-3.9-2-5.1-2 .7-2.1-5.2-2 6-2-9.2-2 2.6-2 2.7-2-11-2 5.8-2 3.6-2-7.8-2 1.8-2-5.1-2-4.2-2 1.4-2-5.6-2 12.8-2 3.4-2-6.9-2 13.2-2-5.3-2 .7-2 2.1-2 5.5-2 8.7-2 1.7-2-6.8-2.1 5.5-2-.1-2 6.2-2 2.4-2-5.8-2 7.5-2-7.2-2 .9-2-4.6-2-.4-2-3-2-1.4-2-7.6-2 2-2-9.2-2 3-2-6.1-2 1.5-2-1.2-2-8.6-2 .4-2-2.2-2 5.8-2-5.1-2 6.6-2 2.7-2.1-3.9-2 .9-2 .9-2 6.1-2 1.2-2 2.5-2 2.6-2-1.3-2 2.7-2-2.2-2 .2-2 2.5-2 10.6zM1549 2210l2 11 2-3.6 2 1.9 2-.6 2-4.6 2 2.5 0 30-2-2.1-2 1.4-2 .2-2-8.1-2 5.2-2 2.4zM1580 2193.6l2-2.2 2-11.5 2-11 2-7.7 2-6.9 2-2.7 2 0 2-5.2 2 1.1 2-7.3 2 13.5 2-1.8 2 12.9 2 5 2-2.7 2 8.2 2 8.5 2 3.3 2 4.3 2-4.3 0 35.8-2-8.9-2-1-2-9.9-2-4-2-1.7-2-8-2-12.8-2 1.6-2-3.2-2-6.7-2-.1-2 4.7-2 .3-2 4.7-2 5.9-2 7.3-2 12.9-2 5.5-2 7.6-2 9.5z" fill="#000040" opacity="0.8"/>
<path d="M966 2221.2h0m.6-24.4h0m1-3.4h0m1 7h0m.4-5.3h0m.6-4.2h0m.6 23h0m.6-15h0m1.3-1.9h0m.5-.3h0m1.4-2.7h0m.9-4.9h0m.7-13.6h0m.3 7.4h0m.7 36.6h0m.3-22.7h0m.9 7.6h0m1.2 15.8h0m.6-30.3h0m1.1 4h0m.5 0h0m.5-4.8h0m1.6 1.2h0m.4-14.1h0m.5 13.4h0m1.5 2.6h0m1.1-3.1h0m.6-3.3h0m1.6 .2h0m.4 17.4h0m1-17.5h0m.4 8.7h0m.5-9.7h0m.4 15.3h0m.4-10.5h0m1.5 8.8h0m2.3 2.3h0m36.1 33.1h0m1-28.1h0m.5-5.3h0m1 8.1h0m.9 3.8h0m1.4-6.8h0m.9 18.2h0m.4-51.8h0m.9 34.2h0m1-3.5h0m.4 4.4h0m.5 37.5h0m.8-52.6h0m2.4 14.3h0m.9-2.1h0m1.2 18.3h0m.3-15.8h0m.9-14.1h0m.3-.7h0m.6 5.6h0m.4 9.9h0m.4 4.8h0m1.5-21.1h0m.5 19.9h0m1.3-24.4h0m.7 6.3h0m.7-.9h0m.8 5.1h0m.4 7.6h0m1.2-6.5h0m.4-16h0m.6 25h0m.4 5.5h0m1-.1h0m1.3-26h0m.4 12h0m.9 6.8h0m.9-2.6h0m.9 11.3h0m.3-10.4h0m.8 20.5h0m1-31.9h0m1.7 12.1h0m1.7 0h0m.3-13h0m.4 5.6h0m1.4-9.4h0m.4 13.3h0m.4-1.9h0m1 22.3h0m1.4-36.2h0m.3 32.5h0m1.3-19.7h0m.8 23.9h0m.5 2h0m.4-22.5h0m.5 7.9h0m.6 7.2h0m.7 7.7h0m1.7 0h0m.9-.1h0m.7-6.7h0m.4-4.1h0m1.2-10.6h0m2.3 16.2h0m.9 8.2h0m1.2 8.3h0m.6-17.7h0m1.1-7.2h0m1.1 49.8h0m.8-30.6h0m1 11.7h0m.7-18.5h0m.7-2.1h0m.6 16.9h0m1 15.4h0m.8-29.9h0m.5 6.5h0m.4 4.1h0m.6-6h0m.7 16.7h0m.6-32.9h0m.6 12.1h0m.8 1.1h0m.9 5.2h0m1.2-17.6h0m.4 7.3h0m.9 10.8h0m.4 9h0m1.4-18.1h0m.6 12.5h0m.7 10.7h0m.5-8.2h0m.9-30.7h0m.8 10.9h0m.6 24.6h0m.6-10.3h0m.6 4.6h0m1-5h0m2.3-22.9h0m.5 13.1h0m1-2h0m.8-.6h0m.3-29.9h0m.5 6.9h0m.3 16.9h0m.3 11h0m.7-4.4h0m2.7-13.8h0m.5 18.2h0m.8-25.2h0m2.3 20.2h0m.3-32.5h0m.7 41.2h0m.9-33.1h0m.9 1h0m3.5-13.5h0m.7 14.3h0m.3-.6h0m1.2-2.7h0m.7-.7h0m.6 4.3h0m.9-4.4h0m3.3 12h0m2-16.3h0m.8 28.6h0m.6-12.5h0m.4 22h0m.8-3.5h0m1.6-35.4h0m.8 31.6h0m.6-16.9h0m.5 16h0m2.3 19.4h0m.8-4.4h0m.3-8h0m.8-8.1h0m1 23.6h0m.9-33.2h0m.4-.7h0m.8-9.4h0m1.5 6.4h0m.7 11.3h0m.6-3h0m.6-2.9h0m.9 1.1h0m.6-13.7h0m.6 26.6h0m1.2-9.9h0m.5 18.9h0m.3 .4h0m.5-25.4h0m1.8 24h0m1.3 18.7h0m1-50.1h0m.9 12.3h0m1.3 12.4h0m.9-29.2h0m.8 26.4h0m.9 8.5h0m.9-23.4h0m.4 33.3h0m.6-31.4h0m1.8 32.2h0m.3-10h0m.5-15.4h0m.4-12.4h0m2.1 13.1h0m.7-10.1h0m.5 9h0m.6 6.7h0m.4 2h0m.3-11.9h0m.4 3.1h0m.7-2h0m.6 18.3h0m.5-34.5h0m.7 35.9h0m.5-23.3h0m.9 19.8h0m.4-1.9h0m1-6.6h0m.7-4.7h0m.5 2.4h0m.4 14.7h0m1-17.4h0m.5-1.1h0m.7 5h0m.6-23.8h0m.4 22.1h0m.4-15.8h0m.7-.4h0m.8 23.3h0m.8 8.1h0m.7-30.5h0m.5 17h0m.8 16.7h0m.9-49.1h0m1.9 36.9h0m1.5-17.5h0m.7 4.2h0m1.5 10.9h0m.4-1.3h0m.8 14.5h0m1.4-29.9h0m.9 7.2h0m1 11.1h0m.4-8.3h0m.8-25.1h0m.6 12.1h0m.4-4.5h0m.6 18.7h0m2.3 4.2h0m.9 8.8h0m1.2-34.5h0m.4 18.5h0m.5-12.6h0m1-11.6h0m1 17.3h0m.5-5.7h0m1.2 24.9h0m.6-6.1h0m.6-8.5h0m.7-21.3h0m.5 19.6h0m.7 3.4h0m.4 0h0m.4 .3h0m.7 .5h0m.4-16.3h0m.4 28h0m1-3.8h0m.4-32.4h0m.8 4.6h0m.7 1.9h0m.4 10.3h0m.8-8.7h0m.8 18.7h0m.7-2.2h0m.4 .7h0m.9 2.1h0m2.1 10.7h0m.6-31.7h0m1.6 4.3h0m.5 9.2h0m.7-23.9h0m.4 16.3h0m1 5.8h0m.8-3h0m.5 3.8h0m.8-32.7h0m1 10.8h0m1.3 32.8h0m.9-44.2h0m.7 20.5h0m.7-5.9h0m1.2-4.2h0m.4 43.7h0m.8-48.9h0m.9 18.6h0m.7 3.7h0m.6-8.5h0m1 2h0m.7-.1h0m.6 1.6h0m.8-9.5h0m1 4.6h0m2.2 2h0m.3 8.9h0m1.8 2.2h0m1-49.8h0m.4 24.2h0m.4 19.7h0m1.2-17.6h0m.9 8.1h0m.5-14.1h0m.8-14.3h0m1.3 25.7h0m.4-9.7h0m.7-3.3h0m1.4 17.6h0m.7-8.2h0m1 26.1h0m.9-39.4h0m.5 11h0m1 20.3h0m.8-13.4h0m1-22.3h0m2.7 32.3h0m1.8-40.3h0m.9 3h0m.9 25.2h0m.4 19.9h0m1-28h0m.7 5h0m.5 6.9h0m1-2.6h0m.7 14.4h0m1-19.1h0m.5-.6h0m1.5-11.7h0m1.4 26.3h0m1.1-6.4h0m1.4 5.5h0m1.4-4.9h0m.7 6.9h0m.5-21.9h0m1 14.2h0m.8 10.8h0m1.5-1.6h0m.7 9.8h0m.4-13.7h0m.8-.5h0m1.4 13.5h0m.7-24h0m.4-.2h0m.8 5.8h0m.3 7.3h0m.9 11.4h0m.5-29.5h0m.3 4.2h0m.7 24.4h0m.9-38.9h0m.7 24.4h0m.4-16.4h0m.9 3.5h0m1.3-5.7h0m.9 21.2h0m3.5 5.2h0m1.3-21.9h0m.4 6.7h0m.7-5.3h0m1 13.5h0m.7-22.5h0m1.3 16.6h0m.9 14.3h0m.6-24.3h0m1.3 3.6h0m.6 14.9h0m.5 12h0m1.3-13.9h0m.4-7.3h0m.6 .7h0m1-5h0m.9 16.8h0m.6-8.4h0m.8-19h0m.8 15.6h0m.9-2h0m.7 5.9h0m1.2 9.7h0m.8-14.9h0m1.3-29.1h0m.5 7.6h0m.7 8.9h0m.4 1.1h0m1.3 17.6h0m1-7.3h0m.8 10.1h0m.8-17.1h0m2.1-2.1h0m.4 0h0m.9 8.7h0m1.8 7.7h0m.4-1.6h0m.7-4.6h0m.6 13.7h0m1-17.5h0m.8-10.3h0m1.7 15.8h0m.7-4.8h0m.9-6.2h0m.9-4h0m.7 3.8h0m.7 1.3h0m.9-3.5h0m.4 2.2h0m1.4 3.5h0m.9-5.9h0m.6-20.1h0m.7 19.1h0m1 15.4h0m1.6-24.6h0m.9 20.1h0m1.6 11.1h0m1.7-34.5h0m1.4 26.4h0m.8 21.7h0m.4-28.4h0m.5-36.8h0m3 27.7h0m.4 6.6h0m.3 8.4h0m.8 5.5h0m.8-10.8h0m.3-17.9h0m1 33.6h0m.6-20.1h0m.4 28.2h0m.5-50.5h0m1.7 50.5h0m.8-29h0m.9 14.3h0m1 23.5h0m.8-26.2h0m.9 .8h0m.6 .3h0m.6-1.2h0m.6-9.2h0m.7-13.4h0m.5 29.1h0m.4-9.6h0m.4-6.1h0m.7 3.4h0m.8 26.5h0m1-50.1h0m.9 3h0m.7-10.5h0m.5 49.6h0m1.9 7.4h0m.7-18.3h0m.5-20.5h0m.3 31.2h0m.3-8.7h0m1 2.1h0m.8-8.3h0m.4 7.8h0m.7-27.5h0m.5-1.5h0m.3 11.8h0m.9 17.8h0m.7 8.7h0m1 6.8h0m.9-29.9h0m.8 1.9h0m.7 17.5h0m.9 7h0m.4-20.7h0m.9 30.9h0m.8-14.8h0m.9-13.2h0m.4 14.9h0m1-8.2h0m.5-15.1h0m.5 3.4h0m1.1-5.7h0m1.7 5.8h0m.6 33h0m1-39.8h0m2.4 24.2h0m.5-1.5h0m.6 6.8h0m.3-12h0m1.4 5.4h0m.3-5.5h0m1.1 21.3h0m.7-41.8h0m.3 50.4h0m1-33.7h0m.6 8.8h0m.5-7.8h0m.4 6.1h0m.5-29.5h0m.8 4.6h0m.9 15h0m.4-14.9h0m.8 30.1h0m2.2-.4h0m.6-14.6h0m.4 25.9h0m.4-30.8h0m.3 13.4h0m.7-14.6h0m.8 20.4h0m.9 4.6h0m.5-20.1h0m1 2.2h0m1.9 1.5h0m.5-13h0m.9 14.1h0m1-11h0m.3 18.4h0m.7-15.8h0m1.1 7h0m.7-19.6h0m.9 30.7h0m1-11.8h0m1.7 13.3h0m.3-7.1h0m.4 1.8h0m1.1-15.1h0m.4-23.9h0m1.7 30.3h0m1.2-3.2h0m1.4 26.7h0m.5-7.3h0m.4-19.5h0m.8-14h0m.3 22.7h0m.5-12.6h0m.3 30.2h0m.8-44.5h0m.7 1.2h0m.5 7h0m1-.2h0m.9 21.2h0m.6-2.9h0m.9-8.4h0m.5-.9h0m1.1-14.5h0m.8-2.7h0m.7 13.8h0m1.1-15h0m.5-9.2h0m.9 11.2h0m.8 28.5h0m.4-11.2h0m.9-13.8h0m.5 7.1h0m1 14.6h0m.5 8.7h0m.9-21.4h0m1.3 .5h0m1.8-5.8h0m.9-3.5h0m1.5 33.2h0m.3-27.5h0m1.1 26h0m.7-28.6h0m.5 15.3h0m1.3-1h0m.6-20.1h0m.8 39.6h0m1.1 18.1h0m.3-33.8h0m.8 17.5h0m.4-1.1h0m1.5-18.6h0m.4 39.2h0m.9-43.7h0m.5 12.5h0m.9-2.6h0m.6-8.2h0m1-9.3h0m.6 22.1h0m.4 8.4h0m.5-26.8h0m.8 22h0m1.1 17.6h0m1.7-8.9h0m.7 5h0m1.1-16.8h0m1.1-9.2h0m.4-8.6h0m.6 13.5h0m.3 7.4h0m.5-11.7h0m.4 11.7h0m.6-3.5h0m.8-14.2h0m.6-3.8h0m.9-9.4h0m.8 33.6h0m.4-7.9h0m.7-.2h0m.6 10.7h0m.4-1.4h0m.6-17.9h0m.7 54h0m.6-45.8h0m.6 8.8h0m1.6-34.2h0m.6 9h0m.6 12h0m.5-24.1h0m.6 12.5h0m.7 7.1h0m.8 18.8h0m1.6-5.7h0m.5-34.1h0m.6 18.3h0m.7-16.5h0m1.4 8.5h0m.4-6.7h0m.6 9h0m.8-8.4h0m.9 3.9h0m1 13.1h0m.8-2.8h0m.6-48.2h0m1 7.2h0m.8 33h0m.6-7.8h0m.4 5h0m1.5 27.2h0m1-44.4h0m.6-9h0m.8 19h0m.7-8.7h0m.4 30.7h0m.6-27.3h0m.9 18.7h0m.9 13.8h0m.7-2.4h0m.7-31.7h0m.3 11.3h0m1.5-7.4h0m1 30.2h0m.7-29.7h0m.8-13.1h0m.5 16.4h0m.6 .8h0m.7 24.6h0m1.2-17.6h0m6.1 45.2h0m.9 12.5h0m1.4-.7h0m.9-22.8h0m.3 31.3h0m.8-23.4h0m.8 49.8h0m.3-41.1h0m.5-7h0m.4 18.5h0m.5-8.3h0m1.5 1.8h0m.4-8.6h0m1.1 20.8h0m1-6.5h0m1.2-24.8h0m19 .5h0m2.1-.7h0m1.6-16.2h0m.9-8.6h0m.8-8.7h0m.6-2.9h0m.7 1.4h0m.8 21.5h0m1.4-37.4h0m1.4-5.8h0m.7 12.2h0m1.2-16.7h0m.6 20.9h0m.8-2.9h0m.7-21h0m.8 22.9h0m1.4 5.2h0m.9-46.6h0m.9 38.5h0m.4-8.7h0m1-18h0m.9 29.3h0m.5-8h0m.9 14.4h0m.6 5.1h0m.3-34.6h0m.7 22.9h0m.5-14.6h0m.6-2.4h0m.7 5.6h0m1 1.3h0m.8 43.5h0m1.4 12.4h0m.4-41h0m.4 16.3h0m.7-4.2h0m1.5-11.5h0m.5 25.8h0m2.9-23.6h0m.9 25.2h0m.3-26.9h0m1.5 32.6h0m1.3 .8h0m.8-11.2h0" stroke="#000018" stroke-width="6" stroke-linecap="round" fill="none"/>
<path d="M966 2221.2h0m1.6-27.8h0m2.6 20.5h0m2.4-17.2h0m3.3-13.8h0m3.1 37.3h0m.6-30.3h0m1.1 4h0m.5 0h0m7.8-7.9h0m.4 17.4h0m1.9-18.5h0m.4 15.3h0m1.9-1.7h0m2.3 2.3h0m37.6-.3h0m1.9 11.9h0m1.4-6.8h0m.9 18.2h0m1.3-17.6h0m1-3.5h0m4.1 3.6h0m2.4 .4h0m1.2-14.8h0m.6 5.6h0m2.8 13.5h0m1.3-24.4h0m2.2 10.5h0m.4 7.6h0m1.6-22.5h0m2 30.4h0m1.3-26h0m.4 12h0m.9 6.8h0m1.8 8.7h0m.3-10.4h0m.8 20.5h0m6.5-36.6h0m4.8 10.3h0m.8 23.9h0m.5 2h0m.4-22.5h0m.5 7.9h0m1.3 14.9h0m1.7 0h0m1.6-6.8h0m3.9 1.5h0m.9 8.2h0m1.2 8.3h0m2.8 24.9h0m7.8-15.8h0m.6-32.9h0m1.4 13.2h0m3.4 5.7h0m1.8-9.1h0m1.8 15h0m1.7-19.8h0m6.6 2.1h0m.8-.6h0m.3-29.9h0m1.8 30.4h0m4-20.8h0m3.3 28.9h0m1.8-32.1h0m3.5-13.5h0m.7 14.3h0m3.7-4.1h0m7.9 30.3h0m1.6-35.4h0m.8 31.6h0m1.1-.9h0m5.2 22.5h0m1.3-33.9h0m.8-9.4h0m2.8 14.7h0m.6-2.9h0m.9 1.1h0m1.2 12.9h0m9.7-27.9h0m2.6 11.5h0m1 1.9h0m1.8 32.2h0m5.1-19.1h0m.4 2h0m.7-8.8h0m1.8-18.2h0m.7 35.9h0m4-14.3h0m.4 14.7h0m1-17.4h0m.5-1.1h0m1.3-18.8h0m.8 6.3h0m.7-.4h0m.8 23.3h0m1.5-22.4h0m.5 17h0m3.6 4.5h0m4.9 10.8h0m2.3-22.7h0m1 11.1h0m.4-8.3h0m7.2-1.8h0m.5-12.6h0m1-11.6h0m4.6 .6h0m.5 19.6h0m1.5 3.7h0m1.5 12.2h0m2.9-29.7h0m.4 10.3h0m.8-8.7h0m1.5 16.5h0m6.1-4.7h0m2.1-1.8h0m.8-3h0m2.3-18.1h0m2.9 9.1h0m2.3 33.6h0m2.4-26.6h0m3.7-14.5h0m5.3 17.7h0m1-49.8h0m.8 43.9h0m1.2-17.6h0m.9 8.1h0m.5-14.1h0m4.6 16h0m4.1 9.8h0m4.5-3.4h0m1.8-40.3h0m1.8 28.2h0m.4 19.9h0m3.9-4.3h0m1.5-19.7h0m6.8 8.8h0m1.2-15h0m1 14.2h0m4.2 4.8h0m1.4 13.5h0m.7-24h0m.4-.2h0m2.5-5h0m.3 4.2h0m1.6-14.5h0m9 10.3h0m4.1 9h0m1.5-10h0m4.1 9.3h0m1.6-4.3h0m1.5 8.4h0m.8-19h0m.8 15.6h0m6.1-13.9h0m2.7 11.4h0m1.6-7h0m2.1-2.1h0m1.3 8.7h0m2.2 6.1h0m1.3 9.1h0m1.8-27.8h0m1.7 15.8h0m.7-4.8h0m2.5-6.4h0m1.6-2.2h0m.4 2.2h0m1.4 3.5h0m2.2-6.9h0m2.6-9.2h0m5.6 23.1h0m1.2-6.7h0m3.5-9.1h0m.7 15h0m.8 5.5h0m.8-10.8h0m1.3 15.7h0m1 8.1h0m3-29h0m.9 14.3h0m1.8-2.7h0m3.4-22.7h0m2 16.8h0m.8 26.5h0m2.6-57.6h0m2.4 57h0m.7-18.3h0m.5-20.5h0m.3 31.2h0m.3-8.7h0m1 2.1h0m1.9-28h0m3.4 43.6h0m3.3-3.5h0m.4-20.7h0m1.7 16.1h0m2.8-21.6h0m.5 3.4h0m2.8 .1h0m.6 33h0m3.9-17.1h0m.6 6.8h0m2-12.1h0m1.1 21.3h0m.7-41.8h0m4.1-1.1h0m1.3 .1h0m3.6 15.1h0m1.1 8.5h0m.7-14.6h0m1.7 25h0m1.5-17.9h0m4.3-8.4h0m.3 18.4h0m4.4-9.5h0m1.7 13.3h0m.7-5.3h0m1.5-39h0m4.3 53.8h0m2.5-30.7h0m1.8-13.1h0m1.5 6.8h0m1.5 18.3h0m4-12.7h0m2.5-13h0m2.6 10.6h0m1 14.6h0m1.4-12.7h0m3.1-5.3h0m2.4 29.7h0m.3-27.5h0m1.8-2.6h0m.5 15.3h0m2.7 18.5h0m2.2 1.8h0m.4-1.1h0m1.5-18.6h0m.4 39.2h0m4.9-20.8h0m4.1 3.9h0m.7 5h0m2.6-34.6h0m1.4 9.2h0m1.8-6h0m4 23h0m.4-1.4h0m.6-17.9h0m1.3 8.2h0m.6 8.8h0m1.6-34.2h0m1.2 21h0m.5-24.1h0m2.1 38.4h0m1.6-5.7h0m.5-34.1h0m1.3 1.8h0m4.1 6.3h0m5.2-.5h0m1.5 27.2h0m1-44.4h0m1.4 10h0m.7-8.7h0m.4 30.7h0m1.5-8.6h0m2.3-20.3h0m3.5 4.4h0m1.3 3.3h0m10.9 64.8h0m.9-22.8h0m5.1 21.6h0m22.7-18.6h0m2.1-.7h0m1.6-16.2h0m1.7-17.3h0m.6-2.9h0m1.5 22.9h0m1.4-37.4h0m1.4-5.8h0m.7 12.2h0m1.2-16.7h0m1.4 18h0m1.5 1.9h0m1.4 5.2h0m1.8-8.1h0m5.3 2.4h0m.5-14.6h0m2.3 4.5h0m2.2 55.9h0m.4-41h0m3.1 26.4h0m5.6 7.3h0" stroke="#00008c" stroke-width="3.8" stroke-linecap="round" fill="none"/>
<path d="M966.6 2196.8h0m2 3.6h0m.4-5.3h0m1.8 3.8h0m1.3-1.9h0m4.5 22.5h0m.3-22.7h0m.9 7.6h0m3.9-15.3h0m1.6 1.2h0m.4-14.1h0m.5 13.4h0m1.5 2.6h0m1.7-6.4h0m3 .1h0m.4 8.7h0m1.3-4.9h0m39.9 44.2h0m1-28.1h0m1.5 2.8h0m5.9-1.5h0m.5 37.5h0m.8-52.6h0m3.3 12.2h0m1.2 18.3h0m2.9-10.3h0m4.7-20.2h0m3.4 15.2h0m.4 5.5h0m4.5-9.9h0m3-10.5h0m1.7 12.1h0m1.7 0h0m.3-13h0m2.2 9.5h0m.4-1.9h0m6.8 17.4h0m3.3 7.6h0m7.3-6.4h0m3 12h0m1.7-6.8h0m.7-2.1h0m1.6 32.3h0m1.7-19.3h0m.6-6h0m1.9-4.1h0m2.9-11.3h0m.4 7.3h0m1.3 19.8h0m2.7 5.1h0m1.4-38.9h0m1.4 35.5h0m.6-10.3h0m.6 4.6h0m1-5h0m2.3-22.9h0m3.1-12.5h0m.3 16.9h0m4.2 11h0m3.1-5h0m.3-32.5h0m1.6 8.1h0m5.4 1.2h0m1.9-3.4h0m.6 4.3h0m4.2 7.6h0m2.8 12.3h0m.6-12.5h0m4.2-2.2h0m2.8 35.4h0m.8-4.4h0m.3-8h0m.8-8.1h0m1.9-9.6h0m2.7-3.7h0m.7 11.3h0m2.7-18.5h0m2.3 35.6h0m.3 .4h0m.5-25.4h0m1.8 24h0m1.3 18.7h0m1-50.1h0m.9 12.3h0m1.3 12.4h0m1.7-2.8h0m2.2 18.4h0m2.7-9.2h0m.9-27.8h0m2.8 3h0m.5 9h0m2.4-2.1h0m.6 18.3h0m1.7-21.9h0m.9 19.8h0m.4-1.9h0m1.7-11.3h0m4.1 1.9h0m2.7 15.2h0m7-22.3h0m1.9 9.6h0m2.2-15.4h0m3.1-15.1h0m1 7.6h0m2.9 22.9h0m.9 8.8h0m4.1-22.9h0m.5-5.7h0m1.8 18.8h0m2.5-6.8h0m.4 0h0m3.3-23.7h0m.8 4.6h0m2.7 22.2h0m1.1-1.5h0m.9 2.1h0m5.5-31.4h0m.4 16.3h0m3.1-26.1h0m3.2-.6h0m3.8 5.2h0m.9 18.6h0m1.3-4.8h0m2.3 3.5h0m1.8-4.9h0m2.2 2h0m.3 8.9h0m3.2-23.4h0m5.1 7.5h0m.4-9.7h0m3.8 32.2h0m3.2-21.5h0m1-22.3h0m5.4-5h0m2.3 17.1h0m.7 5h0m.5 6.9h0m1-2.6h0m1.7-4.7h0m2-12.3h0m6 27.4h0m3.8 1.5h0m.7 9.8h0m.4-13.7h0m4.1-5.4h0m1.2 18.7h0m1.5-.9h0m2-30.9h0m.9 3.5h0m1.3-5.7h0m4.4 26.4h0m1.7-15.2h0m2.4-14.3h0m4.7 25.1h0m.5 12h0m2.3-20.5h0m1.9 11.8h0m3.1-13.8h0m.7 5.9h0m1.2 9.7h0m.8-14.9h0m1.3-29.1h0m.5 7.6h0m1.1 10h0m1.3 17.6h0m5.1-16.4h0m2.7 16.4h0m2.7-10h0m4.1-5.5h0m.9-4h0m1.4 5.1h0m3.6-3.7h0m.6-20.1h0m1.7 34.5h0m2.5-4.5h0m1.6 11.1h0m1.7-34.5h0m2.2 48.1h0m.9-65.2h0m5.6 19.5h0m1.6 13.5h0m.9-22.3h0m4.4 59.3h0m1.7-25.4h0m.6 .3h0m.6-1.2h0m.6-9.2h0m1.6 6.1h0m.4-6.1h0m4.6 21.9h0m5.9-7.3h0m1.5-17.2h0m.9 17.8h0m.7 8.7h0m5.6 13.5h0m1.7-28h0m1.4 6.7h0m2.1-17.4h0m5.7 23.2h0m1.4-6.7h0m1.4 5.4h0m2.4 24.4h0m1-33.7h0m.6 8.8h0m.5-7.8h0m.9-23.4h0m1.7 19.6h0m1.2 15.2h0m2.2-.4h0m1 11.3h0m.4-30.8h0m1.8 19.2h0m1.4-15.5h0m3.4-9.3h0m.9 14.1h0m2-8.4h0m1.1 7h0m1.6 11.1h0m6.6-12.5h0m1.2-3.2h0m1.9 19.4h0m.4-19.5h0m.8-14h0m.3 22.7h0m1.6-26.9h0m3.1 29.2h0m2-12.2h0m3.7-18.4h0m.5-9.2h0m2.1 28.5h0m.9-13.8h0m2 30.4h0m4.9-30.2h0m2.9 31.7h0m2.5-14.3h0m2.5 37.6h0m.3-33.8h0m5.4 3.2h0m2.2 4.6h0m.9-18.4h0m.8 22h0m1.1 17.6h0m3.5-20.7h0m2.1-4.3h0m1.2 7.4h0m2-21.5h0m.9-9.4h0m.8 33.6h0m1.1-8.1h0m2.3 45.4h0m3.4-62.2h0m1.7 .4h0m.7 7.1h0m3.5-2.7h0m2.1-8h0m.4-6.7h0m.6 9h0m.8-8.4h0m1.9 17h0m.8-2.8h0m.6-48.2h0m1 7.2h0m1.4 25.2h0m6-7.5h0m2.5 30.1h0m3.5 2.4h0m1.5-42.8h0m1.1 17.2h0m.7 24.6h0m1.2-17.6h0m6.1 45.2h0m.9 12.5h0m2.6 7.8h0m1.6 26.4h0m.8-48.1h0m2.8 3.4h0m1.1 20.8h0m1-6.5h0m24.8-49.8h0m2.1-10.2h0m10.7-47.7h0m1.3 29.8h0m1.9 11.3h0m1.4 6.4h0m.6 5.1h0m.3-34.6h0m1.8 5.9h0m.7 5.6h0m1.8 44.8h0m2.2-12.3h0m2.2-15.7h0m4.3 27.4h0m.3-26.9h0m2.8 33.4h0" stroke="#0018b8" stroke-width="3.8" stroke-linecap="round" fill="none"/>
<path d="M969.6 2190.9h0m4.4 3.1h0m.9-4.9h0m.7-13.6h0m11.2 13.6h0m51.3-17.1h0m9.3 20.6h0m1.3 14.8h0m1.9-16.3h0m2.5 1.8h0m3.1 5.3h0m13-1.2h0m3.2 24.3h0m1.4-36.2h0m.3 32.5h0m8.5-4.4h0m1.2-10.6h0m6.1 7.8h0m2.9 30.9h0m2-3.7h0m1.8-14.5h0m.5 6.5h0m4.6 .3h0m4.9 3.9h0m8.5-13.2h0m3.2 2.3h0m3.4-18.2h0m12.1-12.7h0m7.5-5.1h0m1.8 38.1h0m18.3-13.1h0m10.2 16.9h0m4.5-14.7h0m2.5 .7h0m2.5-4.3h0m5.7 8.8h0m3.8-1.1h0m5.7 16.7h0m.9-49.1h0m3.4 19.4h0m2.2 15.1h0m6.3-19.7h0m1 14.2h0m4.4-21.5h0m4.6 30.8h0m1.2-14.6h0m3.4 2.5h0m.4-16.3h0m1.4 24.2h0m8 5.7h0m.6-31.7h0m1.6 4.3h0m3.9 8.2h0m3.1 10.9h0m2.3-29.6h0m1.2-4.2h0m4.4 10.6h0m.7-.1h0m11.9-34h0m2.4 12.7h0m2.1 9.4h0m1.9-13.3h0m.5 11h0m17.8 15.3h0m1.1-6.4h0m1.4 5.5h0m4.4 5.1h0m7-3.6h0m4-4h0m3.5 2.6h0m5.9-15.3h0m1 13.5h0m2.9 8.4h0m1.9-20.7h0m2.4 13h0m14.7 1h0m7.1-9h0m26.2-8.2h0m6.4 26.9h0m7.4-11h0m3.3-35.9h0m.9 3h0m6.7 24h0m1.6-21.2h0m3.8 15.2h0m.8 1.9h0m.7 17.5h0m4.3 4.1h0m6.4-26.6h0m10.1 20.7h0m13.1-7.2h0m5.2-19.9h0m3.9 25.1h0m1.5-13.3h0m7.5 29.4h0m2-36.3h0m3.4 9.7h0m1.6-15.4h0m.8-2.7h0m4 29.3h0m5.5-15.5h0m8.7-12h0m6.2 17.2h0m.5 12.5h0m1.5-10.8h0m1-9.3h0m8 13.4h0m1.3 12.3h0m1.5-3.5h0m3.5-1.7h0m21.3-20.1h0m4.1-29h0m4.3 46.2h0m1.7-22.8h0m1.5-7.4h0m15.9 53.7h0m1.1 8.7h0m.9 11.5h0m.5-8.3h0m5.2-17.3h0m31.8-40.5h0m1.5-23.9h0m5.4-6.7h0m1.4 21.3h0m9 24.7h0m4.9-9.3h0m4.8 20.5h0" stroke="#1048d0" stroke-width="3.8" stroke-linecap="round" fill="none"/>
<path d="M963 2191.1h6m-5.4-29.1h6m-3 47.4h6m-5.4-26.2h6m-3.1 22.5h6m-4.2 11.4h6m-2.8-2.4h6m-5.4-35.1h6m-5.7 2.8h6m-3.8 6h6m-4.5 7.7h6m-3.7-12.6h6m-4.2 1.8h6m-5.4 26h6m-5.2 9.5h6m-5.2-34.5h6m-5.6 14.7h6m-3.3-3.3h6m-5.5-1.1h6m-3.6 29.5h6m-5.1-26.5h6m30.1 6.9h6m-5.5 15.1h6m-5.5-9.9h6m-3.6 2.1h6m-1.4-4h6m-5.6 5.6h6m-3.4-6.5h6m-5.4-5.2h6m-4.6-11.9h6m-1.9 12.2h6m-5.2 8.1h6m-3.8 1.1h6m-4.3-7.2h6m-5.2-11.2h6m-.3-2.9h6m1.4-11.8h6m-5.2 14.2h6m-5.3-3.5h6m-1.1 18.2h6m-5.1 4.1h6m-2.1-15.6h6m-3.4 22.4h6m-4.9-6.4h6m-4.8-9.6h6m-1.6 26.3h6m-5.4-1.4h6m-4.4-3.5h6m-3.6 7.5h6m-4-10.9h6m-5 3.8h6m-4.7 9.8h6m-5.6 12h6m-5.4-24.8h6m-5.3-5.9h6m-5.4 26.2h6m-3.7-37.7h6m-4.4 15.3h6m-4.7 13.4h6m-5.5 7.9h6m-2.4-13.7h6m-3-3.4h6m-4.6-12.5h6m-5.1 15.9h6m-5.4-19h6m-3.4 2.2h6m-3.4 18.5h6m-5.4-10.4h6m-5.1-2.2h6m-5.6-15.4h6m-5.5 13.9h6m-1.4-8.6h6m-1.2-14.7h6m-4.4 12.7h6m-5.4-14.8h6m-5.3 13.5h6m-4.5-29.6h6m-3.6 17.7h6m-1.3 25.2h6m-4.4-25.8h6m-5.2 8.6h6m-5.2 8.2h6m-5.4-4.2h6m-4.7 2.6h6m-5.1 3.9h6m-5.4 15.4h6m-4.9-16.6h6m-4.2 6.7h6m3.3-5.1h6m-5.7 7.7h6m-4.8-9.5h6m-5.5 6.9h6m-3.1 9.7h6m-2.9-19.6h6m-3.4-1.8h6m-2.9-4.4h6m-5.1 29.3h6m-5.1-11.5h6m-2.6-13.7h6m-5.7 22.7h6m-4.9-28.6h6m-5.4 34h6m-.4-3.9h6m-.9-24.7h6m-4 6.9h6m-5.2-8.2h6m-5.1 .1h6m-4.9 12.4h6m-5.2 4.9h6m-4.5-7.8h6m-4.3 26.3h6m-2.9-26.6h6m-5.1 2h6m-5 5h6m-5.6-3.9h6m-4.6-9h6m-5 4.6h6m-5.1-12.1h6m-2.1 3.1h6m-4.5-10.5h6m-4.1 29h6m-4.6 6.3h6m-1.6-8.4h6m-5.6 20.4h6m-3.1-22.5h6m-5.6-22.4h6m-3.3 17.8h6m-4.6-13.2h6m-3.8-5h6m-4.4 13h6m-5.5 15.7h6m-5.6-14.7h6m-5.3-5h6m-2.9-17.2h6m-2.1 8.4h6m-4.6-9.3h6m-5.5 10.6h6m-1.6 7.4h6m-.7-18.7h6m-4.2-15.4h6m-3.9 15.4h6m-5.6 5.4h6m-5.2-17.7h6m-5.1 20.2h6m-5.5-5.6h6m-4.3-4.5h6m-3.1-6h6m-4.3-4h6m-5.1 26.1h6m-4.5-14.9h6m-4.7-4.7h6m-4.6 17.6h6m-4.7-2.7h6m-4.5-11.6h6m-4.7-.5h6m-5.6 17.3h6m-4.7 .4h6m-3.8-7.2h6m-2.8 24.4h6m8-14.5h6m-1.5-5.9h6m-5.3-15.4h6m-3.1 11h6m-4.7 2.8h6m-3.5 10.2h6m-3.3-18.7h6m-5.5 22.7h6m-3.9-18h6m-4.4-3.7h6m-4.1 7.6h6m-5.6-5.4h6m-5.1 1.7h6m-2.6-11.3h6m-5 52.5h6m-3.7-35.9h6m-4.3-2.3h6m-5.3-1h6m-4-17.2h6m-4.2 14.4h6m-4.9-5.4h6m-5.3 .8h6m-5.4-28.7h6m3.5 42.2h6m-5-26h6m-5.2-.2h6m-3.6 37.6h6m-4.2-21h6m-5.3-24.9h6m-4 26h6m-5.3 2.3h6m-5.3-13.3h6m-1.2-6h6m-5.1 24.5h6m-5.1-17.9h6m-5.3-8.4h6m-4.7 27.8h6m-3-26.5h6m-2.5 6.9h6m-1.8-10.3h6m-5.6 12h6m-5.5 6.6h6m-3.5-19h6m-5.1 34.6h6m-.8-14.1h6m-1.9 9.1h6m-5.4-3.4h6m-4.8-10.2h6m-4.1-7.7h6m-4.8 15.1h6m-5.4-8.4h6m-3.1 1h6m-5.5-18.7h6m-5.7 21.2h6m-5.1-8.4h6m-4.3 8.3h6m-2.7-6.6h6m-4.7-4.2h6m-5.2 13.3h6m-2.7 13.5h6m-5.6-10h6m.4-3h6m-5.5 18.2h6m-2.7-20.1h6m-5.6 16.5h6m-4-4.9h6m-4.9-20.9h6m-5.1 22.6h6m-4.3-27.3h6m-1.2 12.3h6m-.9 23h6m-5-.8h6m-5.5 5.2h6m-5.1-25.9h6m-3.5 12.2h6m-5.4 4.8h6m-4.4-25.3h6m-5 13.3h6m-4.3-23.9h6m-4.2 20.6h6m-5.6-4.6h6m-4.3-7h6m-3.4 13.7h6m-2.4 3.1h6m-4.8-18.9h6m-2.1-18.6h6m-5.5-14.5h6m-4.6 33.4h6m-5.3 10.8h6m-4.4-15.7h6m-5.1 1h6m-3.4-4.9h6m-1.3 34h6m-2.5-7.6h6m-4.9 .4h6m-1.7-7.5h6m-5.3 7h6m-4.9-1.7h6m-5.6 4.6h6m-5.2-28.5h6m-3.5 26.9h6m-4.5 4.3h6m-4.4-4.7h6m-3.2 14.5h6m-4.3-10.7h6m-5.3-1h6m-3.4 12.5h6m-5.4-27.7h6m-5.7 .4h6m-5.5-3.4h6m-2.7 16h6m-5.6 21.2h6m-2.9-15.1h6m-5.3-12.3h6m-2.6 6.7h6m-4.9 3.8h6m-4.7 6.8h6m-4.7-12.9h6m-5.4-23.9h6m-5.5 32h6m-5.5-7.4h6m-5.4 5.3h6m-2.9-10.4h6m-5.2-16.1h6m-5.1 16h6m-5-2.3h6m-3.6-6.6h6m-1.7 1.7h6m-3.5-24.7h6m-4.5-14.4h6m-4.4 34h6m-2.5-5.1h6m-4 17h6m-3.9-2.7h6m-5.6-23.9h6m1 54.3h6m-5.3 22.3h6m-4.4-17.1h6m-5.7 7.7h6m-4.1 15h6m-5.5-18.7h6m-5.1-1.2h6m-4.5-10.2h6m-3.5 39.4h6m-4.8-19.2h6m13.9-14h6m-5.2-19.6h6m-1.7-28.1h6m-5.3 17.1h6m-2.4-36.4h6m-4.9 18.3h6m-2.3-3.3h6m-4.6 9.2h6m-5.1-6.4h6m-5.1-25h6m-3.7 13.7h6m-3.7-1.4h6m-5.3-3h6m-3.6 27.5h6m-4.4-25h6m-4.6 28.8h6m-4.4-4.4h6m-5 19.4h6m-.8 9.8h6m-3-24h6" stroke="#20e0f0" stroke-width="0.9" fill="none" opacity="0.55"/>
<path d="M995.3 2200.8L1032 2215.9M1543 2175L1549.4 2222.4M1561.3 2227.8L1579.7 2222.4" stroke="#e02020" stroke-width="2" fill="none"/>
<path d="M967.2 2219.2L1620 2188.6" stroke="#ffff00" stroke-width="2.6" stroke-dasharray="8 7" opacity="0.75" fill="none"/>
<path d="M194.2 230.2V223.2M194.2 71.5V78.5M278.3 230.2V223.2M278.3 71.5V78.5M362.5 230.2V223.2M362.5 71.5V78.5M446.6 230.2V223.2M446.6 71.5V78.5M530.8 230.2V223.2M530.8 71.5V78.5M614.9 230.2V223.2M614.9 71.5V78.5M699.1 230.2V223.2M699.1 71.5V78.5M110 92.4H117M783.2 92.4H776.2M110 132.2H117M783.2 132.2H776.2M110 171.7H117M783.2 171.7H776.2M110 211.8H117M783.2 211.8H776.2" stroke="#7a7a7a" stroke-width="1.3" fill="none"/>
<rect x="110" y="71.5" width="673.2" height="158.7" stroke="#7a7a7a" stroke-width="1.6" fill="none"/>
<text x="77.5 94 110.6 127.1" y="259.6" font-size="30.44" fill="#262626" stroke="#262626" stroke-width="0.35" xml:space="preserve">2010</text>
<text x="245.8 262.5 279.2 296" y="259.6" font-size="30.44" fill="#262626" stroke="#262626" stroke-width="0.35" xml:space="preserve">2012</text>
<text x="414.1 430.4 446.7 463.1" y="259.6" font-size="30.44" fill="#262626" stroke="#262626" stroke-width="0.35" xml:space="preserve">2014</text>
<text x="582.4 598.8 615.3 631.8" y="259.6" font-size="30.44" fill="#262626" stroke="#262626" stroke-width="0.35" xml:space="preserve">2016</text>
<text x="750.7 767.2 783.8 800.3" y="259.6" font-size="30.44" fill="#262626" stroke="#262626" stroke-width="0.35" xml:space="preserve">2018</text>
<text x="86.6" y="101.9" font-size="29.49" fill="#262626" stroke="#262626" stroke-width="0.35" xml:space="preserve">0</text>
<text x="59.4 71.3 88.2" y="142.3" font-size="29.65" fill="#262626" stroke="#262626" stroke-width="0.35" xml:space="preserve">-20</text>
<text x="59.4 71.3 88.2" y="181.8" font-size="29.65" fill="#262626" stroke="#262626" stroke-width="0.35" xml:space="preserve">-40</text>
<text x="59.4 71.3 88.2" y="221.9" font-size="29.65" fill="#262626" stroke="#262626" stroke-width="0.35" xml:space="preserve">-60</text>
<text transform="translate(36.1 223.6) rotate(-90)" x="-0.9 21.9 37.9 48.8 57.9 73.9 83.1 107.6" y="0" font-size="30.70" fill="#262626" stroke="#262626" stroke-width="0.35">North/mm</text>
<path d="M194.2 453.5V446.5M194.2 296.1V303.1M278.3 453.5V446.5M278.3 296.1V303.1M362.5 453.5V446.5M362.5 296.1V303.1M446.6 453.5V446.5M446.6 296.1V303.1M530.8 453.5V446.5M530.8 296.1V303.1M614.9 453.5V446.5M614.9 296.1V303.1M699.1 453.5V446.5M699.1 296.1V303.1M110 336.5H117M783.2 336.5H776.2M110 387H117M783.2 387H776.2M110 437.6H117M783.2 437.6H776.2" stroke="#7a7a7a" stroke-width="1.3" fill="none"/>
<rect x="110" y="296.1" width="673.2" height="157.4" stroke="#7a7a7a" stroke-width="1.6" fill="none"/>
<text x="77.5 94 110.6 127.1" y="480.6" font-size="30.44" fill="#262626" stroke="#262626" stroke-width="0.35" xml:space="preserve">2010</text>
<text x="245.8 262.5 279.2 296" y="480.6" font-size="30.44" fill="#262626" stroke="#262626" stroke-width="0.35" xml:space="preserve">2012</text>
<text x="414.1 430.4 446.7 463.1" y="480.6" font-size="30.44" fill="#262626" stroke="#262626" stroke-width="0.35" xml:space="preserve">2014</text>
<text x="582.4 598.8 615.3 631.8" y="480.6" font-size="30.44" fill="#262626" stroke="#262626" stroke-width="0.35" xml:space="preserve">2016</text>
<text x="750.7 767.2 783.8 800.3" y="480.6" font-size="30.44" fill="#262626" stroke="#262626" stroke-width="0.35" xml:space="preserve">2018</text>
<text x="60.7 74.2 87.8" y="346" font-size="30.28" fill="#262626" stroke="#262626" stroke-width="0.35" xml:space="preserve">200</text>
<text x="59.3 73.6 87.8" y="396.5" font-size="30.28" fill="#262626" stroke="#262626" stroke-width="0.35" xml:space="preserve">100</text>
<text x="86.8" y="447.8" font-size="30.28" fill="#262626" stroke="#262626" stroke-width="0.35" xml:space="preserve">0</text>
<text transform="translate(37.2 445.3) rotate(-90)" x="-0.9 18.6 32.9 45.6 54.8 64 88.6" y="0" font-size="30.94" fill="#262626" stroke="#262626" stroke-width="0.35">East/mm</text>
<path d="M194.2 674.1V667.1M194.2 516.8V523.8M278.3 674.1V667.1M278.3 516.8V523.8M362.5 674.1V667.1M362.5 516.8V523.8M446.6 674.1V667.1M446.6 516.8V523.8M530.8 674.1V667.1M530.8 516.8V523.8M614.9 674.1V667.1M614.9 516.8V523.8M699.1 674.1V667.1M699.1 516.8V523.8M110 570.3H117M783.2 570.3H776.2M110 610.1H117M783.2 610.1H776.2M110 649.5H117M783.2 649.5H776.2" stroke="#7a7a7a" stroke-width="1.3" fill="none"/>
<rect x="110" y="516.8" width="673.2" height="157.3" stroke="#7a7a7a" stroke-width="1.6" fill="none"/>
<text x="77.5 94.3 111 127.7" y="705.7" font-size="29.17" fill="#262626" stroke="#262626" stroke-width="0.35" xml:space="preserve">2010</text>
<text x="245.8 262.7 279.6 296.5" y="705.7" font-size="29.17" fill="#262626" stroke="#262626" stroke-width="0.35" xml:space="preserve">2012</text>
<text x="414.1 430.6 447.2 463.7" y="705.7" font-size="29.17" fill="#262626" stroke="#262626" stroke-width="0.35" xml:space="preserve">2014</text>
<text x="582.4 599.1 615.7 632.4" y="705.7" font-size="29.17" fill="#262626" stroke="#262626" stroke-width="0.35" xml:space="preserve">2016</text>
<text x="750.7 767.5 784.2 800.9" y="705.7" font-size="29.17" fill="#262626" stroke="#262626" stroke-width="0.35" xml:space="preserve">2018</text>
<text x="86.8" y="548.3" font-size="30.28" fill="#262626" stroke="#262626" stroke-width="0.35" xml:space="preserve">0</text>
<text x="46.9 57.3 72.8 88.3" y="580" font-size="30.28" fill="#262626" stroke="#262626" stroke-width="0.35" xml:space="preserve">-200</text>
<text x="46.9 57.3 72.8 88.3" y="619.7" font-size="30.28" fill="#262626" stroke="#262626" stroke-width="0.35" xml:space="preserve">-400</text>
<text x="46.9 57.3 72.8 88.3" y="659" font-size="30.28" fill="#262626" stroke="#262626" stroke-width="0.35" xml:space="preserve">-600</text>
<text transform="translate(36 648) rotate(-90)" x="-0.6 22 37.8 46.8 71.1" y="0" font-size="30.62" fill="#262626" stroke="#262626" stroke-width="0.35">Up/mm</text>
<path d="M1036.6 230V223M1036.6 71.6V78.6M1096.7 230V223M1096.7 71.6V78.6M1156.9 230V223M1156.9 71.6V78.6M1217.1 230V223M1217.1 71.6V78.6M1277.3 230V223M1277.3 71.6V78.6M1337.4 230V223M1337.4 71.6V78.6M1397.6 230V223M1397.6 71.6V78.6M1457.8 230V223M1457.8 71.6V78.6M1518 230V223M1518 71.6V78.6M1578.1 230V223M1578.1 71.6V78.6M976.4 90.5H983.4M1638.3 90.5H1631.3M976.4 125.4H983.4M1638.3 125.4H1631.3M976.4 160.3H983.4M1638.3 160.3H1631.3M976.4 195.2H983.4M1638.3 195.2H1631.3" stroke="#7a7a7a" stroke-width="1.3" fill="none"/>
<rect x="976.4" y="71.6" width="661.9" height="158.4" stroke="#7a7a7a" stroke-width="1.6" fill="none"/>
<text x="943.5 960.1 976.7 993.3" y="261.9" font-size="31.56" fill="#262626" stroke="#262626" stroke-width="0.35" xml:space="preserve">2010</text>
<text x="1063.9 1080.6 1097.4 1114.2" y="261.9" font-size="31.56" fill="#262626" stroke="#262626" stroke-width="0.35" xml:space="preserve">2012</text>
<text x="1184.2 1200.6 1216.9 1233.3" y="261.9" font-size="31.56" fill="#262626" stroke="#262626" stroke-width="0.35" xml:space="preserve">2014</text>
<text x="1304.5 1321.1 1337.6 1354.1" y="261.9" font-size="31.56" fill="#262626" stroke="#262626" stroke-width="0.35" xml:space="preserve">2016</text>
<text x="1424.9 1441.5 1458.1 1474.7" y="261.9" font-size="31.56" fill="#262626" stroke="#262626" stroke-width="0.35" xml:space="preserve">2018</text>
<text x="1545.2 1561.8 1578.4 1595" y="261.9" font-size="31.56" fill="#262626" stroke="#262626" stroke-width="0.35" xml:space="preserve">2020</text>
<text x="948.4" y="97.6" font-size="32.52" fill="#262626" stroke="#262626" stroke-width="0.35" xml:space="preserve">0</text>
<text x="920.6 931.4 947.6" y="134.6" font-size="32.36" fill="#262626" stroke="#262626" stroke-width="0.35" xml:space="preserve">-20</text>
<text x="920.6 931.4 947.6" y="170.2" font-size="32.36" fill="#262626" stroke="#262626" stroke-width="0.35" xml:space="preserve">-40</text>
<text x="920.6 931.4 947.6" y="205.3" font-size="32.36" fill="#262626" stroke="#262626" stroke-width="0.35" xml:space="preserve">-60</text>
<text transform="translate(898.6 218) rotate(-90)" x="-0.9 21.7 37.7 48.7 58 74 83.3 107.6" y="0" font-size="29.85" fill="#262626" stroke="#262626" stroke-width="0.35">North/mm</text>
<path d="M1036.6 460.1V453.1M1036.6 302.6V309.6M1096.7 460.1V453.1M1096.7 302.6V309.6M1156.9 460.1V453.1M1156.9 302.6V309.6M1217.1 460.1V453.1M1217.1 302.6V309.6M1277.3 460.1V453.1M1277.3 302.6V309.6M1337.4 460.1V453.1M1337.4 302.6V309.6M1397.6 460.1V453.1M1397.6 302.6V309.6M1457.8 460.1V453.1M1457.8 302.6V309.6M1518 460.1V453.1M1518 302.6V309.6M1578.1 460.1V453.1M1578.1 302.6V309.6M976.4 308.8H983.4M1638.3 308.8H1631.3M976.4 353.9H983.4M1638.3 353.9H1631.3M976.4 399H983.4M1638.3 399H1631.3M976.4 444.1H983.4M1638.3 444.1H1631.3" stroke="#7a7a7a" stroke-width="1.3" fill="none"/>
<rect x="976.4" y="302.6" width="661.9" height="157.5" stroke="#7a7a7a" stroke-width="1.6" fill="none"/>
<text x="943.6 960.3 977.1 993.9" y="487.8" font-size="30.28" fill="#262626" stroke="#262626" stroke-width="0.35" xml:space="preserve">2010</text>
<text x="1063.9 1080.9 1097.8 1114.8" y="487.8" font-size="30.28" fill="#262626" stroke="#262626" stroke-width="0.35" xml:space="preserve">2012</text>
<text x="1184.3 1200.8 1217.4 1233.9" y="487.8" font-size="30.28" fill="#262626" stroke="#262626" stroke-width="0.35" xml:space="preserve">2014</text>
<text x="1304.6 1321.3 1338 1354.7" y="487.8" font-size="30.28" fill="#262626" stroke="#262626" stroke-width="0.35" xml:space="preserve">2016</text>
<text x="1425 1441.7 1458.5 1475.3" y="487.8" font-size="30.28" fill="#262626" stroke="#262626" stroke-width="0.35" xml:space="preserve">2018</text>
<text x="1545.3 1562.1 1578.9 1595.6" y="487.8" font-size="30.28" fill="#262626" stroke="#262626" stroke-width="0.35" xml:space="preserve">2020</text>
<text x="918.5 934.4 950.3" y="319" font-size="31.88" fill="#262626" stroke="#262626" stroke-width="0.35" xml:space="preserve">300</text>
<text x="917.6 933.9 950.3" y="363.6" font-size="31.88" fill="#262626" stroke="#262626" stroke-width="0.35" xml:space="preserve">200</text>
<text x="918.2 934.2 950.3" y="409" font-size="31.88" fill="#262626" stroke="#262626" stroke-width="0.35" xml:space="preserve">100</text>
<text x="948.8" y="454" font-size="31.88" fill="#262626" stroke="#262626" stroke-width="0.35" xml:space="preserve">0</text>
<text transform="translate(898.6 441) rotate(-90)" x="-0.9 18.5 32.6 44.9 53.6 62.3 87.2" y="0" font-size="32.29" fill="#262626" stroke="#262626" stroke-width="0.35">East/mm</text>
<path d="M1036.6 678.3V671.3M1036.6 521.4V528.4M1096.7 678.3V671.3M1096.7 521.4V528.4M1156.9 678.3V671.3M1156.9 521.4V528.4M1217.1 678.3V671.3M1217.1 521.4V528.4M1277.3 678.3V671.3M1277.3 521.4V528.4M1337.4 678.3V671.3M1337.4 521.4V528.4M1397.6 678.3V671.3M1397.6 521.4V528.4M1457.8 678.3V671.3M1457.8 521.4V528.4M1518 678.3V671.3M1518 521.4V528.4M1578.1 678.3V671.3M1578.1 521.4V528.4M976.4 536.1H983.4M1638.3 536.1H1631.3M976.4 581.3H983.4M1638.3 581.3H1631.3M976.4 626.4H983.4M1638.3 626.4H1631.3M976.4 671.8H983.4M1638.3 671.8H1631.3" stroke="#7a7a7a" stroke-width="1.3" fill="none"/>
<rect x="976.4" y="521.4" width="661.9" height="156.9" stroke="#7a7a7a" stroke-width="1.6" fill="none"/>
<text x="943.5 960.3 977 993.7" y="707.8" font-size="30.76" fill="#262626" stroke="#262626" stroke-width="0.35" xml:space="preserve">2010</text>
<text x="1063.9 1080.8 1097.7 1114.6" y="707.8" font-size="30.76" fill="#262626" stroke="#262626" stroke-width="0.35" xml:space="preserve">2012</text>
<text x="1184.2 1200.7 1217.2 1233.7" y="707.8" font-size="30.76" fill="#262626" stroke="#262626" stroke-width="0.35" xml:space="preserve">2014</text>
<text x="1304.6 1321.2 1337.8 1354.5" y="707.8" font-size="30.76" fill="#262626" stroke="#262626" stroke-width="0.35" xml:space="preserve">2016</text>
<text x="1424.9 1441.6 1458.4 1475.1" y="707.8" font-size="30.76" fill="#262626" stroke="#262626" stroke-width="0.35" xml:space="preserve">2018</text>
<text x="1545.3 1562 1578.7 1595.4" y="707.8" font-size="30.76" fill="#262626" stroke="#262626" stroke-width="0.35" xml:space="preserve">2020</text>
<text x="948.8" y="546.5" font-size="31.88" fill="#262626" stroke="#262626" stroke-width="0.35" xml:space="preserve">0</text>
<text x="907.8 918.4 934.3 950.3" y="591.5" font-size="31.88" fill="#262626" stroke="#262626" stroke-width="0.35" xml:space="preserve">-200</text>
<text x="907.8 918.4 934.3 950.3" y="636.5" font-size="31.88" fill="#262626" stroke="#262626" stroke-width="0.35" xml:space="preserve">-400</text>
<text x="909.8 920.4 936.3 952.3" y="681.5" font-size="31.88" fill="#262626" stroke="#262626" stroke-width="0.35" xml:space="preserve">-600</text>
<text transform="translate(898.3 644.3) rotate(-90)" x="-0.7 21.8 37.1 45.4 69.6" y="0" font-size="31.88" fill="#262626" stroke="#262626" stroke-width="0.35">Up/mm</text>
<path d="M173.7 984.4V977.4M173.7 807.1V814.1M242.1 984.4V977.4M242.1 807.1V814.1M310.4 984.4V977.4M310.4 807.1V814.1M378.8 984.4V977.4M378.8 807.1V814.1M447.1 984.4V977.4M447.1 807.1V814.1M515.4 984.4V977.4M515.4 807.1V814.1M583.8 984.4V977.4M583.8 807.1V814.1M652.1 984.4V977.4M652.1 807.1V814.1M720.5 984.4V977.4M720.5 807.1V814.1M105.4 825.1H112.4M788.8 825.1H781.8M105.4 904.6H112.4M788.8 904.6H781.8M105.4 984.2H112.4M788.8 984.2H781.8" stroke="#7a7a7a" stroke-width="1.3" fill="none"/>
<rect x="105.4" y="807.1" width="683.4" height="177.3" stroke="#7a7a7a" stroke-width="1.6" fill="none"/>
<text x="72.4 88.8 105.1 121.4" y="1015.6" font-size="33.47" fill="#262626" stroke="#262626" stroke-width="0.35" xml:space="preserve">2010</text>
<text x="209.1 225.6 242.2 258.7" y="1015.6" font-size="33.47" fill="#262626" stroke="#262626" stroke-width="0.35" xml:space="preserve">2012</text>
<text x="345.8 361.9 378 394" y="1015.6" font-size="33.47" fill="#262626" stroke="#262626" stroke-width="0.35" xml:space="preserve">2014</text>
<text x="482.5 498.7 515 531.2" y="1015.6" font-size="33.47" fill="#262626" stroke="#262626" stroke-width="0.35" xml:space="preserve">2016</text>
<text x="619.1 635.5 651.8 668.2" y="1015.6" font-size="33.47" fill="#262626" stroke="#262626" stroke-width="0.35" xml:space="preserve">2018</text>
<text x="755.8 772.2 788.5 804.8" y="1015.6" font-size="33.47" fill="#262626" stroke="#262626" stroke-width="0.35" xml:space="preserve">2020</text>
<text x="79.3" y="832.7" font-size="32.67" fill="#262626" stroke="#262626" stroke-width="0.35" xml:space="preserve">0</text>
<text x="54.1 65.1 81.5" y="911.1" font-size="32.67" fill="#262626" stroke="#262626" stroke-width="0.35" xml:space="preserve">-50</text>
<text x="40.2 51.7 68.2 84.6" y="987.3" font-size="29.81" fill="#262626" stroke="#262626" stroke-width="0.35" xml:space="preserve">-100</text>
<text transform="translate(25.7 958.7) rotate(-90)" x="-0.8 21.9 38.2 49.7 59.6 75.9 85.7 110.1" y="0" font-size="28.99" fill="#262626" stroke="#262626" stroke-width="0.35">North/mm</text>
<path d="M173.7 1236.6V1229.6M173.7 1057.4V1064.4M242.1 1236.6V1229.6M242.1 1057.4V1064.4M310.4 1236.6V1229.6M310.4 1057.4V1064.4M378.8 1236.6V1229.6M378.8 1057.4V1064.4M447.1 1236.6V1229.6M447.1 1057.4V1064.4M515.4 1236.6V1229.6M515.4 1057.4V1064.4M583.8 1236.6V1229.6M583.8 1057.4V1064.4M652.1 1236.6V1229.6M652.1 1057.4V1064.4M720.5 1236.6V1229.6M720.5 1057.4V1064.4M105.4 1087.1H112.4M788.8 1087.1H781.8M105.4 1131.3H112.4M788.8 1131.3H781.8M105.4 1175.4H112.4M788.8 1175.4H781.8M105.4 1219.6H112.4M788.8 1219.6H781.8" stroke="#7a7a7a" stroke-width="1.3" fill="none"/>
<rect x="105.4" y="1057.4" width="683.4" height="179.2" stroke="#7a7a7a" stroke-width="1.6" fill="none"/>
<text x="72.4 88.8 105.1 121.4" y="1266.8" font-size="33.47" fill="#262626" stroke="#262626" stroke-width="0.35" xml:space="preserve">2010</text>
<text x="209.1 225.6 242.2 258.7" y="1266.8" font-size="33.47" fill="#262626" stroke="#262626" stroke-width="0.35" xml:space="preserve">2012</text>
<text x="345.8 361.9 378 394" y="1266.8" font-size="33.47" fill="#262626" stroke="#262626" stroke-width="0.35" xml:space="preserve">2014</text>
<text x="482.5 498.7 515 531.2" y="1266.8" font-size="33.47" fill="#262626" stroke="#262626" stroke-width="0.35" xml:space="preserve">2016</text>
<text x="619.1 635.5 651.8 668.2" y="1266.8" font-size="33.47" fill="#262626" stroke="#262626" stroke-width="0.35" xml:space="preserve">2018</text>
<text x="755.8 772.2 788.5 804.8" y="1266.8" font-size="33.47" fill="#262626" stroke="#262626" stroke-width="0.35" xml:space="preserve">2020</text>
<text x="46.1 62.6 79.2" y="1098.2" font-size="30.60" fill="#262626" stroke="#262626" stroke-width="0.35" xml:space="preserve">300</text>
<text x="45.5 62.2 78.8" y="1142" font-size="31.40" fill="#262626" stroke="#262626" stroke-width="0.35" xml:space="preserve">200</text>
<text x="46.6 62.7 78.8" y="1186.5" font-size="31.40" fill="#262626" stroke="#262626" stroke-width="0.35" xml:space="preserve">100</text>
<text x="79.6" y="1231" font-size="33.47" fill="#262626" stroke="#262626" stroke-width="0.35" xml:space="preserve">0</text>
<text transform="translate(26.3 1189) rotate(-90)" x="-0.9 18.8 33.2 45.8 54.7 63.7 88.9" y="0" font-size="32.44" fill="#262626" stroke="#262626" stroke-width="0.35">East/mm</text>
<path d="M173.7 1487.3V1480.3M173.7 1309V1316M242.1 1487.3V1480.3M242.1 1309V1316M310.4 1487.3V1480.3M310.4 1309V1316M378.8 1487.3V1480.3M378.8 1309V1316M447.1 1487.3V1480.3M447.1 1309V1316M515.4 1487.3V1480.3M515.4 1309V1316M583.8 1487.3V1480.3M583.8 1309V1316M652.1 1487.3V1480.3M652.1 1309V1316M720.5 1487.3V1480.3M720.5 1309V1316M105.4 1330.2H112.4M788.8 1330.2H781.8M105.4 1371.4H112.4M788.8 1371.4H781.8M105.4 1412.6H112.4M788.8 1412.6H781.8M105.4 1453.7H112.4M788.8 1453.7H781.8" stroke="#7a7a7a" stroke-width="1.3" fill="none"/>
<rect x="105.4" y="1309" width="683.4" height="178.3" stroke="#7a7a7a" stroke-width="1.6" fill="none"/>
<text x="72.5 89.1 105.6 122.2" y="1514" font-size="31.88" fill="#262626" stroke="#262626" stroke-width="0.35" xml:space="preserve">2010</text>
<text x="209.2 225.9 242.7 259.4" y="1514" font-size="31.88" fill="#262626" stroke="#262626" stroke-width="0.35" xml:space="preserve">2012</text>
<text x="345.9 362.2 378.5 394.8" y="1514" font-size="31.88" fill="#262626" stroke="#262626" stroke-width="0.35" xml:space="preserve">2014</text>
<text x="482.5 499 515.5 532" y="1514" font-size="31.88" fill="#262626" stroke="#262626" stroke-width="0.35" xml:space="preserve">2016</text>
<text x="619.2 635.8 652.3 668.9" y="1514" font-size="31.88" fill="#262626" stroke="#262626" stroke-width="0.35" xml:space="preserve">2018</text>
<text x="755.9 772.5 789 805.6" y="1514" font-size="31.88" fill="#262626" stroke="#262626" stroke-width="0.35" xml:space="preserve">2020</text>
<text x="81.7" y="1339" font-size="29.49" fill="#262626" stroke="#262626" stroke-width="0.35" xml:space="preserve">0</text>
<text x="37.8 49.2 65.8 82.3" y="1380.4" font-size="30.44" fill="#262626" stroke="#262626" stroke-width="0.35" xml:space="preserve">-100</text>
<text x="37.7 48.4 64.6 80.9" y="1423" font-size="33.47" fill="#262626" stroke="#262626" stroke-width="0.35" xml:space="preserve">-200</text>
<text x="37.1 48.5 65.2 81.8" y="1463.8" font-size="31.56" fill="#262626" stroke="#262626" stroke-width="0.35" xml:space="preserve">-300</text>
<text transform="translate(25.9 1436.7) rotate(-90)" x="-0.7 21.9 37.5 45.9 70.3" y="0" font-size="31.88" fill="#262626" stroke="#262626" stroke-width="0.35">Up/mm</text>
<path d="M1039.6 996.3V989.3M1039.6 826.5V833.5M1104.9 996.3V989.3M1104.9 826.5V833.5M1170.2 996.3V989.3M1170.2 826.5V833.5M1235.5 996.3V989.3M1235.5 826.5V833.5M1300.8 996.3V989.3M1300.8 826.5V833.5M1366 996.3V989.3M1366 826.5V833.5M1431.3 996.3V989.3M1431.3 826.5V833.5M1496.6 996.3V989.3M1496.6 826.5V833.5M1561.9 996.3V989.3M1561.9 826.5V833.5M974.3 847.2H981.3M1627.2 847.2H1620.2M974.3 909.9H981.3M1627.2 909.9H1620.2M974.3 972.2H981.3M1627.2 972.2H1620.2" stroke="#7a7a7a" stroke-width="1.3" fill="none"/>
<rect x="974.3" y="826.5" width="652.9" height="169.8" stroke="#7a7a7a" stroke-width="1.6" fill="none"/>
<text x="941.8 958.3 974.8 991.3" y="1024.1" font-size="30.60" fill="#262626" stroke="#262626" stroke-width="0.35" xml:space="preserve">2010</text>
<text x="1072.4 1089.1 1105.7 1122.4" y="1024.1" font-size="30.60" fill="#262626" stroke="#262626" stroke-width="0.35" xml:space="preserve">2012</text>
<text x="1203 1219.2 1235.5 1251.8" y="1024.1" font-size="30.60" fill="#262626" stroke="#262626" stroke-width="0.35" xml:space="preserve">2014</text>
<text x="1333.5 1350 1366.4 1382.8" y="1024.1" font-size="30.60" fill="#262626" stroke="#262626" stroke-width="0.35" xml:space="preserve">2016</text>
<text x="1464.1 1480.6 1497.1 1513.6" y="1024.1" font-size="30.60" fill="#262626" stroke="#262626" stroke-width="0.35" xml:space="preserve">2018</text>
<text x="1594.7 1611.2 1627.7 1644.2" y="1024.1" font-size="30.60" fill="#262626" stroke="#262626" stroke-width="0.35" xml:space="preserve">2020</text>
<text x="947.1" y="854.9" font-size="31.56" fill="#262626" stroke="#262626" stroke-width="0.35" xml:space="preserve">0</text>
<text x="921.9 932.6 948.4" y="918.5" font-size="30.44" fill="#262626" stroke="#262626" stroke-width="0.35" xml:space="preserve">-50</text>
<text x="907.7 918 933.5 949" y="980.3" font-size="30.60" fill="#262626" stroke="#262626" stroke-width="0.35" xml:space="preserve">-100</text>
<text transform="translate(894.3 975.3) rotate(-90)" x="-0.8 21.3 37 47.8 57 72.7 82 105.7" y="0" font-size="28.99" fill="#262626" stroke="#262626" stroke-width="0.35">North/mm</text>
<path d="M1039.6 1236.6V1229.6M1039.6 1065.5V1072.5M1104.9 1236.6V1229.6M1104.9 1065.5V1072.5M1170.2 1236.6V1229.6M1170.2 1065.5V1072.5M1235.5 1236.6V1229.6M1235.5 1065.5V1072.5M1300.8 1236.6V1229.6M1300.8 1065.5V1072.5M1366 1236.6V1229.6M1366 1065.5V1072.5M1431.3 1236.6V1229.6M1431.3 1065.5V1072.5M1496.6 1236.6V1229.6M1496.6 1065.5V1072.5M1561.9 1236.6V1229.6M1561.9 1065.5V1072.5M974.3 1090.5H981.3M1627.2 1090.5H1620.2M974.3 1134.4H981.3M1627.2 1134.4H1620.2M974.3 1178.3H981.3M1627.2 1178.3H1620.2M974.3 1222H981.3M1627.2 1222H1620.2" stroke="#7a7a7a" stroke-width="1.3" fill="none"/>
<rect x="974.3" y="1065.5" width="652.9" height="171.1" stroke="#7a7a7a" stroke-width="1.6" fill="none"/>
<text x="941.8 958.3 974.9 991.4" y="1263.7" font-size="30.44" fill="#262626" stroke="#262626" stroke-width="0.35" xml:space="preserve">2010</text>
<text x="1072.4 1089.1 1105.8 1122.5" y="1263.7" font-size="30.44" fill="#262626" stroke="#262626" stroke-width="0.35" xml:space="preserve">2012</text>
<text x="1203 1219.3 1235.6 1251.9" y="1263.7" font-size="30.44" fill="#262626" stroke="#262626" stroke-width="0.35" xml:space="preserve">2014</text>
<text x="1333.6 1350 1366.4 1382.9" y="1263.7" font-size="30.44" fill="#262626" stroke="#262626" stroke-width="0.35" xml:space="preserve">2016</text>
<text x="1464.1 1480.7 1497.2 1513.7" y="1263.7" font-size="30.44" fill="#262626" stroke="#262626" stroke-width="0.35" xml:space="preserve">2018</text>
<text x="1594.7 1611.2 1627.8 1644.3" y="1263.7" font-size="30.44" fill="#262626" stroke="#262626" stroke-width="0.35" xml:space="preserve">2020</text>
<text x="918.4 934.1 949.8" y="1098.8" font-size="31.56" fill="#262626" stroke="#262626" stroke-width="0.35" xml:space="preserve">300</text>
<text x="917.9 933.9 949.8" y="1143.3" font-size="31.56" fill="#262626" stroke="#262626" stroke-width="0.35" xml:space="preserve">200</text>
<text x="919.6 934.8 949.9" y="1186.5" font-size="31.40" fill="#262626" stroke="#262626" stroke-width="0.35" xml:space="preserve">100</text>
<text x="949.6" y="1230.4" font-size="31.56" fill="#262626" stroke="#262626" stroke-width="0.35" xml:space="preserve">0</text>
<text transform="translate(894.3 1196.4) rotate(-90)" x="-0.9 18.1 31.9 44 52.5 61.1 85.4" y="0" font-size="31.39" fill="#262626" stroke="#262626" stroke-width="0.35">East/mm</text>
<path d="M1039.6 1476.2V1469.2M1039.6 1305.7V1312.7M1104.9 1476.2V1469.2M1104.9 1305.7V1312.7M1170.2 1476.2V1469.2M1170.2 1305.7V1312.7M1235.5 1476.2V1469.2M1235.5 1305.7V1312.7M1300.8 1476.2V1469.2M1300.8 1305.7V1312.7M1366 1476.2V1469.2M1366 1305.7V1312.7M1431.3 1476.2V1469.2M1431.3 1305.7V1312.7M1496.6 1476.2V1469.2M1496.6 1305.7V1312.7M1561.9 1476.2V1469.2M1561.9 1305.7V1312.7M974.3 1326.7H981.3M1627.2 1326.7H1620.2M974.3 1366.9H981.3M1627.2 1366.9H1620.2M974.3 1406.8H981.3M1627.2 1406.8H1620.2M974.3 1446.8H981.3M1627.2 1446.8H1620.2" stroke="#7a7a7a" stroke-width="1.3" fill="none"/>
<rect x="974.3" y="1305.7" width="652.9" height="170.5" stroke="#7a7a7a" stroke-width="1.6" fill="none"/>
<text x="941.8 958.5 975.1 991.8" y="1504" font-size="29.65" fill="#262626" stroke="#262626" stroke-width="0.35" xml:space="preserve">2010</text>
<text x="1072.4 1089.2 1106 1122.8" y="1504" font-size="29.65" fill="#262626" stroke="#262626" stroke-width="0.35" xml:space="preserve">2012</text>
<text x="1203 1219.4 1235.8 1252.3" y="1504" font-size="29.65" fill="#262626" stroke="#262626" stroke-width="0.35" xml:space="preserve">2014</text>
<text x="1333.6 1350.1 1366.7 1383.2" y="1504" font-size="29.65" fill="#262626" stroke="#262626" stroke-width="0.35" xml:space="preserve">2016</text>
<text x="1464.2 1480.8 1497.4 1514.1" y="1504" font-size="29.65" fill="#262626" stroke="#262626" stroke-width="0.35" xml:space="preserve">2018</text>
<text x="1594.7 1611.4 1628 1644.7" y="1504" font-size="29.65" fill="#262626" stroke="#262626" stroke-width="0.35" xml:space="preserve">2020</text>
<text x="949.6" y="1336.6" font-size="30.60" fill="#262626" stroke="#262626" stroke-width="0.35" xml:space="preserve">0</text>
<text x="907 917.4 933 948.6" y="1376.7" font-size="31.40" fill="#262626" stroke="#262626" stroke-width="0.35" xml:space="preserve">-100</text>
<text x="907 917.3 932.9 948.5" y="1416.9" font-size="31.56" fill="#262626" stroke="#262626" stroke-width="0.35" xml:space="preserve">-200</text>
<text x="907 917.3 932.9 948.5" y="1457.7" font-size="31.56" fill="#262626" stroke="#262626" stroke-width="0.35" xml:space="preserve">-300</text>
<text transform="translate(893.6 1433.6) rotate(-90)" x="-0.6 21.4 36.7 45.2 68.9" y="0" font-size="30.39" fill="#262626" stroke="#262626" stroke-width="0.35">Up/mm</text>
<path d="M173.9 1796V1789M173.9 1618V1625M242.1 1796V1789M242.1 1618V1625M310.4 1796V1789M310.4 1618V1625M378.7 1796V1789M378.7 1618V1625M446.9 1796V1789M446.9 1618V1625M515.2 1796V1789M515.2 1618V1625M583.5 1796V1789M583.5 1618V1625M651.8 1796V1789M651.8 1618V1625M720 1796V1789M720 1618V1625M105.6 1633.9H112.6M788.3 1633.9H781.3M105.6 1699.1H112.6M788.3 1699.1H781.3M105.6 1764.3H112.6M788.3 1764.3H781.3" stroke="#7a7a7a" stroke-width="1.3" fill="none"/>
<rect x="105.6" y="1618" width="682.7" height="178" stroke="#7a7a7a" stroke-width="1.6" fill="none"/>
<text x="72.8 89.2 105.6 122.1" y="1822.7" font-size="32.36" fill="#262626" stroke="#262626" stroke-width="0.35" xml:space="preserve">2010</text>
<text x="209.3 225.9 242.5 259.1" y="1822.7" font-size="32.36" fill="#262626" stroke="#262626" stroke-width="0.35" xml:space="preserve">2012</text>
<text x="345.9 362 378.2 394.4" y="1822.7" font-size="32.36" fill="#262626" stroke="#262626" stroke-width="0.35" xml:space="preserve">2014</text>
<text x="482.4 498.7 515.1 531.4" y="1822.7" font-size="32.36" fill="#262626" stroke="#262626" stroke-width="0.35" xml:space="preserve">2016</text>
<text x="618.9 635.4 651.8 668.2" y="1822.7" font-size="32.36" fill="#262626" stroke="#262626" stroke-width="0.35" xml:space="preserve">2018</text>
<text x="755.5 771.9 788.3 804.8" y="1822.7" font-size="32.36" fill="#262626" stroke="#262626" stroke-width="0.35" xml:space="preserve">2020</text>
<text x="82.8" y="1639.2" font-size="32.52" fill="#262626" stroke="#262626" stroke-width="0.35" xml:space="preserve">0</text>
<text x="55.6 66.7 83.1" y="1705.9" font-size="31.40" fill="#262626" stroke="#262626" stroke-width="0.35" xml:space="preserve">-50</text>
<text x="40.9 52.1 68.4 84.7" y="1771.4" font-size="30.60" fill="#262626" stroke="#262626" stroke-width="0.35" xml:space="preserve">-100</text>
<text transform="translate(30 1772.6) rotate(-90)" x="-0.9 22 38.1 49 58.2 74.3 83.5 108.1" y="0" font-size="30.84" fill="#262626" stroke="#262626" stroke-width="0.35">North/mm</text>
<path d="M173.9 2047.6V2040.6M173.9 1868.4V1875.4M242.1 2047.6V2040.6M242.1 1868.4V1875.4M310.4 2047.6V2040.6M310.4 1868.4V1875.4M378.7 2047.6V2040.6M378.7 1868.4V1875.4M446.9 2047.6V2040.6M446.9 1868.4V1875.4M515.2 2047.6V2040.6M515.2 1868.4V1875.4M583.5 2047.6V2040.6M583.5 1868.4V1875.4M651.8 2047.6V2040.6M651.8 1868.4V1875.4M720 2047.6V2040.6M720 1868.4V1875.4M105.6 1896H112.6M788.3 1896H781.3M105.6 1941H112.6M788.3 1941H781.3M105.6 1986.2H112.6M788.3 1986.2H781.3M105.6 2030.9H112.6M788.3 2030.9H781.3" stroke="#7a7a7a" stroke-width="1.3" fill="none"/>
<rect x="105.6" y="1868.4" width="682.7" height="179.2" stroke="#7a7a7a" stroke-width="1.6" fill="none"/>
<text x="72.8 89.2 105.6 122" y="2076" font-size="32.52" fill="#262626" stroke="#262626" stroke-width="0.35" xml:space="preserve">2010</text>
<text x="209.3 225.9 242.5 259.1" y="2076" font-size="32.52" fill="#262626" stroke="#262626" stroke-width="0.35" xml:space="preserve">2012</text>
<text x="345.9 362 378.2 394.3" y="2076" font-size="32.52" fill="#262626" stroke="#262626" stroke-width="0.35" xml:space="preserve">2014</text>
<text x="482.4 498.7 515 531.3" y="2076" font-size="32.52" fill="#262626" stroke="#262626" stroke-width="0.35" xml:space="preserve">2016</text>
<text x="618.9 635.3 651.7 668.1" y="2076" font-size="32.52" fill="#262626" stroke="#262626" stroke-width="0.35" xml:space="preserve">2018</text>
<text x="755.5 771.9 788.3 804.7" y="2076" font-size="32.52" fill="#262626" stroke="#262626" stroke-width="0.35" xml:space="preserve">2020</text>
<text x="49.1 65.5 81.8" y="1902.4" font-size="31.56" fill="#262626" stroke="#262626" stroke-width="0.35" xml:space="preserve">300</text>
<text x="49.2 65.5 81.8" y="1946.9" font-size="31.56" fill="#262626" stroke="#262626" stroke-width="0.35" xml:space="preserve">200</text>
<text x="50.3 66.1 81.8" y="1992" font-size="31.56" fill="#262626" stroke="#262626" stroke-width="0.35" xml:space="preserve">100</text>
<text x="82.8" y="2037.1" font-size="31.56" fill="#262626" stroke="#262626" stroke-width="0.35" xml:space="preserve">0</text>
<text transform="translate(30 2005.6) rotate(-90)" x="-0.9 18.7 33 45.5 54.4 63.3 88.4" y="0" font-size="32.44" fill="#262626" stroke="#262626" stroke-width="0.35">East/mm</text>
<path d="M173.9 2298.2V2291.2M173.9 2119.4V2126.4M242.1 2298.2V2291.2M242.1 2119.4V2126.4M310.4 2298.2V2291.2M310.4 2119.4V2126.4M378.7 2298.2V2291.2M378.7 2119.4V2126.4M446.9 2298.2V2291.2M446.9 2119.4V2126.4M515.2 2298.2V2291.2M515.2 2119.4V2126.4M583.5 2298.2V2291.2M583.5 2119.4V2126.4M651.8 2298.2V2291.2M651.8 2119.4V2126.4M720 2298.2V2291.2M720 2119.4V2126.4M105.6 2142.2H112.6M788.3 2142.2H781.3M105.6 2185.2H112.6M788.3 2185.2H781.3M105.6 2228H112.6M788.3 2228H781.3M105.6 2270.8H112.6M788.3 2270.8H781.3" stroke="#7a7a7a" stroke-width="1.3" fill="none"/>
<rect x="105.6" y="2119.4" width="682.7" height="178.8" stroke="#7a7a7a" stroke-width="1.6" fill="none"/>
<text x="72.8 89.3 105.7 122.2" y="2325.6" font-size="32.04" fill="#262626" stroke="#262626" stroke-width="0.35" xml:space="preserve">2010</text>
<text x="209.3 226 242.6 259.3" y="2325.6" font-size="32.04" fill="#262626" stroke="#262626" stroke-width="0.35" xml:space="preserve">2012</text>
<text x="345.9 362.1 378.3 394.6" y="2325.6" font-size="32.04" fill="#262626" stroke="#262626" stroke-width="0.35" xml:space="preserve">2014</text>
<text x="482.4 498.8 515.2 531.6" y="2325.6" font-size="32.04" fill="#262626" stroke="#262626" stroke-width="0.35" xml:space="preserve">2016</text>
<text x="619 635.4 651.9 668.4" y="2325.6" font-size="32.04" fill="#262626" stroke="#262626" stroke-width="0.35" xml:space="preserve">2018</text>
<text x="755.5 772 788.4 804.9" y="2325.6" font-size="32.04" fill="#262626" stroke="#262626" stroke-width="0.35" xml:space="preserve">2020</text>
<text x="84.5" y="2149.2" font-size="30.12" fill="#262626" stroke="#262626" stroke-width="0.35" xml:space="preserve">0</text>
<text x="40.6 51.5 67.5 83.6" y="2191.7" font-size="31.24" fill="#262626" stroke="#262626" stroke-width="0.35" xml:space="preserve">-100</text>
<text x="40.7 51.7 67.9 84" y="2234.2" font-size="30.28" fill="#262626" stroke="#262626" stroke-width="0.35" xml:space="preserve">-200</text>
<text x="40.6 51.5 67.5 83.6" y="2277.3" font-size="31.24" fill="#262626" stroke="#262626" stroke-width="0.35" xml:space="preserve">-300</text>
<text transform="translate(29.7 2253.8) rotate(-90)" x="-0.7 22.1 37.8 46.2 70.8" y="0" font-size="32.22" fill="#262626" stroke="#262626" stroke-width="0.35">Up/mm</text>
<path d="M1035.6 1804.5V1797.5M1035.6 1632.5V1639.5M1101.3 1804.5V1797.5M1101.3 1632.5V1639.5M1166.9 1804.5V1797.5M1166.9 1632.5V1639.5M1232.6 1804.5V1797.5M1232.6 1632.5V1639.5M1298.3 1804.5V1797.5M1298.3 1632.5V1639.5M1364 1804.5V1797.5M1364 1632.5V1639.5M1429.7 1804.5V1797.5M1429.7 1632.5V1639.5M1495.3 1804.5V1797.5M1495.3 1632.5V1639.5M1561 1804.5V1797.5M1561 1632.5V1639.5M969.9 1650.3H976.9M1626.7 1650.3H1619.7M969.9 1709.7H976.9M1626.7 1709.7H1619.7M969.9 1769H976.9M1626.7 1769H1619.7" stroke="#7a7a7a" stroke-width="1.3" fill="none"/>
<rect x="969.9" y="1632.5" width="656.8" height="172" stroke="#7a7a7a" stroke-width="1.6" fill="none"/>
<text x="937.9 954.3 970.6 986.9" y="1830.3" font-size="29.65" fill="#262626" stroke="#262626" stroke-width="0.35" xml:space="preserve">2010</text>
<text x="1069.3 1085.8 1102.3 1118.7" y="1830.3" font-size="29.65" fill="#262626" stroke="#262626" stroke-width="0.35" xml:space="preserve">2012</text>
<text x="1200.7 1216.7 1232.8 1248.9" y="1830.3" font-size="29.65" fill="#262626" stroke="#262626" stroke-width="0.35" xml:space="preserve">2014</text>
<text x="1332 1348.2 1364.5 1380.7" y="1830.3" font-size="29.65" fill="#262626" stroke="#262626" stroke-width="0.35" xml:space="preserve">2016</text>
<text x="1463.4 1479.7 1496 1512.3" y="1830.3" font-size="29.65" fill="#262626" stroke="#262626" stroke-width="0.35" xml:space="preserve">2018</text>
<text x="1594.7 1611.1 1627.4 1643.7" y="1830.3" font-size="29.65" fill="#262626" stroke="#262626" stroke-width="0.35" xml:space="preserve">2020</text>
<text x="947.1" y="1659.1" font-size="30.44" fill="#262626" stroke="#262626" stroke-width="0.35" xml:space="preserve">0</text>
<text x="920.6 931.1 946.8" y="1719.6" font-size="31.40" fill="#262626" stroke="#262626" stroke-width="0.35" xml:space="preserve">-50</text>
<text x="905.8 916.4 932.1 947.8" y="1778.3" font-size="30.44" fill="#262626" stroke="#262626" stroke-width="0.35" xml:space="preserve">-100</text>
<text transform="translate(894.3 1801.2) rotate(-90)" x="-0.9 21.7 37.7 48.7 58.1 74 83.4 107.7" y="0" font-size="29.85" fill="#262626" stroke="#262626" stroke-width="0.35">North/mm</text>
<path d="M1035.6 2045.2V2038.2M1035.6 1874.1V1881.1M1101.3 2045.2V2038.2M1101.3 1874.1V1881.1M1166.9 2045.2V2038.2M1166.9 1874.1V1881.1M1232.6 2045.2V2038.2M1232.6 1874.1V1881.1M1298.3 2045.2V2038.2M1298.3 1874.1V1881.1M1364 2045.2V2038.2M1364 1874.1V1881.1M1429.7 2045.2V2038.2M1429.7 1874.1V1881.1M1495.3 2045.2V2038.2M1495.3 1874.1V1881.1M1561 2045.2V2038.2M1561 1874.1V1881.1M969.9 1900.7H976.9M1626.7 1900.7H1619.7M969.9 1943.3H976.9M1626.7 1943.3H1619.7M969.9 1986.3H976.9M1626.7 1986.3H1619.7M969.9 2029.2H976.9M1626.7 2029.2H1619.7" stroke="#7a7a7a" stroke-width="1.3" fill="none"/>
<rect x="969.9" y="1874.1" width="656.8" height="171.1" stroke="#7a7a7a" stroke-width="1.6" fill="none"/>
<text x="938 954.3 970.6 986.9" y="2068" font-size="29.49" fill="#262626" stroke="#262626" stroke-width="0.35" xml:space="preserve">2010</text>
<text x="1069.3 1085.8 1102.3 1118.8" y="2068" font-size="29.49" fill="#262626" stroke="#262626" stroke-width="0.35" xml:space="preserve">2012</text>
<text x="1200.7 1216.8 1232.9 1249" y="2068" font-size="29.49" fill="#262626" stroke="#262626" stroke-width="0.35" xml:space="preserve">2014</text>
<text x="1332 1348.3 1364.5 1380.8" y="2068" font-size="29.49" fill="#262626" stroke="#262626" stroke-width="0.35" xml:space="preserve">2016</text>
<text x="1463.4 1479.7 1496 1512.4" y="2068" font-size="29.49" fill="#262626" stroke="#262626" stroke-width="0.35" xml:space="preserve">2018</text>
<text x="1594.8 1611.1 1627.4 1643.7" y="2068" font-size="29.49" fill="#262626" stroke="#262626" stroke-width="0.35" xml:space="preserve">2020</text>
<text x="917.3 933 948.8" y="1910.6" font-size="29.65" fill="#262626" stroke="#262626" stroke-width="0.35" xml:space="preserve">300</text>
<text x="916.7 932.4 948" y="1954.4" font-size="31.40" fill="#262626" stroke="#262626" stroke-width="0.35" xml:space="preserve">200</text>
<text x="917.8 933.1 948.4" y="1997" font-size="30.44" fill="#262626" stroke="#262626" stroke-width="0.35" xml:space="preserve">100</text>
<text x="947.7" y="2037.8" font-size="30.44" fill="#262626" stroke="#262626" stroke-width="0.35" xml:space="preserve">0</text>
<text transform="translate(894.3 2021.1) rotate(-90)" x="-0.9 18.2 32.1 44.3 52.9 61.6 86" y="0" font-size="31.39" fill="#262626" stroke="#262626" stroke-width="0.35">East/mm</text>
<path d="M1035.6 2287.5V2280.5M1035.6 2115.9V2122.9M1101.3 2287.5V2280.5M1101.3 2115.9V2122.9M1166.9 2287.5V2280.5M1166.9 2115.9V2122.9M1232.6 2287.5V2280.5M1232.6 2115.9V2122.9M1298.3 2287.5V2280.5M1298.3 2115.9V2122.9M1364 2287.5V2280.5M1364 2115.9V2122.9M1429.7 2287.5V2280.5M1429.7 2115.9V2122.9M1495.3 2287.5V2280.5M1495.3 2115.9V2122.9M1561 2287.5V2280.5M1561 2115.9V2122.9M969.9 2148.6H976.9M1626.7 2148.6H1619.7M969.9 2192.4H976.9M1626.7 2192.4H1619.7M969.9 2236.1H976.9M1626.7 2236.1H1619.7M969.9 2279.9H976.9M1626.7 2279.9H1619.7" stroke="#7a7a7a" stroke-width="1.3" fill="none"/>
<rect x="969.9" y="2115.9" width="656.8" height="171.6" stroke="#7a7a7a" stroke-width="1.6" fill="none"/>
<text x="938 954.3 970.6 986.9" y="2314.6" font-size="29.49" fill="#262626" stroke="#262626" stroke-width="0.35" xml:space="preserve">2010</text>
<text x="1069.3 1085.8 1102.3 1118.8" y="2314.6" font-size="29.49" fill="#262626" stroke="#262626" stroke-width="0.35" xml:space="preserve">2012</text>
<text x="1200.7 1216.8 1232.9 1249" y="2314.6" font-size="29.49" fill="#262626" stroke="#262626" stroke-width="0.35" xml:space="preserve">2014</text>
<text x="1332 1348.3 1364.5 1380.8" y="2314.6" font-size="29.49" fill="#262626" stroke="#262626" stroke-width="0.35" xml:space="preserve">2016</text>
<text x="1463.4 1479.7 1496 1512.4" y="2314.6" font-size="29.49" fill="#262626" stroke="#262626" stroke-width="0.35" xml:space="preserve">2018</text>
<text x="1594.8 1611.1 1627.4 1643.7" y="2314.6" font-size="29.49" fill="#262626" stroke="#262626" stroke-width="0.35" xml:space="preserve">2020</text>
<text x="929.9 947.1" y="2159" font-size="29.17" fill="#262626" stroke="#262626" stroke-width="0.35" xml:space="preserve">20</text>
<text x="947.1" y="2202.2" font-size="28.21" fill="#262626" stroke="#262626" stroke-width="0.35" xml:space="preserve">0</text>
<text x="920.3 931.3 947.1" y="2245.9" font-size="29.17" fill="#262626" stroke="#262626" stroke-width="0.35" xml:space="preserve">-20</text>
<text x="920.4 931.6 947.6" y="2289.1" font-size="28.21" fill="#262626" stroke="#262626" stroke-width="0.35" xml:space="preserve">-40</text>
<text transform="translate(894 2238.8) rotate(-90)" x="-0.6 21.1 35.9 44 67.4" y="0" font-size="30.73" fill="#262626" stroke="#262626" stroke-width="0.35">Up/mm</text>
<text x="382.6 405.7 422.3 437.1 453.7 470.2 481.8 496.7" y="27.8" font-size="29.62" fill="#262626" stroke="#262626" stroke-width="0.35" xml:space="preserve">Guangrao</text>
<text x="219.1 247.5 265.9 282.4 291.1 307.6 332.6" y="59.3" font-size="30.74" fill="#262626" stroke="#262626" stroke-width="0.35" xml:space="preserve">M=2.6mm</text>
<text x="384.7 403 412.6 429.1 445.6 460.4 478.9 490.2 506.7 515.5 532 550 566.5 575.3 591.8 616.9 641.9 651.6" y="59.3" font-size="30.74" fill="#262626" stroke="#262626" stroke-width="0.35" xml:space="preserve">Slope=-6.8±0.0mm/a</text>
<text x="211.2 239.4 257.7 274 282.6 298.9 323.7" y="288.7" font-size="30.60" fill="#262626" stroke="#262626" stroke-width="0.35" xml:space="preserve">M=3.0mm</text>
<text x="377.2 395.4 405.1 421.6 438.1 452.9 471.4 489.9 506.4 522.9 531.8 548.3 566.3 582.8 591.7 608.2 633.2 658.2 667.9" y="288.7" font-size="30.60" fill="#262626" stroke="#262626" stroke-width="0.35" xml:space="preserve">Slope=+31.4±0.0mm/a</text>
<text x="211.2 239.4 257.7 273.9 282.5 298.8 323.6" y="506.9" font-size="30.74" fill="#262626" stroke="#262626" stroke-width="0.35" xml:space="preserve">M=6.1mm</text>
<text x="377.1 395.4 405.1 421.7 438.3 453.1 471.6 483 499.6 516.1 525 541.5 559.6 576.1 585 601.6 626.7 651.8 661.5" y="506.9" font-size="30.74" fill="#262626" stroke="#262626" stroke-width="0.35" xml:space="preserve">Slope=-85.2±0.1mm/a</text>
<text x="389.5 408.7 418 442.1 456.4 464.9 474.2 490.1" y="730.5" font-size="29.62" fill="#262626" stroke="#262626" stroke-width="0.35" xml:space="preserve">Time /yr</text>
<text x="781.3" y="32.6" font-size="29.00" fill="#000" stroke="#262626" stroke-width="0.35" xml:space="preserve">a</text>
<text x="1238.2 1256.6 1273.3 1290 1306.7 1323.4 1340.1 1355.1 1371.8" y="27.2" font-size="30.10" fill="#262626" stroke="#262626" stroke-width="0.35" xml:space="preserve">Shouguang</text>
<text x="1081.4 1109.5 1127.6 1143.7 1152.1 1168.2 1192.8" y="59.4" font-size="30.90" fill="#262626" stroke="#262626" stroke-width="0.35" xml:space="preserve">M=2.9mm</text>
<text x="1254.4 1272.6 1282.1 1298.5 1314.9 1329.6 1348 1359.3 1375.7 1384.3 1400.8 1418.7 1435.1 1443.8 1460.2 1485.2 1510.2 1519.7" y="59.4" font-size="30.90" fill="#262626" stroke="#262626" stroke-width="0.35" xml:space="preserve">Slope=-5.1±0.0mm/a</text>
<text x="1071.2 1099.5 1117.6 1133.7 1141.9 1158 1182.9" y="293.3" font-size="31.54" fill="#262626" stroke="#262626" stroke-width="0.35" xml:space="preserve">M=3.3mm</text>
<text x="1236.4 1254.7 1264.2 1280.7 1297.3 1312 1330.6 1349.1 1365.7 1382.2 1390.8 1407.4 1425.4 1442 1450.6 1467.1 1492.4 1517.7 1527.2" y="293.3" font-size="31.54" fill="#262626" stroke="#262626" stroke-width="0.35" xml:space="preserve">Slope=+25.0±0.1mm/a</text>
<text x="1071.2 1099.3 1117.6 1134 1142.9 1159.4 1184.1" y="513.7" font-size="29.94" fill="#262626" stroke="#262626" stroke-width="0.35" xml:space="preserve">M=6.5mm</text>
<text x="1236.5 1254.7 1264.5 1281 1297.5 1312.3 1330.7 1342.2 1358.7 1375.2 1384.2 1400.7 1418.7 1435.2 1444.2 1460.7 1485.5 1510.3 1520.1" y="513.7" font-size="29.94" fill="#262626" stroke="#262626" stroke-width="0.35" xml:space="preserve">Slope=-63.6±0.2mm/a</text>
<text x="1244.4 1263.2 1272.2 1296 1309.9 1318.1 1327.2 1342.7" y="733" font-size="29.46" fill="#262626" stroke="#262626" stroke-width="0.35" xml:space="preserve">Time /yr</text>
<text x="1636.6" y="26.2" font-size="29.00" fill="#000" stroke="#262626" stroke-width="0.35" xml:space="preserve">b</text>
<text x="400.1 422.9 437.7 452.5 468.9 485.4" y="763.9" font-size="28.87" fill="#262626" stroke="#262626" stroke-width="0.35" xml:space="preserve">Dezhou</text>
<text x="193.4 220 228.3 245.6 253.8 269.3 277.6 293 301.3 324.7" y="795.2" font-size="28.82" fill="#262626" stroke="#262626" stroke-width="0.35" xml:space="preserve">M = 2.6 mm</text>
<text x="376.9 394.4 403.9 419.8 435.7 450 458.8 476.5 485.2 496.3 512.2 521 536.9 554.2 562.9 578.8 587.5 603.4 612.1 636.1 660 669.5" y="795.2" font-size="28.82" fill="#262626" stroke="#262626" stroke-width="0.35" xml:space="preserve">Slope = -8.6± 0.0 mm/a</text>
<text x="181.3 208.1 216.4 233.8 242.1 257.7 266 281.5 289.8 313.4" y="1047.1" font-size="28.98" fill="#262626" stroke="#262626" stroke-width="0.35" xml:space="preserve">M = 3.1 mm</text>
<text x="364.9 382.3 391.6 407.4 423.2 437.3 445.9 463.5 472.1 489.7 505.5 521.3 529.8 545.6 554.1 571.3 579.9 595.7 604.2 620 628.5 652.4 676.2 685.5" y="1047.1" font-size="28.98" fill="#262626" stroke="#262626" stroke-width="0.35" xml:space="preserve">Slope = +33.1 ± 0.0 mm/a</text>
<text x="184.5 211.1 219.2 236.3 244.4 259.7 267.8 283.2 291.2 314.6" y="1299.1" font-size="28.98" fill="#262626" stroke="#262626" stroke-width="0.35" xml:space="preserve">M = 6.3 mm</text>
<text x="368.1 385.6 395 410.9 426.8 441 449.6 467.4 476 487 502.9 518.8 527.4 543.3 551.9 569.2 585.1 593.7 609.6 618.2 642.2 666.1 675.5" y="1299.1" font-size="28.98" fill="#262626" stroke="#262626" stroke-width="0.35" xml:space="preserve">Slope = -34.8 ±0.1 mm/a</text>
<text x="394.5 413.6 422.6 446.8 460.8 469.1 478.2 493.9" y="1539.4" font-size="30.10" fill="#262626" stroke="#262626" stroke-width="0.35" xml:space="preserve">Time /yr</text>
<text x="785.9" y="763.9" font-size="28.50" fill="#000" stroke="#262626" stroke-width="0.35" xml:space="preserve">c</text>
<text x="1238.4 1255.9 1271.8 1286.1 1302 1317.9 1327.5 1341.8" y="776.8" font-size="28.26" fill="#262626" stroke="#262626" stroke-width="0.35" xml:space="preserve">Shanxian</text>
<text x="1057.1 1082.9 1090.4 1106.9 1114.3 1129 1136.5 1151.1 1158.6 1181.2" y="814.9" font-size="28.82" fill="#262626" stroke="#262626" stroke-width="0.35" xml:space="preserve">M = 2.7 mm</text>
<text x="1232.6 1249.3 1258 1273.1 1288.2 1301.7 1309.6 1326.5 1334.4 1344.7 1359.8 1374.9 1382.8 1398 1405.9 1422.4 1430.3 1445.4 1453.3 1468.4 1476.3 1499.4 1522.5 1531.2" y="814.9" font-size="28.82" fill="#262626" stroke="#262626" stroke-width="0.35" xml:space="preserve">Slope = -11.1 ± 0.0 mm/a</text>
<text x="1050.3 1076.2 1083.8 1100.3 1107.9 1122.6 1130.1 1144.9 1152.4 1175.1" y="1054.9" font-size="28.82" fill="#262626" stroke="#262626" stroke-width="0.35" xml:space="preserve">M = 3.2 mm</text>
<text x="1225.8 1242.5 1251.3 1266.5 1281.6 1295.1 1303.1 1320.1 1328 1345 1360.2 1375.4 1383.3 1398.5 1406.4 1423 1430.9 1446.1 1454 1469.2 1477.1 1500.3 1523.5 1532.2" y="1054.9" font-size="28.82" fill="#262626" stroke="#262626" stroke-width="0.35" xml:space="preserve">Slope = +34.2 ± 0.0 mm/a</text>
<text x="1055.6 1082 1089.2 1105.8 1113 1127.7 1134.9 1149.6 1156.8 1179.8" y="1298" font-size="29.94" fill="#262626" stroke="#262626" stroke-width="0.35" xml:space="preserve">M = 6.7 mm</text>
<text x="1231.1 1248 1256.5 1271.7 1286.9 1300.4 1308.2 1325.3 1333 1343.2 1358.4 1373.6 1381.3 1396.5 1404.2 1420.9 1428.6 1443.8 1451.5 1466.7 1474.4 1498 1521.5 1530" y="1298" font-size="29.94" fill="#262626" stroke="#262626" stroke-width="0.35" xml:space="preserve">Slope = -35.4 ± 0.1 mm/a</text>
<text x="1252.2 1270.4 1278.7 1301.8 1315.1 1322.7 1331 1345.9" y="1528.4" font-size="29.46" fill="#262626" stroke="#262626" stroke-width="0.35" xml:space="preserve">Time /yr</text>
<text x="1626.4" y="776.6" font-size="27.00" fill="#000" stroke="#262626" stroke-width="0.35" xml:space="preserve">d</text>
<text x="377.8 401.1 417.3 433.6 449.8 474.8 484.1 500.3" y="1571.5" font-size="31.54" fill="#262626" stroke="#262626" stroke-width="0.35" xml:space="preserve">Dongming</text>
<text x="186.7 213.4 221.4 238.6 246.7 262 270 285.4 293.4 316.9" y="1607.3" font-size="29.30" fill="#262626" stroke="#262626" stroke-width="0.35" xml:space="preserve">M = 2.6 mm</text>
<text x="369.3 386.9 396.3 412.2 428.2 442.5 451.1 468.8 477.4 488.5 504.4 520.3 528.9 544.9 553.5 570.8 586.7 595.3 611.3 619.9 643.9 668 677.4" y="1607.3" font-size="29.30" fill="#262626" stroke="#262626" stroke-width="0.35" xml:space="preserve">Slope = -10.6 ±0.0 mm/a</text>
<text x="181.3 208 216.2 233.5 241.7 257.2 265.4 280.9 289.1 312.6" y="1857.1" font-size="28.98" fill="#262626" stroke="#262626" stroke-width="0.35" xml:space="preserve">M = 3.1 mm</text>
<text x="364.9 382.4 391.9 407.7 423.6 437.9 446.6 464.3 473 490.7 506.6 522.5 531.2 547.1 555.7 573.1 589 597.6 613.5 622.2 646.1 670.1 679.5" y="1857.1" font-size="28.98" fill="#262626" stroke="#262626" stroke-width="0.35" xml:space="preserve">Slope = +32.3 ±0.0 mm/a</text>
<text x="182.1 208.8 217 234.3 242.6 258.1 266.3 281.8 290.1 313.5" y="2108.3" font-size="28.82" fill="#262626" stroke="#262626" stroke-width="0.35" xml:space="preserve">M = 6.5 mm</text>
<text x="365.7 383.2 392.7 408.5 424.4 438.7 447.4 465.1 473.8 484.9 500.8 516.6 525.3 541.2 549.9 567.2 583.1 591.8 607.7 616.3 640.2 664.1 673.6" y="2108.3" font-size="28.82" fill="#262626" stroke="#262626" stroke-width="0.35" xml:space="preserve">Slope = -35.1 ±0.1 mm/a</text>
<text x="400.4 419.5 428.5 452.7 466.7 475 484.1 499.8" y="2348.4" font-size="30.10" fill="#262626" stroke="#262626" stroke-width="0.35" xml:space="preserve">Time /yr</text>
<text x="786.3" y="1570.1" font-size="28.50" fill="#000" stroke="#262626" stroke-width="0.35" xml:space="preserve">e</text>
<text x="1258.2 1276.6 1290.2 1298.9 1309.2 1322.8" y="1581.4" font-size="29.33" fill="#262626" stroke="#262626" stroke-width="0.35" xml:space="preserve">Tai’an</text>
<text x="1044.4 1070.8 1078.3 1095 1102.5 1117.4 1124.8 1139.7 1147.1 1170.2" y="1622.9" font-size="29.62" fill="#262626" stroke="#262626" stroke-width="0.35" xml:space="preserve">M = 3.1 mm</text>
<text x="1221.2 1238.2 1246.9 1262.1 1277.4 1291 1298.9 1316.1 1323.9 1334.3 1349.6 1364.8 1372.7 1388 1395.9 1412.6 1420.4 1435.7 1443.6 1458.9 1466.7 1490.3 1513.8 1522.5" y="1622.9" font-size="29.62" fill="#262626" stroke="#262626" stroke-width="0.35" xml:space="preserve">Slope = -11.0 ± 0.0 mm/a</text>
<text x="1043.5 1069.5 1076.8 1093.3 1100.6 1115.2 1122.5 1137.1 1144.3 1167.1" y="1866.3" font-size="29.46" fill="#262626" stroke="#262626" stroke-width="0.35" xml:space="preserve">M = 3.5 mm</text>
<text x="1219.9 1236.8 1245.4 1260.6 1275.8 1289.4 1297.2 1314.3 1322.1 1339.2 1354.4 1369.6 1377.5 1392.7 1400.5 1417.2 1425 1432.8 1448 1455.9 1471.1 1478.9 1502.3 1525.7 1534.3" y="1866.3" font-size="29.46" fill="#262626" stroke="#262626" stroke-width="0.35" xml:space="preserve">Slope = +32.3 ±  0.0 mm/a</text>
<text x="1053.6 1080.5 1087.4 1104.1 1111 1125.7 1132.6 1147.3 1154.1 1177.6" y="2108" font-size="31.40" fill="#262626" stroke="#262626" stroke-width="0.35" xml:space="preserve">M = 8.0 mm</text>
<text x="1230 1247.1 1255.5 1270.8 1286.2 1299.8 1307.3 1324.7 1332.2 1349.5 1364.9 1372.4 1387.7 1395.2 1412.1 1419.6 1435 1442.5 1457.9 1465.4 1489.4 1513.5 1521.9" y="2108" font-size="31.40" fill="#262626" stroke="#262626" stroke-width="0.35" xml:space="preserve">Slope = +1.4 ± 0.1 mm/a</text>
<text x="1250.4 1268.8 1277.4 1300.8 1314.3 1322.1 1330.7 1345.9" y="2340" font-size="29.62" fill="#262626" stroke="#262626" stroke-width="0.35" xml:space="preserve">Time /yr</text>
<text x="1624.5" y="1581.2" font-size="28.50" fill="#000" stroke="#262626" stroke-width="0.35" xml:space="preserve">f</text></svg></body></html>
